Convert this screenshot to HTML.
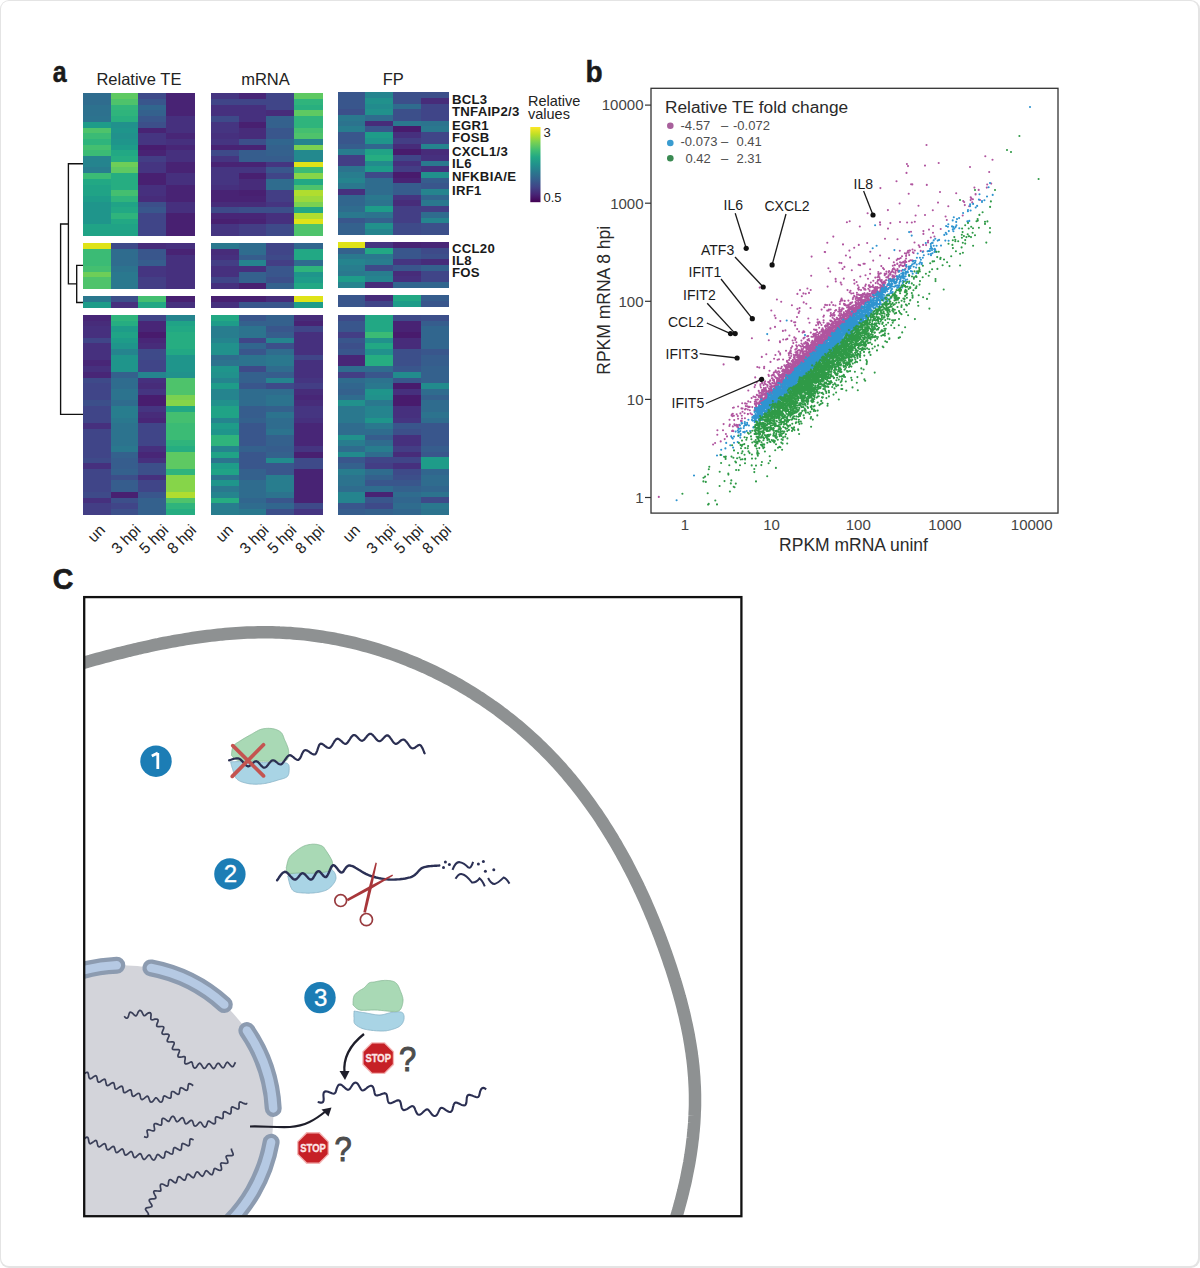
<!DOCTYPE html><html><head><meta charset="utf-8"><style>html,body{margin:0;padding:0;background:#fff;}svg{display:block;}text{font-family:"Liberation Sans",sans-serif;}</style></head><body>
<svg width="1200" height="1268" viewBox="0 0 1200 1268">
<rect x="0" y="0" width="1200" height="1268" fill="#fff"/>
<rect x="0" y="0" width="1200" height="1268" rx="9" ry="9" fill="#e4e4e4"/>
<rect x="1" y="0.9" width="1197" height="1265.1" rx="8" ry="8" fill="#fff"/>
<g shape-rendering="crispEdges"><rect x="83.20" y="93.40" width="27.70" height="6.00" fill="#2f6c8e"/><rect x="83.20" y="99.10" width="27.70" height="6.00" fill="#2f6c8e"/><rect x="83.20" y="104.79" width="27.70" height="6.00" fill="#2d718e"/><rect x="83.20" y="110.49" width="27.70" height="6.00" fill="#2d718e"/><rect x="83.20" y="116.18" width="27.70" height="6.00" fill="#2c738e"/><rect x="83.20" y="121.88" width="27.70" height="6.00" fill="#1e9c89"/><rect x="83.20" y="127.58" width="27.70" height="6.00" fill="#4ec36b"/><rect x="83.20" y="133.27" width="27.70" height="6.00" fill="#3bbb75"/><rect x="83.20" y="138.97" width="27.70" height="6.00" fill="#2fb47c"/><rect x="83.20" y="144.66" width="27.70" height="6.00" fill="#44bf70"/><rect x="83.20" y="150.36" width="27.70" height="6.00" fill="#3bbb75"/><rect x="83.20" y="156.06" width="27.70" height="6.00" fill="#25848e"/><rect x="83.20" y="161.75" width="27.70" height="6.00" fill="#25848e"/><rect x="83.20" y="167.45" width="27.70" height="6.00" fill="#287d8e"/><rect x="83.20" y="173.14" width="27.70" height="6.00" fill="#3bbb75"/><rect x="83.20" y="178.84" width="27.70" height="6.00" fill="#22a884"/><rect x="83.20" y="184.54" width="27.70" height="6.00" fill="#20a386"/><rect x="83.20" y="190.23" width="27.70" height="6.00" fill="#20a386"/><rect x="83.20" y="195.93" width="27.70" height="6.00" fill="#1e9c89"/><rect x="83.20" y="201.62" width="27.70" height="6.00" fill="#1f958b"/><rect x="83.20" y="207.32" width="27.70" height="6.00" fill="#1f958b"/><rect x="83.20" y="213.02" width="27.70" height="6.00" fill="#1f958b"/><rect x="83.20" y="218.71" width="27.70" height="6.00" fill="#1f958b"/><rect x="83.20" y="224.41" width="27.70" height="6.00" fill="#20a386"/><rect x="83.20" y="230.10" width="27.70" height="5.70" fill="#20a386"/><rect x="110.60" y="93.40" width="27.80" height="6.00" fill="#5ec962"/><rect x="110.60" y="99.10" width="27.80" height="6.00" fill="#4ec36b"/><rect x="110.60" y="104.79" width="27.80" height="6.00" fill="#32b67a"/><rect x="110.60" y="110.49" width="27.80" height="6.00" fill="#2fb47c"/><rect x="110.60" y="116.18" width="27.80" height="6.00" fill="#29af7f"/><rect x="110.60" y="121.88" width="27.80" height="6.00" fill="#21918c"/><rect x="110.60" y="127.58" width="27.80" height="6.00" fill="#1f958b"/><rect x="110.60" y="133.27" width="27.80" height="6.00" fill="#21918c"/><rect x="110.60" y="138.97" width="27.80" height="6.00" fill="#1f958b"/><rect x="110.60" y="144.66" width="27.80" height="6.00" fill="#1e9c89"/><rect x="110.60" y="150.36" width="27.80" height="6.00" fill="#22a884"/><rect x="110.60" y="156.06" width="27.80" height="6.00" fill="#26ad81"/><rect x="110.60" y="161.75" width="27.80" height="6.00" fill="#6ece58"/><rect x="110.60" y="167.45" width="27.80" height="6.00" fill="#5ec962"/><rect x="110.60" y="173.14" width="27.80" height="6.00" fill="#26ad81"/><rect x="110.60" y="178.84" width="27.80" height="6.00" fill="#26ad81"/><rect x="110.60" y="184.54" width="27.80" height="6.00" fill="#26ad81"/><rect x="110.60" y="190.23" width="27.80" height="6.00" fill="#44bf70"/><rect x="110.60" y="195.93" width="27.80" height="6.00" fill="#2fb47c"/><rect x="110.60" y="201.62" width="27.80" height="6.00" fill="#20a386"/><rect x="110.60" y="207.32" width="27.80" height="6.00" fill="#22a884"/><rect x="110.60" y="213.02" width="27.80" height="6.00" fill="#2fb47c"/><rect x="110.60" y="218.71" width="27.80" height="6.00" fill="#22a884"/><rect x="110.60" y="224.41" width="27.80" height="6.00" fill="#20a386"/><rect x="110.60" y="230.10" width="27.80" height="5.70" fill="#20a386"/><rect x="138.10" y="93.40" width="28.20" height="6.00" fill="#3e4a89"/><rect x="138.10" y="99.10" width="28.20" height="6.00" fill="#39568c"/><rect x="138.10" y="104.79" width="28.20" height="6.00" fill="#31668e"/><rect x="138.10" y="110.49" width="28.20" height="6.00" fill="#34618d"/><rect x="138.10" y="116.18" width="28.20" height="6.00" fill="#39568c"/><rect x="138.10" y="121.88" width="28.20" height="6.00" fill="#3c4f8a"/><rect x="138.10" y="127.58" width="28.20" height="6.00" fill="#482374"/><rect x="138.10" y="133.27" width="28.20" height="6.00" fill="#453581"/><rect x="138.10" y="138.97" width="28.20" height="6.00" fill="#453581"/><rect x="138.10" y="144.66" width="28.20" height="6.00" fill="#481d6f"/><rect x="138.10" y="150.36" width="28.20" height="6.00" fill="#482374"/><rect x="138.10" y="156.06" width="28.20" height="6.00" fill="#433e85"/><rect x="138.10" y="161.75" width="28.20" height="6.00" fill="#453581"/><rect x="138.10" y="167.45" width="28.20" height="6.00" fill="#453581"/><rect x="138.10" y="173.14" width="28.20" height="6.00" fill="#482071"/><rect x="138.10" y="178.84" width="28.20" height="6.00" fill="#482071"/><rect x="138.10" y="184.54" width="28.20" height="6.00" fill="#46307e"/><rect x="138.10" y="190.23" width="28.20" height="6.00" fill="#46307e"/><rect x="138.10" y="195.93" width="28.20" height="6.00" fill="#472c7a"/><rect x="138.10" y="201.62" width="28.20" height="6.00" fill="#3c4f8a"/><rect x="138.10" y="207.32" width="28.20" height="6.00" fill="#39568c"/><rect x="138.10" y="213.02" width="28.20" height="6.00" fill="#404588"/><rect x="138.10" y="218.71" width="28.20" height="6.00" fill="#404588"/><rect x="138.10" y="224.41" width="28.20" height="6.00" fill="#404588"/><rect x="138.10" y="230.10" width="28.20" height="5.70" fill="#404588"/><rect x="166.00" y="93.40" width="28.60" height="6.00" fill="#482374"/><rect x="166.00" y="99.10" width="28.60" height="6.00" fill="#482374"/><rect x="166.00" y="104.79" width="28.60" height="6.00" fill="#482374"/><rect x="166.00" y="110.49" width="28.60" height="6.00" fill="#482374"/><rect x="166.00" y="116.18" width="28.60" height="6.00" fill="#46307e"/><rect x="166.00" y="121.88" width="28.60" height="6.00" fill="#46307e"/><rect x="166.00" y="127.58" width="28.60" height="6.00" fill="#46307e"/><rect x="166.00" y="133.27" width="28.60" height="6.00" fill="#482677"/><rect x="166.00" y="138.97" width="28.60" height="6.00" fill="#46307e"/><rect x="166.00" y="144.66" width="28.60" height="6.00" fill="#482677"/><rect x="166.00" y="150.36" width="28.60" height="6.00" fill="#46307e"/><rect x="166.00" y="156.06" width="28.60" height="6.00" fill="#46307e"/><rect x="166.00" y="161.75" width="28.60" height="6.00" fill="#482374"/><rect x="166.00" y="167.45" width="28.60" height="6.00" fill="#482374"/><rect x="166.00" y="173.14" width="28.60" height="6.00" fill="#46307e"/><rect x="166.00" y="178.84" width="28.60" height="6.00" fill="#46307e"/><rect x="166.00" y="184.54" width="28.60" height="6.00" fill="#482374"/><rect x="166.00" y="190.23" width="28.60" height="6.00" fill="#482374"/><rect x="166.00" y="195.93" width="28.60" height="6.00" fill="#482374"/><rect x="166.00" y="201.62" width="28.60" height="6.00" fill="#46307e"/><rect x="166.00" y="207.32" width="28.60" height="6.00" fill="#46307e"/><rect x="166.00" y="213.02" width="28.60" height="6.00" fill="#482071"/><rect x="166.00" y="218.71" width="28.60" height="6.00" fill="#482071"/><rect x="166.00" y="224.41" width="28.60" height="6.00" fill="#482071"/><rect x="166.00" y="230.10" width="28.60" height="5.70" fill="#482071"/><rect x="83.20" y="243.20" width="27.70" height="6.00" fill="#dfe318"/><rect x="83.20" y="248.90" width="27.70" height="6.00" fill="#3bbb75"/><rect x="83.20" y="254.60" width="27.70" height="6.00" fill="#3bbb75"/><rect x="83.20" y="260.30" width="27.70" height="6.00" fill="#3bbb75"/><rect x="83.20" y="266.00" width="27.70" height="6.00" fill="#44bf70"/><rect x="83.20" y="271.70" width="27.70" height="6.00" fill="#6ece58"/><rect x="83.20" y="277.40" width="27.70" height="6.00" fill="#4ec36b"/><rect x="83.20" y="283.10" width="27.70" height="5.70" fill="#4ec36b"/><rect x="110.60" y="243.20" width="27.80" height="6.00" fill="#3e4a89"/><rect x="110.60" y="248.90" width="27.80" height="6.00" fill="#2f6c8e"/><rect x="110.60" y="254.60" width="27.80" height="6.00" fill="#2f6c8e"/><rect x="110.60" y="260.30" width="27.80" height="6.00" fill="#2f6c8e"/><rect x="110.60" y="266.00" width="27.80" height="6.00" fill="#2c738e"/><rect x="110.60" y="271.70" width="27.80" height="6.00" fill="#2a788e"/><rect x="110.60" y="277.40" width="27.80" height="6.00" fill="#2a788e"/><rect x="110.60" y="283.10" width="27.80" height="5.70" fill="#2a788e"/><rect x="138.10" y="243.20" width="28.20" height="6.00" fill="#472c7a"/><rect x="138.10" y="248.90" width="28.20" height="6.00" fill="#39568c"/><rect x="138.10" y="254.60" width="28.20" height="6.00" fill="#39568c"/><rect x="138.10" y="260.30" width="28.20" height="6.00" fill="#365d8d"/><rect x="138.10" y="266.00" width="28.20" height="6.00" fill="#453581"/><rect x="138.10" y="271.70" width="28.20" height="6.00" fill="#453581"/><rect x="138.10" y="277.40" width="28.20" height="6.00" fill="#433e85"/><rect x="138.10" y="283.10" width="28.20" height="5.70" fill="#433e85"/><rect x="166.00" y="243.20" width="28.60" height="6.00" fill="#46307e"/><rect x="166.00" y="248.90" width="28.60" height="6.00" fill="#482374"/><rect x="166.00" y="254.60" width="28.60" height="6.00" fill="#46307e"/><rect x="166.00" y="260.30" width="28.60" height="6.00" fill="#46307e"/><rect x="166.00" y="266.00" width="28.60" height="6.00" fill="#46307e"/><rect x="166.00" y="271.70" width="28.60" height="6.00" fill="#46307e"/><rect x="166.00" y="277.40" width="28.60" height="6.00" fill="#46307e"/><rect x="166.00" y="283.10" width="28.60" height="5.70" fill="#46307e"/><rect x="83.20" y="296.00" width="27.70" height="6.05" fill="#2a788e"/><rect x="83.20" y="301.75" width="27.70" height="5.75" fill="#1e9c89"/><rect x="110.60" y="296.00" width="27.80" height="6.05" fill="#3c4f8a"/><rect x="110.60" y="301.75" width="27.80" height="5.75" fill="#46307e"/><rect x="138.10" y="296.00" width="28.20" height="6.05" fill="#44bf70"/><rect x="138.10" y="301.75" width="28.20" height="5.75" fill="#22a884"/><rect x="166.00" y="296.00" width="28.60" height="6.05" fill="#482071"/><rect x="166.00" y="301.75" width="28.60" height="5.75" fill="#46307e"/><rect x="83.20" y="314.80" width="27.70" height="6.01" fill="#482677"/><rect x="83.20" y="320.51" width="27.70" height="6.01" fill="#472c7a"/><rect x="83.20" y="326.22" width="27.70" height="6.01" fill="#46307e"/><rect x="83.20" y="331.93" width="27.70" height="6.01" fill="#46307e"/><rect x="83.20" y="337.65" width="27.70" height="6.01" fill="#404588"/><rect x="83.20" y="343.36" width="27.70" height="6.01" fill="#46307e"/><rect x="83.20" y="349.07" width="27.70" height="6.01" fill="#46307e"/><rect x="83.20" y="354.78" width="27.70" height="6.01" fill="#46307e"/><rect x="83.20" y="360.49" width="27.70" height="6.01" fill="#482677"/><rect x="83.20" y="366.20" width="27.70" height="6.01" fill="#46307e"/><rect x="83.20" y="371.91" width="27.70" height="6.01" fill="#482677"/><rect x="83.20" y="377.63" width="27.70" height="6.01" fill="#3e4a89"/><rect x="83.20" y="383.34" width="27.70" height="6.01" fill="#404588"/><rect x="83.20" y="389.05" width="27.70" height="6.01" fill="#404588"/><rect x="83.20" y="394.76" width="27.70" height="6.01" fill="#404588"/><rect x="83.20" y="400.47" width="27.70" height="6.01" fill="#3c4f8a"/><rect x="83.20" y="406.18" width="27.70" height="6.01" fill="#404588"/><rect x="83.20" y="411.89" width="27.70" height="6.01" fill="#404588"/><rect x="83.20" y="417.61" width="27.70" height="6.01" fill="#404588"/><rect x="83.20" y="423.32" width="27.70" height="6.01" fill="#46307e"/><rect x="83.20" y="429.03" width="27.70" height="6.01" fill="#404588"/><rect x="83.20" y="434.74" width="27.70" height="6.01" fill="#404588"/><rect x="83.20" y="440.45" width="27.70" height="6.01" fill="#404588"/><rect x="83.20" y="446.16" width="27.70" height="6.01" fill="#404588"/><rect x="83.20" y="451.87" width="27.70" height="6.01" fill="#404588"/><rect x="83.20" y="457.59" width="27.70" height="6.01" fill="#3e4a89"/><rect x="83.20" y="463.30" width="27.70" height="6.01" fill="#46307e"/><rect x="83.20" y="469.01" width="27.70" height="6.01" fill="#404588"/><rect x="83.20" y="474.72" width="27.70" height="6.01" fill="#404588"/><rect x="83.20" y="480.43" width="27.70" height="6.01" fill="#404588"/><rect x="83.20" y="486.14" width="27.70" height="6.01" fill="#404588"/><rect x="83.20" y="491.85" width="27.70" height="6.01" fill="#3e4a89"/><rect x="83.20" y="497.57" width="27.70" height="6.01" fill="#46307e"/><rect x="83.20" y="503.28" width="27.70" height="6.01" fill="#433e85"/><rect x="83.20" y="508.99" width="27.70" height="5.71" fill="#433e85"/><rect x="110.60" y="314.80" width="27.80" height="6.01" fill="#2fb47c"/><rect x="110.60" y="320.51" width="27.80" height="6.01" fill="#26ad81"/><rect x="110.60" y="326.22" width="27.80" height="6.01" fill="#1e9c89"/><rect x="110.60" y="331.93" width="27.80" height="6.01" fill="#20a386"/><rect x="110.60" y="337.65" width="27.80" height="6.01" fill="#1e9c89"/><rect x="110.60" y="343.36" width="27.80" height="6.01" fill="#1f958b"/><rect x="110.60" y="349.07" width="27.80" height="6.01" fill="#25848e"/><rect x="110.60" y="354.78" width="27.80" height="6.01" fill="#1f958b"/><rect x="110.60" y="360.49" width="27.80" height="6.01" fill="#1f958b"/><rect x="110.60" y="366.20" width="27.80" height="6.01" fill="#1f958b"/><rect x="110.60" y="371.91" width="27.80" height="6.01" fill="#34618d"/><rect x="110.60" y="377.63" width="27.80" height="6.01" fill="#2f6c8e"/><rect x="110.60" y="383.34" width="27.80" height="6.01" fill="#2f6c8e"/><rect x="110.60" y="389.05" width="27.80" height="6.01" fill="#2c738e"/><rect x="110.60" y="394.76" width="27.80" height="6.01" fill="#2c738e"/><rect x="110.60" y="400.47" width="27.80" height="6.01" fill="#2f6c8e"/><rect x="110.60" y="406.18" width="27.80" height="6.01" fill="#287d8e"/><rect x="110.60" y="411.89" width="27.80" height="6.01" fill="#287d8e"/><rect x="110.60" y="417.61" width="27.80" height="6.01" fill="#2a788e"/><rect x="110.60" y="423.32" width="27.80" height="6.01" fill="#2c738e"/><rect x="110.60" y="429.03" width="27.80" height="6.01" fill="#2c738e"/><rect x="110.60" y="434.74" width="27.80" height="6.01" fill="#2c738e"/><rect x="110.60" y="440.45" width="27.80" height="6.01" fill="#2c738e"/><rect x="110.60" y="446.16" width="27.80" height="6.01" fill="#2a788e"/><rect x="110.60" y="451.87" width="27.80" height="6.01" fill="#34618d"/><rect x="110.60" y="457.59" width="27.80" height="6.01" fill="#365d8d"/><rect x="110.60" y="463.30" width="27.80" height="6.01" fill="#365d8d"/><rect x="110.60" y="469.01" width="27.80" height="6.01" fill="#34618d"/><rect x="110.60" y="474.72" width="27.80" height="6.01" fill="#3c4f8a"/><rect x="110.60" y="480.43" width="27.80" height="6.01" fill="#365d8d"/><rect x="110.60" y="486.14" width="27.80" height="6.01" fill="#365d8d"/><rect x="110.60" y="491.85" width="27.80" height="6.01" fill="#482071"/><rect x="110.60" y="497.57" width="27.80" height="6.01" fill="#3c4f8a"/><rect x="110.60" y="503.28" width="27.80" height="6.01" fill="#404588"/><rect x="110.60" y="508.99" width="27.80" height="5.71" fill="#3c4f8a"/><rect x="138.10" y="314.80" width="28.20" height="6.01" fill="#404588"/><rect x="138.10" y="320.51" width="28.20" height="6.01" fill="#482677"/><rect x="138.10" y="326.22" width="28.20" height="6.01" fill="#482677"/><rect x="138.10" y="331.93" width="28.20" height="6.01" fill="#481b6d"/><rect x="138.10" y="337.65" width="28.20" height="6.01" fill="#482677"/><rect x="138.10" y="343.36" width="28.20" height="6.01" fill="#472c7a"/><rect x="138.10" y="349.07" width="28.20" height="6.01" fill="#3e4a89"/><rect x="138.10" y="354.78" width="28.20" height="6.01" fill="#3e4a89"/><rect x="138.10" y="360.49" width="28.20" height="6.01" fill="#404588"/><rect x="138.10" y="366.20" width="28.20" height="6.01" fill="#404588"/><rect x="138.10" y="371.91" width="28.20" height="6.01" fill="#25848e"/><rect x="138.10" y="377.63" width="28.20" height="6.01" fill="#46307e"/><rect x="138.10" y="383.34" width="28.20" height="6.01" fill="#472c7a"/><rect x="138.10" y="389.05" width="28.20" height="6.01" fill="#453581"/><rect x="138.10" y="394.76" width="28.20" height="6.01" fill="#481d6f"/><rect x="138.10" y="400.47" width="28.20" height="6.01" fill="#481d6f"/><rect x="138.10" y="406.18" width="28.20" height="6.01" fill="#453581"/><rect x="138.10" y="411.89" width="28.20" height="6.01" fill="#472c7a"/><rect x="138.10" y="417.61" width="28.20" height="6.01" fill="#482677"/><rect x="138.10" y="423.32" width="28.20" height="6.01" fill="#404588"/><rect x="138.10" y="429.03" width="28.20" height="6.01" fill="#404588"/><rect x="138.10" y="434.74" width="28.20" height="6.01" fill="#404588"/><rect x="138.10" y="440.45" width="28.20" height="6.01" fill="#404588"/><rect x="138.10" y="446.16" width="28.20" height="6.01" fill="#46307e"/><rect x="138.10" y="451.87" width="28.20" height="6.01" fill="#482677"/><rect x="138.10" y="457.59" width="28.20" height="6.01" fill="#46307e"/><rect x="138.10" y="463.30" width="28.20" height="6.01" fill="#3c4f8a"/><rect x="138.10" y="469.01" width="28.20" height="6.01" fill="#3c4f8a"/><rect x="138.10" y="474.72" width="28.20" height="6.01" fill="#46307e"/><rect x="138.10" y="480.43" width="28.20" height="6.01" fill="#404588"/><rect x="138.10" y="486.14" width="28.20" height="6.01" fill="#404588"/><rect x="138.10" y="491.85" width="28.20" height="6.01" fill="#39568c"/><rect x="138.10" y="497.57" width="28.20" height="6.01" fill="#34618d"/><rect x="138.10" y="503.28" width="28.20" height="6.01" fill="#34618d"/><rect x="138.10" y="508.99" width="28.20" height="5.71" fill="#34618d"/><rect x="166.00" y="314.80" width="28.60" height="6.01" fill="#25848e"/><rect x="166.00" y="320.51" width="28.60" height="6.01" fill="#20a386"/><rect x="166.00" y="326.22" width="28.60" height="6.01" fill="#22a884"/><rect x="166.00" y="331.93" width="28.60" height="6.01" fill="#26ad81"/><rect x="166.00" y="337.65" width="28.60" height="6.01" fill="#26ad81"/><rect x="166.00" y="343.36" width="28.60" height="6.01" fill="#26ad81"/><rect x="166.00" y="349.07" width="28.60" height="6.01" fill="#22a884"/><rect x="166.00" y="354.78" width="28.60" height="6.01" fill="#1f958b"/><rect x="166.00" y="360.49" width="28.60" height="6.01" fill="#1f958b"/><rect x="166.00" y="366.20" width="28.60" height="6.01" fill="#1f958b"/><rect x="166.00" y="371.91" width="28.60" height="6.01" fill="#21918c"/><rect x="166.00" y="377.63" width="28.60" height="6.01" fill="#4ec36b"/><rect x="166.00" y="383.34" width="28.60" height="6.01" fill="#4ec36b"/><rect x="166.00" y="389.05" width="28.60" height="6.01" fill="#4ec36b"/><rect x="166.00" y="394.76" width="28.60" height="6.01" fill="#7ad151"/><rect x="166.00" y="400.47" width="28.60" height="6.01" fill="#86d549"/><rect x="166.00" y="406.18" width="28.60" height="6.01" fill="#22a884"/><rect x="166.00" y="411.89" width="28.60" height="6.01" fill="#44bf70"/><rect x="166.00" y="417.61" width="28.60" height="6.01" fill="#44bf70"/><rect x="166.00" y="423.32" width="28.60" height="6.01" fill="#3bbb75"/><rect x="166.00" y="429.03" width="28.60" height="6.01" fill="#3bbb75"/><rect x="166.00" y="434.74" width="28.60" height="6.01" fill="#3bbb75"/><rect x="166.00" y="440.45" width="28.60" height="6.01" fill="#2fb47c"/><rect x="166.00" y="446.16" width="28.60" height="6.01" fill="#26ad81"/><rect x="166.00" y="451.87" width="28.60" height="6.01" fill="#5ec962"/><rect x="166.00" y="457.59" width="28.60" height="6.01" fill="#5ec962"/><rect x="166.00" y="463.30" width="28.60" height="6.01" fill="#5ec962"/><rect x="166.00" y="469.01" width="28.60" height="6.01" fill="#2fb47c"/><rect x="166.00" y="474.72" width="28.60" height="6.01" fill="#86d549"/><rect x="166.00" y="480.43" width="28.60" height="6.01" fill="#86d549"/><rect x="166.00" y="486.14" width="28.60" height="6.01" fill="#86d549"/><rect x="166.00" y="491.85" width="28.60" height="6.01" fill="#b0dd2f"/><rect x="166.00" y="497.57" width="28.60" height="6.01" fill="#4ec36b"/><rect x="166.00" y="503.28" width="28.60" height="6.01" fill="#2fb47c"/><rect x="166.00" y="508.99" width="28.60" height="5.71" fill="#26ad81"/><rect x="211.30" y="93.40" width="27.80" height="6.00" fill="#453581"/><rect x="211.30" y="99.10" width="27.80" height="6.00" fill="#404588"/><rect x="211.30" y="104.79" width="27.80" height="6.00" fill="#46307e"/><rect x="211.30" y="110.49" width="27.80" height="6.00" fill="#46307e"/><rect x="211.30" y="116.18" width="27.80" height="6.00" fill="#3e4a89"/><rect x="211.30" y="121.88" width="27.80" height="6.00" fill="#453581"/><rect x="211.30" y="127.58" width="27.80" height="6.00" fill="#453581"/><rect x="211.30" y="133.27" width="27.80" height="6.00" fill="#46307e"/><rect x="211.30" y="138.97" width="27.80" height="6.00" fill="#453581"/><rect x="211.30" y="144.66" width="27.80" height="6.00" fill="#482374"/><rect x="211.30" y="150.36" width="27.80" height="6.00" fill="#3e4a89"/><rect x="211.30" y="156.06" width="27.80" height="6.00" fill="#453581"/><rect x="211.30" y="161.75" width="27.80" height="6.00" fill="#482374"/><rect x="211.30" y="167.45" width="27.80" height="6.00" fill="#453581"/><rect x="211.30" y="173.14" width="27.80" height="6.00" fill="#453581"/><rect x="211.30" y="178.84" width="27.80" height="6.00" fill="#453581"/><rect x="211.30" y="184.54" width="27.80" height="6.00" fill="#46307e"/><rect x="211.30" y="190.23" width="27.80" height="6.00" fill="#482374"/><rect x="211.30" y="195.93" width="27.80" height="6.00" fill="#482374"/><rect x="211.30" y="201.62" width="27.80" height="6.00" fill="#472c7a"/><rect x="211.30" y="207.32" width="27.80" height="6.00" fill="#3e4a89"/><rect x="211.30" y="213.02" width="27.80" height="6.00" fill="#482677"/><rect x="211.30" y="218.71" width="27.80" height="6.00" fill="#482071"/><rect x="211.30" y="224.41" width="27.80" height="6.00" fill="#453581"/><rect x="211.30" y="230.10" width="27.80" height="5.70" fill="#453581"/><rect x="238.80" y="93.40" width="27.40" height="6.00" fill="#482677"/><rect x="238.80" y="99.10" width="27.40" height="6.00" fill="#404588"/><rect x="238.80" y="104.79" width="27.40" height="6.00" fill="#46307e"/><rect x="238.80" y="110.49" width="27.40" height="6.00" fill="#46307e"/><rect x="238.80" y="116.18" width="27.40" height="6.00" fill="#46307e"/><rect x="238.80" y="121.88" width="27.40" height="6.00" fill="#482071"/><rect x="238.80" y="127.58" width="27.40" height="6.00" fill="#472c7a"/><rect x="238.80" y="133.27" width="27.40" height="6.00" fill="#472c7a"/><rect x="238.80" y="138.97" width="27.40" height="6.00" fill="#3c4f8a"/><rect x="238.80" y="144.66" width="27.40" height="6.00" fill="#482374"/><rect x="238.80" y="150.36" width="27.40" height="6.00" fill="#365d8d"/><rect x="238.80" y="156.06" width="27.40" height="6.00" fill="#365d8d"/><rect x="238.80" y="161.75" width="27.40" height="6.00" fill="#482374"/><rect x="238.80" y="167.45" width="27.40" height="6.00" fill="#453581"/><rect x="238.80" y="173.14" width="27.40" height="6.00" fill="#482071"/><rect x="238.80" y="178.84" width="27.40" height="6.00" fill="#472c7a"/><rect x="238.80" y="184.54" width="27.40" height="6.00" fill="#472c7a"/><rect x="238.80" y="190.23" width="27.40" height="6.00" fill="#482071"/><rect x="238.80" y="195.93" width="27.40" height="6.00" fill="#482374"/><rect x="238.80" y="201.62" width="27.40" height="6.00" fill="#472c7a"/><rect x="238.80" y="207.32" width="27.40" height="6.00" fill="#3c4f8a"/><rect x="238.80" y="213.02" width="27.40" height="6.00" fill="#482677"/><rect x="238.80" y="218.71" width="27.40" height="6.00" fill="#482374"/><rect x="238.80" y="224.41" width="27.40" height="6.00" fill="#433e85"/><rect x="238.80" y="230.10" width="27.40" height="5.70" fill="#433e85"/><rect x="265.90" y="93.40" width="28.40" height="6.00" fill="#404588"/><rect x="265.90" y="99.10" width="28.40" height="6.00" fill="#404588"/><rect x="265.90" y="104.79" width="28.40" height="6.00" fill="#404588"/><rect x="265.90" y="110.49" width="28.40" height="6.00" fill="#472c7a"/><rect x="265.90" y="116.18" width="28.40" height="6.00" fill="#34618d"/><rect x="265.90" y="121.88" width="28.40" height="6.00" fill="#34618d"/><rect x="265.90" y="127.58" width="28.40" height="6.00" fill="#39568c"/><rect x="265.90" y="133.27" width="28.40" height="6.00" fill="#39568c"/><rect x="265.90" y="138.97" width="28.40" height="6.00" fill="#31668e"/><rect x="265.90" y="144.66" width="28.40" height="6.00" fill="#34618d"/><rect x="265.90" y="150.36" width="28.40" height="6.00" fill="#34618d"/><rect x="265.90" y="156.06" width="28.40" height="6.00" fill="#365d8d"/><rect x="265.90" y="161.75" width="28.40" height="6.00" fill="#453581"/><rect x="265.90" y="167.45" width="28.40" height="6.00" fill="#39568c"/><rect x="265.90" y="173.14" width="28.40" height="6.00" fill="#404588"/><rect x="265.90" y="178.84" width="28.40" height="6.00" fill="#2f6c8e"/><rect x="265.90" y="184.54" width="28.40" height="6.00" fill="#2f6c8e"/><rect x="265.90" y="190.23" width="28.40" height="6.00" fill="#433e85"/><rect x="265.90" y="195.93" width="28.40" height="6.00" fill="#433e85"/><rect x="265.90" y="201.62" width="28.40" height="6.00" fill="#453581"/><rect x="265.90" y="207.32" width="28.40" height="6.00" fill="#3c4f8a"/><rect x="265.90" y="213.02" width="28.40" height="6.00" fill="#46307e"/><rect x="265.90" y="218.71" width="28.40" height="6.00" fill="#46307e"/><rect x="265.90" y="224.41" width="28.40" height="6.00" fill="#3e4a89"/><rect x="265.90" y="230.10" width="28.40" height="5.70" fill="#3e4a89"/><rect x="294.00" y="93.40" width="28.60" height="6.00" fill="#5ec962"/><rect x="294.00" y="99.10" width="28.60" height="6.00" fill="#2fb47c"/><rect x="294.00" y="104.79" width="28.60" height="6.00" fill="#29af7f"/><rect x="294.00" y="110.49" width="28.60" height="6.00" fill="#5ec962"/><rect x="294.00" y="116.18" width="28.60" height="6.00" fill="#2fb47c"/><rect x="294.00" y="121.88" width="28.60" height="6.00" fill="#2fb47c"/><rect x="294.00" y="127.58" width="28.60" height="6.00" fill="#44bf70"/><rect x="294.00" y="133.27" width="28.60" height="6.00" fill="#4ec36b"/><rect x="294.00" y="138.97" width="28.60" height="6.00" fill="#25848e"/><rect x="294.00" y="144.66" width="28.60" height="6.00" fill="#7ad151"/><rect x="294.00" y="150.36" width="28.60" height="6.00" fill="#23898e"/><rect x="294.00" y="156.06" width="28.60" height="6.00" fill="#23898e"/><rect x="294.00" y="161.75" width="28.60" height="6.00" fill="#dfe318"/><rect x="294.00" y="167.45" width="28.60" height="6.00" fill="#3bbb75"/><rect x="294.00" y="173.14" width="28.60" height="6.00" fill="#86d549"/><rect x="294.00" y="178.84" width="28.60" height="6.00" fill="#22a884"/><rect x="294.00" y="184.54" width="28.60" height="6.00" fill="#4ec36b"/><rect x="294.00" y="190.23" width="28.60" height="6.00" fill="#b0dd2f"/><rect x="294.00" y="195.93" width="28.60" height="6.00" fill="#9bd93c"/><rect x="294.00" y="201.62" width="28.60" height="6.00" fill="#7ad151"/><rect x="294.00" y="207.32" width="28.60" height="6.00" fill="#22a884"/><rect x="294.00" y="213.02" width="28.60" height="6.00" fill="#b0dd2f"/><rect x="294.00" y="218.71" width="28.60" height="6.00" fill="#dfe318"/><rect x="294.00" y="224.41" width="28.60" height="6.00" fill="#4ec36b"/><rect x="294.00" y="230.10" width="28.60" height="5.70" fill="#4ec36b"/><rect x="211.30" y="243.20" width="27.80" height="6.00" fill="#2a788e"/><rect x="211.30" y="248.90" width="27.80" height="6.00" fill="#472c7a"/><rect x="211.30" y="254.60" width="27.80" height="6.00" fill="#46307e"/><rect x="211.30" y="260.30" width="27.80" height="6.00" fill="#433e85"/><rect x="211.30" y="266.00" width="27.80" height="6.00" fill="#46307e"/><rect x="211.30" y="271.70" width="27.80" height="6.00" fill="#46307e"/><rect x="211.30" y="277.40" width="27.80" height="6.00" fill="#404588"/><rect x="211.30" y="283.10" width="27.80" height="5.70" fill="#46307e"/><rect x="238.80" y="243.20" width="27.40" height="6.00" fill="#2f6c8e"/><rect x="238.80" y="248.90" width="27.40" height="6.00" fill="#2f6c8e"/><rect x="238.80" y="254.60" width="27.40" height="6.00" fill="#365d8d"/><rect x="238.80" y="260.30" width="27.40" height="6.00" fill="#25848e"/><rect x="238.80" y="266.00" width="27.40" height="6.00" fill="#46307e"/><rect x="238.80" y="271.70" width="27.40" height="6.00" fill="#34618d"/><rect x="238.80" y="277.40" width="27.40" height="6.00" fill="#34618d"/><rect x="238.80" y="283.10" width="27.40" height="5.70" fill="#482071"/><rect x="265.90" y="243.20" width="28.40" height="6.00" fill="#404588"/><rect x="265.90" y="248.90" width="28.40" height="6.00" fill="#404588"/><rect x="265.90" y="254.60" width="28.40" height="6.00" fill="#3e4a89"/><rect x="265.90" y="260.30" width="28.40" height="6.00" fill="#433e85"/><rect x="265.90" y="266.00" width="28.40" height="6.00" fill="#39568c"/><rect x="265.90" y="271.70" width="28.40" height="6.00" fill="#39568c"/><rect x="265.90" y="277.40" width="28.40" height="6.00" fill="#3c4f8a"/><rect x="265.90" y="283.10" width="28.40" height="5.70" fill="#34618d"/><rect x="294.00" y="243.20" width="28.60" height="6.00" fill="#31668e"/><rect x="294.00" y="248.90" width="28.60" height="6.00" fill="#22a884"/><rect x="294.00" y="254.60" width="28.60" height="6.00" fill="#22a884"/><rect x="294.00" y="260.30" width="28.60" height="6.00" fill="#2f6c8e"/><rect x="294.00" y="266.00" width="28.60" height="6.00" fill="#2fb47c"/><rect x="294.00" y="271.70" width="28.60" height="6.00" fill="#1f958b"/><rect x="294.00" y="277.40" width="28.60" height="6.00" fill="#1e9c89"/><rect x="294.00" y="283.10" width="28.60" height="5.70" fill="#22a884"/><rect x="211.30" y="296.00" width="27.80" height="6.05" fill="#482071"/><rect x="211.30" y="301.75" width="27.80" height="5.75" fill="#46307e"/><rect x="238.80" y="296.00" width="27.40" height="6.05" fill="#482071"/><rect x="238.80" y="301.75" width="27.40" height="5.75" fill="#39568c"/><rect x="265.90" y="296.00" width="28.40" height="6.05" fill="#472c7a"/><rect x="265.90" y="301.75" width="28.40" height="5.75" fill="#39568c"/><rect x="294.00" y="296.00" width="28.60" height="6.05" fill="#dfe318"/><rect x="294.00" y="301.75" width="28.60" height="5.75" fill="#1e9c89"/><rect x="211.30" y="314.80" width="27.80" height="6.01" fill="#22a884"/><rect x="211.30" y="320.51" width="27.80" height="6.01" fill="#1e9c89"/><rect x="211.30" y="326.22" width="27.80" height="6.01" fill="#287d8e"/><rect x="211.30" y="331.93" width="27.80" height="6.01" fill="#287d8e"/><rect x="211.30" y="337.65" width="27.80" height="6.01" fill="#25848e"/><rect x="211.30" y="343.36" width="27.80" height="6.01" fill="#21918c"/><rect x="211.30" y="349.07" width="27.80" height="6.01" fill="#21918c"/><rect x="211.30" y="354.78" width="27.80" height="6.01" fill="#2f6c8e"/><rect x="211.30" y="360.49" width="27.80" height="6.01" fill="#2c738e"/><rect x="211.30" y="366.20" width="27.80" height="6.01" fill="#1f958b"/><rect x="211.30" y="371.91" width="27.80" height="6.01" fill="#21918c"/><rect x="211.30" y="377.63" width="27.80" height="6.01" fill="#25848e"/><rect x="211.30" y="383.34" width="27.80" height="6.01" fill="#1e9c89"/><rect x="211.30" y="389.05" width="27.80" height="6.01" fill="#25848e"/><rect x="211.30" y="394.76" width="27.80" height="6.01" fill="#25848e"/><rect x="211.30" y="400.47" width="27.80" height="6.01" fill="#21918c"/><rect x="211.30" y="406.18" width="27.80" height="6.01" fill="#20a386"/><rect x="211.30" y="411.89" width="27.80" height="6.01" fill="#20a386"/><rect x="211.30" y="417.61" width="27.80" height="6.01" fill="#25848e"/><rect x="211.30" y="423.32" width="27.80" height="6.01" fill="#1e9c89"/><rect x="211.30" y="429.03" width="27.80" height="6.01" fill="#1f958b"/><rect x="211.30" y="434.74" width="27.80" height="6.01" fill="#2fb47c"/><rect x="211.30" y="440.45" width="27.80" height="6.01" fill="#2fb47c"/><rect x="211.30" y="446.16" width="27.80" height="6.01" fill="#25848e"/><rect x="211.30" y="451.87" width="27.80" height="6.01" fill="#20a386"/><rect x="211.30" y="457.59" width="27.80" height="6.01" fill="#2c738e"/><rect x="211.30" y="463.30" width="27.80" height="6.01" fill="#1e9c89"/><rect x="211.30" y="469.01" width="27.80" height="6.01" fill="#20a386"/><rect x="211.30" y="474.72" width="27.80" height="6.01" fill="#2c738e"/><rect x="211.30" y="480.43" width="27.80" height="6.01" fill="#1f958b"/><rect x="211.30" y="486.14" width="27.80" height="6.01" fill="#2a788e"/><rect x="211.30" y="491.85" width="27.80" height="6.01" fill="#25848e"/><rect x="211.30" y="497.57" width="27.80" height="6.01" fill="#26ad81"/><rect x="211.30" y="503.28" width="27.80" height="6.01" fill="#287d8e"/><rect x="211.30" y="508.99" width="27.80" height="5.71" fill="#287d8e"/><rect x="238.80" y="314.80" width="27.40" height="6.01" fill="#39568c"/><rect x="238.80" y="320.51" width="27.40" height="6.01" fill="#34618d"/><rect x="238.80" y="326.22" width="27.40" height="6.01" fill="#2c738e"/><rect x="238.80" y="331.93" width="27.40" height="6.01" fill="#2c738e"/><rect x="238.80" y="337.65" width="27.40" height="6.01" fill="#404588"/><rect x="238.80" y="343.36" width="27.40" height="6.01" fill="#31668e"/><rect x="238.80" y="349.07" width="27.40" height="6.01" fill="#39568c"/><rect x="238.80" y="354.78" width="27.40" height="6.01" fill="#2c738e"/><rect x="238.80" y="360.49" width="27.40" height="6.01" fill="#2c738e"/><rect x="238.80" y="366.20" width="27.40" height="6.01" fill="#3e4a89"/><rect x="238.80" y="371.91" width="27.40" height="6.01" fill="#34618d"/><rect x="238.80" y="377.63" width="27.40" height="6.01" fill="#34618d"/><rect x="238.80" y="383.34" width="27.40" height="6.01" fill="#39568c"/><rect x="238.80" y="389.05" width="27.40" height="6.01" fill="#2f6c8e"/><rect x="238.80" y="394.76" width="27.40" height="6.01" fill="#2f6c8e"/><rect x="238.80" y="400.47" width="27.40" height="6.01" fill="#2f6c8e"/><rect x="238.80" y="406.18" width="27.40" height="6.01" fill="#365d8d"/><rect x="238.80" y="411.89" width="27.40" height="6.01" fill="#365d8d"/><rect x="238.80" y="417.61" width="27.40" height="6.01" fill="#34618d"/><rect x="238.80" y="423.32" width="27.40" height="6.01" fill="#39568c"/><rect x="238.80" y="429.03" width="27.40" height="6.01" fill="#39568c"/><rect x="238.80" y="434.74" width="27.40" height="6.01" fill="#39568c"/><rect x="238.80" y="440.45" width="27.40" height="6.01" fill="#39568c"/><rect x="238.80" y="446.16" width="27.40" height="6.01" fill="#34618d"/><rect x="238.80" y="451.87" width="27.40" height="6.01" fill="#39568c"/><rect x="238.80" y="457.59" width="27.40" height="6.01" fill="#39568c"/><rect x="238.80" y="463.30" width="27.40" height="6.01" fill="#39568c"/><rect x="238.80" y="469.01" width="27.40" height="6.01" fill="#34618d"/><rect x="238.80" y="474.72" width="27.40" height="6.01" fill="#34618d"/><rect x="238.80" y="480.43" width="27.40" height="6.01" fill="#2f6c8e"/><rect x="238.80" y="486.14" width="27.40" height="6.01" fill="#2f6c8e"/><rect x="238.80" y="491.85" width="27.40" height="6.01" fill="#2f6c8e"/><rect x="238.80" y="497.57" width="27.40" height="6.01" fill="#31668e"/><rect x="238.80" y="503.28" width="27.40" height="6.01" fill="#2f6c8e"/><rect x="238.80" y="508.99" width="27.40" height="5.71" fill="#2a788e"/><rect x="265.90" y="314.80" width="28.40" height="6.01" fill="#34618d"/><rect x="265.90" y="320.51" width="28.40" height="6.01" fill="#34618d"/><rect x="265.90" y="326.22" width="28.40" height="6.01" fill="#39568c"/><rect x="265.90" y="331.93" width="28.40" height="6.01" fill="#365d8d"/><rect x="265.90" y="337.65" width="28.40" height="6.01" fill="#25848e"/><rect x="265.90" y="343.36" width="28.40" height="6.01" fill="#3c4f8a"/><rect x="265.90" y="349.07" width="28.40" height="6.01" fill="#2f6c8e"/><rect x="265.90" y="354.78" width="28.40" height="6.01" fill="#2a788e"/><rect x="265.90" y="360.49" width="28.40" height="6.01" fill="#2a788e"/><rect x="265.90" y="366.20" width="28.40" height="6.01" fill="#2f6c8e"/><rect x="265.90" y="371.91" width="28.40" height="6.01" fill="#365d8d"/><rect x="265.90" y="377.63" width="28.40" height="6.01" fill="#25848e"/><rect x="265.90" y="383.34" width="28.40" height="6.01" fill="#3e4a89"/><rect x="265.90" y="389.05" width="28.40" height="6.01" fill="#2f6c8e"/><rect x="265.90" y="394.76" width="28.40" height="6.01" fill="#2c738e"/><rect x="265.90" y="400.47" width="28.40" height="6.01" fill="#2c738e"/><rect x="265.90" y="406.18" width="28.40" height="6.01" fill="#34618d"/><rect x="265.90" y="411.89" width="28.40" height="6.01" fill="#2c738e"/><rect x="265.90" y="417.61" width="28.40" height="6.01" fill="#2f6c8e"/><rect x="265.90" y="423.32" width="28.40" height="6.01" fill="#2f6c8e"/><rect x="265.90" y="429.03" width="28.40" height="6.01" fill="#2c738e"/><rect x="265.90" y="434.74" width="28.40" height="6.01" fill="#34618d"/><rect x="265.90" y="440.45" width="28.40" height="6.01" fill="#34618d"/><rect x="265.90" y="446.16" width="28.40" height="6.01" fill="#365d8d"/><rect x="265.90" y="451.87" width="28.40" height="6.01" fill="#34618d"/><rect x="265.90" y="457.59" width="28.40" height="6.01" fill="#228b8d"/><rect x="265.90" y="463.30" width="28.40" height="6.01" fill="#39568c"/><rect x="265.90" y="469.01" width="28.40" height="6.01" fill="#39568c"/><rect x="265.90" y="474.72" width="28.40" height="6.01" fill="#287d8e"/><rect x="265.90" y="480.43" width="28.40" height="6.01" fill="#287d8e"/><rect x="265.90" y="486.14" width="28.40" height="6.01" fill="#287d8e"/><rect x="265.90" y="491.85" width="28.40" height="6.01" fill="#2c738e"/><rect x="265.90" y="497.57" width="28.40" height="6.01" fill="#39568c"/><rect x="265.90" y="503.28" width="28.40" height="6.01" fill="#31668e"/><rect x="265.90" y="508.99" width="28.40" height="5.71" fill="#3c4f8a"/><rect x="294.00" y="314.80" width="28.60" height="6.01" fill="#472c7a"/><rect x="294.00" y="320.51" width="28.60" height="6.01" fill="#482374"/><rect x="294.00" y="326.22" width="28.60" height="6.01" fill="#404588"/><rect x="294.00" y="331.93" width="28.60" height="6.01" fill="#46307e"/><rect x="294.00" y="337.65" width="28.60" height="6.01" fill="#46307e"/><rect x="294.00" y="343.36" width="28.60" height="6.01" fill="#46307e"/><rect x="294.00" y="349.07" width="28.60" height="6.01" fill="#46307e"/><rect x="294.00" y="354.78" width="28.60" height="6.01" fill="#404588"/><rect x="294.00" y="360.49" width="28.60" height="6.01" fill="#46307e"/><rect x="294.00" y="366.20" width="28.60" height="6.01" fill="#46307e"/><rect x="294.00" y="371.91" width="28.60" height="6.01" fill="#46307e"/><rect x="294.00" y="377.63" width="28.60" height="6.01" fill="#453581"/><rect x="294.00" y="383.34" width="28.60" height="6.01" fill="#433e85"/><rect x="294.00" y="389.05" width="28.60" height="6.01" fill="#472c7a"/><rect x="294.00" y="394.76" width="28.60" height="6.01" fill="#482677"/><rect x="294.00" y="400.47" width="28.60" height="6.01" fill="#472c7a"/><rect x="294.00" y="406.18" width="28.60" height="6.01" fill="#453581"/><rect x="294.00" y="411.89" width="28.60" height="6.01" fill="#453581"/><rect x="294.00" y="417.61" width="28.60" height="6.01" fill="#46307e"/><rect x="294.00" y="423.32" width="28.60" height="6.01" fill="#482677"/><rect x="294.00" y="429.03" width="28.60" height="6.01" fill="#482677"/><rect x="294.00" y="434.74" width="28.60" height="6.01" fill="#482677"/><rect x="294.00" y="440.45" width="28.60" height="6.01" fill="#482677"/><rect x="294.00" y="446.16" width="28.60" height="6.01" fill="#453581"/><rect x="294.00" y="451.87" width="28.60" height="6.01" fill="#482071"/><rect x="294.00" y="457.59" width="28.60" height="6.01" fill="#3e4a89"/><rect x="294.00" y="463.30" width="28.60" height="6.01" fill="#3e4a89"/><rect x="294.00" y="469.01" width="28.60" height="6.01" fill="#482374"/><rect x="294.00" y="474.72" width="28.60" height="6.01" fill="#482374"/><rect x="294.00" y="480.43" width="28.60" height="6.01" fill="#482374"/><rect x="294.00" y="486.14" width="28.60" height="6.01" fill="#482374"/><rect x="294.00" y="491.85" width="28.60" height="6.01" fill="#482374"/><rect x="294.00" y="497.57" width="28.60" height="6.01" fill="#482374"/><rect x="294.00" y="503.28" width="28.60" height="6.01" fill="#3e4a89"/><rect x="294.00" y="508.99" width="28.60" height="5.71" fill="#453581"/><rect x="338.20" y="92.30" width="27.10" height="5.99" fill="#39568c"/><rect x="338.20" y="97.99" width="27.10" height="5.99" fill="#39568c"/><rect x="338.20" y="103.68" width="27.10" height="5.99" fill="#39568c"/><rect x="338.20" y="109.38" width="27.10" height="5.99" fill="#3c4f8a"/><rect x="338.20" y="115.07" width="27.10" height="5.99" fill="#2a788e"/><rect x="338.20" y="120.76" width="27.10" height="5.99" fill="#2c738e"/><rect x="338.20" y="126.45" width="27.10" height="5.99" fill="#287d8e"/><rect x="338.20" y="132.14" width="27.10" height="5.99" fill="#39568c"/><rect x="338.20" y="137.84" width="27.10" height="5.99" fill="#39568c"/><rect x="338.20" y="143.53" width="27.10" height="5.99" fill="#365d8d"/><rect x="338.20" y="149.22" width="27.10" height="5.99" fill="#287d8e"/><rect x="338.20" y="154.91" width="27.10" height="5.99" fill="#433e85"/><rect x="338.20" y="160.60" width="27.10" height="5.99" fill="#433e85"/><rect x="338.20" y="166.30" width="27.10" height="5.99" fill="#2c738e"/><rect x="338.20" y="171.99" width="27.10" height="5.99" fill="#287d8e"/><rect x="338.20" y="177.68" width="27.10" height="5.99" fill="#25848e"/><rect x="338.20" y="183.37" width="27.10" height="5.99" fill="#2a788e"/><rect x="338.20" y="189.06" width="27.10" height="5.99" fill="#46307e"/><rect x="338.20" y="194.76" width="27.10" height="5.99" fill="#31668e"/><rect x="338.20" y="200.45" width="27.10" height="5.99" fill="#31668e"/><rect x="338.20" y="206.14" width="27.10" height="5.99" fill="#2f6c8e"/><rect x="338.20" y="211.83" width="27.10" height="5.99" fill="#2a788e"/><rect x="338.20" y="217.52" width="27.10" height="5.99" fill="#39568c"/><rect x="338.20" y="223.22" width="27.10" height="5.99" fill="#34618d"/><rect x="338.20" y="228.91" width="27.10" height="5.69" fill="#34618d"/><rect x="365.00" y="92.30" width="28.30" height="5.99" fill="#25848e"/><rect x="365.00" y="97.99" width="28.30" height="5.99" fill="#21918c"/><rect x="365.00" y="103.68" width="28.30" height="5.99" fill="#228b8d"/><rect x="365.00" y="109.38" width="28.30" height="5.99" fill="#21918c"/><rect x="365.00" y="115.07" width="28.30" height="5.99" fill="#2f6c8e"/><rect x="365.00" y="120.76" width="28.30" height="5.99" fill="#472c7a"/><rect x="365.00" y="126.45" width="28.30" height="5.99" fill="#39568c"/><rect x="365.00" y="132.14" width="28.30" height="5.99" fill="#1e9c89"/><rect x="365.00" y="137.84" width="28.30" height="5.99" fill="#1f958b"/><rect x="365.00" y="143.53" width="28.30" height="5.99" fill="#31668e"/><rect x="365.00" y="149.22" width="28.30" height="5.99" fill="#20a386"/><rect x="365.00" y="154.91" width="28.30" height="5.99" fill="#26ad81"/><rect x="365.00" y="160.60" width="28.30" height="5.99" fill="#228b8d"/><rect x="365.00" y="166.30" width="28.30" height="5.99" fill="#1e9c89"/><rect x="365.00" y="171.99" width="28.30" height="5.99" fill="#3e4a89"/><rect x="365.00" y="177.68" width="28.30" height="5.99" fill="#2f6c8e"/><rect x="365.00" y="183.37" width="28.30" height="5.99" fill="#2f6c8e"/><rect x="365.00" y="189.06" width="28.30" height="5.99" fill="#2f6c8e"/><rect x="365.00" y="194.76" width="28.30" height="5.99" fill="#2a788e"/><rect x="365.00" y="200.45" width="28.30" height="5.99" fill="#2c738e"/><rect x="365.00" y="206.14" width="28.30" height="5.99" fill="#1e9c89"/><rect x="365.00" y="211.83" width="28.30" height="5.99" fill="#2c738e"/><rect x="365.00" y="217.52" width="28.30" height="5.99" fill="#34618d"/><rect x="365.00" y="223.22" width="28.30" height="5.99" fill="#21918c"/><rect x="365.00" y="228.91" width="28.30" height="5.69" fill="#25848e"/><rect x="393.00" y="92.30" width="28.20" height="5.99" fill="#3c4f8a"/><rect x="393.00" y="97.99" width="28.20" height="5.99" fill="#3c4f8a"/><rect x="393.00" y="103.68" width="28.20" height="5.99" fill="#2f6c8e"/><rect x="393.00" y="109.38" width="28.20" height="5.99" fill="#3c4f8a"/><rect x="393.00" y="115.07" width="28.20" height="5.99" fill="#3c4f8a"/><rect x="393.00" y="120.76" width="28.20" height="5.99" fill="#2a788e"/><rect x="393.00" y="126.45" width="28.20" height="5.99" fill="#481b6d"/><rect x="393.00" y="132.14" width="28.20" height="5.99" fill="#46307e"/><rect x="393.00" y="137.84" width="28.20" height="5.99" fill="#433e85"/><rect x="393.00" y="143.53" width="28.20" height="5.99" fill="#472c7a"/><rect x="393.00" y="149.22" width="28.20" height="5.99" fill="#481b6d"/><rect x="393.00" y="154.91" width="28.20" height="5.99" fill="#404588"/><rect x="393.00" y="160.60" width="28.20" height="5.99" fill="#46307e"/><rect x="393.00" y="166.30" width="28.20" height="5.99" fill="#433e85"/><rect x="393.00" y="171.99" width="28.20" height="5.99" fill="#481b6d"/><rect x="393.00" y="177.68" width="28.20" height="5.99" fill="#482374"/><rect x="393.00" y="183.37" width="28.20" height="5.99" fill="#365d8d"/><rect x="393.00" y="189.06" width="28.20" height="5.99" fill="#365d8d"/><rect x="393.00" y="194.76" width="28.20" height="5.99" fill="#453581"/><rect x="393.00" y="200.45" width="28.20" height="5.99" fill="#472c7a"/><rect x="393.00" y="206.14" width="28.20" height="5.99" fill="#433e85"/><rect x="393.00" y="211.83" width="28.20" height="5.99" fill="#433e85"/><rect x="393.00" y="217.52" width="28.20" height="5.99" fill="#433e85"/><rect x="393.00" y="223.22" width="28.20" height="5.99" fill="#3e4a89"/><rect x="393.00" y="228.91" width="28.20" height="5.69" fill="#3e4a89"/><rect x="420.90" y="92.30" width="28.40" height="5.99" fill="#3c4f8a"/><rect x="420.90" y="97.99" width="28.40" height="5.99" fill="#472c7a"/><rect x="420.90" y="103.68" width="28.40" height="5.99" fill="#404588"/><rect x="420.90" y="109.38" width="28.40" height="5.99" fill="#404588"/><rect x="420.90" y="115.07" width="28.40" height="5.99" fill="#404588"/><rect x="420.90" y="120.76" width="28.40" height="5.99" fill="#2c738e"/><rect x="420.90" y="126.45" width="28.40" height="5.99" fill="#2a788e"/><rect x="420.90" y="132.14" width="28.40" height="5.99" fill="#404588"/><rect x="420.90" y="137.84" width="28.40" height="5.99" fill="#404588"/><rect x="420.90" y="143.53" width="28.40" height="5.99" fill="#25848e"/><rect x="420.90" y="149.22" width="28.40" height="5.99" fill="#472c7a"/><rect x="420.90" y="154.91" width="28.40" height="5.99" fill="#46307e"/><rect x="420.90" y="160.60" width="28.40" height="5.99" fill="#2a788e"/><rect x="420.90" y="166.30" width="28.40" height="5.99" fill="#46307e"/><rect x="420.90" y="171.99" width="28.40" height="5.99" fill="#21918c"/><rect x="420.90" y="177.68" width="28.40" height="5.99" fill="#365d8d"/><rect x="420.90" y="183.37" width="28.40" height="5.99" fill="#39568c"/><rect x="420.90" y="189.06" width="28.40" height="5.99" fill="#25848e"/><rect x="420.90" y="194.76" width="28.40" height="5.99" fill="#31668e"/><rect x="420.90" y="200.45" width="28.40" height="5.99" fill="#2a788e"/><rect x="420.90" y="206.14" width="28.40" height="5.99" fill="#433e85"/><rect x="420.90" y="211.83" width="28.40" height="5.99" fill="#2f6c8e"/><rect x="420.90" y="217.52" width="28.40" height="5.99" fill="#25848e"/><rect x="420.90" y="223.22" width="28.40" height="5.99" fill="#3c4f8a"/><rect x="420.90" y="228.91" width="28.40" height="5.69" fill="#3c4f8a"/><rect x="338.20" y="242.30" width="27.10" height="5.99" fill="#dfe318"/><rect x="338.20" y="247.99" width="27.10" height="5.99" fill="#34618d"/><rect x="338.20" y="253.68" width="27.10" height="5.99" fill="#2a788e"/><rect x="338.20" y="259.36" width="27.10" height="5.99" fill="#25848e"/><rect x="338.20" y="265.05" width="27.10" height="5.99" fill="#287d8e"/><rect x="338.20" y="270.74" width="27.10" height="5.99" fill="#2a788e"/><rect x="338.20" y="276.43" width="27.10" height="5.99" fill="#1e9c89"/><rect x="338.20" y="282.11" width="27.10" height="5.69" fill="#25848e"/><rect x="365.00" y="242.30" width="28.30" height="5.99" fill="#453581"/><rect x="365.00" y="247.99" width="28.30" height="5.99" fill="#22a884"/><rect x="365.00" y="253.68" width="28.30" height="5.99" fill="#2a788e"/><rect x="365.00" y="259.36" width="28.30" height="5.99" fill="#287d8e"/><rect x="365.00" y="265.05" width="28.30" height="5.99" fill="#3e4a89"/><rect x="365.00" y="270.74" width="28.30" height="5.99" fill="#287d8e"/><rect x="365.00" y="276.43" width="28.30" height="5.99" fill="#25848e"/><rect x="365.00" y="282.11" width="28.30" height="5.69" fill="#472c7a"/><rect x="393.00" y="242.30" width="28.20" height="5.99" fill="#482374"/><rect x="393.00" y="247.99" width="28.20" height="5.99" fill="#39568c"/><rect x="393.00" y="253.68" width="28.20" height="5.99" fill="#39568c"/><rect x="393.00" y="259.36" width="28.20" height="5.99" fill="#453581"/><rect x="393.00" y="265.05" width="28.20" height="5.99" fill="#39568c"/><rect x="393.00" y="270.74" width="28.20" height="5.99" fill="#472c7a"/><rect x="393.00" y="276.43" width="28.20" height="5.99" fill="#46307e"/><rect x="393.00" y="282.11" width="28.20" height="5.69" fill="#31668e"/><rect x="420.90" y="242.30" width="28.40" height="5.99" fill="#482677"/><rect x="420.90" y="247.99" width="28.40" height="5.99" fill="#3e4a89"/><rect x="420.90" y="253.68" width="28.40" height="5.99" fill="#3c4f8a"/><rect x="420.90" y="259.36" width="28.40" height="5.99" fill="#472c7a"/><rect x="420.90" y="265.05" width="28.40" height="5.99" fill="#34618d"/><rect x="420.90" y="270.74" width="28.40" height="5.99" fill="#404588"/><rect x="420.90" y="276.43" width="28.40" height="5.99" fill="#404588"/><rect x="420.90" y="282.11" width="28.40" height="5.69" fill="#31668e"/><rect x="338.20" y="295.30" width="27.10" height="6.30" fill="#39568c"/><rect x="338.20" y="301.30" width="27.10" height="6.00" fill="#39568c"/><rect x="365.00" y="295.30" width="28.30" height="6.30" fill="#472c7a"/><rect x="365.00" y="301.30" width="28.30" height="6.00" fill="#404588"/><rect x="393.00" y="295.30" width="28.20" height="6.30" fill="#22a884"/><rect x="393.00" y="301.30" width="28.20" height="6.00" fill="#1e9c89"/><rect x="420.90" y="295.30" width="28.40" height="6.30" fill="#365d8d"/><rect x="420.90" y="301.30" width="28.40" height="6.00" fill="#39568c"/><rect x="338.20" y="314.80" width="27.10" height="6.01" fill="#3e4a89"/><rect x="338.20" y="320.51" width="27.10" height="6.01" fill="#39568c"/><rect x="338.20" y="326.21" width="27.10" height="6.01" fill="#39568c"/><rect x="338.20" y="331.92" width="27.10" height="6.01" fill="#433e85"/><rect x="338.20" y="337.62" width="27.10" height="6.01" fill="#39568c"/><rect x="338.20" y="343.33" width="27.10" height="6.01" fill="#3c4f8a"/><rect x="338.20" y="349.03" width="27.10" height="6.01" fill="#39568c"/><rect x="338.20" y="354.74" width="27.10" height="6.01" fill="#482677"/><rect x="338.20" y="360.45" width="27.10" height="6.01" fill="#482677"/><rect x="338.20" y="366.15" width="27.10" height="6.01" fill="#2f6c8e"/><rect x="338.20" y="371.86" width="27.10" height="6.01" fill="#433e85"/><rect x="338.20" y="377.56" width="27.10" height="6.01" fill="#2f6c8e"/><rect x="338.20" y="383.27" width="27.10" height="6.01" fill="#31668e"/><rect x="338.20" y="388.97" width="27.10" height="6.01" fill="#34618d"/><rect x="338.20" y="394.68" width="27.10" height="6.01" fill="#2f6c8e"/><rect x="338.20" y="400.39" width="27.10" height="6.01" fill="#21918c"/><rect x="338.20" y="406.09" width="27.10" height="6.01" fill="#2a788e"/><rect x="338.20" y="411.80" width="27.10" height="6.01" fill="#2a788e"/><rect x="338.20" y="417.50" width="27.10" height="6.01" fill="#2a788e"/><rect x="338.20" y="423.21" width="27.10" height="6.01" fill="#2f6c8e"/><rect x="338.20" y="428.91" width="27.10" height="6.01" fill="#2f6c8e"/><rect x="338.20" y="434.62" width="27.10" height="6.01" fill="#21918c"/><rect x="338.20" y="440.33" width="27.10" height="6.01" fill="#287d8e"/><rect x="338.20" y="446.03" width="27.10" height="6.01" fill="#2f6c8e"/><rect x="338.20" y="451.74" width="27.10" height="6.01" fill="#228b8d"/><rect x="338.20" y="457.44" width="27.10" height="6.01" fill="#39568c"/><rect x="338.20" y="463.15" width="27.10" height="6.01" fill="#34618d"/><rect x="338.20" y="468.85" width="27.10" height="6.01" fill="#287d8e"/><rect x="338.20" y="474.56" width="27.10" height="6.01" fill="#2c738e"/><rect x="338.20" y="480.27" width="27.10" height="6.01" fill="#2c738e"/><rect x="338.20" y="485.97" width="27.10" height="6.01" fill="#2f6c8e"/><rect x="338.20" y="491.68" width="27.10" height="6.01" fill="#25848e"/><rect x="338.20" y="497.38" width="27.10" height="6.01" fill="#25848e"/><rect x="338.20" y="503.09" width="27.10" height="6.01" fill="#39568c"/><rect x="338.20" y="508.79" width="27.10" height="5.71" fill="#365d8d"/><rect x="365.00" y="314.80" width="28.30" height="6.01" fill="#22a884"/><rect x="365.00" y="320.51" width="28.30" height="6.01" fill="#22a884"/><rect x="365.00" y="326.21" width="28.30" height="6.01" fill="#22a884"/><rect x="365.00" y="331.92" width="28.30" height="6.01" fill="#3bbb75"/><rect x="365.00" y="337.62" width="28.30" height="6.01" fill="#21918c"/><rect x="365.00" y="343.33" width="28.30" height="6.01" fill="#22a884"/><rect x="365.00" y="349.03" width="28.30" height="6.01" fill="#21918c"/><rect x="365.00" y="354.74" width="28.30" height="6.01" fill="#26ad81"/><rect x="365.00" y="360.45" width="28.30" height="6.01" fill="#26ad81"/><rect x="365.00" y="366.15" width="28.30" height="6.01" fill="#2f6c8e"/><rect x="365.00" y="371.86" width="28.30" height="6.01" fill="#39568c"/><rect x="365.00" y="377.56" width="28.30" height="6.01" fill="#2c738e"/><rect x="365.00" y="383.27" width="28.30" height="6.01" fill="#2a788e"/><rect x="365.00" y="388.97" width="28.30" height="6.01" fill="#1f958b"/><rect x="365.00" y="394.68" width="28.30" height="6.01" fill="#21918c"/><rect x="365.00" y="400.39" width="28.30" height="6.01" fill="#2a788e"/><rect x="365.00" y="406.09" width="28.30" height="6.01" fill="#25848e"/><rect x="365.00" y="411.80" width="28.30" height="6.01" fill="#25848e"/><rect x="365.00" y="417.50" width="28.30" height="6.01" fill="#1f958b"/><rect x="365.00" y="423.21" width="28.30" height="6.01" fill="#2a788e"/><rect x="365.00" y="428.91" width="28.30" height="6.01" fill="#2f6c8e"/><rect x="365.00" y="434.62" width="28.30" height="6.01" fill="#365d8d"/><rect x="365.00" y="440.33" width="28.30" height="6.01" fill="#2f6c8e"/><rect x="365.00" y="446.03" width="28.30" height="6.01" fill="#287d8e"/><rect x="365.00" y="451.74" width="28.30" height="6.01" fill="#2f6c8e"/><rect x="365.00" y="457.44" width="28.30" height="6.01" fill="#404588"/><rect x="365.00" y="463.15" width="28.30" height="6.01" fill="#433e85"/><rect x="365.00" y="468.85" width="28.30" height="6.01" fill="#2f6c8e"/><rect x="365.00" y="474.56" width="28.30" height="6.01" fill="#34618d"/><rect x="365.00" y="480.27" width="28.30" height="6.01" fill="#39568c"/><rect x="365.00" y="485.97" width="28.30" height="6.01" fill="#2f6c8e"/><rect x="365.00" y="491.68" width="28.30" height="6.01" fill="#482374"/><rect x="365.00" y="497.38" width="28.30" height="6.01" fill="#39568c"/><rect x="365.00" y="503.09" width="28.30" height="6.01" fill="#3e4a89"/><rect x="365.00" y="508.79" width="28.30" height="5.71" fill="#34618d"/><rect x="393.00" y="314.80" width="28.20" height="6.01" fill="#3e4a89"/><rect x="393.00" y="320.51" width="28.20" height="6.01" fill="#482374"/><rect x="393.00" y="326.21" width="28.20" height="6.01" fill="#482374"/><rect x="393.00" y="331.92" width="28.20" height="6.01" fill="#481b6d"/><rect x="393.00" y="337.62" width="28.20" height="6.01" fill="#472c7a"/><rect x="393.00" y="343.33" width="28.20" height="6.01" fill="#472c7a"/><rect x="393.00" y="349.03" width="28.20" height="6.01" fill="#3c4f8a"/><rect x="393.00" y="354.74" width="28.20" height="6.01" fill="#3c4f8a"/><rect x="393.00" y="360.45" width="28.20" height="6.01" fill="#3c4f8a"/><rect x="393.00" y="366.15" width="28.20" height="6.01" fill="#39568c"/><rect x="393.00" y="371.86" width="28.20" height="6.01" fill="#228b8d"/><rect x="393.00" y="377.56" width="28.20" height="6.01" fill="#39568c"/><rect x="393.00" y="383.27" width="28.20" height="6.01" fill="#481b6d"/><rect x="393.00" y="388.97" width="28.20" height="6.01" fill="#46307e"/><rect x="393.00" y="394.68" width="28.20" height="6.01" fill="#481b6d"/><rect x="393.00" y="400.39" width="28.20" height="6.01" fill="#481b6d"/><rect x="393.00" y="406.09" width="28.20" height="6.01" fill="#46307e"/><rect x="393.00" y="411.80" width="28.20" height="6.01" fill="#46307e"/><rect x="393.00" y="417.50" width="28.20" height="6.01" fill="#453581"/><rect x="393.00" y="423.21" width="28.20" height="6.01" fill="#39568c"/><rect x="393.00" y="428.91" width="28.20" height="6.01" fill="#3c4f8a"/><rect x="393.00" y="434.62" width="28.20" height="6.01" fill="#46307e"/><rect x="393.00" y="440.33" width="28.20" height="6.01" fill="#46307e"/><rect x="393.00" y="446.03" width="28.20" height="6.01" fill="#433e85"/><rect x="393.00" y="451.74" width="28.20" height="6.01" fill="#472c7a"/><rect x="393.00" y="457.44" width="28.20" height="6.01" fill="#404588"/><rect x="393.00" y="463.15" width="28.20" height="6.01" fill="#46307e"/><rect x="393.00" y="468.85" width="28.20" height="6.01" fill="#3e4a89"/><rect x="393.00" y="474.56" width="28.20" height="6.01" fill="#3c4f8a"/><rect x="393.00" y="480.27" width="28.20" height="6.01" fill="#39568c"/><rect x="393.00" y="485.97" width="28.20" height="6.01" fill="#34618d"/><rect x="393.00" y="491.68" width="28.20" height="6.01" fill="#2f6c8e"/><rect x="393.00" y="497.38" width="28.20" height="6.01" fill="#31668e"/><rect x="393.00" y="503.09" width="28.20" height="6.01" fill="#2f6c8e"/><rect x="393.00" y="508.79" width="28.20" height="5.71" fill="#31668e"/><rect x="420.90" y="314.80" width="28.40" height="6.01" fill="#3c4f8a"/><rect x="420.90" y="320.51" width="28.40" height="6.01" fill="#365d8d"/><rect x="420.90" y="326.21" width="28.40" height="6.01" fill="#31668e"/><rect x="420.90" y="331.92" width="28.40" height="6.01" fill="#31668e"/><rect x="420.90" y="337.62" width="28.40" height="6.01" fill="#31668e"/><rect x="420.90" y="343.33" width="28.40" height="6.01" fill="#31668e"/><rect x="420.90" y="349.03" width="28.40" height="6.01" fill="#39568c"/><rect x="420.90" y="354.74" width="28.40" height="6.01" fill="#365d8d"/><rect x="420.90" y="360.45" width="28.40" height="6.01" fill="#365d8d"/><rect x="420.90" y="366.15" width="28.40" height="6.01" fill="#34618d"/><rect x="420.90" y="371.86" width="28.40" height="6.01" fill="#34618d"/><rect x="420.90" y="377.56" width="28.40" height="6.01" fill="#34618d"/><rect x="420.90" y="383.27" width="28.40" height="6.01" fill="#228b8d"/><rect x="420.90" y="388.97" width="28.40" height="6.01" fill="#2f6c8e"/><rect x="420.90" y="394.68" width="28.40" height="6.01" fill="#34618d"/><rect x="420.90" y="400.39" width="28.40" height="6.01" fill="#2f6c8e"/><rect x="420.90" y="406.09" width="28.40" height="6.01" fill="#2f6c8e"/><rect x="420.90" y="411.80" width="28.40" height="6.01" fill="#2c738e"/><rect x="420.90" y="417.50" width="28.40" height="6.01" fill="#2f6c8e"/><rect x="420.90" y="423.21" width="28.40" height="6.01" fill="#39568c"/><rect x="420.90" y="428.91" width="28.40" height="6.01" fill="#39568c"/><rect x="420.90" y="434.62" width="28.40" height="6.01" fill="#39568c"/><rect x="420.90" y="440.33" width="28.40" height="6.01" fill="#39568c"/><rect x="420.90" y="446.03" width="28.40" height="6.01" fill="#365d8d"/><rect x="420.90" y="451.74" width="28.40" height="6.01" fill="#39568c"/><rect x="420.90" y="457.44" width="28.40" height="6.01" fill="#1e9c89"/><rect x="420.90" y="463.15" width="28.40" height="6.01" fill="#1e9c89"/><rect x="420.90" y="468.85" width="28.40" height="6.01" fill="#31668e"/><rect x="420.90" y="474.56" width="28.40" height="6.01" fill="#2f6c8e"/><rect x="420.90" y="480.27" width="28.40" height="6.01" fill="#2f6c8e"/><rect x="420.90" y="485.97" width="28.40" height="6.01" fill="#31668e"/><rect x="420.90" y="491.68" width="28.40" height="6.01" fill="#2c738e"/><rect x="420.90" y="497.38" width="28.40" height="6.01" fill="#3e4a89"/><rect x="420.90" y="503.09" width="28.40" height="6.01" fill="#2a788e"/><rect x="420.90" y="508.79" width="28.40" height="5.71" fill="#2c738e"/></g>
<text x="0" y="0" font-size="29" font-weight="bold" fill="#1a1a1a" stroke="#1a1a1a" stroke-width="0.5" transform="translate(52.8,81.5) scale(0.86,1)">a</text>
<text x="0" y="0" font-size="29.5" font-weight="bold" fill="#1a1a1a" stroke="#1a1a1a" stroke-width="0.5" transform="translate(585.6,81.5) scale(0.95,1)">b</text>
<text x="0" y="0" font-size="30" font-weight="bold" fill="#1a1a1a" stroke="#1a1a1a" stroke-width="0.7" transform="translate(52.8,589) scale(0.95,1)">C</text>
<text x="138.9" y="85" font-size="16.5" fill="#222" text-anchor="middle">Relative TE</text>
<text x="265.5" y="85" font-size="16.5" fill="#222" text-anchor="middle">mRNA</text>
<text x="393.3" y="84.5" font-size="16.5" fill="#222" text-anchor="middle">FP</text>
<text x="452" y="103.6" font-size="13.2" font-weight="bold" fill="#1a1a1a" letter-spacing="0.25">BCL3</text>
<text x="452" y="115.8" font-size="13.2" font-weight="bold" fill="#1a1a1a" letter-spacing="0.25">TNFAIP2/3</text>
<text x="452" y="129.6" font-size="13.2" font-weight="bold" fill="#1a1a1a" letter-spacing="0.25">EGR1</text>
<text x="452" y="142.1" font-size="13.2" font-weight="bold" fill="#1a1a1a" letter-spacing="0.25">FOSB</text>
<text x="452" y="156.3" font-size="13.2" font-weight="bold" fill="#1a1a1a" letter-spacing="0.25">CXCL1/3</text>
<text x="452" y="168.1" font-size="13.2" font-weight="bold" fill="#1a1a1a" letter-spacing="0.25">IL6</text>
<text x="452" y="181.2" font-size="13.2" font-weight="bold" fill="#1a1a1a" letter-spacing="0.25">NFKBIA/E</text>
<text x="452" y="195.4" font-size="13.2" font-weight="bold" fill="#1a1a1a" letter-spacing="0.25">IRF1</text>
<text x="452" y="253" font-size="13.2" font-weight="bold" fill="#1a1a1a" letter-spacing="0.25">CCL20</text>
<text x="452" y="264.8" font-size="13.2" font-weight="bold" fill="#1a1a1a" letter-spacing="0.25">IL8</text>
<text x="452" y="277.1" font-size="13.2" font-weight="bold" fill="#1a1a1a" letter-spacing="0.25">FOS</text>
<defs><linearGradient id="cb" x1="0" y1="1" x2="0" y2="0"><stop offset="0.0" stop-color="#440154"/><stop offset="0.1" stop-color="#482475"/><stop offset="0.2" stop-color="#414487"/><stop offset="0.3" stop-color="#355f8d"/><stop offset="0.4" stop-color="#2a788e"/><stop offset="0.5" stop-color="#21918c"/><stop offset="0.6" stop-color="#22a884"/><stop offset="0.7" stop-color="#44bf70"/><stop offset="0.8" stop-color="#7ad151"/><stop offset="0.9" stop-color="#bddf26"/><stop offset="1.0" stop-color="#fde725"/></linearGradient></defs>
<rect x="530.3" y="127" width="10.2" height="75.2" fill="url(#cb)"/>
<text x="528" y="106" font-size="14.5" fill="#222">Relative</text>
<text x="528" y="119.2" font-size="14.5" fill="#222">values</text>
<text x="543.5" y="136.8" font-size="13" fill="#222">3</text>
<text x="543.5" y="202" font-size="13" fill="#222">0.5</text>
<path d="M83,414.4 H60.6 V224 H68.4 M83,163.7 H68.4 V283.8 H76.7 M83,265.4 H76.7 V302.5 H83" fill="none" stroke="#111" stroke-width="1.35"/>
<text x="106.1" y="531.0" font-size="15.5" fill="#222" text-anchor="end" transform="rotate(-45 106.1 531.0)">un</text>
<text x="141.6" y="531.0" font-size="15.5" fill="#222" text-anchor="end" transform="rotate(-45 141.6 531.0)">3 hpi</text>
<text x="169.4" y="531.0" font-size="15.5" fill="#222" text-anchor="end" transform="rotate(-45 169.4 531.0)">5 hpi</text>
<text x="197.3" y="531.0" font-size="15.5" fill="#222" text-anchor="end" transform="rotate(-45 197.3 531.0)">8 hpi</text>
<text x="234.2" y="531.0" font-size="15.5" fill="#222" text-anchor="end" transform="rotate(-45 234.2 531.0)">un</text>
<text x="269.7" y="531.0" font-size="15.5" fill="#222" text-anchor="end" transform="rotate(-45 269.7 531.0)">3 hpi</text>
<text x="297.5" y="531.0" font-size="15.5" fill="#222" text-anchor="end" transform="rotate(-45 297.5 531.0)">5 hpi</text>
<text x="325.4" y="531.0" font-size="15.5" fill="#222" text-anchor="end" transform="rotate(-45 325.4 531.0)">8 hpi</text>
<text x="361.1" y="531.0" font-size="15.5" fill="#222" text-anchor="end" transform="rotate(-45 361.1 531.0)">un</text>
<text x="396.6" y="531.0" font-size="15.5" fill="#222" text-anchor="end" transform="rotate(-45 396.6 531.0)">3 hpi</text>
<text x="424.4" y="531.0" font-size="15.5" fill="#222" text-anchor="end" transform="rotate(-45 424.4 531.0)">5 hpi</text>
<text x="452.3" y="531.0" font-size="15.5" fill="#222" text-anchor="end" transform="rotate(-45 452.3 531.0)">8 hpi</text>
<rect x="651" y="88.3" width="407" height="424.8" fill="none" stroke="#333" stroke-width="1.3"/>
<path d="M645,497.5 H651" stroke="#333" stroke-width="1.2"/>
<text x="643.5" y="502.8" font-size="15" fill="#444" text-anchor="end">1</text>
<path d="M645,399.4 H651" stroke="#333" stroke-width="1.2"/>
<text x="643.5" y="404.7" font-size="15" fill="#444" text-anchor="end">10</text>
<path d="M645,301.3 H651" stroke="#333" stroke-width="1.2"/>
<text x="643.5" y="306.6" font-size="15" fill="#444" text-anchor="end">100</text>
<path d="M645,203.2 H651" stroke="#333" stroke-width="1.2"/>
<text x="643.5" y="208.5" font-size="15" fill="#444" text-anchor="end">1000</text>
<path d="M645,105.1 H651" stroke="#333" stroke-width="1.2"/>
<text x="643.5" y="110.4" font-size="15" fill="#444" text-anchor="end">10000</text>
<text x="684.9" y="530" font-size="15" fill="#444" text-anchor="middle">1</text>
<text x="771.6" y="530" font-size="15" fill="#444" text-anchor="middle">10</text>
<text x="858.3" y="530" font-size="15" fill="#444" text-anchor="middle">100</text>
<text x="945.0" y="530" font-size="15" fill="#444" text-anchor="middle">1000</text>
<text x="1031.7" y="530" font-size="15" fill="#444" text-anchor="middle">10000</text>
<text x="853.5" y="551" font-size="17.5" fill="#2a2a2a" text-anchor="middle">RPKM mRNA uninf</text>
<text x="0" y="0" font-size="17.5" fill="#2a2a2a" text-anchor="middle" transform="translate(609.5,300.3) rotate(-90)">RPKM mRNA 8 hpi</text>
<path d="M852.8 306.7h.01M824.8 337.2h.01M875.3 277.6h.01M859.2 298.4h.01M877.4 281.6h.01M840.5 301.5h.01M938.7 163.0h.01M838.9 319.2h.01M830.8 313.1h.01M862.8 295.8h.01M840.1 317.3h.01M790.4 363.6h.01M827.2 310.6h.01M840.4 326.4h.01M834.1 321.8h.01M790.5 350.8h.01M856.1 307.5h.01M765.7 396.4h.01M783.5 377.6h.01M889.0 258.2h.01M817.5 322.2h.01M846.9 317.0h.01M850.3 304.3h.01M809.4 347.6h.01M838.6 319.4h.01M775.6 318.1h.01M786.7 376.1h.01M810.2 345.9h.01M798.0 368.5h.01M834.8 334.6h.01M842.0 327.0h.01M838.5 321.4h.01M750.5 413.4h.01M829.4 336.6h.01M733.0 407.8h.01M877.5 296.0h.01M857.3 311.4h.01M914.8 221.8h.01M828.4 268.3h.01M824.7 252.0h.01M862.9 293.9h.01M823.8 337.9h.01M786.0 368.5h.01M858.6 294.6h.01M834.5 319.7h.01M825.9 331.2h.01M723.0 430.2h.01M829.0 331.7h.01M767.9 398.0h.01M823.4 316.7h.01M843.4 325.9h.01M731.6 415.5h.01M906.6 266.7h.01M928.1 240.7h.01M860.1 265.3h.01M839.7 313.8h.01M762.0 404.8h.01M898.2 271.8h.01M884.0 269.2h.01M894.7 264.8h.01M806.5 351.1h.01M856.2 305.8h.01M798.3 369.9h.01M785.7 377.0h.01M777.6 359.7h.01M910.0 250.6h.01M788.3 362.9h.01M777.2 384.7h.01M783.1 359.5h.01M850.7 308.9h.01M807.3 359.9h.01M814.6 349.6h.01M804.7 351.4h.01M775.7 388.6h.01M862.5 297.0h.01M844.8 321.7h.01M856.2 307.7h.01M870.1 273.7h.01M828.6 330.5h.01M819.6 344.6h.01M797.3 371.8h.01M804.6 360.4h.01M782.9 371.7h.01M769.5 393.3h.01M818.2 334.7h.01M820.1 347.9h.01M822.4 346.3h.01M808.3 357.3h.01M758.2 395.6h.01M808.9 349.6h.01M798.1 359.9h.01M757.3 367.0h.01M780.2 354.6h.01M833.2 305.0h.01M765.2 395.6h.01M812.3 353.8h.01M768.3 398.7h.01M859.2 302.8h.01M761.6 405.5h.01M878.4 292.3h.01M842.6 268.9h.01M855.8 298.1h.01M822.6 342.0h.01M821.9 329.6h.01M829.6 336.2h.01M731.8 414.6h.01M857.7 297.9h.01M767.3 395.2h.01M846.2 318.8h.01M766.4 393.5h.01M823.9 339.3h.01M857.6 298.0h.01M792.6 376.5h.01M815.3 339.6h.01M897.5 269.1h.01M847.8 310.3h.01M791.3 368.4h.01M835.7 327.6h.01M832.9 327.4h.01M806.9 342.7h.01M862.6 296.7h.01M745.8 406.0h.01M795.1 325.4h.01M813.8 344.8h.01M814.9 350.1h.01M857.6 306.8h.01M817.7 349.4h.01M809.7 348.2h.01M802.9 345.9h.01M790.5 374.9h.01M781.3 377.5h.01M791.5 374.9h.01M806.9 347.8h.01M879.4 277.3h.01M802.6 344.7h.01M858.5 309.4h.01M797.4 353.6h.01M766.4 391.5h.01M764.6 394.8h.01M815.6 346.5h.01M859.7 307.4h.01M816.5 329.9h.01M755.4 410.6h.01M822.6 330.9h.01M861.4 301.7h.01M870.4 287.3h.01M797.6 357.1h.01M819.5 344.7h.01M835.1 321.9h.01M851.9 312.6h.01M813.0 352.9h.01M786.8 382.9h.01M821.9 339.1h.01M802.5 365.2h.01M773.8 386.0h.01M853.8 312.8h.01M806.1 358.7h.01M761.7 397.0h.01M858.1 299.7h.01M840.7 282.6h.01M760.4 385.7h.01M893.7 276.1h.01M867.1 296.9h.01M717.4 430.3h.01M771.4 395.5h.01M824.0 341.9h.01M799.0 357.2h.01M821.9 339.9h.01M818.0 349.3h.01M945.6 216.5h.01M843.8 324.0h.01M821.3 338.1h.01M809.6 359.9h.01M877.2 290.4h.01M860.5 295.0h.01M869.2 286.3h.01M865.2 301.8h.01M865.7 303.0h.01M848.6 315.9h.01M785.7 376.6h.01M856.6 282.0h.01M833.5 333.1h.01M793.2 374.9h.01M781.7 380.0h.01M836.5 323.4h.01M850.1 311.8h.01M845.9 311.2h.01M791.8 371.5h.01M755.1 404.5h.01M793.0 370.8h.01M833.6 339.0h.01M787.6 370.3h.01M880.1 255.5h.01M787.6 367.5h.01M840.1 301.8h.01M754.5 410.4h.01M875.5 294.4h.01M852.8 299.1h.01M806.3 346.4h.01M821.2 338.0h.01M808.4 353.7h.01M842.5 329.5h.01M823.9 344.2h.01M793.4 368.3h.01M806.3 346.4h.01M774.8 376.4h.01M757.2 409.4h.01M807.0 344.3h.01M826.6 344.1h.01M814.0 329.5h.01M887.9 210.1h.01M845.5 315.7h.01M821.6 309.6h.01M755.2 377.4h.01M793.1 360.9h.01M822.5 332.5h.01M855.9 313.0h.01M816.1 325.2h.01M980.0 200.0h.01M880.8 290.0h.01M771.8 398.1h.01M779.4 375.1h.01M761.9 400.3h.01M877.9 280.0h.01M876.0 293.5h.01M847.5 312.9h.01M912.5 249.5h.01M832.5 326.3h.01M803.1 353.7h.01M764.2 366.9h.01M813.5 345.8h.01M788.2 379.5h.01M861.2 308.8h.01M869.6 290.3h.01M809.3 340.8h.01M756.3 406.8h.01M797.7 353.0h.01M768.8 340.2h.01M843.5 322.8h.01M815.7 333.9h.01M773.8 394.8h.01M815.9 349.9h.01M828.9 309.5h.01M781.8 376.6h.01M831.8 324.3h.01M835.4 328.6h.01M845.9 305.5h.01M778.8 371.3h.01M839.3 309.3h.01M797.1 357.3h.01M793.6 370.2h.01M863.5 307.2h.01M975.6 194.1h.01M908.0 166.1h.01M824.4 345.4h.01M796.9 354.0h.01M914.8 250.5h.01M860.0 310.7h.01M833.6 323.8h.01M803.1 351.4h.01M817.4 341.5h.01M806.5 350.5h.01M809.0 356.6h.01M796.7 348.6h.01M821.6 330.2h.01M864.5 293.2h.01M864.3 300.8h.01M845.0 321.0h.01M751.9 338.2h.01M851.9 306.3h.01M741.8 421.0h.01M789.7 375.1h.01M893.0 268.8h.01M812.7 347.8h.01M842.7 316.3h.01M799.0 368.9h.01M758.9 397.1h.01M781.5 375.0h.01M824.0 343.6h.01M796.0 368.0h.01M765.7 396.5h.01M859.5 298.0h.01M757.4 411.2h.01M796.8 368.6h.01M925.0 165.6h.01M761.4 403.4h.01M895.4 273.8h.01M849.7 315.8h.01M777.9 387.6h.01M875.9 289.4h.01M815.2 337.3h.01M809.8 358.6h.01M773.8 374.2h.01M782.5 381.2h.01M926.8 184.9h.01M824.0 347.4h.01M761.8 356.9h.01M767.6 397.6h.01M904.9 253.2h.01M842.1 322.1h.01M867.9 296.4h.01M801.8 358.7h.01M778.0 384.2h.01M829.1 337.2h.01M837.4 327.1h.01M788.6 372.0h.01M783.4 383.0h.01M794.7 364.9h.01M853.7 317.4h.01M772.1 393.4h.01M827.3 323.2h.01M781.9 385.6h.01M791.4 374.3h.01M886.2 280.2h.01M832.0 329.4h.01M812.3 341.8h.01M772.3 393.1h.01M962.7 215.5h.01M858.8 244.9h.01M804.6 337.5h.01M956.2 193.2h.01M776.9 299.5h.01M792.5 368.0h.01M797.2 357.3h.01M760.3 395.6h.01M796.4 369.3h.01M825.3 335.7h.01M817.0 347.5h.01M792.2 370.2h.01M796.0 361.6h.01M859.1 300.0h.01M854.5 314.2h.01M761.2 399.3h.01M841.5 284.5h.01M855.6 307.5h.01M830.1 328.2h.01M866.6 301.2h.01M888.9 283.9h.01M893.8 268.7h.01M801.8 296.2h.01M810.9 348.9h.01M832.7 326.2h.01M778.6 386.2h.01M816.4 347.5h.01M780.6 386.7h.01M793.7 373.8h.01M859.0 289.6h.01M877.9 291.6h.01M880.0 222.4h.01M775.2 386.9h.01M844.9 304.2h.01M839.7 309.9h.01M854.2 247.7h.01M778.9 375.2h.01M843.9 312.2h.01M834.9 333.7h.01M812.3 352.4h.01M847.6 305.2h.01M884.2 285.5h.01M806.1 361.5h.01M816.6 347.2h.01M806.1 358.0h.01M877.6 294.3h.01M830.6 309.5h.01M847.0 319.2h.01M842.1 323.2h.01M769.3 392.2h.01M795.4 370.0h.01M832.1 329.2h.01M771.6 391.3h.01M793.5 365.3h.01M816.7 347.3h.01M798.4 363.1h.01M841.4 318.2h.01M787.9 374.0h.01M795.7 372.6h.01M830.2 334.4h.01M761.5 393.0h.01M757.8 408.0h.01M890.8 280.9h.01M856.9 292.8h.01M852.5 316.1h.01M788.6 364.5h.01M815.1 348.5h.01M907.1 222.5h.01M794.8 369.9h.01M792.0 367.8h.01M829.2 330.2h.01M845.1 315.6h.01M765.9 398.5h.01M828.7 329.0h.01M770.3 380.5h.01M793.6 370.9h.01M783.5 370.2h.01M808.2 345.9h.01M815.8 339.4h.01M804.8 358.6h.01M878.2 287.7h.01M923.4 231.1h.01M799.6 355.2h.01M796.7 370.1h.01M792.9 374.5h.01M833.5 323.5h.01M813.8 333.8h.01M818.5 348.1h.01M754.6 387.1h.01M805.3 357.8h.01M821.4 346.2h.01M817.9 351.2h.01M782.5 385.5h.01M795.4 367.1h.01M818.0 323.2h.01M868.6 300.1h.01M849.6 312.7h.01M900.0 222.0h.01M853.8 305.5h.01M763.4 389.7h.01M754.5 410.4h.01M824.6 331.4h.01M843.0 323.7h.01M781.9 379.5h.01M881.7 282.6h.01M875.5 290.1h.01M825.5 330.9h.01M840.0 311.9h.01M783.4 379.5h.01M790.7 350.3h.01M886.1 280.1h.01M775.3 386.2h.01M879.8 279.0h.01M788.4 373.2h.01M791.4 366.7h.01M833.1 327.5h.01M763.8 398.3h.01M818.7 352.9h.01M870.1 269.3h.01M847.8 317.3h.01M852.6 319.4h.01M790.7 374.2h.01M866.1 297.0h.01M829.8 335.9h.01M822.8 332.1h.01M850.0 317.6h.01M852.7 313.1h.01M759.2 407.0h.01M793.3 364.3h.01M846.8 314.0h.01M800.5 346.0h.01M767.9 396.7h.01M832.3 337.6h.01M766.3 354.3h.01M801.4 340.6h.01M895.7 270.7h.01M819.1 347.2h.01M844.5 320.1h.01M887.8 277.0h.01M861.0 290.1h.01M769.7 389.6h.01M797.0 363.6h.01M807.4 288.5h.01M874.3 297.3h.01M836.7 331.7h.01M837.5 328.7h.01M863.1 287.7h.01M835.3 321.0h.01M788.2 378.2h.01M831.9 333.1h.01M801.1 366.8h.01M812.7 348.5h.01M813.1 343.4h.01M883.6 289.5h.01M801.8 357.1h.01M761.8 400.4h.01M860.2 311.3h.01M824.3 341.0h.01M817.7 337.3h.01M835.9 332.3h.01M823.1 340.5h.01M855.1 308.9h.01M861.2 302.7h.01M853.2 312.5h.01M839.3 321.8h.01M767.2 398.7h.01M836.9 330.8h.01M859.8 226.5h.01M843.3 325.0h.01M860.1 308.4h.01M787.0 367.1h.01M859.2 303.3h.01M775.0 372.0h.01M869.6 294.5h.01M773.8 391.1h.01M789.4 376.4h.01M732.8 413.7h.01M816.1 340.4h.01M771.9 390.0h.01M815.4 347.2h.01M762.8 394.9h.01M778.3 374.0h.01M734.2 420.1h.01M809.1 351.9h.01M835.9 334.3h.01M786.9 361.7h.01M761.8 391.0h.01M814.0 356.9h.01M856.7 303.1h.01M861.2 310.4h.01M833.8 326.6h.01M849.0 319.1h.01M858.8 303.5h.01M756.0 405.6h.01M874.5 288.8h.01M948.3 206.3h.01M808.6 355.4h.01M827.4 329.1h.01M780.2 375.3h.01M783.0 369.6h.01M777.5 379.4h.01M841.2 322.0h.01M785.4 330.4h.01M840.9 300.0h.01M797.2 329.1h.01M926.1 245.1h.01M838.9 325.8h.01M796.1 354.3h.01M837.7 327.2h.01M867.4 293.3h.01M818.5 348.4h.01M790.8 374.1h.01M814.0 344.2h.01M815.9 334.3h.01M835.4 329.5h.01M870.0 296.6h.01M812.1 355.5h.01M890.1 274.4h.01M782.5 379.9h.01M852.2 302.4h.01M832.0 324.9h.01M800.7 351.8h.01M755.5 409.1h.01M856.2 308.5h.01M881.3 291.7h.01M769.9 383.7h.01M835.1 310.8h.01M809.0 292.9h.01M787.3 338.9h.01M940.0 192.0h.01M789.0 371.3h.01M823.2 335.9h.01M975.6 194.5h.01M829.6 327.6h.01M794.8 357.1h.01M839.4 307.8h.01M969.2 206.3h.01M857.2 308.9h.01M750.4 402.0h.01M807.2 355.6h.01M940.7 229.0h.01M854.7 314.0h.01M780.0 383.4h.01M759.7 287.6h.01M794.9 362.0h.01M831.6 302.4h.01M987.2 184.5h.01M810.8 344.7h.01M775.2 383.2h.01M785.6 376.2h.01M839.1 323.3h.01M776.2 378.1h.01M854.6 296.3h.01M848.2 318.1h.01M813.6 350.2h.01M831.9 329.3h.01M841.7 321.8h.01M789.5 367.2h.01M838.4 327.8h.01M775.4 355.0h.01M776.0 387.7h.01M860.8 297.4h.01M822.8 336.5h.01M809.5 352.3h.01M866.5 294.2h.01M834.0 333.9h.01M812.1 351.9h.01M808.5 349.5h.01M828.2 336.6h.01M826.2 328.4h.01M856.1 310.6h.01M841.5 321.3h.01M825.2 340.2h.01M897.5 239.3h.01M815.3 337.6h.01M888.7 272.4h.01M809.3 349.7h.01M860.1 310.7h.01M796.1 369.4h.01M779.0 374.3h.01M800.7 362.4h.01M839.6 325.1h.01M824.2 342.0h.01M824.4 334.8h.01M822.9 345.8h.01M786.7 365.2h.01M845.9 319.9h.01M799.8 368.6h.01M810.8 352.2h.01M843.7 320.5h.01M842.2 314.7h.01M828.7 323.4h.01M804.8 362.0h.01M765.6 387.9h.01M879.9 291.4h.01M914.5 242.5h.01M793.9 377.8h.01M751.6 398.1h.01M824.4 335.2h.01M860.6 309.3h.01M815.7 347.4h.01M821.2 344.0h.01M843.5 308.8h.01M868.9 294.5h.01M815.4 348.0h.01M766.6 404.5h.01M826.7 334.6h.01M821.3 342.9h.01M786.8 368.2h.01M780.0 342.3h.01M880.6 280.9h.01M821.1 338.9h.01M840.8 329.1h.01M864.3 289.5h.01M760.3 400.6h.01M813.3 352.4h.01M777.1 389.8h.01M795.4 363.5h.01M900.0 262.2h.01M658.8 496.9h.01M890.6 274.4h.01M761.0 398.6h.01M792.5 372.8h.01M803.5 365.3h.01M825.2 341.6h.01M857.8 308.0h.01M780.5 380.0h.01M786.0 371.5h.01M795.8 338.6h.01M778.8 375.6h.01M864.6 297.0h.01M798.1 357.8h.01M970.0 167.0h.01M923.4 233.9h.01M899.3 266.7h.01M833.2 328.7h.01M786.5 365.0h.01M759.7 402.1h.01M844.0 319.9h.01M835.6 278.9h.01M738.2 427.2h.01M896.3 279.4h.01M756.9 399.7h.01M818.2 324.6h.01M867.8 302.7h.01M801.9 365.0h.01M843.2 320.9h.01M884.7 287.8h.01M801.0 362.4h.01M809.6 359.4h.01M861.6 298.3h.01M849.5 321.8h.01M786.6 365.3h.01M781.2 381.9h.01M820.9 340.5h.01M884.0 281.5h.01M823.2 337.7h.01M788.5 372.9h.01M808.9 339.0h.01M768.9 388.5h.01M826.8 335.9h.01M855.0 313.3h.01M805.8 342.7h.01M881.8 280.1h.01M810.6 349.7h.01M783.7 380.5h.01M970.7 197.3h.01M775.1 385.7h.01M781.0 368.4h.01M888.9 279.1h.01M809.4 353.8h.01M799.4 367.4h.01M838.3 326.1h.01M783.5 371.6h.01M852.0 321.5h.01M862.4 300.4h.01M742.6 408.5h.01M819.2 353.5h.01M815.6 337.3h.01M880.4 188.1h.01M802.8 349.5h.01M762.1 395.7h.01M847.8 320.3h.01M870.3 295.8h.01M780.3 387.3h.01M832.7 331.6h.01M817.1 348.7h.01M786.9 368.8h.01M770.7 387.7h.01M809.9 353.6h.01M853.5 314.7h.01M821.6 335.0h.01M822.6 340.5h.01M894.5 276.4h.01M889.2 284.5h.01M802.4 357.7h.01M780.3 321.1h.01M834.3 315.8h.01M826.0 343.9h.01M930.8 237.5h.01M822.1 342.8h.01M912.1 260.4h.01M813.9 347.3h.01M822.4 340.4h.01M818.3 349.7h.01M824.6 343.4h.01M858.8 311.5h.01M784.3 365.2h.01M880.8 273.2h.01M802.1 358.6h.01M820.9 342.9h.01M822.4 343.2h.01M815.6 345.8h.01M741.8 415.7h.01M817.1 349.5h.01M835.3 328.2h.01M880.0 291.1h.01M894.1 277.3h.01M807.7 361.7h.01M802.5 353.3h.01M836.1 310.1h.01M844.9 326.8h.01M807.9 347.7h.01M778.1 378.6h.01M813.1 343.8h.01M778.7 383.8h.01M865.8 297.8h.01M764.2 398.2h.01M859.1 304.8h.01M778.1 371.5h.01M884.7 275.3h.01M778.1 368.0h.01M842.3 326.1h.01M748.3 406.9h.01M857.1 310.1h.01M985.3 156.3h.01M788.7 371.9h.01M853.5 315.6h.01M833.6 335.2h.01M868.4 296.3h.01M839.4 321.4h.01M852.7 312.5h.01M773.7 393.4h.01M755.1 397.0h.01M876.4 293.9h.01M779.7 388.8h.01M807.7 346.5h.01M811.6 256.6h.01M867.9 300.3h.01M783.2 339.5h.01M817.1 348.4h.01M861.7 305.0h.01M833.3 236.6h.01M786.0 377.0h.01M783.6 376.6h.01M782.6 382.6h.01M782.8 373.8h.01M801.5 363.7h.01M792.2 346.4h.01M788.0 366.7h.01M780.4 382.9h.01M829.8 329.2h.01M854.3 308.5h.01M773.4 392.6h.01M789.4 379.7h.01M786.0 379.4h.01M764.1 368.3h.01M808.8 358.8h.01M792.7 364.0h.01M849.0 318.8h.01M789.8 366.0h.01M842.4 315.8h.01M851.7 313.8h.01M841.9 319.2h.01M801.8 364.9h.01M848.4 307.4h.01M812.5 354.2h.01M732.7 430.5h.01M812.8 341.4h.01M825.1 326.0h.01M810.9 345.0h.01M794.0 369.1h.01M810.8 332.6h.01M858.6 264.7h.01M804.3 359.5h.01M880.9 287.3h.01M795.7 370.4h.01M815.2 335.7h.01M723.6 364.4h.01M830.0 339.0h.01M828.5 335.6h.01M854.4 283.6h.01M848.5 318.8h.01M933.1 226.0h.01M848.7 318.4h.01M791.8 370.1h.01M858.1 288.8h.01M885.3 282.8h.01M778.0 386.9h.01M791.4 370.0h.01M812.7 348.6h.01M806.2 347.2h.01M827.6 286.6h.01M810.4 349.9h.01M868.3 288.7h.01M775.7 370.6h.01M819.3 340.5h.01M883.0 282.4h.01M854.2 295.7h.01M838.7 315.5h.01M881.9 288.9h.01M781.8 366.7h.01M803.6 353.4h.01M816.1 346.6h.01M838.1 324.7h.01M776.1 389.7h.01M822.3 347.9h.01M827.1 325.4h.01M885.0 238.7h.01M835.0 334.9h.01M818.1 341.9h.01M805.0 354.3h.01M867.3 308.4h.01M840.7 322.7h.01M852.7 308.4h.01M840.3 328.5h.01M769.5 389.8h.01M766.7 393.7h.01M810.3 359.6h.01M788.0 373.3h.01M845.2 313.8h.01M802.9 351.8h.01M811.3 344.3h.01M793.2 370.8h.01M986.8 187.6h.01M798.3 370.4h.01M811.7 348.9h.01M861.4 308.9h.01M835.8 324.9h.01M785.2 380.9h.01M798.4 362.9h.01M816.3 345.6h.01M816.4 344.0h.01M795.5 359.7h.01M818.9 342.2h.01M786.0 376.8h.01M782.4 381.7h.01M779.0 382.9h.01M834.0 326.6h.01M838.3 311.5h.01M801.6 362.4h.01M801.0 357.6h.01M788.8 373.1h.01M872.2 291.5h.01M798.8 358.9h.01M847.8 318.2h.01M802.1 357.2h.01M762.4 394.0h.01M946.8 220.0h.01M892.8 265.8h.01M842.3 308.3h.01M738.1 418.8h.01M760.1 392.7h.01M799.6 369.6h.01M828.3 332.0h.01M837.9 318.8h.01M812.5 343.4h.01M800.4 361.9h.01M835.2 331.6h.01M814.2 335.6h.01M899.8 250.7h.01M829.8 331.8h.01M906.5 172.9h.01M757.6 403.4h.01M850.1 314.7h.01M786.3 380.7h.01M807.5 358.0h.01M823.1 344.9h.01M828.3 340.0h.01M772.3 395.8h.01M746.7 403.7h.01M878.3 273.8h.01M830.4 332.4h.01M855.8 311.4h.01M844.1 314.7h.01M792.0 366.5h.01M852.3 308.6h.01M880.1 294.0h.01M820.7 336.7h.01M846.3 324.5h.01M793.0 374.1h.01M800.6 362.4h.01M796.3 345.4h.01M845.1 325.2h.01M801.9 362.9h.01M817.5 348.5h.01M866.2 295.9h.01M834.6 315.1h.01M837.2 327.6h.01M784.8 371.6h.01M794.5 365.9h.01M820.6 346.2h.01M831.6 323.7h.01M793.3 369.2h.01M737.6 425.3h.01M833.2 322.9h.01M836.1 330.3h.01M781.4 382.0h.01M787.0 360.9h.01M876.3 290.9h.01M805.7 347.8h.01M836.7 325.6h.01M830.3 339.5h.01M820.4 339.0h.01M808.1 356.8h.01M893.8 268.3h.01M793.3 343.1h.01M794.1 362.5h.01M784.6 374.6h.01M890.8 281.0h.01M897.3 270.1h.01M791.1 370.1h.01M856.0 303.4h.01M793.7 354.8h.01M808.6 349.7h.01M839.7 318.9h.01M804.9 360.4h.01M879.7 273.8h.01M819.8 344.5h.01M779.4 379.7h.01M842.7 316.5h.01M794.4 370.0h.01M829.9 344.5h.01M781.0 375.0h.01M821.4 347.1h.01M756.7 402.3h.01M865.8 299.9h.01M814.4 348.5h.01M756.8 394.9h.01M784.9 373.1h.01M862.1 308.5h.01M829.8 333.3h.01M858.7 287.4h.01M771.3 310.5h.01M871.8 292.9h.01M849.4 312.6h.01M860.3 300.2h.01M789.3 366.1h.01M881.0 287.4h.01M839.8 320.0h.01M883.8 283.8h.01M846.7 328.8h.01M724.7 439.1h.01M865.8 284.6h.01M849.3 304.8h.01M793.7 370.7h.01M821.9 340.1h.01M806.9 344.8h.01M867.1 295.1h.01M906.9 164.0h.01M733.9 415.8h.01M878.3 272.0h.01M799.9 362.8h.01M844.2 323.9h.01M816.8 352.0h.01M795.5 364.9h.01M888.4 276.8h.01M799.4 362.9h.01M847.9 313.1h.01M820.7 340.0h.01M787.3 379.5h.01M717.3 434.8h.01M812.7 350.9h.01M811.9 351.9h.01M787.7 371.8h.01M822.1 339.7h.01M822.4 340.2h.01M837.5 333.6h.01M813.9 349.4h.01M884.7 281.2h.01M811.3 342.6h.01M881.4 280.5h.01M869.1 303.5h.01M851.9 317.6h.01M796.6 366.6h.01M819.0 346.8h.01M807.7 357.8h.01M911.8 222.5h.01M820.0 339.6h.01M802.1 365.9h.01M783.0 380.2h.01M811.0 355.7h.01M841.2 322.7h.01M727.0 436.4h.01M821.1 334.6h.01M771.8 375.6h.01M889.7 279.3h.01M964.2 202.1h.01M785.3 371.4h.01M791.0 364.0h.01M901.3 262.7h.01M789.1 378.5h.01M837.1 331.6h.01M876.9 288.9h.01M798.3 362.9h.01M864.3 294.1h.01M804.6 358.7h.01M798.6 355.3h.01M767.3 391.5h.01M804.1 343.3h.01M780.6 375.0h.01M808.7 345.4h.01M822.4 336.1h.01M850.3 319.2h.01M823.9 340.5h.01M789.9 371.8h.01M831.4 328.0h.01M852.7 305.8h.01M762.5 400.9h.01M783.2 369.5h.01M827.7 330.4h.01M791.1 366.6h.01M759.3 367.6h.01M799.0 345.3h.01M836.8 317.7h.01M810.4 353.2h.01M875.4 289.1h.01M849.4 250.6h.01M793.1 372.1h.01M846.4 313.3h.01M807.5 365.6h.01M789.9 358.3h.01M809.6 347.4h.01M920.7 250.9h.01M755.6 409.4h.01M836.8 330.4h.01M823.3 346.3h.01M815.0 349.1h.01M910.4 260.2h.01M799.6 359.5h.01M858.3 301.4h.01M774.5 386.1h.01M877.4 292.8h.01M873.3 280.8h.01M784.0 373.9h.01M776.6 388.2h.01M850.4 316.7h.01M891.3 280.0h.01M857.4 313.6h.01M788.4 375.0h.01M813.7 344.5h.01M796.6 366.7h.01M814.0 348.8h.01M844.5 305.0h.01M888.5 276.6h.01M837.2 333.1h.01M770.2 380.2h.01M811.8 345.4h.01M891.0 272.2h.01M842.4 300.4h.01M852.8 306.8h.01M834.9 329.7h.01M794.2 364.9h.01M869.7 291.1h.01M838.1 324.9h.01M785.4 376.5h.01M890.4 279.8h.01M854.2 280.1h.01M822.0 343.6h.01M782.3 382.1h.01M760.4 395.4h.01M870.8 282.5h.01M793.8 367.0h.01M803.3 365.6h.01M846.9 322.0h.01M797.1 346.6h.01M761.7 398.1h.01M763.6 385.1h.01M808.4 354.9h.01M869.5 294.0h.01M796.7 355.1h.01M811.3 356.8h.01M733.8 407.5h.01M830.9 325.2h.01M801.9 366.8h.01M808.7 350.5h.01M795.5 367.8h.01M772.5 386.6h.01M791.2 369.5h.01M772.8 395.7h.01M775.8 371.4h.01M824.3 340.3h.01M794.4 364.0h.01M791.2 356.0h.01M839.4 262.7h.01M841.4 263.1h.01M804.9 357.6h.01M840.1 328.4h.01M862.0 301.9h.01M800.2 356.5h.01M843.1 323.3h.01M814.2 344.0h.01M777.0 379.1h.01M857.8 303.3h.01M790.6 372.9h.01M825.9 341.8h.01M814.1 345.2h.01M789.7 373.2h.01M812.0 348.5h.01M775.3 388.9h.01M824.6 336.8h.01M824.5 333.0h.01M896.5 181.2h.01M899.2 265.6h.01M795.3 322.3h.01M807.2 336.2h.01M864.0 304.3h.01M805.5 353.7h.01M855.9 303.9h.01M824.6 341.6h.01M823.0 335.5h.01M838.9 327.3h.01M865.2 286.0h.01M819.5 332.9h.01M815.8 345.1h.01M842.1 325.6h.01M844.5 324.5h.01M806.8 363.7h.01M831.6 336.6h.01M817.6 342.7h.01M854.4 310.9h.01M857.7 285.3h.01M808.1 361.5h.01M795.5 352.2h.01M755.0 407.9h.01M938.0 202.6h.01M797.4 308.9h.01M796.9 368.1h.01M813.2 334.4h.01M918.7 245.2h.01M771.1 392.0h.01M791.9 368.6h.01M853.3 293.3h.01M779.8 379.6h.01M869.5 300.4h.01M821.6 338.8h.01M827.9 335.4h.01M841.9 326.9h.01M794.2 356.2h.01M801.8 366.0h.01M811.8 358.7h.01M857.7 313.0h.01M791.8 375.9h.01M771.1 388.5h.01M825.3 339.8h.01M819.2 348.2h.01M794.5 366.5h.01M863.9 302.7h.01M840.0 329.2h.01M816.8 336.6h.01M929.0 229.6h.01M734.4 424.2h.01M803.1 364.1h.01M803.1 363.3h.01M832.2 322.1h.01M793.0 364.3h.01M815.4 335.1h.01M791.4 320.9h.01M742.5 411.7h.01M796.4 368.4h.01M786.0 382.3h.01M860.4 310.6h.01M729.8 424.6h.01M849.8 316.8h.01M796.2 355.0h.01M842.9 324.9h.01M844.4 319.9h.01M749.8 410.3h.01M745.0 409.4h.01M865.5 275.2h.01M810.2 358.3h.01M821.0 336.4h.01M831.4 324.3h.01M795.3 366.5h.01M884.6 284.0h.01M923.1 244.9h.01M808.5 345.1h.01M760.6 398.4h.01M850.9 303.5h.01M790.8 368.2h.01M855.8 304.8h.01M850.5 316.2h.01M795.4 370.6h.01M793.0 363.4h.01M822.8 340.0h.01M806.3 303.8h.01M877.3 288.2h.01M825.1 252.1h.01M772.6 374.9h.01M863.9 302.3h.01M747.3 406.2h.01M788.1 371.7h.01M825.2 342.1h.01M813.6 354.3h.01M812.6 359.2h.01M857.9 308.7h.01M777.8 392.3h.01M789.3 374.0h.01M768.9 398.2h.01M904.6 262.5h.01M892.4 276.6h.01M810.7 290.0h.01M809.2 354.4h.01M822.6 334.3h.01M829.3 337.1h.01M834.0 333.4h.01M809.5 322.8h.01M871.4 293.6h.01M815.5 348.6h.01M786.0 339.5h.01M798.4 365.7h.01M795.3 349.6h.01M795.4 362.6h.01M799.6 308.1h.01M772.5 378.4h.01M840.0 316.0h.01M783.1 377.4h.01M902.5 265.9h.01M813.3 348.3h.01M824.8 340.6h.01M797.2 365.5h.01M787.0 380.7h.01M827.8 325.4h.01M788.8 363.6h.01M847.0 318.5h.01M873.4 299.0h.01M796.3 352.0h.01M798.7 368.4h.01M774.9 388.9h.01M860.3 276.5h.01M848.7 318.5h.01M840.8 324.4h.01M812.2 346.8h.01M812.3 340.9h.01M815.2 351.7h.01M802.0 351.5h.01M801.7 350.0h.01M735.0 425.5h.01M729.4 426.0h.01M781.3 384.0h.01M800.7 368.4h.01M821.5 344.3h.01M858.0 309.2h.01M822.6 342.8h.01M767.6 385.3h.01M742.2 403.2h.01M762.0 382.6h.01M786.6 381.2h.01M819.9 332.1h.01M764.4 406.5h.01M791.7 361.1h.01M776.8 382.1h.01M818.2 336.8h.01M789.5 357.6h.01M822.4 336.7h.01M925.0 215.0h.01M789.9 370.2h.01M763.7 402.1h.01M803.3 356.4h.01M863.1 300.4h.01M814.1 353.5h.01M846.1 311.5h.01M884.7 273.9h.01M900.7 258.0h.01M819.6 341.1h.01M820.7 341.3h.01M779.9 378.0h.01M765.6 388.4h.01M835.6 325.9h.01M773.1 389.9h.01M841.3 311.6h.01M851.5 317.7h.01M848.2 310.4h.01M811.9 348.4h.01M891.7 281.3h.01M767.2 393.5h.01M779.9 341.2h.01M792.7 362.4h.01M859.8 306.1h.01M793.3 362.4h.01M856.9 313.2h.01M819.3 336.2h.01M820.5 344.0h.01M861.3 304.3h.01M844.4 326.4h.01M841.6 317.8h.01M755.2 385.0h.01M787.0 376.9h.01M909.2 255.1h.01M783.1 374.4h.01M789.9 352.1h.01M836.6 322.1h.01M820.3 348.2h.01M992.5 159.7h.01M796.5 348.5h.01M769.5 370.8h.01M777.6 382.0h.01M853.8 318.3h.01M851.8 270.3h.01M864.3 299.7h.01M790.4 358.0h.01M786.5 376.2h.01M799.0 350.1h.01M777.0 390.6h.01M880.2 224.7h.01M798.9 358.0h.01M793.2 361.0h.01M847.9 317.6h.01M825.7 330.5h.01M813.7 357.3h.01M857.8 308.7h.01M895.5 272.3h.01M805.7 357.5h.01M856.2 314.5h.01M821.5 337.8h.01M840.6 327.4h.01M853.1 308.8h.01M880.1 287.2h.01M851.6 307.6h.01M844.0 321.4h.01M872.0 293.7h.01M805.6 342.0h.01M770.3 383.9h.01M877.4 291.4h.01M789.2 379.0h.01M795.3 363.5h.01M806.1 359.2h.01M810.5 308.0h.01M857.5 311.7h.01M849.3 322.0h.01M840.9 323.3h.01M805.6 346.8h.01M804.8 361.3h.01M837.7 330.5h.01M816.9 340.4h.01M765.2 394.7h.01M797.0 367.8h.01M877.5 277.3h.01M784.8 366.0h.01M808.9 359.8h.01M820.9 345.0h.01M801.4 359.6h.01M826.1 333.4h.01M843.7 314.2h.01M872.4 290.8h.01M830.5 315.9h.01M886.3 277.3h.01M832.8 330.7h.01M856.7 296.8h.01M792.2 376.6h.01M834.7 325.9h.01M820.9 342.4h.01M828.2 335.4h.01M844.3 323.4h.01M761.0 401.8h.01M841.6 328.5h.01M798.2 356.9h.01M815.5 333.8h.01M848.4 309.7h.01M839.9 331.2h.01M759.3 404.2h.01M881.9 285.9h.01M807.2 355.1h.01M809.7 355.8h.01M869.0 299.5h.01M779.3 387.3h.01M785.1 372.6h.01M748.0 414.1h.01M773.0 380.2h.01M797.5 361.1h.01M822.5 335.0h.01M801.2 346.8h.01M826.1 335.2h.01M809.0 350.1h.01M793.7 372.5h.01M806.6 359.7h.01M797.0 317.0h.01M923.3 251.2h.01M771.3 390.0h.01M818.7 333.4h.01M833.5 327.8h.01M757.8 409.4h.01M801.5 362.8h.01M847.6 312.1h.01M809.4 350.3h.01M824.5 333.2h.01M818.2 342.2h.01M781.2 301.8h.01M804.0 353.9h.01M827.1 337.1h.01M862.7 307.4h.01M845.8 318.9h.01M861.7 308.2h.01M806.3 357.9h.01M804.8 356.3h.01M843.9 303.9h.01M843.0 244.4h.01M765.1 381.4h.01M813.8 353.2h.01M766.0 393.0h.01M828.1 327.2h.01M760.4 384.3h.01M798.3 355.3h.01M763.3 391.9h.01M779.4 376.6h.01M847.8 315.0h.01M793.9 357.7h.01M889.1 271.1h.01M790.6 373.8h.01M803.5 348.0h.01M856.0 305.0h.01M761.5 400.6h.01M775.6 377.2h.01M780.5 376.6h.01M788.2 373.6h.01M810.2 354.0h.01M855.7 298.9h.01M806.8 362.2h.01M749.7 406.9h.01M841.6 298.5h.01M796.4 342.2h.01M835.5 323.3h.01M843.2 323.0h.01M803.8 360.2h.01M789.9 372.1h.01M785.7 367.2h.01M806.9 362.8h.01M845.0 321.5h.01M837.0 323.7h.01M866.1 301.0h.01M807.7 352.4h.01M792.5 368.9h.01M769.9 397.9h.01M875.5 291.4h.01M789.7 352.9h.01M800.1 353.1h.01M818.0 344.1h.01M825.5 326.6h.01M848.4 300.6h.01M800.0 290.1h.01M971.3 198.4h.01M879.6 293.1h.01M836.8 325.4h.01M824.2 339.1h.01M808.1 343.6h.01M825.3 342.3h.01M832.7 336.1h.01M795.3 371.9h.01M834.2 319.0h.01M773.5 375.2h.01M872.9 294.3h.01M890.4 223.1h.01M836.0 329.9h.01M830.2 271.6h.01M759.3 405.8h.01M881.6 280.4h.01M861.9 303.0h.01M854.2 311.3h.01M892.2 271.1h.01M816.6 353.7h.01M841.4 314.1h.01M801.4 343.5h.01M819.3 321.9h.01M772.3 382.9h.01M835.4 305.5h.01M906.3 262.0h.01M897.3 263.6h.01M810.7 353.7h.01M771.0 389.6h.01M807.5 339.9h.01M800.4 367.4h.01M771.7 387.2h.01M829.0 335.3h.01M844.0 322.7h.01M830.3 332.8h.01M844.8 325.7h.01M823.1 346.0h.01M770.4 328.4h.01M827.8 331.8h.01M804.7 355.4h.01M765.3 395.7h.01M850.1 257.4h.01M909.0 261.3h.01M881.6 290.7h.01M800.5 355.5h.01M725.9 434.0h.01M816.7 348.5h.01M771.5 390.7h.01M804.7 363.7h.01M851.7 324.3h.01M823.4 343.9h.01M806.4 352.6h.01M812.2 349.3h.01M829.9 327.1h.01M814.6 348.1h.01M806.5 350.0h.01M847.4 321.5h.01M906.1 258.5h.01M801.0 362.0h.01M761.1 395.1h.01M786.3 370.7h.01M762.2 383.3h.01M835.7 324.1h.01M832.8 334.7h.01M835.8 281.4h.01M803.0 352.5h.01M849.3 311.7h.01M857.6 308.9h.01M825.2 304.9h.01M867.0 298.5h.01M823.6 322.5h.01M824.3 307.3h.01M754.8 403.7h.01M804.9 362.2h.01M763.8 400.6h.01M797.8 356.1h.01M861.1 306.7h.01M764.9 400.1h.01M853.6 309.1h.01M890.2 273.9h.01M774.5 392.7h.01M892.7 278.8h.01M786.1 377.8h.01M860.4 311.1h.01M811.2 275.8h.01M822.2 341.6h.01M792.9 359.8h.01M850.9 319.2h.01M991.2 183.6h.01M783.2 382.7h.01M816.5 334.6h.01M835.1 337.7h.01M815.4 348.7h.01M787.1 372.9h.01M840.7 315.5h.01M785.0 375.0h.01M787.9 367.2h.01M883.0 282.8h.01M802.3 349.5h.01M828.7 335.2h.01M794.5 365.1h.01M822.1 344.7h.01M849.7 292.3h.01M892.8 275.4h.01M824.0 333.4h.01M802.6 332.6h.01M840.4 321.4h.01M764.0 399.3h.01M857.7 303.8h.01M846.3 311.8h.01M807.0 359.1h.01M793.1 375.2h.01M818.5 347.7h.01M830.7 331.2h.01M883.3 286.9h.01M795.9 373.9h.01M795.2 361.4h.01M788.3 377.2h.01M831.5 320.8h.01M887.9 277.5h.01M826.6 338.2h.01M737.8 416.1h.01M767.1 385.0h.01M738.1 406.5h.01M887.4 285.4h.01M856.2 308.0h.01M884.9 273.8h.01M741.0 420.9h.01M729.5 419.7h.01M789.8 377.2h.01M806.7 362.1h.01M806.8 353.1h.01M872.1 296.2h.01M793.4 370.0h.01M853.3 313.2h.01M795.9 370.8h.01M807.2 342.5h.01M759.6 379.2h.01M768.6 390.9h.01M799.8 356.9h.01M934.4 236.5h.01M813.6 349.1h.01M825.9 325.3h.01M792.7 373.5h.01M754.8 401.7h.01M818.3 346.1h.01M762.2 389.7h.01M814.8 339.1h.01M767.1 396.5h.01M903.5 261.7h.01M837.8 325.8h.01M840.6 326.1h.01M881.4 292.3h.01M827.9 338.4h.01M859.6 307.2h.01M830.8 336.1h.01M855.4 310.6h.01M764.6 397.7h.01M758.7 404.2h.01M819.3 338.1h.01M818.1 349.1h.01M794.5 372.5h.01M838.5 330.3h.01M835.6 319.9h.01M780.1 353.2h.01M897.7 258.9h.01M778.6 382.7h.01M814.2 349.3h.01M851.1 307.2h.01M787.9 374.5h.01M839.5 322.9h.01M859.2 295.0h.01M867.6 213.2h.01M904.4 262.2h.01M818.1 348.6h.01M871.9 293.2h.01M811.6 355.6h.01M893.4 272.3h.01M831.6 335.2h.01M816.0 346.2h.01M818.4 345.1h.01M775.0 326.9h.01M830.2 320.5h.01M853.1 311.7h.01M795.2 340.0h.01M856.3 303.9h.01M759.5 392.6h.01M777.0 380.9h.01M770.6 397.7h.01M800.8 361.1h.01M779.8 382.4h.01M801.6 349.0h.01M764.4 398.4h.01M792.7 364.6h.01M794.8 358.9h.01M801.2 361.4h.01M849.7 320.0h.01M812.0 351.3h.01M857.8 304.5h.01M827.8 332.9h.01M822.0 344.3h.01M852.3 310.5h.01M819.3 345.2h.01M845.2 319.9h.01M775.5 389.8h.01M805.7 293.7h.01M822.6 340.8h.01M765.5 384.1h.01M778.2 384.8h.01M815.7 333.5h.01M868.4 293.8h.01M824.7 332.6h.01M833.0 334.9h.01M780.3 377.2h.01M798.7 312.9h.01M902.9 262.4h.01M797.9 371.4h.01M823.9 315.5h.01M826.4 326.0h.01M867.3 301.3h.01M830.6 321.1h.01M776.8 372.6h.01M838.1 324.9h.01M872.1 292.2h.01M840.3 327.6h.01M789.4 335.5h.01M862.2 296.7h.01M849.9 309.6h.01M820.8 348.9h.01M799.7 358.5h.01M713.1 444.5h.01M764.1 389.6h.01M826.3 337.9h.01M964.8 205.1h.01M845.7 323.5h.01M799.4 311.3h.01M813.5 352.3h.01M819.3 341.3h.01M837.2 321.8h.01M747.8 409.5h.01M803.3 351.7h.01M859.8 306.6h.01M804.9 343.8h.01M769.5 383.1h.01M791.4 372.2h.01M766.2 391.6h.01M787.0 368.9h.01M839.7 327.4h.01M797.0 362.0h.01M828.7 310.4h.01M833.7 334.9h.01M848.6 321.5h.01M842.8 326.1h.01M845.9 311.0h.01M830.3 331.4h.01M885.1 274.5h.01M844.1 319.1h.01M744.6 413.3h.01M796.9 346.3h.01M806.3 350.8h.01M830.5 328.0h.01M868.7 299.9h.01M792.1 373.5h.01M824.4 339.2h.01M857.7 308.7h.01M828.1 338.8h.01M804.7 357.0h.01M834.0 335.3h.01M753.5 396.6h.01M853.2 311.0h.01M821.5 339.1h.01M855.9 305.9h.01M840.8 329.0h.01M818.4 337.1h.01M798.6 368.4h.01M906.1 255.9h.01M869.8 299.9h.01M890.6 274.6h.01M834.5 332.0h.01M769.2 392.8h.01M788.7 353.3h.01M859.3 299.7h.01M898.3 270.7h.01M829.6 334.8h.01M846.2 322.8h.01M807.2 359.5h.01M847.1 307.4h.01M827.0 305.1h.01M745.1 403.4h.01M843.1 323.4h.01M905.4 268.9h.01M833.0 328.7h.01M775.1 388.4h.01M825.5 344.1h.01M786.5 372.2h.01M911.0 231.7h.01M784.5 372.3h.01M851.3 293.5h.01M827.3 242.7h.01M774.8 388.5h.01M784.7 369.9h.01M810.0 350.2h.01M829.4 337.5h.01M763.6 394.0h.01M926.5 145.0h.01M830.1 339.9h.01M878.6 275.5h.01M880.9 285.6h.01M775.8 384.6h.01M827.1 337.6h.01M856.5 307.8h.01M870.1 295.2h.01M880.2 288.7h.01M822.8 341.3h.01M789.0 360.1h.01M832.9 335.0h.01M816.8 354.1h.01M853.4 316.1h.01M732.9 426.4h.01M963.2 201.1h.01M918.5 205.7h.01M770.1 386.4h.01M796.7 367.2h.01M878.8 292.6h.01M825.2 335.5h.01M774.2 381.5h.01M815.7 349.9h.01M841.7 309.6h.01M774.1 394.0h.01M813.1 353.4h.01M808.3 318.5h.01M793.3 370.1h.01M873.4 297.0h.01M836.0 323.4h.01M888.8 271.8h.01M815.9 341.6h.01M778.7 351.6h.01M833.2 334.1h.01M829.6 304.9h.01M810.9 352.6h.01M777.3 379.2h.01M811.7 351.3h.01M873.2 260.6h.01M761.0 396.9h.01M774.1 358.7h.01M771.6 375.7h.01M822.4 343.2h.01M824.2 337.9h.01M792.1 375.2h.01M848.9 306.9h.01M791.8 373.1h.01M788.1 378.9h.01M845.3 321.5h.01M839.7 318.9h.01M861.0 297.0h.01M809.4 353.6h.01M793.4 364.6h.01M800.6 358.1h.01M853.9 309.5h.01M792.7 361.8h.01M858.2 303.8h.01M779.9 382.6h.01M742.0 418.5h.01M819.8 337.9h.01M840.5 324.1h.01M850.7 313.2h.01M824.8 343.5h.01M763.2 391.0h.01M857.2 311.4h.01M878.1 283.6h.01M764.9 390.1h.01M806.0 359.4h.01M908.7 193.8h.01M823.6 320.2h.01M858.1 309.3h.01M810.0 360.3h.01M846.5 312.0h.01M773.2 391.9h.01M841.0 322.9h.01M807.2 355.0h.01M813.4 351.8h.01M798.4 367.9h.01M866.7 302.2h.01M755.7 404.8h.01M801.8 366.3h.01M807.7 354.7h.01M787.8 368.9h.01M851.4 307.1h.01M821.5 325.0h.01M845.3 321.3h.01M806.5 349.2h.01M817.3 339.8h.01M765.3 396.4h.01M748.3 390.5h.01M798.5 360.1h.01M766.0 398.6h.01M832.5 330.7h.01M790.4 369.4h.01M840.0 329.1h.01M883.0 268.1h.01M858.3 307.7h.01M902.0 256.3h.01M803.5 338.4h.01M873.1 287.0h.01M844.7 316.0h.01M837.5 324.7h.01M809.2 349.1h.01M806.0 354.6h.01M809.5 349.2h.01M862.1 294.6h.01M809.8 351.0h.01M803.6 355.3h.01M829.3 327.8h.01M831.7 337.9h.01M843.8 278.6h.01M816.5 349.0h.01M821.5 344.1h.01M862.8 303.3h.01M831.7 332.2h.01M770.5 361.9h.01M779.1 378.1h.01M886.3 273.8h.01M788.0 363.0h.01M791.8 373.7h.01M795.2 365.4h.01M848.0 324.4h.01M850.4 302.9h.01M762.3 401.7h.01M810.5 347.5h.01M756.6 403.7h.01M822.0 342.7h.01M830.0 341.9h.01M779.0 382.0h.01M805.0 357.5h.01M872.9 285.3h.01M777.0 388.5h.01M829.2 324.3h.01M899.3 258.7h.01M777.9 384.0h.01M764.9 394.9h.01M800.6 358.0h.01M850.5 290.8h.01M839.7 327.9h.01M912.9 252.2h.01M819.0 338.1h.01M787.4 368.6h.01M825.4 337.0h.01M802.2 355.6h.01M863.5 263.8h.01M908.7 252.7h.01M808.1 353.0h.01M823.1 341.4h.01M803.2 357.6h.01M836.1 331.8h.01M817.1 332.0h.01M785.3 374.3h.01M798.9 367.3h.01M779.7 380.6h.01M873.1 292.2h.01M748.2 401.4h.01M818.6 349.2h.01M888.0 228.6h.01M818.4 338.4h.01M844.0 317.5h.01M777.9 391.9h.01M828.9 327.4h.01M766.8 396.1h.01M797.6 369.5h.01M974.4 187.6h.01M851.5 312.9h.01M840.1 326.0h.01M745.8 408.8h.01M798.7 360.6h.01M868.8 285.2h.01M818.7 340.2h.01M894.8 265.2h.01M768.2 382.0h.01M768.5 374.7h.01M849.8 314.6h.01M822.1 340.3h.01M851.7 309.1h.01M834.5 330.3h.01M820.8 343.7h.01M733.3 431.1h.01M846.5 312.7h.01M798.4 362.5h.01M817.4 350.7h.01M816.0 339.8h.01M845.3 324.2h.01M787.9 371.5h.01M860.8 298.6h.01M857.5 308.1h.01M841.6 321.1h.01M771.1 395.2h.01M788.6 366.9h.01M832.6 317.8h.01M823.5 341.2h.01M783.8 379.5h.01M789.4 373.6h.01M845.5 313.7h.01M791.1 348.0h.01M862.8 300.7h.01M878.3 276.5h.01M788.0 373.7h.01M811.2 358.0h.01M810.3 358.2h.01M814.0 341.2h.01M765.0 388.1h.01M794.2 373.8h.01M792.6 340.5h.01M818.5 350.0h.01M816.7 352.2h.01M819.9 342.8h.01M774.8 388.6h.01M849.7 309.5h.01M830.4 329.7h.01M790.1 371.3h.01M792.0 369.8h.01M820.8 340.9h.01M824.7 337.1h.01M773.8 389.0h.01M874.5 287.6h.01M761.7 400.0h.01M779.0 359.3h.01M755.6 397.3h.01M847.2 314.0h.01M777.2 378.0h.01M827.2 331.9h.01M863.9 301.0h.01M797.4 293.9h.01M835.4 323.1h.01M868.0 278.7h.01M797.5 350.9h.01M769.8 395.1h.01M792.8 367.1h.01M793.3 363.2h.01M860.9 304.3h.01M874.6 293.0h.01M849.6 312.5h.01M852.2 319.5h.01M833.1 336.9h.01M755.4 399.9h.01M876.2 290.3h.01M849.6 317.3h.01M824.6 341.3h.01M978.7 189.9h.01M805.5 357.0h.01M877.4 287.0h.01M791.1 372.7h.01M813.0 336.8h.01M888.6 275.2h.01M770.4 391.3h.01M778.6 378.4h.01M789.4 371.1h.01M845.8 315.9h.01M812.1 353.9h.01M801.9 360.1h.01M758.7 390.9h.01M857.0 294.7h.01M799.0 331.5h.01M847.6 317.7h.01M845.9 255.5h.01M825.0 336.7h.01M827.0 339.2h.01M913.6 253.0h.01M736.7 414.3h.01M803.9 361.8h.01M803.1 362.4h.01M756.5 409.7h.01M845.9 320.7h.01M832.1 321.9h.01M783.4 375.5h.01M860.2 306.6h.01M845.4 319.8h.01M844.7 300.9h.01M862.3 307.7h.01M852.4 314.4h.01M789.5 377.5h.01M827.7 339.2h.01M903.5 266.0h.01M791.9 365.1h.01M798.2 355.8h.01M813.4 356.2h.01M822.4 336.4h.01M782.9 375.1h.01M874.0 293.1h.01M875.8 291.7h.01M867.7 301.7h.01M808.8 347.8h.01M808.5 352.5h.01M821.7 341.4h.01M799.2 362.3h.01M782.1 371.1h.01M803.1 363.3h.01M863.4 303.5h.01M825.5 338.7h.01M877.3 287.3h.01M846.3 327.7h.01M741.5 408.4h.01M848.6 310.7h.01M835.7 328.6h.01M876.2 290.6h.01M867.8 301.9h.01M797.8 363.0h.01M789.7 378.9h.01M786.0 376.5h.01M759.4 402.0h.01M886.4 287.1h.01M817.1 337.6h.01M800.4 358.6h.01M842.9 325.3h.01M823.0 329.6h.01M732.0 431.0h.01M831.6 321.6h.01M825.4 329.7h.01M836.9 321.8h.01M786.0 350.8h.01M795.4 359.9h.01M862.3 300.3h.01M852.0 316.5h.01M805.7 362.3h.01M787.7 362.2h.01M798.3 364.7h.01M860.5 300.5h.01M846.9 325.5h.01M794.1 322.2h.01M844.6 315.9h.01M797.1 355.6h.01M816.6 345.2h.01M826.0 341.0h.01M764.6 383.2h.01M829.8 339.9h.01M825.1 326.5h.01M799.7 365.0h.01M815.0 343.8h.01M757.8 408.6h.01M919.6 246.9h.01M824.2 343.1h.01M803.4 293.4h.01M799.8 366.9h.01M819.2 343.8h.01M852.0 310.2h.01M770.9 393.7h.01M806.7 356.6h.01M845.9 314.5h.01M928.0 242.4h.01M779.5 383.6h.01M820.3 323.1h.01M873.9 290.2h.01M851.9 315.5h.01M824.2 333.0h.01M787.2 376.9h.01M912.3 184.4h.01M736.9 426.0h.01M865.7 295.7h.01M879.8 284.8h.01M849.3 313.8h.01M868.6 301.8h.01M842.4 321.5h.01M762.7 398.6h.01M821.6 331.2h.01M819.2 327.7h.01M778.1 384.2h.01M831.5 327.3h.01M851.2 306.8h.01M868.6 298.9h.01M893.8 262.2h.01M778.4 379.5h.01M786.3 369.2h.01M810.3 347.9h.01M785.6 375.3h.01M794.3 337.4h.01M775.1 390.0h.01M859.7 306.5h.01M801.9 351.6h.01M779.6 372.3h.01M827.8 333.2h.01M842.7 317.8h.01M875.8 287.0h.01M778.7 368.2h.01M824.7 339.3h.01M732.4 416.1h.01M782.9 330.9h.01M752.3 407.1h.01M865.1 297.8h.01M909.5 250.6h.01M763.8 388.1h.01M797.7 368.4h.01M789.8 365.4h.01M875.7 283.1h.01M756.8 407.1h.01M801.4 363.0h.01M864.8 294.8h.01M752.1 414.5h.01M803.9 356.6h.01M846.4 315.6h.01M836.9 331.9h.01M798.4 365.2h.01M791.6 371.2h.01M878.6 280.0h.01M806.4 360.8h.01M792.6 370.0h.01M747.8 414.1h.01M803.1 362.7h.01M812.2 353.2h.01M846.9 222.3h.01M897.2 264.0h.01M814.8 340.6h.01M789.4 377.9h.01M791.9 305.3h.01M739.2 424.8h.01M769.1 393.0h.01M842.5 316.9h.01M758.8 403.0h.01M791.3 368.9h.01M799.5 365.9h.01M788.0 382.1h.01M807.7 356.2h.01M864.7 263.7h.01M857.0 308.7h.01M826.1 330.8h.01M821.5 348.9h.01M798.6 361.5h.01M836.3 333.8h.01M785.5 374.4h.01M886.4 271.6h.01M853.1 319.2h.01M866.8 296.1h.01M793.8 369.8h.01M831.1 333.7h.01M849.1 308.7h.01M800.2 355.9h.01M857.6 307.7h.01M844.1 324.8h.01M796.4 361.9h.01M803.4 331.3h.01M814.2 342.7h.01M829.3 330.3h.01M757.0 399.6h.01M828.4 327.9h.01M799.4 359.9h.01M806.1 346.0h.01M882.3 283.1h.01M854.4 315.9h.01M856.6 312.4h.01M860.7 307.8h.01M787.7 375.1h.01M789.4 374.1h.01M842.1 316.0h.01M808.2 336.1h.01M825.6 331.4h.01M831.9 329.7h.01M802.9 362.0h.01M788.3 366.7h.01M838.0 331.9h.01M815.2 342.4h.01M790.7 351.3h.01M845.1 318.3h.01M870.3 251.7h.01M831.3 331.6h.01M778.2 374.2h.01M869.4 285.2h.01M790.4 371.7h.01M783.7 381.6h.01M760.2 403.1h.01M787.5 378.4h.01M905.1 265.2h.01M757.9 399.5h.01M867.2 297.7h.01M805.2 359.7h.01M783.7 378.4h.01M873.4 299.3h.01M773.8 372.5h.01M828.0 332.8h.01M815.3 329.9h.01M798.3 359.6h.01M782.1 378.1h.01M854.0 305.4h.01M789.4 374.5h.01M842.8 321.4h.01M851.1 316.3h.01M839.3 325.7h.01M835.2 332.1h.01M795.6 355.1h.01M890.2 278.9h.01M770.6 392.9h.01M847.5 290.1h.01M810.3 347.5h.01M800.9 363.0h.01M723.6 424.1h.01M869.1 295.5h.01M810.5 351.9h.01M843.6 314.4h.01M811.6 359.5h.01M829.7 336.6h.01M855.5 315.0h.01M876.6 289.2h.01M767.2 394.7h.01M826.6 340.3h.01M774.0 379.9h.01M875.6 294.6h.01M861.9 296.1h.01M779.5 378.3h.01M824.2 338.6h.01M972.2 202.4h.01M800.3 350.9h.01M807.7 360.3h.01M862.9 295.8h.01M832.4 333.4h.01M827.1 332.3h.01M875.5 289.0h.01M840.0 321.1h.01M760.5 379.9h.01M795.7 362.0h.01M769.9 394.7h.01M816.5 338.1h.01M801.1 362.3h.01M811.5 336.7h.01M740.4 413.4h.01M823.4 340.5h.01M882.2 282.8h.01M911.1 184.2h.01M770.3 394.8h.01M770.0 392.8h.01M806.9 361.0h.01M792.0 368.5h.01M827.8 340.3h.01M774.7 315.6h.01M794.9 368.9h.01M867.2 243.0h.01M882.7 284.4h.01M932.8 210.3h.01M788.0 369.6h.01M810.5 353.7h.01M896.7 260.1h.01M774.0 388.2h.01M845.6 305.1h.01M793.5 371.7h.01M812.6 350.2h.01M804.3 331.9h.01M842.0 325.4h.01M794.8 363.8h.01M787.8 378.6h.01M737.2 426.8h.01M800.3 367.6h.01M892.6 269.8h.01M799.1 360.0h.01M815.5 337.6h.01M785.2 366.1h.01M755.3 410.4h.01M822.6 328.3h.01M820.2 336.9h.01M824.3 332.9h.01M812.1 344.5h.01M864.5 304.0h.01M837.6 322.5h.01M868.0 297.3h.01M764.9 393.7h.01M764.2 391.6h.01M821.1 335.2h.01M858.2 316.6h.01M861.3 295.5h.01M851.7 319.4h.01M851.2 309.5h.01M894.7 269.2h.01M890.6 279.2h.01M774.3 385.8h.01M815.3 345.8h.01M816.3 349.2h.01M827.2 341.0h.01M769.8 381.3h.01M834.1 312.8h.01M768.8 382.2h.01M822.1 346.7h.01M809.2 356.5h.01M854.3 317.7h.01M864.4 293.3h.01M806.4 348.4h.01M826.1 346.4h.01M858.7 289.7h.01M849.7 221.2h.01M788.9 355.1h.01M759.3 393.0h.01M788.8 370.2h.01M774.0 383.6h.01M798.2 363.5h.01M822.2 336.3h.01M896.4 276.1h.01M841.9 325.2h.01M845.0 315.6h.01M808.9 355.6h.01M853.2 297.5h.01M803.1 359.6h.01M861.3 309.3h.01M841.7 310.3h.01M828.1 333.7h.01M773.7 388.9h.01M814.0 351.3h.01M908.1 250.9h.01M854.4 308.0h.01M849.5 307.4h.01M970.6 200.1h.01M756.2 406.2h.01M900.7 264.9h.01M818.2 343.1h.01M899.6 203.5h.01M861.4 304.7h.01M856.5 312.4h.01M901.3 270.8h.01M823.5 330.8h.01M819.7 336.5h.01M767.5 386.7h.01M756.7 382.4h.01M820.9 344.3h.01M761.8 393.6h.01M759.7 395.4h.01M767.3 397.3h.01M823.5 343.7h.01M798.0 359.7h.01M858.9 306.3h.01M828.7 336.1h.01M834.6 330.6h.01M853.3 309.6h.01M844.4 266.9h.01M906.3 253.7h.01M755.6 401.7h.01M859.6 298.1h.01M865.5 289.7h.01M860.0 304.3h.01M807.2 348.9h.01M861.9 300.9h.01M904.8 264.1h.01M831.1 314.7h.01M850.8 312.7h.01M801.8 357.3h.01M792.7 361.0h.01M768.9 376.0h.01M761.7 393.3h.01M798.9 358.3h.01M776.1 383.5h.01M889.0 271.4h.01M807.8 353.1h.01M782.1 387.8h.01M838.8 328.7h.01M838.7 319.3h.01M855.4 302.0h.01M832.5 315.4h.01M842.8 324.0h.01M759.3 404.5h.01M844.1 319.8h.01M794.7 367.4h.01M844.7 319.5h.01M843.9 326.8h.01M778.2 386.1h.01M793.2 376.4h.01M836.6 325.6h.01M874.1 292.0h.01M933.0 232.7h.01M715.1 443.0h.01M770.8 393.0h.01M777.0 385.9h.01M839.4 324.1h.01M788.9 365.5h.01M766.1 390.0h.01M856.4 300.5h.01M760.9 387.5h.01M736.6 424.8h.01M778.3 380.4h.01M816.0 351.2h.01M802.8 355.6h.01M825.1 332.1h.01M884.5 283.1h.01M833.0 325.6h.01M803.7 302.4h.01M827.5 338.6h.01M872.3 286.8h.01M765.1 394.3h.01M837.2 319.3h.01M989.2 172.0h.01M808.2 339.5h.01M833.2 313.7h.01M814.6 349.3h.01M881.3 266.1h.01M774.6 388.2h.01M797.0 359.8h.01M823.0 337.1h.01M811.4 344.5h.01M787.9 364.7h.01M856.7 308.3h.01M898.9 276.8h.01M836.1 327.3h.01M907.4 252.3h.01M803.7 361.6h.01M972.9 199.2h.01M795.1 370.0h.01M870.2 295.3h.01M862.6 303.2h.01M831.7 325.4h.01M831.4 335.7h.01M847.1 324.8h.01M844.4 323.1h.01M861.1 300.0h.01M817.6 319.5h.01M769.0 392.8h.01M869.9 287.3h.01M801.9 360.8h.01M807.2 354.9h.01M771.8 378.3h.01M849.2 304.6h.01M855.6 311.6h.01M816.3 349.5h.01M804.6 347.0h.01M720.7 441.4h.01M804.2 357.7h.01M831.1 334.3h.01M771.7 385.4h.01M744.9 418.2h.01M791.2 353.6h.01M839.9 304.0h.01M764.4 382.9h.01M799.8 367.5h.01M915.6 215.5h.01M766.3 397.0h.01M831.0 325.0h.01M780.3 380.9h.01M828.8 329.3h.01M825.1 325.8h.01M905.2 260.5h.01M810.3 354.0h.01M864.8 288.6h.01M825.4 326.7h.01M854.5 308.6h.01M799.3 355.0h.01M870.6 286.9h.01M794.0 368.0h.01M860.7 302.0h.01M781.9 374.4h.01M787.9 379.9h.01M805.9 351.4h.01M826.2 339.8h.01" stroke="#b0559f" stroke-width="2.1" stroke-linecap="round" fill="none"/>
<path d="M839.7 333.3h.01M844.2 342.9h.01M780.3 397.5h.01M815.0 364.3h.01M777.0 400.9h.01M843.8 335.8h.01M820.2 357.0h.01M847.8 332.0h.01M850.7 319.0h.01M791.3 382.3h.01M805.9 374.9h.01M806.3 371.6h.01M876.8 300.6h.01M835.5 340.3h.01M776.2 401.5h.01M832.4 333.3h.01M805.4 367.1h.01M849.8 318.5h.01M970.6 210.5h.01M804.7 360.0h.01M835.6 341.4h.01M757.7 407.9h.01M737.7 442.1h.01M838.3 340.9h.01M818.8 359.3h.01M781.7 390.8h.01M877.9 298.8h.01M754.3 426.7h.01M842.6 335.6h.01M930.9 246.0h.01M801.4 368.5h.01M819.9 349.7h.01M834.0 347.9h.01M802.8 369.5h.01M822.5 348.8h.01M814.2 365.3h.01M789.5 384.8h.01M763.5 406.8h.01M844.4 328.7h.01M796.7 380.5h.01M856.1 320.8h.01M853.2 322.8h.01M781.9 396.4h.01M838.5 342.5h.01M851.1 325.0h.01M767.3 411.3h.01M782.8 390.1h.01M793.1 377.7h.01M875.5 303.3h.01M830.8 351.5h.01M864.9 311.9h.01M764.3 407.0h.01M838.1 346.3h.01M829.1 340.1h.01M832.6 334.2h.01M814.9 363.2h.01M783.7 388.1h.01M806.8 374.1h.01M804.5 368.2h.01M753.3 427.4h.01M778.2 399.6h.01M811.6 359.1h.01M866.1 318.7h.01M902.2 275.9h.01M827.5 346.5h.01M731.2 436.4h.01M822.2 354.5h.01M849.2 319.4h.01M795.3 384.5h.01M863.0 311.8h.01M880.7 292.7h.01M821.9 351.8h.01M894.5 279.4h.01M882.1 296.9h.01M858.1 315.9h.01M776.2 387.1h.01M802.9 370.7h.01M770.4 409.7h.01M889.5 284.2h.01M978.9 199.6h.01M810.2 365.4h.01M888.6 288.0h.01M786.9 391.6h.01M798.3 370.6h.01M765.2 404.1h.01M786.0 387.2h.01M781.2 393.2h.01M826.8 342.8h.01M850.8 323.8h.01M836.4 339.7h.01M742.3 423.2h.01M812.1 357.8h.01M807.5 368.1h.01M841.0 326.5h.01M811.2 360.7h.01M806.5 377.3h.01M798.4 373.5h.01M984.4 200.3h.01M821.7 354.4h.01M862.4 317.7h.01M853.9 328.7h.01M811.0 358.8h.01M798.5 384.8h.01M807.3 365.0h.01M846.1 324.8h.01M798.6 378.5h.01M770.4 397.4h.01M866.7 309.9h.01M755.4 418.4h.01M758.9 420.8h.01M807.0 370.2h.01M819.3 359.0h.01M812.0 353.5h.01M853.3 323.7h.01M798.8 374.7h.01M816.2 357.3h.01M816.6 357.0h.01M829.5 358.8h.01M853.5 317.6h.01M793.3 387.0h.01M934.2 249.3h.01M819.6 356.4h.01M826.5 351.6h.01M801.1 374.2h.01M797.9 377.0h.01M822.8 345.1h.01M884.0 295.0h.01M862.1 315.5h.01M808.7 357.8h.01M930.2 248.8h.01M779.2 386.5h.01M820.7 364.6h.01M809.3 361.7h.01M806.8 363.8h.01M799.6 365.5h.01M785.4 398.3h.01M772.4 395.8h.01M905.6 271.8h.01M835.0 343.9h.01M772.9 391.9h.01M803.3 367.6h.01M803.9 375.4h.01M804.1 372.7h.01M779.9 401.5h.01M785.1 389.1h.01M780.1 396.5h.01M790.1 386.1h.01M828.3 347.1h.01M920.3 262.3h.01M809.7 366.4h.01M812.2 358.8h.01M778.6 392.3h.01M861.5 312.7h.01M764.3 407.3h.01M888.5 288.9h.01M853.0 330.0h.01M814.7 370.0h.01M738.2 435.9h.01M822.3 345.4h.01M778.7 387.9h.01M953.8 217.3h.01M914.1 263.5h.01M836.7 337.0h.01M826.0 344.6h.01M809.5 359.5h.01M814.7 361.0h.01M803.9 377.8h.01M833.3 341.1h.01M826.0 348.5h.01M865.2 310.2h.01M839.7 339.7h.01M801.5 362.5h.01M819.0 349.8h.01M852.7 324.5h.01M844.9 326.6h.01M839.1 340.1h.01M832.2 337.4h.01M816.8 352.7h.01M768.0 400.9h.01M845.4 331.9h.01M888.2 284.9h.01M826.8 347.4h.01M769.7 395.0h.01M837.7 333.0h.01M804.2 373.6h.01M799.2 379.2h.01M817.1 356.8h.01M815.9 357.3h.01M879.9 304.6h.01M802.9 370.2h.01M968.0 210.0h.01M843.1 335.2h.01M788.8 376.8h.01M808.9 366.5h.01M818.1 350.3h.01M791.6 379.0h.01M839.5 335.0h.01M905.6 276.2h.01M852.0 311.6h.01M800.3 381.9h.01M787.9 386.2h.01M772.6 398.3h.01M830.6 352.0h.01M786.1 394.5h.01M858.1 323.7h.01M846.2 327.5h.01M795.2 374.3h.01M802.6 374.0h.01M797.5 385.8h.01M833.3 337.0h.01M780.5 385.1h.01M785.9 382.7h.01M824.4 342.3h.01M834.4 340.7h.01M784.6 397.0h.01M805.3 367.5h.01M793.6 380.5h.01M842.0 333.9h.01M873.4 299.0h.01M809.4 369.5h.01M844.8 323.6h.01M806.6 368.7h.01M759.9 408.9h.01M906.3 266.6h.01M820.9 359.3h.01M847.5 326.7h.01M866.7 304.9h.01M890.5 287.8h.01M793.0 376.1h.01M791.4 380.8h.01M858.5 315.6h.01M769.2 403.4h.01M843.5 327.7h.01M828.9 337.3h.01M797.6 375.7h.01M878.4 304.1h.01M740.3 437.6h.01M944.3 234.9h.01M814.6 357.2h.01M786.6 387.1h.01M839.5 331.9h.01M837.3 340.5h.01M827.0 351.0h.01M816.0 358.3h.01M827.3 347.7h.01M797.9 385.7h.01M748.4 419.8h.01M831.6 339.5h.01M770.6 401.1h.01M807.8 372.2h.01M814.0 359.4h.01M822.9 361.1h.01M757.2 415.3h.01M827.0 344.0h.01M811.0 358.4h.01M823.0 355.3h.01M776.9 396.2h.01M812.1 358.1h.01M894.2 281.1h.01M777.6 394.8h.01M802.5 371.5h.01M935.3 238.8h.01M816.6 361.0h.01M829.9 342.4h.01M830.3 344.3h.01M807.4 365.3h.01M846.0 327.7h.01M792.9 380.9h.01M778.3 402.2h.01M853.8 321.1h.01M913.7 260.8h.01M776.4 400.9h.01M838.4 338.2h.01M818.4 354.2h.01M808.7 364.9h.01M883.1 291.2h.01M835.2 349.5h.01M816.2 361.3h.01M855.7 321.9h.01M767.2 404.3h.01M828.0 351.8h.01M831.1 350.4h.01M889.9 287.3h.01M882.9 297.1h.01M849.5 327.4h.01M763.4 408.6h.01M843.2 332.3h.01M863.0 310.4h.01M775.7 396.0h.01M814.6 365.6h.01M764.9 400.9h.01M793.6 377.9h.01M773.9 399.5h.01M842.6 329.8h.01M857.6 316.1h.01M855.6 313.7h.01M788.7 382.4h.01M796.7 372.5h.01M854.8 321.1h.01M846.3 329.7h.01M758.0 415.2h.01M846.2 334.1h.01M779.6 397.2h.01M785.2 390.3h.01M858.5 319.4h.01M845.6 329.1h.01M838.2 342.7h.01M826.1 353.3h.01M794.9 387.5h.01M805.0 365.3h.01M776.5 390.3h.01M864.4 308.4h.01M875.6 304.7h.01M853.9 323.4h.01M853.5 320.2h.01M772.2 400.2h.01M832.6 336.3h.01M786.1 394.0h.01M790.2 375.8h.01M806.0 360.5h.01M815.0 356.3h.01M803.5 369.8h.01M760.3 409.3h.01M794.0 386.4h.01M836.8 347.9h.01M766.9 408.5h.01M873.2 302.8h.01M851.7 321.9h.01M831.7 346.5h.01M790.0 384.1h.01M791.4 386.9h.01M814.0 369.1h.01M788.4 389.0h.01M847.7 328.1h.01M851.7 333.5h.01M848.8 322.2h.01M809.1 371.2h.01M812.6 356.1h.01M771.5 404.7h.01M841.1 341.8h.01M818.3 361.7h.01M866.1 319.9h.01M793.6 388.1h.01M820.1 356.1h.01M797.3 374.2h.01M791.0 381.0h.01M786.1 382.2h.01M817.2 354.1h.01M764.5 410.1h.01M803.8 364.8h.01M871.5 301.2h.01M836.9 339.5h.01M789.1 386.0h.01M797.3 373.9h.01M869.6 309.4h.01M883.9 285.0h.01M819.5 353.6h.01M873.2 313.0h.01M815.3 364.0h.01M897.4 278.2h.01M872.2 310.5h.01M798.7 378.2h.01M747.1 422.9h.01M815.6 354.1h.01M843.4 332.5h.01M865.4 321.6h.01M867.7 310.6h.01M789.2 385.1h.01M830.8 345.8h.01M832.8 342.7h.01M815.5 353.8h.01M827.5 345.7h.01M817.2 360.2h.01M765.4 404.4h.01M880.5 293.8h.01M820.6 351.3h.01M888.1 284.0h.01M847.6 327.4h.01M907.2 279.5h.01M843.6 326.4h.01M838.2 335.8h.01M783.2 399.7h.01M795.6 370.1h.01M910.3 266.3h.01M798.5 377.5h.01M894.9 283.5h.01M806.6 370.6h.01M790.2 391.3h.01M772.6 396.7h.01M779.6 394.3h.01M842.4 328.8h.01M780.3 389.9h.01M772.9 399.1h.01M829.6 345.9h.01M866.2 311.6h.01M794.7 373.4h.01M919.3 263.7h.01M771.3 394.4h.01M809.5 360.8h.01M725.4 448.4h.01M795.5 377.8h.01M788.8 382.0h.01M807.4 359.3h.01M857.4 323.3h.01M852.5 323.7h.01M799.5 367.6h.01M800.0 373.7h.01M812.1 356.6h.01M744.8 422.0h.01M828.1 345.7h.01M804.2 376.7h.01M815.4 369.4h.01M763.4 403.2h.01M839.0 341.9h.01M809.4 373.8h.01M835.4 344.0h.01M780.9 389.2h.01M785.9 381.2h.01M819.0 352.0h.01M770.0 400.2h.01M792.7 386.9h.01M871.0 314.0h.01M905.8 273.3h.01M820.7 354.3h.01M791.2 386.2h.01M721.3 455.0h.01M755.3 421.3h.01M856.4 327.2h.01M818.2 349.9h.01M833.2 339.8h.01M743.2 432.0h.01M868.1 304.4h.01M786.1 380.9h.01M847.6 321.6h.01M770.0 402.1h.01M846.7 331.0h.01M770.4 402.3h.01M796.2 377.4h.01M813.0 356.8h.01M822.1 350.9h.01M860.2 313.4h.01M861.1 320.9h.01M876.8 301.0h.01M823.7 349.0h.01M775.8 394.1h.01M798.7 369.8h.01M799.3 375.4h.01M823.8 357.8h.01M781.1 390.8h.01M781.4 398.0h.01M824.1 351.0h.01M880.6 300.4h.01M820.9 348.6h.01M816.0 357.0h.01M762.1 409.1h.01M850.0 329.3h.01M809.6 367.9h.01M832.4 350.3h.01M886.0 301.6h.01M854.8 321.5h.01M803.5 377.1h.01M814.7 360.4h.01M803.7 370.8h.01M810.9 358.7h.01M795.8 377.7h.01M798.8 382.7h.01M830.6 342.8h.01M852.4 325.6h.01M820.4 354.0h.01M778.9 395.6h.01M788.9 385.2h.01M796.4 373.9h.01M777.6 397.2h.01M797.3 377.4h.01M835.1 344.1h.01M862.5 321.5h.01M799.6 369.2h.01M876.6 295.3h.01M839.7 341.7h.01M811.3 362.9h.01M859.1 312.8h.01M881.3 295.9h.01M754.6 417.4h.01M817.1 360.8h.01M783.1 392.3h.01M833.6 335.5h.01M850.7 331.3h.01M818.2 360.1h.01M803.4 371.4h.01M769.4 403.2h.01M761.1 411.3h.01M843.8 330.0h.01M791.5 384.3h.01M837.1 338.2h.01M790.8 379.9h.01M827.3 347.9h.01M764.5 408.6h.01M773.8 395.1h.01M790.4 386.2h.01M828.0 349.7h.01M843.7 330.1h.01M826.5 347.3h.01M845.9 338.0h.01M805.8 371.9h.01M737.8 430.5h.01M769.1 403.2h.01M843.8 332.8h.01M812.1 359.4h.01M850.7 334.5h.01M834.0 336.0h.01M796.4 370.5h.01M880.9 296.0h.01M828.0 348.9h.01M879.1 296.6h.01M726.2 442.9h.01M852.1 324.3h.01M784.6 396.4h.01M854.8 317.3h.01M837.9 341.7h.01M861.0 322.8h.01M821.2 345.8h.01M814.9 363.2h.01M908.9 275.1h.01M829.5 345.5h.01M842.0 327.3h.01M830.0 346.5h.01M779.9 391.1h.01M808.2 366.9h.01M825.3 355.9h.01M806.5 364.5h.01M816.6 356.1h.01M826.9 345.4h.01M850.8 327.7h.01M805.4 365.9h.01M820.3 357.7h.01M903.6 274.8h.01M868.2 315.6h.01M860.6 314.3h.01M830.1 351.4h.01M801.5 368.7h.01M768.4 404.4h.01M909.1 232.1h.01M837.3 345.4h.01M878.8 299.9h.01M831.7 345.6h.01M822.4 351.3h.01M764.0 409.4h.01M767.6 402.3h.01M824.7 349.9h.01M770.2 401.9h.01M853.9 317.8h.01M874.2 303.5h.01M807.9 358.5h.01M781.7 390.8h.01M870.4 305.2h.01M825.2 350.1h.01M793.3 387.3h.01M767.8 413.1h.01M768.2 400.6h.01M842.9 338.5h.01M780.5 384.9h.01M815.1 359.8h.01M821.0 354.6h.01M819.1 356.2h.01M901.3 273.5h.01M764.8 403.9h.01M900.7 281.2h.01M794.1 375.3h.01M833.2 337.0h.01M796.1 384.6h.01M873.0 294.8h.01M772.3 408.0h.01M852.1 328.8h.01M756.8 415.4h.01M845.2 327.4h.01M865.1 310.9h.01M879.8 293.5h.01M803.5 371.9h.01M898.6 276.3h.01M798.3 371.8h.01M867.8 302.0h.01M829.7 345.6h.01M773.8 398.0h.01M923.8 255.3h.01M788.8 380.7h.01M822.2 356.6h.01M813.8 359.5h.01M800.4 376.4h.01M792.1 378.6h.01M791.1 383.6h.01M768.6 394.6h.01M768.3 402.7h.01M805.3 362.5h.01M817.1 364.1h.01M794.5 376.2h.01M846.1 326.3h.01M776.8 406.3h.01M778.9 402.9h.01M930.8 243.9h.01M810.9 366.6h.01M755.1 416.2h.01M814.0 366.5h.01M786.4 388.2h.01M817.7 352.2h.01M789.7 393.5h.01M783.4 394.8h.01M776.1 401.9h.01M822.2 345.1h.01M820.8 349.8h.01M873.6 305.1h.01M814.6 363.8h.01M774.1 390.2h.01M840.2 335.6h.01M869.2 304.1h.01M787.3 381.2h.01M829.7 342.2h.01M813.8 365.7h.01M756.4 410.9h.01M790.4 391.1h.01M767.3 401.4h.01M758.4 407.3h.01M903.8 278.3h.01M767.9 412.9h.01M842.4 334.0h.01M800.3 380.4h.01M806.0 370.4h.01M779.7 390.3h.01M846.1 329.9h.01M851.7 319.8h.01M869.7 304.5h.01M790.4 384.2h.01M790.4 383.5h.01M786.2 382.3h.01M833.3 339.3h.01M747.1 424.5h.01M849.4 323.7h.01M988.6 187.2h.01M801.1 373.3h.01M781.9 400.3h.01M903.0 273.6h.01M855.9 321.4h.01M807.7 366.0h.01M789.0 393.4h.01M834.2 339.5h.01M842.2 325.2h.01M849.8 325.9h.01M811.6 358.2h.01M850.3 319.6h.01M754.7 422.1h.01M772.9 398.9h.01M783.7 392.4h.01M850.6 320.3h.01M755.0 419.3h.01M870.9 298.1h.01M858.6 326.9h.01M753.9 415.7h.01M831.1 338.9h.01M788.8 387.2h.01M755.9 411.6h.01M833.6 344.3h.01M842.9 331.1h.01M859.2 315.0h.01M819.7 352.4h.01M725.4 448.3h.01M829.9 341.4h.01M810.4 360.2h.01M844.0 329.0h.01M852.1 325.5h.01M818.4 356.8h.01M838.5 336.0h.01M797.3 373.5h.01M812.3 366.5h.01M873.8 301.5h.01M819.4 347.6h.01M762.3 407.8h.01M790.8 377.6h.01M873.8 295.6h.01M808.3 369.7h.01M793.3 374.0h.01M807.1 366.6h.01M809.6 370.9h.01M860.8 319.3h.01M808.3 365.9h.01M823.7 354.6h.01M851.0 320.8h.01M796.2 375.8h.01M829.7 345.0h.01M783.7 389.5h.01M872.4 303.1h.01M896.2 285.6h.01M912.7 273.8h.01M888.7 284.3h.01M845.1 327.9h.01M840.8 326.8h.01M846.0 330.8h.01M824.3 345.5h.01M846.3 334.1h.01M882.0 304.4h.01M866.9 315.2h.01M866.0 315.4h.01M768.7 397.9h.01M830.1 346.6h.01M883.5 292.1h.01M935.2 249.6h.01M771.6 404.4h.01M858.3 319.0h.01M878.3 307.2h.01M765.9 414.2h.01M812.5 360.5h.01M838.7 334.2h.01M838.3 340.5h.01M870.7 297.7h.01M803.9 371.3h.01M790.7 378.2h.01M819.6 354.2h.01M855.5 314.2h.01M819.3 350.3h.01M868.2 309.7h.01M798.8 374.6h.01M794.7 375.6h.01M830.8 348.3h.01M815.0 364.7h.01M797.0 384.4h.01M840.5 336.5h.01M838.8 329.1h.01M868.4 313.6h.01M841.7 330.0h.01M798.5 378.7h.01M844.9 338.7h.01M819.2 355.3h.01M812.2 359.4h.01M789.3 385.2h.01M830.2 344.4h.01M771.0 406.0h.01M836.4 342.0h.01M833.6 345.1h.01M857.0 326.6h.01M813.0 362.6h.01M910.9 271.1h.01M782.8 384.8h.01M820.9 364.9h.01M779.1 393.5h.01M774.2 391.3h.01M791.0 383.0h.01M823.3 358.0h.01M871.6 300.5h.01M886.2 288.5h.01M759.6 417.3h.01M859.7 318.0h.01M758.3 408.6h.01M817.4 361.8h.01M876.9 301.5h.01M792.2 376.6h.01M919.9 257.7h.01M859.9 315.1h.01M822.4 352.3h.01M790.2 388.8h.01M767.2 406.3h.01M774.1 402.4h.01M821.8 359.2h.01M813.2 352.3h.01M812.6 368.4h.01M841.5 330.0h.01M844.8 326.6h.01M826.6 352.8h.01M819.8 356.1h.01M849.8 333.2h.01M835.8 337.3h.01M804.1 371.3h.01M758.3 412.3h.01M800.9 373.9h.01M916.7 264.6h.01M849.4 324.3h.01M903.1 273.3h.01M832.6 340.3h.01M830.7 345.5h.01M851.5 326.1h.01M932.1 242.8h.01M899.0 271.8h.01M759.1 417.3h.01M857.5 321.8h.01M753.9 418.1h.01M823.6 351.5h.01M767.3 400.1h.01M861.6 310.1h.01M778.4 393.8h.01M855.7 323.1h.01M823.8 348.3h.01M822.0 348.3h.01M806.1 364.5h.01M823.2 350.9h.01M799.3 378.3h.01M779.4 395.1h.01M786.0 382.5h.01M801.4 376.3h.01M797.3 375.4h.01M854.6 319.2h.01M862.5 319.1h.01M847.0 327.0h.01M931.0 255.3h.01M932.6 242.9h.01M828.7 347.1h.01M853.4 320.8h.01M799.7 372.6h.01M850.5 323.4h.01M777.1 396.5h.01M875.9 300.2h.01M861.1 318.5h.01M843.5 328.8h.01M921.7 264.2h.01M853.9 330.0h.01M876.4 297.3h.01M816.4 361.8h.01M791.1 377.6h.01M761.9 412.6h.01M842.8 335.6h.01M857.4 315.7h.01M809.1 366.3h.01M862.1 314.0h.01M839.2 340.6h.01M829.3 345.3h.01M833.5 335.8h.01M804.0 373.7h.01M876.1 303.5h.01M832.9 343.8h.01M782.2 384.2h.01M861.6 317.6h.01M775.0 395.8h.01M840.4 332.0h.01M851.9 322.8h.01M791.9 388.6h.01M796.9 381.8h.01M861.9 306.2h.01M815.9 361.4h.01M773.8 391.0h.01M870.0 307.3h.01M839.6 334.2h.01M763.6 404.5h.01M806.5 360.7h.01M788.4 387.6h.01M864.0 314.8h.01M839.3 330.7h.01M846.6 324.6h.01M840.8 333.6h.01M836.5 346.0h.01M760.6 415.5h.01M812.6 360.4h.01M795.9 383.3h.01M959.3 228.2h.01M784.7 381.6h.01M721.2 449.8h.01M936.6 245.7h.01M843.6 330.6h.01M867.6 308.6h.01M858.3 323.4h.01M766.7 412.1h.01M889.9 287.5h.01M785.9 381.8h.01M818.3 364.4h.01M790.3 384.2h.01M801.7 376.2h.01M769.7 401.0h.01M796.0 375.8h.01M854.1 325.8h.01M841.0 340.0h.01M825.1 347.3h.01M860.9 314.2h.01M834.0 342.3h.01M903.6 278.5h.01M769.5 399.3h.01M855.5 317.4h.01M840.3 332.8h.01M771.0 398.0h.01M864.6 308.2h.01M805.6 367.8h.01M765.4 405.4h.01M818.7 358.3h.01M809.5 363.1h.01M840.0 347.8h.01M907.9 272.4h.01M770.6 407.4h.01M876.6 302.0h.01M803.3 364.9h.01M809.3 371.8h.01M812.6 362.0h.01M842.3 327.4h.01M785.5 388.0h.01M803.3 368.0h.01M768.1 403.9h.01M861.4 317.5h.01M770.8 399.5h.01M905.2 281.1h.01M811.2 370.2h.01M764.0 403.1h.01M822.3 351.9h.01M756.3 409.4h.01M825.4 348.5h.01M861.4 307.2h.01M809.1 358.0h.01M829.6 352.3h.01M791.9 381.6h.01M831.4 338.5h.01M775.3 402.1h.01M760.8 406.6h.01M773.0 405.1h.01M802.1 377.0h.01M769.8 401.9h.01M902.8 269.9h.01M776.2 387.4h.01M952.7 220.4h.01M795.3 368.4h.01M832.8 341.4h.01M817.1 357.1h.01M806.7 367.4h.01M887.2 301.3h.01M805.7 366.5h.01M826.8 346.5h.01M740.6 433.8h.01M818.2 362.2h.01M831.3 352.0h.01M867.6 305.0h.01M831.7 351.9h.01M796.3 387.3h.01M827.2 348.1h.01M840.7 339.1h.01M828.1 353.2h.01M800.7 379.2h.01M798.8 374.2h.01M764.5 414.3h.01M822.5 346.7h.01M845.3 338.5h.01M818.2 353.3h.01M798.6 382.4h.01M801.9 377.1h.01M835.1 342.7h.01M982.0 201.9h.01M797.2 377.1h.01M832.1 343.2h.01M779.3 398.6h.01M761.0 408.7h.01M828.3 343.2h.01M842.6 330.9h.01M788.7 383.0h.01M766.9 405.8h.01M864.6 311.2h.01M847.4 334.8h.01M778.6 393.7h.01M779.8 394.1h.01M850.4 324.8h.01M773.0 391.9h.01M785.3 387.2h.01M763.1 411.1h.01M803.0 369.7h.01M823.8 358.3h.01M888.4 280.3h.01M836.7 334.3h.01M781.9 394.1h.01M915.1 262.7h.01M847.2 331.7h.01M866.7 306.6h.01M786.9 382.2h.01M782.6 390.0h.01M911.4 265.8h.01M826.8 344.1h.01M781.5 396.1h.01M834.4 339.5h.01M840.0 336.3h.01M780.0 404.3h.01M808.0 360.1h.01M878.9 296.9h.01M818.1 364.3h.01M816.3 355.8h.01M863.3 318.7h.01M851.1 321.7h.01M836.4 336.9h.01M848.8 328.3h.01M779.0 387.9h.01M826.3 351.4h.01M837.4 335.2h.01M779.0 387.6h.01M878.1 298.0h.01M825.0 345.7h.01M830.2 349.4h.01M789.9 382.8h.01M778.6 393.1h.01M844.3 330.3h.01M785.4 386.9h.01M823.6 344.3h.01M864.7 307.2h.01M797.8 380.6h.01M778.3 391.1h.01M857.2 316.0h.01M772.1 397.4h.01M760.0 405.9h.01M794.0 376.8h.01M799.9 368.9h.01M819.8 349.0h.01M899.3 283.1h.01M809.2 374.3h.01M810.6 370.7h.01M784.7 384.4h.01M844.9 332.7h.01M830.8 344.2h.01M870.8 309.3h.01M814.8 360.0h.01M838.7 338.3h.01M844.1 326.4h.01M832.0 340.4h.01M861.2 320.3h.01M830.2 344.0h.01M789.6 380.1h.01M789.1 375.4h.01M832.6 339.9h.01M816.3 364.9h.01M791.7 386.6h.01M937.7 240.6h.01M798.9 375.6h.01M824.5 355.8h.01M845.3 337.1h.01M801.8 367.0h.01M823.1 350.0h.01M844.9 331.3h.01M823.6 345.7h.01M837.4 340.1h.01M805.6 362.5h.01M785.6 381.6h.01M820.1 359.6h.01M858.2 322.1h.01M825.9 351.6h.01M755.3 408.8h.01M854.1 322.1h.01M810.7 368.3h.01M873.4 300.3h.01M826.6 350.8h.01M825.9 356.8h.01M784.3 392.0h.01M837.8 346.5h.01M779.0 399.0h.01M900.1 279.8h.01M826.1 350.7h.01M887.5 294.7h.01M827.8 346.7h.01M803.5 373.8h.01M761.6 407.4h.01M828.2 343.9h.01M779.6 392.1h.01M811.0 358.0h.01M856.2 322.6h.01M766.2 408.0h.01M810.4 365.7h.01M814.9 360.9h.01M767.4 405.6h.01M851.1 324.4h.01M828.7 342.8h.01M777.0 394.3h.01M818.8 351.7h.01M826.3 350.2h.01M869.7 305.6h.01M812.0 360.7h.01M865.6 312.0h.01M852.7 324.8h.01M810.3 353.7h.01M793.7 381.8h.01M890.1 285.2h.01M811.6 358.3h.01M847.6 320.2h.01M840.2 332.7h.01M819.9 353.5h.01M848.7 323.1h.01M865.8 314.5h.01M871.1 312.1h.01M873.8 308.5h.01M778.2 386.4h.01M796.5 374.8h.01M740.8 428.4h.01M797.1 378.8h.01M802.0 375.2h.01M784.4 388.4h.01M825.2 345.6h.01M774.4 398.3h.01M855.5 321.0h.01M770.5 408.5h.01M780.1 398.5h.01M762.2 416.4h.01M827.3 350.7h.01M754.4 420.6h.01M873.4 300.0h.01M801.0 381.5h.01M814.2 363.5h.01M769.4 399.9h.01M868.0 317.1h.01M778.3 393.2h.01M852.7 328.6h.01M798.3 372.1h.01M814.8 363.4h.01M825.6 346.9h.01M788.0 392.2h.01M902.4 277.8h.01M835.3 336.1h.01M879.9 303.2h.01M831.5 338.1h.01M810.2 360.3h.01M877.0 302.9h.01M890.8 291.2h.01M799.8 376.9h.01M816.0 356.0h.01M796.7 376.4h.01M837.8 330.0h.01M849.9 321.7h.01M881.4 290.4h.01M818.0 358.8h.01M775.5 390.1h.01M813.8 357.8h.01M767.7 403.6h.01M821.7 356.4h.01M851.9 326.6h.01M783.4 387.9h.01M885.3 289.5h.01M794.3 376.9h.01M819.1 358.5h.01M862.3 317.2h.01M875.6 307.3h.01M797.1 370.1h.01M819.2 352.3h.01M834.1 342.4h.01M769.5 400.1h.01M795.9 376.7h.01M776.8 393.1h.01M857.0 319.4h.01M795.5 379.4h.01M839.8 340.2h.01M813.0 360.9h.01M732.0 437.8h.01M824.9 350.9h.01M881.6 293.8h.01M824.4 357.2h.01M867.5 317.0h.01M760.8 407.9h.01M932.4 253.3h.01M850.3 316.6h.01M767.2 334.1h.01M778.2 383.0h.01M792.0 378.5h.01M844.1 338.9h.01M789.7 380.0h.01M768.0 405.2h.01M810.8 371.2h.01M973.1 203.9h.01M841.0 337.9h.01M835.3 339.5h.01M786.4 389.9h.01M830.2 345.8h.01M786.5 381.7h.01M822.0 353.1h.01M794.8 386.7h.01M862.5 315.0h.01M777.8 393.2h.01M802.1 369.9h.01M762.0 411.2h.01M826.9 347.2h.01M805.4 374.0h.01M785.4 387.1h.01M847.4 325.3h.01M799.4 373.7h.01M813.8 370.9h.01M861.9 312.8h.01M804.1 369.1h.01M800.5 368.0h.01M819.6 354.6h.01M898.0 278.7h.01M862.2 311.5h.01M816.2 356.1h.01M783.9 388.1h.01M762.3 413.4h.01M813.4 361.8h.01M850.5 317.7h.01M837.4 338.9h.01M815.4 355.3h.01M796.6 373.5h.01M823.4 356.0h.01M829.0 349.4h.01M831.6 342.6h.01M933.7 240.4h.01M948.3 224.3h.01M829.7 349.0h.01M838.0 337.3h.01M903.8 276.6h.01M694.0 475.5h.01M873.2 307.6h.01M776.1 396.4h.01M828.9 344.7h.01M756.0 415.3h.01M846.5 322.8h.01M746.7 431.0h.01M847.3 325.7h.01M855.9 325.8h.01M899.4 285.4h.01M846.9 324.5h.01M794.8 381.2h.01M842.9 335.9h.01M763.9 409.2h.01M823.4 349.5h.01M847.3 321.4h.01M795.2 380.8h.01M842.6 328.0h.01M917.7 253.5h.01M808.5 361.9h.01M785.8 378.5h.01M774.6 397.5h.01M902.3 287.5h.01M865.8 311.2h.01M837.9 335.7h.01M835.4 335.7h.01M808.1 369.4h.01M913.7 266.7h.01M852.3 332.2h.01M897.4 276.4h.01M757.7 412.8h.01M909.2 276.0h.01M844.6 328.5h.01M794.5 377.2h.01M762.0 402.5h.01M776.8 388.8h.01M794.7 373.2h.01M858.1 326.1h.01M783.9 387.9h.01M789.6 383.8h.01M762.1 415.6h.01M792.0 379.7h.01M982.0 201.1h.01M824.5 346.6h.01M791.2 389.7h.01M762.9 419.4h.01M757.0 408.1h.01M890.9 291.0h.01M794.8 371.1h.01M850.1 334.1h.01M808.0 369.0h.01M810.8 363.6h.01M818.7 359.0h.01M766.8 401.8h.01M845.7 321.1h.01M791.6 393.0h.01M823.5 351.5h.01M806.8 372.4h.01M904.7 269.9h.01M794.3 374.3h.01M879.8 304.6h.01M833.2 340.5h.01M833.0 336.2h.01M843.1 330.3h.01M789.9 386.2h.01M756.6 418.3h.01M783.4 387.0h.01M773.6 398.8h.01M758.8 419.4h.01M766.5 410.0h.01M884.1 290.5h.01M807.5 360.2h.01M777.1 399.1h.01M820.2 355.1h.01M833.8 340.0h.01M791.0 381.5h.01M790.4 385.0h.01M838.6 346.2h.01M969.3 220.9h.01M880.5 298.1h.01M766.0 405.8h.01M882.0 291.7h.01M804.0 372.2h.01M775.2 396.0h.01M755.1 408.1h.01M862.6 311.0h.01M817.5 358.5h.01M840.5 341.0h.01M785.2 390.9h.01M806.0 372.2h.01M845.8 329.4h.01M824.8 359.3h.01M805.7 367.4h.01M773.8 396.1h.01M808.2 371.4h.01M795.0 378.0h.01M833.7 339.0h.01M761.6 420.0h.01M899.8 281.7h.01M899.8 277.0h.01M836.3 330.4h.01M849.4 325.7h.01M781.4 391.0h.01M792.0 375.5h.01M845.5 333.2h.01M831.4 344.8h.01M860.0 319.8h.01M840.7 331.0h.01M807.9 363.2h.01M770.9 412.5h.01M916.9 257.7h.01M793.4 372.5h.01M843.0 333.2h.01M829.8 340.8h.01M859.3 323.0h.01M802.3 375.5h.01M863.9 310.8h.01M752.0 419.9h.01M792.4 381.3h.01M809.1 360.3h.01M855.3 326.3h.01M803.1 372.2h.01M801.4 367.0h.01M932.1 248.5h.01M826.9 353.7h.01M801.7 370.5h.01M807.1 369.3h.01M811.6 360.5h.01M806.9 366.9h.01M852.1 319.6h.01M781.9 392.7h.01M849.8 326.2h.01M815.8 361.9h.01M835.7 337.1h.01M866.6 310.8h.01M838.1 334.9h.01M797.8 379.9h.01M822.2 351.6h.01M780.1 397.3h.01M787.5 387.0h.01M799.5 373.3h.01M789.0 377.5h.01M794.7 380.0h.01M796.7 371.3h.01M862.8 321.8h.01M897.4 287.4h.01M775.3 396.5h.01M811.1 358.8h.01M837.1 339.4h.01M825.7 352.7h.01M791.9 387.0h.01M818.3 355.5h.01M793.2 379.1h.01M818.2 355.2h.01M802.2 381.2h.01M845.0 329.8h.01M831.4 334.4h.01M853.6 318.3h.01M855.6 317.4h.01M788.3 383.4h.01M800.6 372.8h.01M839.8 336.4h.01M863.6 307.8h.01M799.3 375.3h.01M777.3 395.7h.01M818.9 350.7h.01M904.5 278.2h.01M876.1 305.0h.01M864.7 305.3h.01M769.3 400.4h.01M823.8 352.1h.01M806.8 365.0h.01M783.2 392.2h.01M767.9 401.1h.01M836.1 342.1h.01M817.5 357.7h.01M794.6 376.7h.01M800.4 375.9h.01M818.1 365.3h.01M820.3 356.9h.01M898.2 278.7h.01M850.1 323.6h.01M833.3 345.4h.01M875.8 303.0h.01M791.0 384.1h.01M865.5 318.1h.01M874.0 300.2h.01M853.4 321.1h.01M882.6 298.8h.01M842.3 335.4h.01M857.7 310.8h.01M884.2 291.4h.01M832.6 343.0h.01M867.5 308.8h.01M810.2 361.4h.01M795.7 377.1h.01M833.3 347.9h.01M837.5 336.2h.01M807.4 372.3h.01M828.9 346.5h.01M805.9 364.7h.01M841.4 339.4h.01M794.4 385.0h.01M840.4 325.8h.01M779.9 389.6h.01M773.3 393.2h.01M835.9 343.3h.01M885.0 287.1h.01M881.1 296.4h.01M780.1 393.8h.01M808.9 368.0h.01M791.0 382.0h.01M814.5 363.5h.01M768.9 402.8h.01M887.2 298.3h.01M739.3 428.8h.01M820.5 348.1h.01M852.3 325.2h.01M941.0 245.6h.01M867.3 308.3h.01M863.4 312.1h.01M811.2 364.7h.01M833.7 337.1h.01M746.4 425.3h.01M854.9 324.8h.01M827.0 348.9h.01M767.3 400.5h.01M836.3 338.7h.01M834.0 337.5h.01M812.7 359.8h.01M783.0 389.2h.01M779.3 389.2h.01M762.6 408.7h.01M858.6 312.2h.01M848.1 337.4h.01M787.9 391.4h.01M809.7 360.0h.01M801.8 370.0h.01M784.7 385.1h.01M892.4 283.6h.01M879.5 306.4h.01M782.3 386.5h.01M770.5 392.5h.01M832.9 337.7h.01M876.0 302.7h.01M798.4 367.4h.01M812.0 361.2h.01M843.6 326.1h.01M764.1 405.2h.01M819.4 353.8h.01M879.1 296.2h.01M838.3 340.0h.01M817.5 364.5h.01M847.2 333.9h.01M830.6 341.6h.01M859.6 323.8h.01M767.8 398.6h.01M815.9 366.9h.01M799.3 379.8h.01M843.2 338.0h.01M844.8 333.5h.01M848.9 330.1h.01M769.6 401.5h.01M850.6 320.9h.01M850.4 331.3h.01M838.1 342.0h.01M846.1 328.6h.01M822.5 357.6h.01M850.6 321.2h.01M755.5 418.0h.01M785.4 382.7h.01M813.4 353.1h.01M817.8 355.6h.01M812.7 356.0h.01M817.6 348.9h.01M774.0 393.3h.01M798.5 371.9h.01M760.7 410.4h.01M805.3 369.5h.01M899.2 290.1h.01M871.0 299.9h.01M783.8 397.9h.01M804.0 371.8h.01M850.9 324.8h.01M821.8 349.1h.01M953.1 226.9h.01M789.9 382.2h.01M833.2 342.2h.01M867.4 313.0h.01M789.0 384.6h.01M844.1 327.4h.01M779.1 392.4h.01M836.9 340.1h.01M794.7 368.8h.01M833.6 340.9h.01M845.5 338.0h.01M868.0 308.7h.01M758.7 415.3h.01M755.9 420.4h.01M867.2 314.6h.01M762.9 417.4h.01M764.7 413.0h.01M797.8 367.0h.01M861.0 311.4h.01M761.7 414.8h.01M824.3 356.1h.01M872.0 304.8h.01M826.2 344.7h.01M869.3 305.5h.01M846.9 326.3h.01M808.7 368.8h.01M846.6 326.5h.01M784.8 394.9h.01M854.2 317.1h.01M809.3 367.1h.01M759.1 406.8h.01M862.6 319.7h.01M912.1 271.5h.01M819.5 353.2h.01M792.5 380.4h.01M880.4 302.6h.01M821.3 351.5h.01M828.5 339.9h.01M872.8 306.3h.01M814.7 360.9h.01M815.3 357.7h.01M815.6 356.0h.01M836.0 339.8h.01M853.9 316.8h.01M796.7 375.8h.01M743.7 428.0h.01M797.1 384.2h.01M864.5 310.3h.01M866.8 306.9h.01M810.6 362.1h.01M870.9 305.0h.01M860.8 316.1h.01M805.2 373.3h.01M812.9 357.5h.01M834.2 340.4h.01M834.3 346.5h.01M744.7 431.9h.01M764.5 413.1h.01M792.1 377.1h.01M816.2 368.8h.01M814.6 358.0h.01M866.8 308.8h.01M791.4 375.8h.01M773.9 399.6h.01M759.8 410.5h.01M843.5 325.9h.01M811.5 363.9h.01M856.9 322.0h.01M806.0 365.2h.01M784.1 395.3h.01M871.2 300.7h.01M821.1 354.7h.01M813.6 355.7h.01M956.2 221.9h.01M761.5 411.1h.01M784.9 385.7h.01M868.2 311.3h.01M786.5 382.8h.01M819.9 348.5h.01M834.7 343.7h.01M847.1 325.7h.01M796.3 376.4h.01M835.4 342.8h.01M833.6 341.0h.01M827.2 346.8h.01M805.9 372.7h.01M838.7 342.6h.01M878.1 299.2h.01M864.2 307.2h.01M827.6 355.4h.01M861.3 321.5h.01M806.2 369.4h.01M836.1 335.3h.01M990.0 183.0h.01M812.4 364.0h.01M784.8 380.0h.01M821.8 352.4h.01M774.4 404.1h.01M879.7 300.4h.01M827.8 340.3h.01M818.9 355.3h.01M827.0 350.0h.01M825.8 347.5h.01M828.7 352.0h.01M835.5 333.2h.01M790.5 388.0h.01M873.7 304.0h.01M865.8 316.9h.01M783.7 381.5h.01M769.9 405.2h.01M804.2 367.6h.01M807.9 365.1h.01M847.5 325.5h.01M790.1 382.5h.01M776.7 398.1h.01M892.1 289.0h.01M834.8 347.3h.01M849.4 336.9h.01M852.6 328.0h.01M858.1 310.3h.01M774.6 394.7h.01M879.8 304.7h.01M869.2 302.5h.01M864.2 316.2h.01M761.3 399.3h.01M773.4 394.6h.01M789.0 382.9h.01M812.5 363.2h.01M894.2 286.7h.01M783.6 388.3h.01M803.6 371.7h.01M830.5 344.7h.01M783.8 393.4h.01M892.0 286.5h.01M803.9 373.9h.01M806.7 374.7h.01M778.9 402.2h.01M841.5 336.2h.01M819.9 355.6h.01M795.1 376.7h.01M769.9 400.7h.01M847.0 332.4h.01M814.8 359.5h.01M761.6 410.9h.01M786.5 395.9h.01M795.1 378.2h.01M812.0 357.4h.01M823.6 348.9h.01M810.1 372.2h.01M762.9 409.9h.01M809.0 361.6h.01M808.3 363.8h.01M799.2 375.0h.01M793.0 380.5h.01M857.9 324.4h.01M824.7 346.2h.01M877.9 293.4h.01M760.6 416.1h.01M884.0 298.9h.01M811.3 362.5h.01M792.9 385.0h.01M818.1 350.4h.01M819.3 358.7h.01M776.0 393.8h.01M912.8 261.5h.01M795.6 379.0h.01M800.7 372.3h.01M758.6 410.0h.01M765.1 405.0h.01M800.5 374.4h.01M819.7 364.5h.01M825.3 344.7h.01M800.8 374.9h.01M925.8 243.0h.01M856.3 324.8h.01M779.5 391.0h.01M810.1 370.8h.01M804.1 377.8h.01M806.1 368.9h.01M930.8 254.0h.01M766.3 411.6h.01M768.2 407.9h.01M764.9 401.7h.01M780.9 389.6h.01M826.7 344.5h.01M817.4 356.6h.01M793.9 383.5h.01M805.5 376.4h.01M915.5 260.9h.01M895.2 286.3h.01M752.3 417.8h.01M853.7 321.7h.01M892.7 292.0h.01M821.1 360.4h.01M785.3 381.2h.01M797.8 374.4h.01M868.1 314.4h.01M861.7 320.8h.01M815.5 367.1h.01M844.2 340.5h.01M844.7 331.1h.01M842.3 326.9h.01M827.2 351.3h.01M935.0 251.0h.01M748.9 425.5h.01M815.7 362.1h.01M890.2 287.1h.01M830.1 345.4h.01M811.4 368.5h.01M840.8 335.7h.01M847.9 324.7h.01M796.5 375.5h.01M867.6 317.8h.01M826.4 357.0h.01M806.3 366.1h.01M799.3 367.9h.01M834.5 338.3h.01M819.2 358.3h.01M870.2 314.2h.01M824.1 352.3h.01M837.6 333.3h.01M875.1 304.5h.01M864.7 305.6h.01M848.8 327.0h.01M894.4 294.4h.01M784.5 391.8h.01M857.3 312.6h.01M793.0 373.7h.01M818.7 362.7h.01M786.0 377.6h.01M831.1 341.7h.01M854.1 326.7h.01M838.8 337.6h.01M867.7 311.7h.01M820.1 345.1h.01M798.5 376.1h.01M786.9 392.8h.01M812.0 357.7h.01M824.9 344.6h.01M787.3 382.0h.01M773.5 389.0h.01M787.4 383.9h.01M792.3 379.5h.01M794.5 375.4h.01M835.5 340.8h.01M778.9 392.7h.01M824.8 347.4h.01M770.1 409.6h.01M825.4 348.6h.01M830.6 340.0h.01M841.8 329.3h.01M791.5 376.4h.01M840.1 334.1h.01M852.5 320.8h.01M856.5 321.1h.01M801.8 374.8h.01M856.0 318.8h.01M838.4 345.7h.01M922.7 251.9h.01M813.2 367.0h.01M774.8 403.1h.01M790.6 391.5h.01M869.8 308.5h.01M871.3 305.5h.01M880.2 297.0h.01M744.0 426.1h.01M803.9 371.8h.01M780.2 392.0h.01M798.5 373.0h.01M771.0 406.6h.01M802.5 379.5h.01M823.2 353.8h.01M785.7 380.1h.01M852.5 320.4h.01M847.9 329.2h.01M817.1 362.7h.01M800.6 372.9h.01M827.2 343.0h.01M796.8 372.4h.01M823.2 354.9h.01M809.4 368.4h.01M840.9 334.4h.01M953.4 231.3h.01M762.7 411.1h.01M849.5 333.1h.01M804.8 374.2h.01M795.0 382.4h.01M850.1 333.9h.01M828.4 344.4h.01M840.0 342.3h.01M846.1 336.7h.01M800.8 371.8h.01M875.6 302.4h.01M763.8 407.6h.01M826.5 357.1h.01M809.9 365.5h.01M763.4 410.0h.01M767.5 401.9h.01M788.5 386.1h.01M820.3 357.9h.01M764.0 408.7h.01M912.9 261.4h.01M849.2 331.2h.01M804.2 368.1h.01M785.2 388.1h.01M890.4 281.0h.01M775.9 395.7h.01M799.9 386.1h.01M760.2 415.1h.01M884.3 288.4h.01M845.6 329.1h.01M928.5 254.3h.01M789.2 389.7h.01M817.0 360.4h.01M802.9 363.7h.01M805.0 335.1h.01M939.1 239.9h.01M809.2 363.2h.01M818.0 347.4h.01M798.0 374.2h.01M864.4 315.1h.01M903.0 272.2h.01M799.7 371.5h.01M901.8 285.4h.01M820.2 349.6h.01M810.1 369.2h.01M869.1 306.2h.01M781.5 396.8h.01M835.5 339.9h.01M769.0 406.8h.01M744.6 432.4h.01M777.7 395.6h.01M955.8 226.8h.01M813.7 356.2h.01M815.8 363.2h.01M779.5 402.1h.01M856.4 323.1h.01M871.0 306.5h.01M814.4 353.3h.01M871.0 305.6h.01M857.7 328.5h.01M815.8 357.3h.01M862.2 315.8h.01M848.8 330.3h.01M762.7 402.6h.01M806.4 365.2h.01M850.2 324.2h.01M802.0 371.0h.01M858.5 313.3h.01M820.4 348.6h.01M780.0 394.2h.01M819.4 361.9h.01M848.4 327.7h.01M808.5 366.9h.01M931.0 246.9h.01M800.6 378.6h.01M787.9 382.1h.01M784.8 388.1h.01M775.0 395.7h.01M779.7 392.6h.01M791.5 380.5h.01M778.8 401.4h.01M860.8 314.1h.01M830.8 351.5h.01M809.2 367.0h.01M849.1 321.7h.01M873.3 314.2h.01M842.8 330.2h.01M803.4 363.8h.01M676.6 500.3h.01M822.0 349.5h.01M854.9 330.1h.01M804.1 365.7h.01M883.0 289.9h.01M852.1 318.6h.01M806.9 367.7h.01M855.9 323.0h.01M786.4 375.0h.01M762.0 416.3h.01M839.5 336.7h.01M757.4 413.2h.01M755.8 417.5h.01M846.7 326.9h.01M847.1 321.3h.01M840.8 335.4h.01M841.0 338.7h.01M843.0 340.1h.01M827.2 348.6h.01M802.4 375.6h.01M805.0 367.4h.01M841.7 338.5h.01M812.8 358.0h.01M801.8 377.7h.01M824.0 354.5h.01M818.1 354.5h.01M876.3 293.9h.01M901.8 285.6h.01M882.3 287.9h.01M781.7 391.5h.01M785.6 394.7h.01M865.4 320.9h.01M775.0 401.1h.01M807.7 360.0h.01M814.0 367.3h.01M796.9 373.5h.01M770.8 397.5h.01M759.9 420.1h.01M891.2 284.6h.01M928.1 251.0h.01M838.6 334.5h.01M826.3 346.6h.01M780.9 391.8h.01M824.1 352.1h.01M745.7 424.8h.01M843.9 324.2h.01M839.1 335.2h.01M776.7 396.3h.01M809.2 358.3h.01M793.8 378.3h.01M806.6 373.5h.01M839.7 333.6h.01M817.3 357.5h.01M858.5 319.4h.01M789.4 380.0h.01M826.8 341.1h.01M796.0 378.1h.01M803.8 366.9h.01M814.7 360.9h.01M772.1 402.6h.01M734.0 442.7h.01M843.2 319.6h.01M819.8 361.5h.01M842.1 328.1h.01M856.6 314.9h.01M866.5 317.3h.01M766.7 399.9h.01M825.1 348.0h.01M878.0 299.4h.01M792.7 383.7h.01M740.0 425.5h.01M832.5 338.7h.01M858.4 316.0h.01M782.9 398.6h.01M835.4 336.8h.01M839.2 336.2h.01M799.7 379.9h.01M884.8 291.4h.01M802.5 380.0h.01M767.8 409.1h.01M818.5 356.3h.01M821.0 352.9h.01M764.3 409.4h.01M803.7 376.7h.01M779.7 383.0h.01M764.0 408.8h.01M823.0 345.0h.01M867.8 314.6h.01M806.3 362.6h.01M770.8 398.0h.01M794.6 383.4h.01M810.8 364.6h.01M823.0 359.9h.01M823.4 356.5h.01M855.6 327.4h.01M851.6 323.1h.01M795.1 377.8h.01M811.5 369.4h.01M767.2 403.8h.01M867.8 301.8h.01M838.6 335.5h.01M835.5 343.0h.01M807.8 366.9h.01M763.8 407.6h.01M848.7 334.3h.01M759.3 415.9h.01M818.9 345.2h.01M808.9 364.8h.01M771.1 396.1h.01M813.2 365.7h.01M864.2 315.6h.01M773.8 399.7h.01M823.5 348.1h.01M874.1 305.4h.01M823.1 353.8h.01M834.9 332.8h.01M853.7 313.9h.01M799.0 378.6h.01M810.6 362.9h.01M804.5 373.3h.01M835.7 343.4h.01M768.0 406.6h.01M866.2 307.0h.01M829.1 347.0h.01M947.9 226.8h.01M848.9 328.4h.01M809.6 362.8h.01M868.0 307.9h.01M864.5 312.3h.01M791.5 380.1h.01M805.9 373.1h.01M863.0 307.6h.01M797.6 369.2h.01M832.5 341.7h.01M812.1 356.3h.01M835.6 335.1h.01M891.9 292.9h.01M785.4 391.7h.01M793.8 375.1h.01M879.1 295.1h.01M801.6 366.9h.01M735.6 431.6h.01M797.0 387.2h.01M806.9 366.5h.01M854.0 324.9h.01M848.8 323.1h.01M948.6 240.8h.01M907.6 271.4h.01M824.7 357.5h.01M795.8 374.2h.01M832.9 343.2h.01M948.8 231.1h.01M801.8 373.5h.01M769.1 403.6h.01M764.1 404.0h.01M823.6 350.3h.01M800.9 376.0h.01M825.6 346.3h.01M830.9 343.6h.01M766.1 403.4h.01M799.5 368.2h.01M836.9 348.2h.01M840.8 332.9h.01M812.7 358.4h.01M876.6 245.7h.01M797.4 381.5h.01M785.3 387.6h.01M768.4 403.0h.01M814.4 356.6h.01M892.2 280.3h.01M804.5 374.5h.01M778.4 401.0h.01M835.4 340.3h.01M890.1 287.6h.01M852.4 320.7h.01M799.8 368.0h.01M765.4 406.0h.01M823.6 362.0h.01M866.0 309.2h.01M839.6 346.3h.01M842.5 323.7h.01M782.9 389.0h.01M786.9 383.6h.01M817.3 356.2h.01M796.8 372.5h.01M807.4 367.0h.01M818.6 361.3h.01M797.6 379.8h.01M869.7 308.1h.01M843.5 327.2h.01M837.1 340.4h.01M840.1 339.5h.01M840.9 341.5h.01M845.7 324.0h.01M815.8 357.8h.01M853.4 318.1h.01M830.9 340.3h.01M885.2 292.4h.01M823.6 352.6h.01M851.7 333.4h.01M831.9 342.7h.01M893.5 281.3h.01M835.0 335.4h.01M780.7 387.3h.01M814.8 361.1h.01M845.6 331.6h.01M819.9 349.3h.01M784.8 385.4h.01M894.4 250.1h.01M839.6 346.6h.01M794.3 374.8h.01M828.4 346.5h.01M787.2 389.3h.01M774.7 404.5h.01M773.5 402.0h.01M829.6 357.7h.01M877.7 298.6h.01M832.4 347.1h.01M864.6 312.4h.01M788.1 381.3h.01M842.3 331.5h.01M815.1 365.8h.01M815.7 365.9h.01M933.7 245.8h.01M756.9 412.1h.01M864.8 310.8h.01M844.1 334.6h.01M779.3 392.1h.01M766.2 407.2h.01M821.2 354.6h.01M802.0 367.1h.01M819.4 362.7h.01M838.1 334.6h.01M796.5 375.7h.01M811.4 365.0h.01M762.0 411.1h.01M803.0 370.8h.01M894.2 282.2h.01M987.0 196.5h.01M822.6 361.2h.01M835.0 345.4h.01M835.5 336.7h.01M842.8 335.1h.01M806.7 365.8h.01M796.1 369.2h.01M822.1 355.1h.01M785.5 390.3h.01M873.1 299.0h.01M862.3 317.1h.01M837.0 337.4h.01M910.4 268.1h.01M756.6 420.7h.01M827.6 348.5h.01M763.7 408.2h.01M791.2 374.7h.01M843.7 325.6h.01M844.0 324.5h.01M809.2 363.4h.01M770.0 397.9h.01M791.1 374.7h.01M806.7 364.1h.01M890.6 279.0h.01M851.6 319.7h.01M774.9 406.2h.01M838.7 335.4h.01M801.6 372.7h.01M818.6 356.4h.01M813.9 355.0h.01M842.7 333.6h.01M817.9 348.7h.01M732.8 438.6h.01M803.2 370.2h.01M842.7 324.7h.01M852.5 319.6h.01M809.1 366.0h.01M795.1 390.2h.01M834.7 335.6h.01M777.0 396.9h.01M802.8 365.5h.01M861.8 312.2h.01M788.8 383.7h.01M777.1 402.9h.01M782.1 389.8h.01M759.9 406.5h.01M801.7 375.7h.01M837.6 333.0h.01M935.1 249.6h.01M834.3 342.2h.01M787.4 391.0h.01M851.0 330.7h.01M776.0 399.3h.01M785.5 387.9h.01M768.0 406.5h.01M849.1 324.0h.01M776.6 397.1h.01M826.0 349.8h.01M787.5 381.9h.01M865.8 302.8h.01M762.7 414.0h.01M779.7 390.7h.01M825.5 354.8h.01M822.9 357.9h.01M855.9 315.6h.01M763.8 402.6h.01M788.1 383.5h.01M783.7 386.9h.01M769.9 403.2h.01M807.9 377.2h.01M848.4 327.0h.01M852.2 325.5h.01M762.7 404.5h.01M830.5 338.8h.01M837.3 338.5h.01M848.6 334.7h.01M868.7 302.8h.01M822.6 353.0h.01M844.4 331.2h.01M854.6 318.3h.01M872.3 304.7h.01M786.6 382.3h.01M863.6 318.4h.01M877.0 299.3h.01M810.9 354.4h.01M808.5 361.4h.01M896.6 282.2h.01M891.4 281.2h.01M963.1 213.0h.01M806.2 374.4h.01M835.6 340.2h.01M835.2 344.0h.01M825.5 361.0h.01M979.5 194.2h.01M801.5 375.5h.01M808.6 361.9h.01M819.0 351.4h.01M833.2 349.1h.01M741.5 423.6h.01M788.4 381.8h.01M882.3 294.0h.01M812.5 363.4h.01M839.0 329.3h.01M833.5 343.2h.01M876.7 305.5h.01M782.7 392.9h.01M841.2 334.3h.01M813.8 354.9h.01M835.6 332.3h.01M816.7 359.2h.01M824.4 346.7h.01M835.5 342.5h.01M811.9 363.2h.01M866.9 307.1h.01M840.9 334.3h.01M760.5 411.5h.01M829.8 342.2h.01M861.0 309.2h.01M784.5 382.9h.01M868.3 305.7h.01M855.9 320.9h.01M871.0 302.0h.01M816.8 356.4h.01M781.6 391.1h.01M828.8 345.7h.01M954.4 228.6h.01M851.3 318.9h.01M922.8 257.7h.01M863.2 319.1h.01M856.0 322.6h.01M790.8 382.0h.01M805.5 365.3h.01M845.3 337.3h.01M805.7 361.5h.01M845.7 326.0h.01M850.1 332.8h.01M843.1 333.6h.01M807.2 363.5h.01M836.2 344.1h.01M810.0 368.6h.01M874.5 295.2h.01M856.7 317.6h.01M827.4 344.5h.01M802.8 373.7h.01M855.1 319.8h.01M820.4 358.9h.01M834.2 339.2h.01M877.5 294.5h.01M820.1 362.9h.01M802.7 365.0h.01M763.4 409.2h.01M819.1 362.4h.01M856.9 315.9h.01M804.4 366.6h.01M806.4 362.1h.01M884.7 297.2h.01M859.0 317.6h.01M956.4 225.2h.01M760.8 410.2h.01M873.1 302.2h.01M798.6 381.8h.01M813.4 352.7h.01M878.7 296.9h.01M826.6 346.3h.01M835.8 339.3h.01M839.7 332.1h.01M829.9 352.0h.01M789.6 382.4h.01M859.8 317.4h.01M825.5 344.6h.01M781.2 389.0h.01M878.8 295.9h.01M752.5 417.0h.01M786.7 379.9h.01M823.6 355.1h.01M782.6 393.7h.01M847.7 329.5h.01M830.5 352.9h.01M789.3 380.9h.01M829.4 345.6h.01M783.3 381.8h.01M832.9 336.9h.01M844.4 330.5h.01M795.8 378.7h.01M848.6 327.6h.01M818.5 365.8h.01M868.0 315.4h.01M823.3 348.1h.01M804.1 371.6h.01M812.6 356.6h.01M781.4 392.2h.01M797.6 374.9h.01M779.4 398.6h.01M809.8 364.3h.01M821.1 357.3h.01M758.4 411.7h.01M761.0 416.9h.01M808.3 360.4h.01M899.0 276.7h.01M801.1 374.8h.01M784.0 387.9h.01M790.7 381.7h.01M871.0 310.5h.01M818.8 355.8h.01M800.2 371.8h.01M794.2 373.7h.01M789.6 383.4h.01M790.0 380.3h.01M897.2 288.0h.01M868.1 307.0h.01M888.8 294.4h.01M828.9 352.3h.01M818.1 362.4h.01M847.0 326.2h.01M809.0 367.7h.01M861.1 316.0h.01M832.7 344.0h.01M803.3 368.8h.01M772.8 397.7h.01M804.7 367.4h.01M838.8 345.4h.01M879.3 295.2h.01M828.8 352.7h.01M758.3 413.5h.01M792.9 388.6h.01M807.5 362.5h.01M877.6 291.8h.01M853.2 315.6h.01M830.0 353.0h.01M908.6 269.1h.01M782.5 388.9h.01M788.6 387.9h.01M772.4 398.3h.01M772.2 397.3h.01M734.0 436.6h.01M814.0 358.0h.01M886.0 287.3h.01M816.2 353.2h.01M796.1 387.5h.01M801.2 369.7h.01M797.1 377.1h.01M843.1 332.0h.01M830.4 350.4h.01M820.7 360.3h.01M776.1 402.7h.01M819.3 364.3h.01M839.3 334.9h.01M959.1 218.1h.01M869.6 308.4h.01M881.6 289.0h.01M849.1 330.0h.01M780.6 391.4h.01M895.6 282.8h.01M869.9 308.3h.01M912.3 264.3h.01M896.2 281.7h.01M818.5 347.5h.01M794.3 375.6h.01M781.3 392.5h.01M805.3 362.3h.01M785.5 387.9h.01M839.3 334.4h.01M824.3 349.3h.01M761.4 402.9h.01M866.3 315.7h.01M787.0 389.5h.01M800.1 380.8h.01M791.2 383.4h.01M898.3 286.4h.01M815.0 359.1h.01M882.9 288.8h.01M853.7 321.8h.01M797.4 378.9h.01M872.7 248.3h.01M862.2 313.5h.01M779.8 399.8h.01M952.8 229.4h.01M789.3 383.5h.01M805.9 364.7h.01M819.9 360.2h.01M821.0 358.6h.01M796.7 372.9h.01M786.7 320.5h.01M863.6 307.9h.01M776.3 398.1h.01M784.5 388.8h.01M843.1 326.6h.01M780.8 399.4h.01M823.2 348.8h.01M873.3 304.4h.01M730.3 445.3h.01M801.5 362.8h.01M777.2 395.0h.01M806.0 374.6h.01M823.8 349.8h.01M780.0 390.8h.01M838.2 345.5h.01M821.9 348.6h.01M829.7 342.0h.01M777.0 394.9h.01M767.4 405.1h.01M769.5 404.0h.01M779.0 390.9h.01M810.2 372.7h.01M852.7 320.5h.01M818.2 355.9h.01M844.0 328.9h.01M853.3 322.1h.01M783.3 387.6h.01M793.5 372.5h.01M799.5 372.0h.01M777.5 400.0h.01M784.2 390.5h.01M831.4 346.8h.01M791.0 383.1h.01M825.3 349.8h.01M828.9 337.4h.01M848.0 322.5h.01M876.5 304.5h.01M887.5 285.0h.01M834.7 346.1h.01M818.3 364.6h.01M804.2 363.6h.01M893.6 279.6h.01M902.9 274.4h.01M795.7 381.6h.01M804.8 365.4h.01M817.6 360.4h.01M792.1 378.8h.01M945.3 240.6h.01M773.4 403.3h.01M788.2 376.1h.01M794.1 375.7h.01M784.8 392.4h.01M770.0 400.0h.01M821.3 358.6h.01M848.0 322.2h.01M784.1 392.5h.01M750.1 431.1h.01M809.5 363.0h.01M779.1 391.7h.01M807.5 360.9h.01M786.8 387.3h.01M858.9 313.2h.01M903.0 282.7h.01M785.4 385.6h.01M825.0 345.4h.01M789.1 386.4h.01M815.5 355.5h.01M867.8 317.6h.01M764.9 414.9h.01M820.3 360.0h.01M828.0 347.9h.01M778.1 395.1h.01M783.4 398.6h.01M797.1 367.6h.01M766.0 412.9h.01M808.6 361.2h.01M836.4 335.9h.01M791.1 380.1h.01M835.0 334.9h.01M811.2 367.6h.01M835.7 334.8h.01M771.7 399.2h.01M769.1 395.8h.01M835.8 336.5h.01M818.9 349.1h.01M847.4 326.4h.01M828.4 344.1h.01M806.0 357.3h.01M757.4 417.5h.01M795.3 370.5h.01M766.1 407.5h.01M828.2 355.0h.01M839.7 338.0h.01M852.4 318.9h.01M830.6 338.0h.01M771.5 397.7h.01M819.2 352.6h.01M839.4 334.3h.01M837.1 331.3h.01M887.2 289.3h.01M967.9 211.3h.01M827.4 352.4h.01M827.6 355.7h.01M828.2 352.7h.01M836.4 337.4h.01M792.3 379.8h.01M855.4 322.8h.01M790.9 386.3h.01M793.8 380.5h.01M815.8 361.5h.01M786.2 388.4h.01M804.1 368.7h.01M789.1 379.9h.01M760.6 413.3h.01M848.4 330.6h.01M786.1 395.8h.01M871.4 305.2h.01M830.5 350.5h.01M824.1 359.4h.01M802.2 372.0h.01M867.5 317.7h.01M808.5 362.3h.01M812.5 365.2h.01M798.6 380.4h.01M830.4 341.4h.01M816.5 347.0h.01M853.3 317.0h.01M800.8 369.8h.01M853.4 321.3h.01M755.8 417.1h.01M788.6 385.7h.01M807.3 373.7h.01M875.5 304.4h.01M830.3 346.3h.01M824.6 351.8h.01M859.5 319.3h.01M852.7 326.0h.01M845.5 336.9h.01M849.1 318.8h.01M763.4 401.7h.01M764.6 402.6h.01M804.9 370.7h.01M768.2 397.5h.01M783.3 387.0h.01M856.3 313.6h.01M844.8 331.6h.01M777.7 391.7h.01M849.8 329.8h.01M845.4 333.2h.01M787.0 387.4h.01M835.5 334.6h.01M797.3 380.2h.01M868.2 314.4h.01M881.8 299.3h.01M852.0 320.4h.01M869.6 315.9h.01M792.5 380.2h.01M786.0 378.4h.01M822.1 354.1h.01M812.2 365.0h.01M757.5 417.6h.01M890.4 298.4h.01M773.4 396.3h.01M738.9 432.1h.01M806.2 365.3h.01M777.0 404.3h.01M906.6 272.0h.01M847.9 330.0h.01M768.3 410.0h.01M805.9 367.1h.01M820.8 351.4h.01M793.1 381.4h.01M828.9 352.6h.01M778.0 397.0h.01M738.3 432.5h.01M776.9 394.4h.01M764.6 411.5h.01M800.6 373.3h.01M807.5 365.4h.01M854.8 325.2h.01M837.7 328.0h.01M816.1 360.2h.01M891.1 290.2h.01M826.4 355.7h.01M797.4 371.7h.01M836.8 342.2h.01M851.9 324.7h.01M765.6 411.0h.01M789.0 384.3h.01M841.7 328.1h.01M882.9 290.9h.01M831.1 349.9h.01M837.1 338.5h.01M793.1 379.5h.01M775.6 400.1h.01M776.9 392.3h.01M798.1 376.9h.01M934.7 248.9h.01M845.2 328.6h.01M884.5 288.4h.01M833.2 341.6h.01M863.7 312.6h.01M822.4 356.1h.01M799.3 376.7h.01M798.1 381.3h.01M829.5 346.6h.01M829.4 345.9h.01M785.7 391.7h.01M798.8 374.1h.01M770.2 404.1h.01M851.9 327.7h.01M798.9 370.7h.01M881.8 295.4h.01M857.2 316.3h.01M815.4 354.0h.01M807.0 363.2h.01M780.2 391.1h.01M834.0 342.4h.01M800.7 364.3h.01M798.8 377.6h.01M813.5 361.4h.01M809.6 359.1h.01M818.3 356.2h.01M759.9 418.8h.01M814.0 365.1h.01M841.5 336.0h.01M768.8 404.5h.01M857.6 313.5h.01M832.5 341.7h.01M870.2 313.6h.01M850.7 324.4h.01M859.9 323.8h.01M783.8 380.5h.01M853.5 321.1h.01M861.0 313.6h.01M856.6 315.1h.01M858.0 318.9h.01M967.4 221.4h.01M784.2 384.2h.01M811.8 361.8h.01M895.7 283.3h.01M869.2 310.3h.01M803.5 378.6h.01M848.0 326.0h.01M818.0 354.2h.01M802.7 375.0h.01M827.5 347.8h.01M977.1 205.7h.01M809.4 365.7h.01M813.5 363.7h.01M801.9 378.4h.01M801.8 373.4h.01M769.9 404.2h.01M799.1 365.7h.01M821.4 346.8h.01M852.3 317.8h.01M824.9 349.8h.01M883.5 300.7h.01M776.4 403.7h.01M791.4 384.5h.01M812.5 360.4h.01M857.3 315.9h.01M803.1 369.3h.01M851.6 321.2h.01M875.1 225.3h.01M779.2 394.7h.01M889.0 282.1h.01M799.8 373.2h.01M787.5 387.4h.01M809.0 364.2h.01M795.2 386.2h.01M929.3 250.9h.01M806.6 365.8h.01M829.5 350.0h.01M835.1 341.4h.01M782.7 390.4h.01M776.5 402.4h.01M761.5 406.3h.01M824.0 354.6h.01M817.7 355.1h.01M806.2 377.8h.01M809.0 371.5h.01M843.4 328.2h.01M816.2 365.8h.01M836.3 348.0h.01M799.9 368.3h.01M864.1 310.0h.01M815.7 357.8h.01M850.4 326.3h.01M843.0 331.1h.01M798.7 375.1h.01M790.4 383.5h.01M869.7 316.3h.01M842.1 343.0h.01M868.1 305.8h.01M902.9 280.8h.01M829.4 348.2h.01M946.1 226.0h.01M858.9 316.4h.01M794.5 377.6h.01M793.9 372.3h.01M791.3 382.4h.01M793.6 388.8h.01M804.0 364.1h.01M811.9 357.5h.01M871.1 302.8h.01M769.3 409.4h.01M796.9 379.5h.01M855.1 321.5h.01M870.5 307.9h.01M845.5 328.9h.01M837.1 331.1h.01M810.4 357.7h.01M808.7 364.0h.01M779.7 396.3h.01M846.6 330.9h.01M804.9 367.1h.01M768.8 394.9h.01M843.4 333.4h.01M849.0 324.9h.01M808.2 364.8h.01M862.7 311.6h.01M797.4 376.9h.01M832.9 347.1h.01M803.3 374.6h.01M831.3 338.2h.01M788.5 379.4h.01M775.8 397.9h.01M757.6 416.2h.01M909.0 283.0h.01M812.5 373.1h.01M916.1 267.6h.01M763.9 408.7h.01M784.2 383.0h.01M822.4 354.3h.01M836.3 344.9h.01M860.4 316.7h.01M756.7 410.6h.01M778.7 390.8h.01M813.0 359.8h.01M780.4 394.9h.01M825.4 353.5h.01M946.6 234.1h.01M809.5 363.8h.01M816.1 363.5h.01M851.4 321.5h.01M874.7 298.0h.01M911.7 235.6h.01M887.1 289.2h.01M832.6 341.3h.01M813.0 362.3h.01M803.5 376.5h.01M831.9 346.5h.01M810.5 362.6h.01M908.9 266.6h.01M909.1 269.0h.01M853.4 321.3h.01M833.2 347.0h.01M765.2 405.3h.01M779.4 388.1h.01M848.6 332.6h.01M880.1 295.7h.01M783.6 389.3h.01M788.9 393.1h.01M790.7 387.2h.01M802.2 371.2h.01M847.0 327.4h.01M899.0 287.6h.01M833.1 354.4h.01M853.8 320.1h.01M872.1 306.4h.01M832.6 344.2h.01M857.5 329.6h.01M813.9 361.8h.01M847.5 321.1h.01M808.6 372.7h.01M824.8 352.8h.01M840.2 336.3h.01M761.9 407.9h.01M792.0 382.7h.01M787.9 382.1h.01M830.3 346.4h.01M774.5 392.1h.01M899.5 275.1h.01M752.7 420.6h.01M803.2 369.1h.01M879.8 301.7h.01M808.9 363.2h.01M841.8 324.9h.01M827.7 357.5h.01M874.0 308.1h.01M857.7 322.5h.01M801.9 376.3h.01M957.0 219.1h.01M831.9 344.8h.01M790.3 386.3h.01M870.6 301.1h.01M796.2 382.3h.01M777.6 396.9h.01M897.3 278.3h.01M770.1 406.0h.01M836.6 338.7h.01M867.2 317.8h.01M834.8 334.0h.01M769.9 406.2h.01M844.1 326.8h.01M816.1 353.5h.01M755.3 411.4h.01M845.6 340.7h.01M849.1 327.0h.01M832.4 352.1h.01M757.6 411.8h.01M787.4 391.7h.01M888.0 288.5h.01M744.9 423.2h.01M788.1 379.9h.01M820.4 357.8h.01M790.4 387.4h.01M763.3 407.4h.01M879.4 295.6h.01M832.0 341.5h.01M810.3 357.4h.01M783.6 387.8h.01M843.7 339.0h.01M769.3 399.8h.01M854.8 317.8h.01M833.6 333.5h.01M811.2 355.9h.01M772.0 404.5h.01M809.2 358.6h.01M782.8 385.8h.01M778.6 401.2h.01M810.8 367.9h.01M858.1 317.9h.01M847.4 328.5h.01M770.5 397.9h.01M932.0 250.1h.01M767.7 393.5h.01M870.1 312.4h.01M774.5 407.4h.01M793.0 387.2h.01M853.3 316.3h.01M821.9 355.6h.01M801.8 367.2h.01M801.2 383.2h.01M879.1 297.6h.01M842.7 333.5h.01M846.4 321.1h.01M848.4 328.8h.01M882.3 292.9h.01M819.2 359.9h.01M799.2 372.3h.01M775.3 397.0h.01M841.8 330.7h.01M897.8 279.3h.01M801.1 368.4h.01M779.8 392.9h.01M878.6 292.9h.01M828.2 339.5h.01M877.0 306.0h.01M785.1 392.2h.01M778.7 398.6h.01M778.8 398.0h.01M800.9 376.3h.01M816.6 353.6h.01M789.7 388.3h.01M787.5 386.1h.01M784.5 389.7h.01M756.1 417.3h.01M866.1 311.9h.01M838.8 342.0h.01M795.6 381.6h.01M881.5 299.2h.01M782.3 383.8h.01M929.9 250.9h.01M906.3 265.1h.01M832.8 339.1h.01M813.2 360.2h.01M830.8 339.7h.01M850.2 322.1h.01M789.4 382.6h.01M881.9 290.5h.01M796.2 374.7h.01M784.7 394.3h.01M776.3 400.9h.01M802.0 372.0h.01M899.3 270.8h.01M866.5 314.3h.01M870.9 302.2h.01M854.9 321.0h.01M770.6 395.2h.01M814.3 358.9h.01M802.7 368.7h.01M797.2 373.6h.01M809.7 365.2h.01M783.6 396.9h.01M867.5 307.0h.01M887.3 291.2h.01M790.8 375.8h.01M805.2 369.6h.01M793.4 380.6h.01M771.1 398.6h.01M792.7 383.9h.01M741.6 422.8h.01M824.9 347.4h.01M763.5 403.8h.01M804.4 371.7h.01M799.4 372.6h.01M905.0 273.0h.01M815.7 349.6h.01M807.5 365.9h.01M772.4 401.0h.01M738.4 428.8h.01M788.5 377.1h.01M808.0 368.2h.01M834.0 340.7h.01M837.2 335.3h.01M901.4 276.4h.01M792.7 376.5h.01M778.0 399.0h.01M886.4 295.5h.01M795.2 383.5h.01M805.1 370.3h.01M788.9 381.9h.01M848.6 324.8h.01M814.9 357.1h.01M865.1 313.0h.01M836.5 343.9h.01M800.4 372.6h.01M775.5 394.9h.01M717.0 455.5h.01M825.2 353.7h.01M814.7 352.3h.01M761.6 408.9h.01M766.2 403.1h.01M840.5 333.4h.01M775.9 390.7h.01M785.7 382.4h.01M786.1 388.2h.01M775.5 392.5h.01M821.8 348.7h.01M849.2 321.3h.01M814.1 364.6h.01M791.6 376.3h.01M771.9 397.5h.01M795.9 382.9h.01M819.8 356.5h.01M823.7 352.2h.01M793.4 383.2h.01M889.7 285.3h.01M826.2 344.2h.01M767.9 400.6h.01M794.9 385.1h.01M852.6 333.3h.01M826.6 346.1h.01M835.9 346.3h.01M795.1 375.7h.01M765.3 411.1h.01M908.8 268.1h.01M816.1 349.8h.01M759.8 416.9h.01M793.8 382.8h.01M788.1 385.3h.01M782.3 384.2h.01M803.2 379.1h.01M771.6 403.6h.01M770.4 410.2h.01M862.8 319.5h.01M828.4 353.1h.01M831.7 340.6h.01M890.4 293.1h.01M811.7 363.4h.01M805.3 368.6h.01M818.2 361.9h.01M872.3 305.2h.01M838.2 340.9h.01M792.1 373.7h.01M798.3 384.8h.01M834.2 341.0h.01M812.3 353.1h.01M796.9 387.4h.01M796.0 372.7h.01M864.3 316.3h.01M760.4 411.0h.01M885.1 297.5h.01M859.5 321.7h.01M799.5 374.9h.01M834.4 336.4h.01M835.6 337.2h.01M780.8 392.7h.01M855.3 325.6h.01M905.9 273.9h.01M765.5 404.4h.01M797.7 374.0h.01M869.9 302.1h.01M842.6 336.5h.01M883.3 294.8h.01M869.9 313.3h.01M795.2 375.3h.01M794.2 383.4h.01M830.4 345.2h.01M789.0 383.7h.01M757.3 415.5h.01M793.6 384.8h.01M799.4 373.0h.01M767.6 411.3h.01M838.6 341.9h.01M875.5 304.0h.01M934.5 251.9h.01M818.9 350.3h.01M808.0 363.8h.01M842.1 331.1h.01M834.2 338.6h.01M815.2 360.1h.01M818.1 360.9h.01M813.0 353.6h.01M823.7 356.0h.01M852.7 326.9h.01M780.1 391.4h.01M859.7 326.5h.01M813.8 372.1h.01M786.7 388.8h.01M793.2 372.0h.01M771.6 395.8h.01M819.8 353.6h.01M857.6 324.3h.01M788.1 396.9h.01M762.8 404.3h.01M875.4 302.9h.01M799.9 373.7h.01M825.5 344.5h.01M804.7 367.8h.01M774.9 402.9h.01M811.5 362.6h.01M791.7 384.6h.01M835.5 346.9h.01M813.6 366.0h.01M777.2 397.5h.01M853.4 320.1h.01M853.7 320.5h.01M892.2 280.3h.01M770.0 415.5h.01M818.8 356.6h.01M887.7 284.6h.01M745.0 425.1h.01M920.9 259.8h.01M822.6 350.2h.01M847.9 331.9h.01M760.4 417.5h.01M892.4 284.0h.01M831.4 348.1h.01M814.7 356.3h.01M806.9 369.3h.01M865.5 303.5h.01M830.7 351.4h.01M795.8 383.2h.01M764.7 402.3h.01M838.2 341.1h.01M811.3 362.9h.01M815.5 353.1h.01M793.8 383.1h.01M860.0 320.9h.01M836.9 339.9h.01M812.8 356.0h.01M858.8 311.1h.01M864.4 310.7h.01M825.1 356.3h.01M869.3 303.8h.01M810.6 362.0h.01M859.0 318.3h.01M992.7 194.9h.01M815.2 363.0h.01M921.9 263.1h.01M776.5 390.4h.01M793.9 376.0h.01M778.2 389.3h.01M782.3 392.3h.01M817.9 361.5h.01M817.0 351.8h.01M783.1 387.9h.01M847.1 328.9h.01M815.0 365.0h.01M811.0 368.1h.01M812.7 364.2h.01M807.0 363.6h.01M902.7 283.1h.01M778.3 395.5h.01M896.8 276.6h.01M838.3 336.0h.01M783.6 388.7h.01M977.2 206.0h.01M851.9 325.6h.01M830.7 350.2h.01M819.9 354.3h.01M836.7 336.9h.01M808.8 372.7h.01M763.9 409.3h.01M791.6 379.2h.01M799.2 373.0h.01M825.2 344.4h.01M833.1 338.1h.01M816.4 366.4h.01M891.2 290.2h.01M806.6 364.4h.01M843.0 335.1h.01M840.5 333.7h.01M775.1 402.6h.01M832.1 332.7h.01M970.1 204.3h.01M807.9 362.2h.01M835.5 333.5h.01M952.0 226.4h.01M828.7 349.8h.01M839.4 336.9h.01M856.2 315.6h.01M780.0 387.0h.01M876.4 295.8h.01M854.2 322.1h.01M840.5 338.5h.01M837.6 338.6h.01M763.5 409.0h.01M873.1 305.1h.01M817.8 360.3h.01M775.2 407.7h.01M838.8 336.3h.01M755.4 414.1h.01M787.4 393.5h.01M775.3 393.3h.01M817.0 355.9h.01M760.2 411.4h.01M769.8 399.8h.01M891.3 283.2h.01M877.7 300.5h.01M769.3 405.9h.01M821.4 346.9h.01M850.1 321.8h.01M740.3 431.0h.01M807.9 366.3h.01M791.5 382.0h.01M856.1 313.3h.01M867.4 304.7h.01M852.2 319.3h.01M840.4 342.4h.01M759.6 408.8h.01M792.1 386.1h.01M787.8 386.8h.01M793.8 377.5h.01M890.2 286.9h.01M775.9 391.9h.01M874.5 311.2h.01M798.6 373.3h.01M805.7 375.6h.01M778.5 388.0h.01M823.2 352.3h.01M759.3 414.9h.01M863.9 321.4h.01M790.6 383.4h.01M864.0 311.7h.01M788.2 376.6h.01M826.0 340.7h.01M768.2 402.3h.01M795.0 378.3h.01M833.9 337.0h.01M803.8 367.9h.01M888.2 284.7h.01M830.9 346.5h.01M846.7 322.1h.01M803.6 367.0h.01M816.9 353.4h.01M818.9 357.9h.01M811.7 359.0h.01M762.3 413.9h.01M822.4 350.8h.01M817.7 355.9h.01M880.2 303.1h.01M833.5 344.4h.01M768.5 403.9h.01M852.3 331.4h.01M867.8 309.0h.01M789.6 378.1h.01M884.7 289.4h.01M819.6 360.1h.01M861.0 322.0h.01M846.7 329.4h.01M894.6 281.5h.01M786.1 383.9h.01M870.5 302.3h.01M824.0 347.6h.01M861.5 321.0h.01M870.8 302.1h.01M864.7 315.2h.01M864.4 308.8h.01M847.3 325.2h.01M846.3 328.1h.01M789.1 386.7h.01M1030.0 107.0h.01M774.3 402.1h.01M808.6 368.5h.01M759.1 413.0h.01M821.4 358.0h.01M792.4 380.5h.01M775.9 396.6h.01M794.8 378.8h.01M811.6 358.4h.01M787.0 382.3h.01M808.4 370.2h.01M835.3 342.4h.01M768.3 396.3h.01M809.4 367.5h.01M817.3 355.6h.01M874.7 308.0h.01M805.2 364.7h.01M786.2 386.9h.01M792.2 376.9h.01M828.7 342.5h.01M776.1 395.2h.01M768.0 411.8h.01M802.5 371.1h.01M893.6 279.2h.01M885.8 287.5h.01M861.3 317.8h.01M829.0 347.0h.01M852.9 323.3h.01M771.9 402.1h.01M828.5 344.0h.01M832.2 337.0h.01M818.4 355.1h.01M780.9 392.9h.01M800.5 378.4h.01M876.7 298.9h.01M831.9 342.3h.01M823.2 354.9h.01M771.1 401.7h.01M833.5 334.5h.01M798.2 378.3h.01M851.6 320.8h.01M793.4 379.9h.01M772.0 395.6h.01M844.4 327.2h.01M733.1 447.6h.01M900.6 278.9h.01M785.6 381.5h.01M775.5 400.0h.01M887.6 300.9h.01M791.8 378.6h.01M797.8 369.7h.01M860.5 323.6h.01M762.6 409.5h.01M768.3 400.1h.01M837.9 338.7h.01M778.8 392.1h.01M823.0 352.8h.01M754.6 411.9h.01M840.0 343.7h.01M794.6 381.8h.01M812.2 358.6h.01M795.4 375.2h.01M905.6 280.0h.01M807.2 376.7h.01M829.6 343.2h.01M786.8 384.7h.01M866.6 316.1h.01M795.2 378.3h.01M848.3 328.5h.01M808.3 364.0h.01M806.9 366.2h.01M846.4 331.2h.01M812.2 361.4h.01M759.1 405.5h.01M800.9 372.2h.01M853.9 326.0h.01M844.7 339.9h.01M791.7 385.1h.01M778.7 391.4h.01M766.0 400.1h.01M796.5 379.8h.01M755.6 419.6h.01M814.2 359.1h.01M763.1 406.0h.01M761.0 406.6h.01M780.7 399.4h.01M843.3 328.0h.01M856.8 320.3h.01M770.1 402.0h.01M793.6 385.8h.01M887.8 294.8h.01M780.0 387.6h.01M828.9 349.6h.01M801.2 365.9h.01M808.2 360.0h.01M848.7 330.4h.01M757.4 410.0h.01M881.0 294.3h.01M780.6 391.1h.01M764.3 407.1h.01M762.2 410.7h.01M859.9 309.7h.01M817.9 358.8h.01M881.2 290.1h.01M814.8 363.8h.01M834.7 344.5h.01M805.9 364.4h.01M863.4 319.9h.01M854.5 321.2h.01M809.3 368.2h.01M811.1 367.8h.01M817.8 351.6h.01M883.1 291.0h.01M801.8 371.5h.01M936.5 251.9h.01M807.8 369.3h.01M812.5 359.3h.01M789.0 382.6h.01M859.9 323.6h.01M816.7 366.7h.01M827.1 344.2h.01M756.3 411.1h.01M839.0 331.4h.01M791.9 379.2h.01M799.7 370.3h.01M773.7 393.4h.01M794.5 372.4h.01M883.0 300.1h.01M975.7 207.5h.01M871.7 300.7h.01M818.4 355.7h.01M825.9 345.6h.01M834.9 340.6h.01M823.1 355.6h.01M760.8 407.2h.01M813.8 362.0h.01M831.4 339.3h.01M873.3 300.0h.01M849.6 329.1h.01M880.3 296.9h.01M822.4 349.7h.01M755.2 415.7h.01M818.9 353.4h.01M847.9 323.7h.01M945.8 232.7h.01M812.4 357.4h.01M970.1 206.1h.01M891.2 286.3h.01M874.6 303.0h.01M799.7 373.8h.01M795.5 380.4h.01M871.9 304.6h.01M809.4 357.2h.01M841.2 328.5h.01M901.0 276.7h.01M810.7 359.0h.01M868.1 307.9h.01M807.8 370.0h.01M761.3 406.0h.01M892.3 286.4h.01M780.4 390.5h.01M806.7 369.6h.01M802.7 379.5h.01M779.9 388.1h.01M805.8 373.2h.01M916.4 273.1h.01M788.8 389.3h.01M825.3 344.8h.01M823.5 346.4h.01M810.4 369.8h.01M770.8 401.5h.01M785.5 385.0h.01M818.8 356.2h.01M868.8 306.9h.01M896.9 280.4h.01M811.7 360.9h.01M779.5 396.4h.01M817.6 357.0h.01M839.1 336.4h.01M864.3 310.0h.01M854.1 323.2h.01M780.9 394.3h.01M784.4 390.0h.01M794.4 380.2h.01M862.6 316.1h.01M740.6 435.1h.01M766.1 404.5h.01M826.4 356.0h.01M819.2 361.3h.01M811.8 360.0h.01M817.0 353.7h.01M813.1 357.4h.01M869.4 312.5h.01M789.3 382.4h.01M822.7 353.1h.01M822.7 352.3h.01M771.1 400.5h.01M767.4 414.7h.01M810.8 364.4h.01M927.6 251.2h.01M766.1 413.1h.01M848.1 324.4h.01M848.0 335.1h.01M834.3 340.5h.01M761.1 414.1h.01M802.3 371.7h.01M827.5 350.7h.01M809.8 359.7h.01M848.2 327.1h.01M824.2 346.6h.01M842.7 330.4h.01M799.0 384.6h.01M772.3 406.0h.01M841.6 342.7h.01M801.4 380.2h.01M863.4 306.9h.01M881.3 291.4h.01M865.3 314.5h.01M816.5 367.0h.01M843.9 327.7h.01M820.9 354.0h.01M788.2 388.9h.01M898.0 285.4h.01M792.2 379.6h.01M955.6 226.9h.01M768.6 406.1h.01M838.6 332.2h.01M886.5 290.2h.01M851.2 328.7h.01M827.4 351.5h.01" stroke="#2f94d0" stroke-width="2.1" stroke-linecap="round" fill="none"/>
<path d="M817.0 376.0h.01M818.0 373.9h.01M832.1 368.7h.01M856.7 341.9h.01M801.0 390.2h.01M826.8 361.6h.01M819.9 371.5h.01M767.4 429.2h.01M801.7 396.9h.01M949.5 266.1h.01M793.9 389.9h.01M842.2 343.0h.01M851.7 360.4h.01M864.9 336.9h.01M855.9 349.4h.01M795.8 403.2h.01M787.7 419.9h.01M838.7 346.8h.01M844.1 358.1h.01M817.0 381.0h.01M814.0 368.5h.01M896.6 296.1h.01M768.7 418.4h.01M827.0 358.7h.01M831.5 355.7h.01M877.9 337.0h.01M796.9 409.3h.01M955.9 251.3h.01M787.1 396.2h.01M775.1 404.6h.01M775.5 424.5h.01M805.6 386.9h.01M756.0 481.4h.01M831.2 352.6h.01M807.5 402.8h.01M863.0 349.6h.01M734.5 487.2h.01M782.0 400.4h.01M839.1 353.7h.01M859.7 343.5h.01M818.8 378.5h.01M848.6 338.5h.01M767.9 417.2h.01M785.9 434.3h.01M729.3 465.2h.01M837.5 357.2h.01M918.8 271.1h.01M826.9 356.0h.01M782.9 404.1h.01M805.1 410.8h.01M782.4 413.6h.01M867.2 340.4h.01M798.6 386.5h.01M803.5 377.6h.01M856.6 333.3h.01M812.8 389.0h.01M911.8 293.1h.01M775.2 450.3h.01M785.7 405.5h.01M877.1 326.2h.01M875.3 336.1h.01M843.4 342.4h.01M813.4 374.7h.01M852.7 336.5h.01M819.5 381.3h.01M791.7 410.2h.01M804.3 381.4h.01M844.6 369.7h.01M771.7 412.3h.01M889.1 295.5h.01M807.7 386.8h.01M846.6 351.8h.01M809.2 375.6h.01M812.9 391.2h.01M987.4 221.4h.01M817.7 373.4h.01M935.5 279.0h.01M826.7 374.3h.01M799.8 379.3h.01M851.7 333.3h.01M886.2 299.5h.01M796.3 394.7h.01M821.6 393.0h.01M830.1 358.5h.01M826.4 398.1h.01M793.9 400.9h.01M821.8 377.7h.01M805.6 386.5h.01M798.4 392.5h.01M929.4 308.6h.01M758.7 423.7h.01M798.2 386.4h.01M837.3 373.8h.01M990.9 201.4h.01M845.9 364.2h.01M792.6 402.2h.01M787.0 406.1h.01M826.5 358.6h.01M787.5 421.0h.01M844.1 344.0h.01M961.9 237.7h.01M846.9 353.5h.01M887.0 342.1h.01M883.4 312.9h.01M833.1 359.1h.01M782.5 404.5h.01M805.5 400.6h.01M760.4 418.7h.01M836.4 348.7h.01M812.4 380.2h.01M724.1 456.7h.01M758.0 428.4h.01M868.1 319.4h.01M834.0 361.7h.01M810.4 379.7h.01M844.7 347.3h.01M816.4 381.9h.01M796.6 390.1h.01M788.1 414.2h.01M862.7 327.2h.01M828.5 376.3h.01M894.7 304.3h.01M856.5 342.9h.01M816.1 369.4h.01M824.5 375.7h.01M774.9 441.0h.01M769.9 414.3h.01M798.5 405.3h.01M836.8 347.2h.01M819.4 405.1h.01M813.1 400.1h.01M782.1 449.8h.01M826.8 379.8h.01M867.7 336.4h.01M878.7 317.2h.01M814.2 388.4h.01M792.3 404.3h.01M798.9 419.8h.01M811.5 371.0h.01M806.5 375.0h.01M783.0 410.0h.01M806.5 386.7h.01M787.4 438.4h.01M800.5 393.3h.01M764.2 444.7h.01M759.3 448.1h.01M799.4 424.0h.01M888.1 304.2h.01M796.1 401.7h.01M869.5 351.9h.01M886.5 302.2h.01M845.0 377.0h.01M769.4 421.0h.01M825.3 369.6h.01M837.5 355.8h.01M799.3 380.2h.01M888.1 322.8h.01M799.5 394.2h.01M818.4 381.9h.01M742.5 459.3h.01M878.1 329.5h.01M793.6 409.5h.01M845.1 350.1h.01M893.4 311.8h.01M825.4 366.9h.01M814.1 371.4h.01M739.5 457.5h.01M830.5 355.8h.01M774.1 432.8h.01M794.6 401.2h.01M811.5 383.6h.01M840.4 362.2h.01M867.5 340.4h.01M775.5 416.3h.01M809.4 374.7h.01M859.0 345.4h.01M791.0 400.8h.01M786.7 394.4h.01M915.5 288.2h.01M827.3 379.0h.01M824.1 371.7h.01M842.6 345.5h.01M977.8 220.6h.01M872.6 329.2h.01M797.9 385.0h.01M802.4 386.5h.01M773.6 404.1h.01M781.3 442.6h.01M791.9 398.0h.01M867.3 341.0h.01M803.1 383.4h.01M805.0 391.0h.01M801.8 382.9h.01M867.1 326.5h.01M813.9 380.9h.01M832.5 357.9h.01M816.0 383.1h.01M863.0 348.5h.01M757.5 454.3h.01M842.1 376.1h.01M798.3 410.0h.01M755.9 421.6h.01M818.2 367.6h.01M841.8 351.4h.01M768.7 412.3h.01M804.6 388.2h.01M824.7 364.6h.01M824.5 365.7h.01M805.7 400.6h.01M805.5 380.9h.01M811.5 397.7h.01M815.6 370.8h.01M952.8 240.2h.01M782.8 406.7h.01M852.0 346.5h.01M869.6 335.4h.01M823.2 363.1h.01M782.9 408.0h.01M769.9 419.7h.01M893.5 320.8h.01M800.7 383.9h.01M855.7 330.0h.01M852.7 349.4h.01M868.0 336.6h.01M816.3 379.6h.01M810.2 378.7h.01M781.8 411.5h.01M870.0 337.4h.01M963.9 236.1h.01M837.7 373.4h.01M882.2 315.6h.01M816.0 391.8h.01M803.5 399.2h.01M725.8 456.5h.01M856.6 330.5h.01M784.0 424.6h.01M789.0 392.4h.01M884.4 316.2h.01M817.8 377.9h.01M796.6 385.7h.01M913.9 278.8h.01M785.3 401.0h.01M825.0 386.9h.01M873.4 312.0h.01M798.7 391.9h.01M782.3 421.9h.01M777.7 403.1h.01M837.3 365.1h.01M826.1 373.4h.01M827.2 384.0h.01M861.8 350.2h.01M975.0 190.0h.01M772.1 416.8h.01M804.9 382.6h.01M775.5 431.0h.01M847.1 345.8h.01M861.7 345.1h.01M889.1 299.6h.01M798.5 392.9h.01M894.6 293.4h.01M768.7 411.1h.01M785.0 415.7h.01M849.6 359.5h.01M857.8 350.8h.01M803.2 380.0h.01M865.4 343.5h.01M774.1 424.5h.01M797.7 387.4h.01M881.9 317.2h.01M877.9 318.3h.01M875.5 313.2h.01M851.9 331.3h.01M755.9 425.1h.01M802.1 387.9h.01M879.5 306.9h.01M827.3 360.8h.01M790.3 409.5h.01M789.3 420.0h.01M880.1 310.3h.01M822.3 369.9h.01M846.4 342.0h.01M905.1 327.2h.01M860.2 355.2h.01M762.9 422.7h.01M822.6 379.2h.01M798.3 416.7h.01M823.5 366.1h.01M831.1 381.4h.01M977.6 219.0h.01M825.2 362.9h.01M798.5 381.6h.01M775.5 413.1h.01M842.8 343.5h.01M856.5 334.9h.01M801.9 380.3h.01M898.2 297.9h.01M775.7 424.5h.01M813.6 389.7h.01M846.1 335.0h.01M829.5 374.6h.01M887.6 312.4h.01M788.1 421.6h.01M793.0 395.2h.01M773.1 411.7h.01M798.0 383.6h.01M846.5 357.6h.01M821.6 369.1h.01M807.7 391.4h.01M754.6 433.9h.01M777.4 426.0h.01M779.3 414.0h.01M832.6 361.9h.01M766.4 435.8h.01M883.1 331.0h.01M845.8 358.1h.01M888.4 333.8h.01M819.4 371.5h.01M829.7 366.2h.01M823.5 377.7h.01M806.5 398.1h.01M971.2 226.7h.01M745.1 458.7h.01M815.1 367.5h.01M879.1 318.8h.01M821.5 368.5h.01M856.8 344.2h.01M771.6 416.7h.01M814.4 366.2h.01M986.3 242.6h.01M892.7 303.1h.01M805.0 390.3h.01M845.8 343.0h.01M856.8 340.9h.01M787.2 431.1h.01M829.4 370.8h.01M785.8 409.7h.01M754.6 430.8h.01M768.7 421.6h.01M884.0 317.4h.01M803.9 389.4h.01M803.6 380.1h.01M830.5 367.2h.01M850.2 352.5h.01M848.4 351.9h.01M805.5 383.2h.01M812.6 380.3h.01M829.3 356.4h.01M803.5 397.2h.01M841.5 360.6h.01M766.7 431.0h.01M807.9 396.7h.01M872.8 316.5h.01M806.8 399.4h.01M767.0 438.3h.01M794.8 403.2h.01M832.7 363.5h.01M768.0 423.7h.01M819.9 374.4h.01M866.6 331.7h.01M778.0 408.0h.01M804.5 392.2h.01M887.6 318.7h.01M825.0 360.1h.01M841.5 352.3h.01M811.8 408.4h.01M853.2 336.5h.01M797.5 394.0h.01M845.7 357.1h.01M777.7 407.5h.01M761.6 431.6h.01M790.6 408.9h.01M842.3 360.1h.01M861.7 373.3h.01M822.0 360.4h.01M849.7 339.4h.01M800.3 405.4h.01M831.2 350.3h.01M779.6 436.1h.01M804.5 396.2h.01M771.8 409.9h.01M843.7 374.7h.01M769.0 436.1h.01M898.8 325.2h.01M824.5 374.8h.01M778.9 402.9h.01M809.5 390.5h.01M807.1 400.4h.01M805.7 393.1h.01M829.7 359.0h.01M799.6 394.5h.01M779.7 417.4h.01M836.8 359.1h.01M823.5 371.8h.01M804.5 378.4h.01M805.5 384.3h.01M850.7 360.3h.01M769.1 414.2h.01M779.4 446.9h.01M826.5 367.6h.01M824.8 370.5h.01M769.6 441.5h.01M829.0 392.4h.01M778.6 406.1h.01M785.9 428.8h.01M813.3 379.3h.01M802.7 388.7h.01M784.8 419.6h.01M755.0 445.7h.01M820.0 380.2h.01M799.3 383.6h.01M830.9 357.2h.01M789.5 397.7h.01M880.7 319.1h.01M790.9 392.9h.01M866.0 321.4h.01M819.1 363.8h.01M804.6 392.7h.01M823.4 372.0h.01M774.8 413.3h.01M799.2 389.4h.01M823.2 362.1h.01M771.1 418.1h.01M903.6 284.9h.01M882.7 330.9h.01M832.8 376.4h.01M834.5 388.4h.01M783.4 418.1h.01M786.8 400.0h.01M901.5 314.2h.01M777.1 416.9h.01M812.4 400.0h.01M919.8 271.4h.01M808.3 381.2h.01M786.8 408.0h.01M765.3 416.2h.01M742.5 451.4h.01M899.2 289.1h.01M754.3 472.1h.01M849.2 344.0h.01M860.8 339.5h.01M799.6 384.1h.01M762.5 427.1h.01M820.7 366.1h.01M790.9 387.7h.01M843.9 354.8h.01M906.6 294.7h.01M781.3 411.5h.01M853.7 336.4h.01M909.9 287.3h.01M867.9 324.1h.01M800.3 384.6h.01M890.3 301.6h.01M838.1 366.4h.01M763.6 430.7h.01M773.7 419.5h.01M814.7 410.3h.01M795.1 404.9h.01M826.3 364.5h.01M790.5 403.1h.01M760.3 423.9h.01M810.3 390.9h.01M847.9 341.5h.01M841.8 356.8h.01M866.2 320.8h.01M841.5 349.7h.01M815.4 386.0h.01M891.4 297.5h.01M814.9 374.6h.01M848.9 330.0h.01M827.6 365.1h.01M835.3 352.1h.01M896.0 300.1h.01M801.1 381.7h.01M794.0 406.2h.01M908.6 289.0h.01M856.8 382.7h.01M837.0 352.9h.01M810.7 418.4h.01M773.3 435.7h.01M904.7 286.3h.01M845.1 363.2h.01M787.2 395.9h.01M847.4 348.5h.01M896.3 299.1h.01M896.1 312.9h.01M856.6 333.1h.01M862.9 337.7h.01M917.9 302.1h.01M884.6 335.5h.01M792.4 406.8h.01M833.7 352.9h.01M755.1 426.4h.01M735.3 461.6h.01M808.0 377.9h.01M844.9 345.0h.01M771.6 428.9h.01M944.0 259.5h.01M835.1 357.7h.01M801.5 394.7h.01M827.3 363.5h.01M874.8 346.6h.01M927.0 298.9h.01M760.1 434.1h.01M915.8 276.4h.01M794.8 394.9h.01M780.3 411.1h.01M884.5 302.8h.01M765.9 429.4h.01M901.1 289.9h.01M764.2 416.4h.01M814.0 409.6h.01M838.1 371.3h.01M885.2 309.6h.01M813.6 401.6h.01M769.4 416.2h.01M813.6 374.4h.01M772.0 404.7h.01M844.6 349.1h.01M792.3 423.8h.01M831.0 372.1h.01M839.5 353.0h.01M860.8 323.6h.01M904.5 298.6h.01M818.6 364.5h.01M789.3 400.7h.01M790.9 404.4h.01M792.9 397.4h.01M785.3 397.6h.01M823.1 356.5h.01M874.7 372.6h.01M764.0 438.4h.01M858.3 335.8h.01M817.8 382.2h.01M731.5 456.6h.01M782.0 405.6h.01M828.3 361.1h.01M844.7 354.1h.01M817.1 368.3h.01M870.4 337.8h.01M832.5 354.1h.01M791.6 414.6h.01M851.0 343.1h.01M773.7 405.3h.01M786.1 402.5h.01M759.0 434.1h.01M819.1 362.2h.01M781.0 407.9h.01M866.9 362.7h.01M758.1 424.0h.01M817.8 367.1h.01M844.8 340.6h.01M778.8 431.9h.01M829.4 361.5h.01M708.7 503.9h.01M852.3 338.2h.01M805.1 375.8h.01M796.0 409.0h.01M861.7 332.3h.01M818.8 396.2h.01M755.3 442.2h.01M882.9 309.7h.01M846.2 353.0h.01M817.3 415.4h.01M849.7 335.3h.01M874.3 314.0h.01M843.3 365.8h.01M864.9 321.7h.01M855.5 350.3h.01M855.7 336.4h.01M794.1 416.3h.01M837.1 363.7h.01M852.1 336.6h.01M840.9 351.7h.01M764.3 414.2h.01M967.7 234.2h.01M810.9 373.5h.01M806.0 390.6h.01M823.3 389.0h.01M813.7 396.2h.01M848.6 348.6h.01M763.7 419.7h.01M775.4 437.0h.01M814.3 371.7h.01M822.0 397.2h.01M759.9 424.9h.01M838.9 367.9h.01M849.9 338.3h.01M781.6 406.7h.01M762.4 419.4h.01M870.5 354.9h.01M854.1 346.7h.01M785.3 396.5h.01M832.0 362.9h.01M832.7 356.8h.01M827.9 356.6h.01M819.6 380.1h.01M804.8 408.6h.01M782.0 416.1h.01M819.5 392.5h.01M796.3 412.5h.01M838.4 364.0h.01M814.5 380.7h.01M955.3 241.3h.01M871.8 331.0h.01M772.7 425.3h.01M838.0 363.3h.01M806.1 384.9h.01M773.8 428.7h.01M857.9 326.3h.01M826.1 382.6h.01M845.7 351.3h.01M758.7 453.5h.01M872.7 334.9h.01M824.6 369.0h.01M802.8 388.8h.01M822.3 378.0h.01M871.2 314.1h.01M851.5 345.6h.01M773.9 411.0h.01M822.3 384.5h.01M900.8 290.8h.01M819.5 369.3h.01M824.7 360.5h.01M770.1 413.3h.01M834.1 350.9h.01M795.7 386.5h.01M833.8 363.1h.01M773.9 421.7h.01M864.8 323.8h.01M795.9 396.3h.01M817.2 373.0h.01M874.5 320.0h.01M788.0 398.0h.01M815.4 377.4h.01M763.3 448.2h.01M856.7 337.3h.01M829.8 360.4h.01M773.9 411.2h.01M790.3 402.0h.01M854.8 343.5h.01M788.9 429.9h.01M790.9 399.4h.01M889.8 301.6h.01M831.1 353.5h.01M820.8 404.0h.01M846.4 338.4h.01M744.5 454.8h.01M804.7 391.0h.01M774.8 422.6h.01M771.1 420.3h.01M821.9 384.8h.01M807.7 403.9h.01M754.8 426.8h.01M776.4 431.7h.01M848.7 358.1h.01M958.2 241.3h.01M865.0 327.0h.01M840.9 353.7h.01M772.1 413.2h.01M840.1 372.0h.01M835.0 350.7h.01M841.8 354.4h.01M872.3 329.9h.01M755.9 429.9h.01M871.6 314.7h.01M839.3 351.7h.01M807.1 387.2h.01M774.9 436.0h.01M818.8 362.5h.01M850.1 364.3h.01M774.0 412.9h.01M869.8 324.5h.01M872.0 332.4h.01M860.2 339.0h.01M805.7 385.6h.01M853.4 342.5h.01M842.8 344.0h.01M821.9 357.5h.01M835.7 368.2h.01M804.6 395.8h.01M813.4 389.8h.01M871.9 336.5h.01M823.2 386.1h.01M869.3 328.0h.01M839.2 347.8h.01M780.6 432.6h.01M773.4 421.4h.01M833.8 349.3h.01M836.2 374.9h.01M808.9 371.7h.01M806.3 373.3h.01M789.1 405.8h.01M830.4 366.9h.01M833.1 358.0h.01M822.5 380.9h.01M882.5 304.5h.01M790.1 394.2h.01M853.2 333.9h.01M769.7 456.3h.01M824.3 365.7h.01M774.8 426.2h.01M838.8 365.4h.01M809.3 377.4h.01M885.3 304.9h.01M811.9 374.3h.01M778.3 405.6h.01M836.1 357.4h.01M778.0 447.8h.01M861.3 368.4h.01M777.0 411.9h.01M824.7 365.8h.01M851.8 380.1h.01M790.1 403.9h.01M825.3 367.0h.01M889.9 307.0h.01M790.0 403.1h.01M837.4 360.7h.01M765.7 429.8h.01M895.4 294.6h.01M922.7 277.2h.01M800.9 383.1h.01M837.1 350.5h.01M815.5 392.0h.01M841.6 342.9h.01M849.7 340.6h.01M788.5 396.9h.01M773.1 441.3h.01M835.0 354.5h.01M815.9 381.2h.01M780.5 434.5h.01M798.0 391.8h.01M863.6 369.5h.01M783.9 407.1h.01M764.2 432.8h.01M798.8 421.9h.01M769.4 412.3h.01M770.5 415.4h.01M767.1 424.9h.01M787.3 425.6h.01M855.4 345.3h.01M863.1 325.7h.01M834.0 357.7h.01M728.3 473.6h.01M812.4 377.7h.01M831.6 362.7h.01M828.9 396.4h.01M900.9 287.4h.01M805.5 394.1h.01M827.5 405.7h.01M804.7 390.6h.01M833.7 351.0h.01M764.4 415.8h.01M863.4 342.5h.01M784.3 417.1h.01M773.8 423.6h.01M823.0 367.9h.01M837.7 352.7h.01M831.0 375.1h.01M825.2 368.6h.01M790.2 399.6h.01M894.3 328.0h.01M877.8 320.1h.01M821.1 372.1h.01M750.6 432.6h.01M804.5 390.5h.01M873.4 317.8h.01M764.3 423.7h.01M848.4 354.7h.01M822.2 358.3h.01M881.1 331.4h.01M789.0 400.2h.01M861.3 324.3h.01M811.7 387.8h.01M816.6 370.0h.01M787.7 400.8h.01M761.1 437.1h.01M772.1 412.3h.01M839.7 346.0h.01M827.1 359.1h.01M805.3 405.0h.01M836.2 359.8h.01M778.9 409.8h.01M779.9 427.1h.01M813.8 411.0h.01M847.6 342.1h.01M799.1 407.8h.01M770.0 429.9h.01M868.1 319.1h.01M766.7 427.8h.01M877.5 317.3h.01M858.6 347.0h.01M758.6 425.4h.01M965.2 225.3h.01M793.6 428.5h.01M932.6 261.4h.01M822.4 397.7h.01M755.4 431.2h.01M778.6 409.9h.01M760.5 437.6h.01M862.8 331.8h.01M816.0 389.7h.01M883.6 311.9h.01M800.3 397.8h.01M813.2 370.4h.01M822.3 361.7h.01M791.1 397.0h.01M809.5 387.4h.01M1019.4 136.0h.01M788.5 395.6h.01M822.4 371.9h.01M814.7 377.0h.01M833.5 394.6h.01M872.9 315.2h.01M790.3 391.4h.01M788.4 392.0h.01M755.6 444.8h.01M870.6 339.4h.01M783.1 402.3h.01M771.2 427.5h.01M783.8 409.6h.01M818.5 388.7h.01M1038.6 179.0h.01M902.1 285.5h.01M854.5 333.1h.01M798.2 429.9h.01M845.1 347.4h.01M800.3 380.5h.01M796.6 401.4h.01M811.2 385.5h.01M918.1 273.1h.01M773.8 412.7h.01M748.5 451.4h.01M798.9 386.9h.01M887.3 295.4h.01M960.0 200.0h.01M815.6 373.7h.01M847.3 339.6h.01M889.4 338.2h.01M792.3 410.6h.01M782.0 415.5h.01M872.0 314.5h.01M824.8 367.8h.01M874.3 326.7h.01M760.9 428.8h.01M891.3 296.5h.01M782.2 414.8h.01M844.5 360.4h.01M877.7 329.1h.01M819.5 363.6h.01M825.4 373.1h.01M855.5 338.4h.01M903.8 281.8h.01M861.5 332.8h.01M870.7 329.4h.01M768.4 427.7h.01M820.4 370.8h.01M747.7 448.2h.01M775.4 416.4h.01M864.6 348.5h.01M829.2 364.1h.01M826.1 376.6h.01M857.4 351.6h.01M867.1 331.8h.01M765.9 421.0h.01M784.6 420.8h.01M857.3 350.8h.01M859.3 354.8h.01M831.7 362.9h.01M863.8 342.6h.01M848.1 340.0h.01M797.2 410.8h.01M837.8 350.4h.01M803.8 388.7h.01M799.4 386.1h.01M955.3 239.8h.01M990.1 206.9h.01M822.1 368.5h.01M843.0 358.5h.01M811.1 426.7h.01M856.8 345.0h.01M834.0 350.2h.01M855.0 328.3h.01M818.2 378.9h.01M767.4 421.8h.01M867.1 320.8h.01M795.1 387.9h.01M845.9 344.9h.01M791.8 427.7h.01M803.6 380.6h.01M769.8 415.7h.01M775.0 409.8h.01M861.0 325.3h.01M795.2 396.7h.01M838.1 348.3h.01M790.2 415.8h.01M808.6 393.6h.01M883.9 326.0h.01M811.8 386.5h.01M843.2 361.7h.01M883.1 334.9h.01M832.7 352.2h.01M821.0 365.0h.01M827.4 378.3h.01M910.1 300.5h.01M819.6 377.3h.01M857.2 356.5h.01M836.2 354.0h.01M835.2 346.9h.01M780.3 396.9h.01M790.0 396.9h.01M886.9 304.9h.01M885.2 298.3h.01M815.5 367.1h.01M780.5 411.0h.01M825.4 358.9h.01M857.5 358.1h.01M809.5 379.9h.01M829.0 381.5h.01M822.2 367.9h.01M777.3 413.7h.01M719.6 486.0h.01M860.3 337.0h.01M840.7 382.1h.01M854.4 329.1h.01M813.0 379.8h.01M754.3 469.0h.01M755.1 426.8h.01M868.8 326.7h.01M735.8 483.6h.01M766.7 416.7h.01M810.7 385.8h.01M858.7 330.1h.01M773.7 440.2h.01M785.7 397.7h.01M871.2 317.3h.01M849.5 362.7h.01M769.6 422.2h.01M867.6 333.6h.01M758.3 427.7h.01M823.1 380.2h.01M901.6 300.7h.01M819.5 375.7h.01M758.3 426.4h.01M744.3 444.1h.01M821.9 371.9h.01M843.5 345.3h.01M811.3 386.8h.01M899.1 298.0h.01M855.3 346.2h.01M846.2 345.3h.01M818.0 368.0h.01M800.9 383.9h.01M881.8 330.2h.01M847.4 371.8h.01M792.0 430.9h.01M823.8 370.4h.01M779.3 420.1h.01M822.5 381.4h.01M897.9 299.8h.01M842.1 343.2h.01M860.4 338.4h.01M918.7 295.3h.01M778.1 411.1h.01M823.5 366.7h.01M755.2 445.9h.01M857.0 333.5h.01M904.5 299.2h.01M822.8 363.5h.01M751.4 439.3h.01M800.3 393.6h.01M858.3 329.4h.01M850.3 357.2h.01M833.9 351.2h.01M881.4 335.7h.01M851.2 342.4h.01M784.0 408.7h.01M815.2 376.0h.01M843.7 340.6h.01M792.1 403.6h.01M823.1 367.3h.01M837.2 351.5h.01M906.7 291.1h.01M901.6 305.2h.01M837.4 363.3h.01M754.2 441.5h.01M796.9 401.8h.01M770.8 425.7h.01M835.3 360.9h.01M822.4 367.8h.01M764.2 447.3h.01M864.8 333.3h.01M771.2 412.0h.01M852.8 350.3h.01M755.8 432.9h.01M782.7 408.9h.01M766.3 424.9h.01M821.3 377.3h.01M799.6 385.9h.01M816.8 397.6h.01M901.4 306.9h.01M903.4 298.6h.01M825.4 364.3h.01M818.8 381.2h.01M821.5 371.0h.01M729.9 491.5h.01M818.2 373.8h.01M810.2 391.1h.01M783.1 399.9h.01M842.3 340.5h.01M839.5 364.8h.01M824.1 377.4h.01M825.2 358.1h.01M767.3 442.7h.01M817.3 391.9h.01M831.2 355.8h.01M785.7 400.7h.01M822.2 380.9h.01M804.3 400.5h.01M817.5 391.5h.01M764.0 429.7h.01M725.6 458.9h.01M863.5 338.6h.01M884.4 328.8h.01M857.4 338.6h.01M866.3 360.1h.01M808.3 373.8h.01M809.7 389.6h.01M840.0 358.7h.01M793.7 388.9h.01M838.2 385.2h.01M811.0 382.6h.01M774.4 418.9h.01M792.0 399.7h.01M845.9 355.3h.01M794.7 413.1h.01M787.1 428.5h.01M845.8 347.6h.01M793.9 405.2h.01M809.2 386.2h.01M857.7 354.8h.01M781.3 402.9h.01M855.4 337.1h.01M812.1 384.0h.01M863.0 322.3h.01M801.5 406.9h.01M808.0 382.0h.01M822.8 360.7h.01M823.9 361.6h.01M794.0 392.8h.01M785.8 396.4h.01M842.9 355.1h.01M786.1 401.0h.01M794.4 418.7h.01M867.1 330.2h.01M775.6 411.4h.01M761.0 417.8h.01M764.8 428.5h.01M823.0 372.6h.01M777.2 405.6h.01M851.5 357.4h.01M849.2 340.2h.01M839.9 355.9h.01M847.4 343.9h.01M816.3 378.6h.01M808.1 381.6h.01M866.2 323.1h.01M762.5 444.4h.01M971.0 237.1h.01M752.3 442.5h.01M794.1 427.3h.01M838.8 347.7h.01M879.0 310.1h.01M846.9 346.3h.01M919.5 284.6h.01M771.7 407.6h.01M859.6 334.5h.01M866.4 315.6h.01M821.6 374.1h.01M824.2 386.7h.01M763.7 425.7h.01M815.4 385.6h.01M776.7 414.7h.01M828.3 376.1h.01M805.2 376.1h.01M796.3 392.5h.01M784.6 400.1h.01M775.8 404.9h.01M866.6 337.6h.01M835.5 349.5h.01M788.2 415.5h.01M823.4 368.7h.01M765.0 423.3h.01M858.0 329.1h.01M788.5 395.4h.01M905.9 304.6h.01M905.1 285.9h.01M854.6 339.5h.01M839.6 362.4h.01M835.6 360.3h.01M794.9 395.1h.01M773.6 430.7h.01M796.0 408.1h.01M821.3 401.2h.01M829.3 362.9h.01M833.7 362.1h.01M882.5 323.4h.01M797.8 390.7h.01M811.7 400.0h.01M871.7 326.8h.01M842.5 346.1h.01M818.0 388.7h.01M853.5 336.6h.01M834.6 370.3h.01M809.0 385.4h.01M849.0 359.2h.01M792.3 396.2h.01M848.3 357.0h.01M820.1 367.8h.01M823.0 366.0h.01M808.0 407.9h.01M803.6 415.4h.01M836.8 364.5h.01M865.4 346.4h.01M797.9 398.9h.01M838.3 356.0h.01M808.0 412.5h.01M856.6 339.6h.01M763.4 440.3h.01M754.5 427.4h.01M768.8 409.8h.01M824.0 366.1h.01M905.2 290.8h.01M807.2 382.2h.01M811.8 389.7h.01M764.9 413.6h.01M804.3 392.7h.01M885.0 330.8h.01M802.3 381.6h.01M877.8 311.9h.01M850.1 350.4h.01M838.8 363.7h.01M825.3 364.2h.01M773.2 420.8h.01M882.7 346.5h.01M788.4 401.1h.01M790.8 406.1h.01M894.2 295.7h.01M769.1 439.5h.01M835.7 384.5h.01M868.5 328.5h.01M845.8 335.3h.01M829.1 368.0h.01M849.7 350.8h.01M809.5 372.1h.01M826.7 359.5h.01M962.8 242.8h.01M862.1 333.5h.01M856.3 331.0h.01M772.4 420.6h.01M803.0 380.6h.01M820.8 364.4h.01M825.7 367.2h.01M749.6 453.1h.01M841.1 342.2h.01M751.9 454.5h.01M799.7 387.3h.01M801.7 393.0h.01M796.1 388.2h.01M812.2 379.4h.01M799.5 385.2h.01M782.3 398.9h.01M763.3 427.8h.01M844.1 341.1h.01M854.6 357.4h.01M862.6 344.8h.01M780.9 405.4h.01M798.9 382.9h.01M793.6 403.5h.01M857.9 341.2h.01M835.1 349.7h.01M781.8 412.2h.01M828.4 376.7h.01M820.4 366.5h.01M788.9 412.2h.01M841.5 376.6h.01M738.9 442.9h.01M829.0 352.3h.01M803.2 379.1h.01M763.7 428.3h.01M845.3 365.7h.01M759.1 425.0h.01M853.6 336.3h.01M767.0 414.7h.01M787.0 408.1h.01M857.2 336.6h.01M829.5 369.4h.01M808.8 377.3h.01M781.6 439.3h.01M895.7 291.9h.01M862.5 340.5h.01M810.7 386.6h.01M779.5 412.3h.01M801.6 380.7h.01M865.2 380.8h.01M812.6 379.4h.01M796.3 395.9h.01M817.8 370.4h.01M775.9 413.6h.01M778.3 406.4h.01M808.4 382.6h.01M872.4 321.1h.01M913.7 285.0h.01M821.7 365.6h.01M979.4 214.9h.01M777.9 406.3h.01M798.9 414.8h.01M985.0 221.8h.01M878.9 323.2h.01M805.1 382.4h.01M806.0 393.1h.01M982.6 212.2h.01M798.4 391.4h.01M877.2 338.7h.01M838.9 354.1h.01M826.4 363.0h.01M767.9 412.6h.01M769.7 430.7h.01M802.5 389.3h.01M859.4 327.4h.01M835.2 349.5h.01M822.4 392.8h.01M799.0 415.0h.01M783.7 406.0h.01M775.9 425.4h.01M802.8 400.2h.01M842.4 357.9h.01M864.4 335.5h.01M810.7 394.0h.01M836.2 355.2h.01M842.7 355.3h.01M795.8 401.8h.01M799.0 382.0h.01M807.3 382.2h.01M833.1 348.1h.01M918.3 305.8h.01M792.4 410.4h.01M796.9 407.6h.01M824.5 362.4h.01M888.9 307.4h.01M805.1 377.5h.01M833.6 360.3h.01M850.5 338.8h.01M886.0 297.6h.01M782.8 416.9h.01M812.1 382.9h.01M817.8 376.7h.01M803.6 384.2h.01M830.8 357.7h.01M817.8 388.1h.01M869.4 335.1h.01M851.3 334.5h.01M793.3 395.4h.01M848.2 345.6h.01M838.8 371.0h.01M775.9 467.9h.01M757.8 437.1h.01M795.5 406.6h.01M819.4 361.5h.01M851.6 356.4h.01M877.8 313.7h.01M746.9 437.7h.01M838.8 358.4h.01M814.2 390.5h.01M799.6 403.2h.01M841.0 371.6h.01M840.4 345.2h.01M871.0 329.4h.01M801.1 395.8h.01M759.4 441.1h.01M778.7 418.5h.01M819.7 364.6h.01M826.5 376.2h.01M818.7 371.1h.01M830.3 362.6h.01M819.3 387.9h.01M826.6 361.3h.01M779.4 408.3h.01M788.6 404.0h.01M860.2 342.7h.01M972.6 232.8h.01M780.4 401.5h.01M776.5 407.8h.01M914.0 277.2h.01M909.2 281.6h.01M765.9 413.5h.01M832.6 366.9h.01M771.8 407.0h.01M803.2 390.1h.01M795.3 398.5h.01M752.2 430.8h.01M849.7 350.0h.01M855.7 339.1h.01M811.4 375.2h.01M766.1 429.7h.01M773.5 423.6h.01M907.1 293.5h.01M847.8 363.4h.01M792.4 394.9h.01M856.6 355.1h.01M832.2 353.2h.01M870.7 317.2h.01M854.1 336.8h.01M813.8 388.3h.01M812.2 391.5h.01M760.8 422.7h.01M762.4 431.6h.01M800.1 393.1h.01M828.3 367.2h.01M779.3 434.2h.01M833.1 384.7h.01M801.5 391.7h.01M875.0 323.3h.01M780.6 397.2h.01M866.4 334.8h.01M816.6 366.6h.01M838.9 358.4h.01M755.8 440.0h.01M790.9 403.0h.01M834.8 383.4h.01M843.6 348.6h.01M899.0 311.1h.01M841.5 357.2h.01M855.3 359.4h.01M876.5 323.6h.01M759.7 422.8h.01M938.7 251.7h.01M845.2 350.5h.01M845.8 337.7h.01M811.9 409.3h.01M841.1 364.2h.01M829.2 361.5h.01M778.6 425.4h.01M847.2 334.9h.01M808.6 380.9h.01M867.1 329.7h.01M835.6 356.9h.01M783.1 409.4h.01M962.6 232.1h.01M875.1 328.6h.01M815.2 366.8h.01M800.8 421.5h.01M814.3 375.8h.01M863.3 331.4h.01M773.7 412.4h.01M801.7 389.2h.01M781.6 406.4h.01M773.0 412.3h.01M790.3 399.1h.01M817.7 388.0h.01M843.6 342.9h.01M797.4 411.6h.01M812.2 400.9h.01M756.0 465.6h.01M835.2 351.2h.01M761.4 423.3h.01M810.7 374.7h.01M889.3 303.3h.01M815.3 372.0h.01M826.4 375.5h.01M761.5 445.1h.01M817.2 367.1h.01M884.9 335.6h.01M825.5 372.3h.01M920.0 281.1h.01M805.0 381.5h.01M821.4 379.4h.01M865.7 341.4h.01M852.1 340.9h.01M830.1 383.7h.01M853.0 354.0h.01M818.9 376.6h.01M966.4 237.1h.01M805.7 397.5h.01M942.6 265.2h.01M869.0 349.3h.01M892.3 310.4h.01M937.4 268.9h.01M911.8 283.4h.01M805.9 387.4h.01M836.7 362.5h.01M745.1 459.5h.01M842.0 344.7h.01M787.0 395.7h.01M789.1 412.8h.01M784.6 410.7h.01M825.1 379.0h.01M900.6 288.0h.01M846.9 348.3h.01M960.1 253.7h.01M814.4 379.2h.01M682.4 493.7h.01M844.9 337.5h.01M778.6 429.4h.01M849.8 349.2h.01M896.0 299.8h.01M794.7 392.7h.01M816.1 380.0h.01M765.4 420.4h.01M838.5 362.8h.01M843.3 362.5h.01M894.7 294.7h.01M826.2 355.4h.01M844.2 361.5h.01M811.1 417.0h.01M895.2 298.4h.01M876.3 325.8h.01M805.4 389.1h.01M784.6 407.1h.01M773.8 428.7h.01M922.9 265.8h.01M851.4 366.6h.01M860.5 326.0h.01M806.3 377.4h.01M760.9 444.8h.01M794.6 398.3h.01M862.2 328.8h.01M859.1 337.3h.01M877.8 311.9h.01M826.8 366.6h.01M807.4 375.6h.01M829.5 369.4h.01M773.6 414.0h.01M898.9 302.5h.01M791.5 391.9h.01M845.7 347.6h.01M873.0 324.3h.01M856.2 342.1h.01M851.2 346.1h.01M813.9 369.5h.01M747.8 432.8h.01M764.2 429.0h.01M792.6 391.2h.01M870.9 337.8h.01M850.4 345.6h.01M800.3 390.9h.01M792.4 401.3h.01M846.5 362.3h.01M812.0 381.0h.01M887.8 312.4h.01M763.7 426.7h.01M801.3 389.5h.01M932.1 269.3h.01M907.1 281.9h.01M777.8 439.8h.01M870.2 342.5h.01M757.4 451.0h.01M818.4 387.8h.01M872.1 326.2h.01M900.0 337.3h.01M825.2 383.1h.01M786.9 403.3h.01M785.9 420.8h.01M824.4 357.8h.01M812.7 378.1h.01M840.9 365.5h.01M809.9 393.8h.01M854.8 329.1h.01M830.4 356.6h.01M874.0 316.4h.01M797.5 387.2h.01M783.2 413.9h.01M846.7 333.6h.01M847.3 344.0h.01M823.1 378.1h.01M805.8 379.5h.01M795.6 393.8h.01M801.0 380.7h.01M836.8 350.5h.01M803.0 381.4h.01M825.2 365.2h.01M813.6 378.9h.01M825.9 386.6h.01M859.2 333.4h.01M893.3 320.3h.01M821.8 368.1h.01M847.1 348.5h.01M770.0 427.0h.01M872.7 336.3h.01M844.7 344.8h.01M780.6 430.3h.01M769.6 420.5h.01M788.6 404.3h.01M856.5 352.4h.01M846.3 362.9h.01M822.6 376.4h.01M810.8 384.5h.01M815.1 380.5h.01M851.9 350.5h.01M874.4 320.0h.01M793.0 409.7h.01M804.8 410.8h.01M764.6 426.8h.01M758.3 423.6h.01M859.2 336.8h.01M815.2 393.3h.01M846.5 356.2h.01M877.0 350.4h.01M896.0 296.2h.01M767.4 417.0h.01M803.7 401.8h.01M834.8 366.6h.01M848.8 347.8h.01M811.6 391.9h.01M835.8 367.4h.01M784.4 431.6h.01M803.5 380.8h.01M837.2 351.0h.01M769.1 411.2h.01M985.0 223.9h.01M819.7 363.2h.01M873.7 319.3h.01M880.8 312.1h.01M837.4 344.6h.01M906.9 297.7h.01M905.6 289.9h.01M814.6 390.0h.01M811.4 383.3h.01M839.8 347.5h.01M781.5 406.6h.01M779.2 418.1h.01M758.3 431.1h.01M783.1 409.6h.01M802.8 402.0h.01M845.5 353.5h.01M848.7 347.3h.01M814.4 388.9h.01M810.4 397.1h.01M765.9 437.0h.01M810.1 377.1h.01M857.5 336.3h.01M818.5 366.7h.01M866.1 344.9h.01M757.8 455.8h.01M973.1 245.7h.01M837.1 362.8h.01M792.9 397.1h.01M806.4 393.8h.01M820.4 365.6h.01M806.0 379.7h.01M766.9 418.9h.01M859.5 323.3h.01M794.5 391.6h.01M807.4 375.4h.01M833.3 364.9h.01M789.9 402.2h.01M790.1 398.3h.01M717.0 504.4h.01M824.0 374.2h.01M818.2 369.8h.01M835.3 368.9h.01M776.5 418.2h.01M811.1 370.8h.01M824.9 389.1h.01M810.9 381.6h.01M870.1 337.1h.01M900.1 293.2h.01M768.6 463.2h.01M850.7 352.0h.01M846.3 390.5h.01M811.4 376.2h.01M879.9 308.8h.01M809.3 388.4h.01M774.1 410.5h.01M786.1 417.6h.01M873.0 314.7h.01M841.5 353.5h.01M789.5 402.5h.01M834.0 355.7h.01M797.3 387.3h.01M799.6 389.0h.01M817.2 370.0h.01M759.1 424.4h.01M843.8 347.7h.01M906.1 283.3h.01M778.1 407.4h.01M865.6 322.6h.01M801.0 413.8h.01M769.9 416.5h.01M831.1 363.5h.01M829.7 352.1h.01M843.2 349.9h.01M786.6 424.6h.01M761.6 436.4h.01M839.3 347.8h.01M866.4 316.5h.01M839.1 357.9h.01M841.1 358.4h.01M805.3 389.7h.01M787.1 419.1h.01M808.7 392.1h.01M809.6 388.0h.01M855.0 355.0h.01M867.5 329.2h.01M769.7 420.0h.01M755.4 424.9h.01M820.4 374.6h.01M829.8 360.8h.01M825.1 359.0h.01M858.8 337.0h.01M762.5 432.0h.01M835.1 356.8h.01M965.2 240.1h.01M830.5 361.5h.01M873.2 312.0h.01M837.4 346.1h.01M837.4 358.6h.01M864.6 330.9h.01M895.6 297.3h.01M875.8 320.6h.01M978.9 227.8h.01M803.3 407.1h.01M829.4 349.7h.01M814.3 399.0h.01M889.8 311.7h.01M843.9 376.5h.01M826.6 369.7h.01M815.9 379.2h.01M803.2 386.9h.01M867.5 321.0h.01M824.8 365.8h.01M705.1 476.6h.01M810.4 377.6h.01M855.9 331.8h.01M823.4 375.0h.01M869.7 320.8h.01M802.2 397.8h.01M835.1 373.6h.01M952.9 248.1h.01M812.4 373.9h.01M782.6 409.0h.01M768.3 427.2h.01M857.7 334.5h.01M870.6 315.8h.01M815.1 382.5h.01M853.4 347.4h.01M795.8 423.1h.01M797.3 392.0h.01M763.4 437.2h.01M790.0 401.9h.01M870.6 337.5h.01M876.6 329.8h.01M838.3 362.1h.01M786.2 401.4h.01M962.9 252.8h.01M857.0 337.2h.01M873.7 317.8h.01M828.1 369.6h.01M873.0 320.0h.01M794.9 393.2h.01M790.3 413.7h.01M864.5 321.9h.01M876.9 314.4h.01M763.6 426.0h.01M801.7 381.9h.01M773.4 428.0h.01M806.9 389.5h.01M845.4 341.5h.01M925.9 273.7h.01M882.2 306.4h.01M782.4 407.9h.01M807.4 406.8h.01M757.8 441.8h.01M740.0 465.3h.01M817.9 370.7h.01M849.2 336.3h.01M905.8 292.1h.01M746.3 439.8h.01M827.1 356.9h.01M724.5 481.1h.01M791.0 400.8h.01M809.9 382.3h.01M767.2 476.3h.01M802.3 410.9h.01M806.0 382.2h.01M858.8 343.5h.01M798.1 385.5h.01M854.9 332.2h.01M773.0 416.9h.01M823.4 378.6h.01M801.0 395.0h.01M853.1 356.2h.01M783.1 405.7h.01M818.0 393.6h.01M841.3 357.5h.01M872.3 337.5h.01M759.6 434.7h.01M798.1 429.3h.01M731.3 480.4h.01M919.5 269.5h.01M799.1 389.7h.01M777.9 431.6h.01M799.0 398.0h.01M822.8 397.3h.01M783.2 402.5h.01M733.7 486.7h.01M838.9 367.6h.01M886.8 303.6h.01M940.3 258.9h.01M847.4 343.4h.01M796.9 398.3h.01M807.0 376.8h.01M810.8 406.9h.01M765.1 417.7h.01M796.0 386.4h.01M795.1 389.9h.01M762.0 432.1h.01M806.5 386.2h.01M829.8 356.5h.01M839.0 355.2h.01M884.9 333.4h.01M887.7 311.3h.01M815.6 367.9h.01M758.8 437.8h.01M783.8 410.1h.01M861.0 319.6h.01M860.4 338.7h.01M805.5 405.4h.01M973.0 228.3h.01M762.8 416.7h.01M811.3 376.6h.01M847.7 349.6h.01M762.5 446.5h.01M824.6 382.9h.01M896.3 302.7h.01M826.6 360.0h.01M763.0 426.8h.01M790.8 392.6h.01M821.7 365.7h.01M792.0 396.9h.01M813.9 378.4h.01M795.9 400.4h.01M858.7 348.5h.01M887.1 309.0h.01M793.3 416.7h.01M861.3 342.7h.01M780.5 412.8h.01M837.4 375.0h.01M818.6 385.1h.01M865.6 334.0h.01M781.3 424.3h.01M812.3 391.3h.01M780.9 402.8h.01M855.0 348.2h.01M824.9 358.1h.01M721.1 463.0h.01M857.4 377.1h.01M826.1 369.2h.01M819.7 373.7h.01M867.1 327.7h.01M789.3 392.8h.01M859.6 356.0h.01M822.2 375.5h.01M849.4 364.7h.01M793.1 408.5h.01M803.4 384.0h.01M828.5 368.5h.01M811.9 373.4h.01M770.1 460.7h.01M736.1 470.0h.01M815.7 376.1h.01M894.6 296.2h.01M764.3 425.1h.01M889.3 338.9h.01M817.3 380.3h.01M855.1 337.4h.01M849.2 357.0h.01M798.0 389.2h.01M762.4 435.1h.01M787.6 401.8h.01M852.7 338.7h.01M766.5 416.3h.01M850.1 341.7h.01M912.6 297.1h.01M803.4 395.3h.01M772.4 416.9h.01M787.0 407.1h.01M876.8 323.3h.01M836.5 369.7h.01M817.9 370.8h.01M802.1 404.0h.01M867.2 339.1h.01M832.4 353.1h.01M807.3 380.3h.01M757.5 443.5h.01M858.6 331.8h.01M814.9 369.9h.01M813.7 406.5h.01M790.3 392.6h.01M815.7 380.6h.01M824.9 385.9h.01M791.3 419.5h.01M864.8 338.9h.01M870.1 342.8h.01M818.1 368.0h.01M831.5 362.1h.01M812.6 377.2h.01M785.4 404.9h.01M814.1 392.2h.01M803.2 390.7h.01M870.8 334.5h.01M756.9 428.2h.01M894.3 297.0h.01M802.4 396.5h.01M806.5 386.5h.01M853.3 337.0h.01M814.6 377.3h.01M807.3 385.6h.01M881.2 320.1h.01M858.4 331.3h.01M857.6 338.1h.01M843.4 340.6h.01M741.7 453.2h.01M792.4 401.7h.01M832.3 356.5h.01M875.2 340.4h.01M881.4 315.5h.01M843.1 359.3h.01M765.9 415.6h.01M831.5 371.8h.01M788.7 404.3h.01M858.2 340.6h.01M770.8 422.2h.01M827.3 386.4h.01M852.8 363.6h.01M833.5 356.4h.01M832.6 359.4h.01M784.0 403.9h.01M774.6 420.7h.01M837.5 352.1h.01M821.9 376.3h.01M857.8 390.3h.01M768.7 410.4h.01M852.5 344.7h.01M769.6 413.5h.01M784.0 400.3h.01M909.2 275.4h.01M788.7 398.3h.01M791.0 405.6h.01M789.6 412.1h.01M782.0 399.6h.01M792.1 394.2h.01M825.9 376.8h.01M800.1 388.3h.01M770.8 423.6h.01M850.5 335.9h.01M797.5 393.9h.01M854.9 340.1h.01M757.1 453.1h.01M885.3 320.1h.01M771.1 418.4h.01M829.9 378.2h.01M855.3 352.6h.01M844.8 338.4h.01M755.7 427.5h.01M813.7 377.3h.01M802.8 398.4h.01M802.7 391.4h.01M876.7 312.1h.01M790.3 396.0h.01M831.6 358.2h.01M796.3 419.2h.01M862.5 341.5h.01M889.6 303.5h.01M815.4 382.8h.01M836.1 366.7h.01M835.5 354.8h.01M821.7 370.8h.01M786.6 403.5h.01M886.2 324.7h.01M816.0 367.3h.01M828.3 355.9h.01M785.5 423.7h.01M780.6 412.5h.01M803.5 383.7h.01M854.9 357.2h.01M888.4 313.8h.01M780.9 428.6h.01M841.4 347.6h.01M782.0 408.1h.01M878.9 309.2h.01M797.6 386.7h.01M845.0 351.2h.01M892.8 308.7h.01M836.3 386.3h.01M813.3 379.2h.01M843.6 350.9h.01M783.1 406.6h.01M844.0 375.6h.01M786.1 399.2h.01M781.6 421.5h.01M810.4 381.0h.01M796.2 422.3h.01M844.2 344.3h.01M805.3 383.1h.01M797.2 395.2h.01M841.5 345.7h.01M821.5 367.2h.01M767.0 425.2h.01M840.0 364.2h.01M767.4 439.9h.01M878.9 327.8h.01M758.1 430.4h.01M807.3 394.2h.01M862.0 326.1h.01M788.2 410.9h.01M827.7 403.7h.01M796.2 391.0h.01M822.3 368.0h.01M771.9 413.8h.01M841.6 347.7h.01M811.2 400.9h.01M855.0 352.8h.01M799.2 388.4h.01M822.1 377.5h.01M790.8 395.6h.01M808.6 395.8h.01M930.2 263.3h.01M809.3 380.2h.01M785.8 404.8h.01M829.8 366.9h.01M799.0 387.2h.01M811.1 377.1h.01M810.3 382.0h.01M703.4 481.4h.01M857.9 336.0h.01M822.1 362.0h.01M862.5 347.6h.01M835.8 364.6h.01M857.7 343.8h.01M830.2 356.5h.01M846.1 367.1h.01M798.9 387.0h.01M715.3 500.5h.01M937.2 257.1h.01M775.4 403.5h.01M841.7 354.2h.01M780.5 413.8h.01M757.6 433.8h.01M876.2 310.4h.01M748.8 433.7h.01M801.3 387.8h.01M804.1 384.9h.01M810.7 384.0h.01M766.2 415.0h.01M820.7 381.4h.01M768.4 434.8h.01M813.4 379.3h.01M813.9 379.8h.01M853.4 347.7h.01M826.4 366.7h.01M799.3 408.8h.01M785.2 436.6h.01M840.8 342.5h.01M851.7 347.7h.01M821.0 364.9h.01M814.7 375.8h.01M793.8 406.4h.01M855.3 353.3h.01M828.3 377.6h.01M836.5 345.3h.01M989.9 232.4h.01M804.9 387.4h.01M789.8 402.6h.01M786.6 395.4h.01M865.8 342.0h.01M831.6 369.7h.01M837.9 351.2h.01M806.8 380.4h.01M864.6 329.6h.01M841.0 354.9h.01M797.1 391.8h.01M802.3 377.8h.01M768.4 410.0h.01M885.7 308.2h.01M816.4 372.1h.01M810.1 376.4h.01M796.2 399.3h.01M840.4 368.3h.01M815.0 379.9h.01M794.4 430.1h.01M861.3 341.8h.01M886.2 301.9h.01M804.2 418.1h.01M895.1 320.0h.01M815.9 364.5h.01M876.0 325.3h.01M842.9 358.0h.01M849.9 366.1h.01M856.1 329.2h.01M990.0 228.0h.01M758.9 429.4h.01M763.3 430.3h.01M810.4 375.4h.01M879.9 307.8h.01M824.8 377.3h.01M847.0 371.0h.01M823.3 394.3h.01M810.0 371.6h.01M824.5 374.0h.01M802.3 379.1h.01M805.7 380.5h.01M909.0 303.7h.01M891.1 304.2h.01M791.8 398.7h.01M785.2 427.8h.01M826.4 355.9h.01M818.2 365.9h.01M771.4 414.1h.01M756.6 442.3h.01M853.7 339.2h.01M816.8 376.9h.01M856.5 325.9h.01M834.2 357.1h.01M835.3 354.4h.01M847.4 357.2h.01M793.5 389.2h.01M810.9 389.9h.01M760.9 423.7h.01M755.0 427.4h.01M814.5 405.9h.01M815.9 382.7h.01M853.6 337.5h.01M783.8 406.6h.01M778.4 403.1h.01M884.4 317.4h.01M782.3 408.5h.01M860.9 348.7h.01M800.1 415.9h.01M785.6 408.7h.01M825.1 354.0h.01M836.4 358.4h.01M804.3 396.2h.01M860.7 327.3h.01M804.4 410.3h.01M825.0 372.9h.01M872.2 323.2h.01M816.5 362.5h.01M837.8 385.3h.01M789.7 403.4h.01M830.8 362.8h.01M788.2 409.5h.01M806.3 401.4h.01M952.4 244.9h.01M825.7 366.1h.01M832.8 354.1h.01M825.1 372.5h.01M797.9 390.9h.01M889.6 319.3h.01M848.0 350.1h.01M825.8 367.6h.01M815.3 393.6h.01M849.9 347.1h.01M845.2 346.6h.01M890.7 305.8h.01M809.0 383.8h.01M884.5 313.8h.01M894.7 313.6h.01M802.8 397.5h.01M809.1 376.6h.01M847.3 365.1h.01M818.5 366.4h.01M759.7 440.8h.01M794.5 388.8h.01M857.4 333.9h.01M835.2 349.1h.01M800.7 383.9h.01M856.0 352.0h.01M848.1 363.8h.01M798.9 392.0h.01M876.0 336.9h.01M800.9 403.1h.01M801.6 423.5h.01M887.3 307.6h.01M792.8 417.7h.01M886.4 302.6h.01M830.5 350.6h.01M889.0 299.5h.01M759.2 441.5h.01M782.6 403.3h.01M832.6 365.5h.01M841.4 352.1h.01M769.4 421.3h.01M819.0 388.5h.01M776.9 421.5h.01M804.6 392.1h.01M797.8 390.9h.01M848.8 340.0h.01M809.1 381.9h.01M752.0 458.6h.01M803.4 404.6h.01M745.2 448.0h.01M801.9 398.4h.01M758.9 432.8h.01M829.1 360.4h.01M789.7 414.1h.01M807.2 388.1h.01M806.4 399.7h.01M899.8 291.2h.01M839.4 346.9h.01M781.4 405.0h.01M808.4 394.2h.01M846.0 352.8h.01M801.5 394.5h.01M810.2 395.6h.01M801.3 377.7h.01M799.9 386.6h.01M805.8 412.7h.01M720.5 454.9h.01M784.8 409.5h.01M798.3 400.2h.01M795.2 407.4h.01M816.6 363.9h.01M780.0 428.3h.01M820.3 372.0h.01M790.4 416.7h.01M818.1 375.6h.01M763.1 432.9h.01M784.4 405.1h.01M770.3 428.7h.01M818.5 388.6h.01M737.1 458.2h.01M871.8 327.1h.01M910.3 287.4h.01M879.9 314.0h.01M812.1 383.5h.01M778.6 415.6h.01M789.2 397.9h.01M785.2 396.4h.01M831.1 367.4h.01M948.5 243.8h.01M864.5 325.0h.01M916.5 286.3h.01M895.1 298.3h.01M855.5 340.6h.01M844.4 352.7h.01M859.7 326.4h.01M880.6 321.5h.01M831.0 381.1h.01M796.1 395.1h.01M776.7 430.8h.01M703.5 477.7h.01M778.7 426.7h.01M827.5 380.7h.01M781.5 399.6h.01M806.7 375.7h.01M808.9 392.3h.01M725.5 457.5h.01M792.6 401.9h.01M793.3 388.8h.01M810.1 393.1h.01M859.1 334.9h.01M799.3 385.4h.01M817.7 385.6h.01M830.0 371.4h.01M848.3 371.5h.01M827.8 367.7h.01M838.1 355.6h.01M965.2 243.6h.01M823.8 377.1h.01M823.0 379.7h.01M803.6 404.2h.01M814.1 375.9h.01M782.0 404.6h.01M777.9 406.7h.01M791.3 402.6h.01M824.0 376.0h.01M819.2 371.2h.01M863.8 339.4h.01M777.3 409.6h.01M801.2 393.2h.01M766.6 437.6h.01M798.7 385.9h.01M788.0 405.1h.01M823.4 378.2h.01M786.0 398.2h.01M803.6 376.4h.01M839.0 349.2h.01M817.7 410.6h.01M816.8 368.3h.01M886.3 306.5h.01M791.4 414.9h.01M754.6 430.2h.01M837.1 353.4h.01M820.4 369.4h.01M858.9 330.1h.01M890.9 297.4h.01M796.3 416.4h.01M898.7 337.9h.01M883.4 304.3h.01M770.2 419.4h.01M794.8 395.4h.01M769.9 405.1h.01M817.9 368.6h.01M798.5 422.1h.01M849.6 337.1h.01M849.5 346.2h.01M823.9 384.2h.01M855.0 335.3h.01M799.3 386.2h.01M802.2 392.0h.01M887.8 309.0h.01M756.9 422.6h.01M802.2 396.2h.01M767.0 416.1h.01M841.5 345.6h.01M832.1 360.5h.01M819.3 372.5h.01M893.3 304.9h.01M801.6 383.3h.01M763.6 430.9h.01M755.9 428.0h.01M793.5 411.2h.01M882.6 319.0h.01M708.1 504.6h.01M774.0 416.6h.01M801.6 391.8h.01M759.5 426.8h.01M821.2 376.2h.01M828.1 376.4h.01M811.6 395.0h.01M805.5 397.0h.01M859.1 334.1h.01M764.9 435.1h.01M842.5 343.5h.01M916.5 276.9h.01M863.8 324.9h.01M899.9 312.7h.01M858.8 345.5h.01M819.6 384.1h.01M776.7 421.1h.01M827.6 363.3h.01M828.3 386.9h.01M805.4 409.8h.01M791.7 393.6h.01M785.5 409.2h.01M895.3 313.3h.01M815.0 378.9h.01M793.9 406.3h.01M862.1 340.2h.01M785.5 410.2h.01M803.3 381.6h.01M857.2 336.5h.01M808.3 398.9h.01M757.9 433.3h.01M881.1 307.2h.01M846.6 339.1h.01M905.1 296.0h.01M803.2 380.6h.01M801.1 397.7h.01M876.6 320.2h.01M801.1 398.4h.01M768.2 431.0h.01M775.6 407.1h.01M767.2 428.1h.01M874.8 324.5h.01M835.1 353.0h.01M835.0 357.7h.01M797.3 398.6h.01M783.3 426.9h.01M865.1 349.3h.01M791.8 419.8h.01M759.3 419.3h.01M794.8 404.4h.01M765.0 420.4h.01M795.0 405.9h.01M785.1 394.5h.01M975.0 235.2h.01M870.7 331.0h.01M785.5 399.5h.01M874.7 327.5h.01M813.4 381.0h.01M786.6 399.3h.01M792.0 413.6h.01M787.3 401.0h.01M838.4 367.3h.01M854.9 344.7h.01M760.0 431.6h.01M799.0 384.4h.01M829.0 378.0h.01M839.8 362.6h.01M815.7 367.5h.01M805.6 375.5h.01M798.6 410.6h.01M762.6 432.4h.01M781.9 406.8h.01M914.9 319.1h.01M774.6 413.1h.01M850.0 342.0h.01M801.6 399.1h.01M843.1 344.8h.01M808.4 392.5h.01M810.2 378.8h.01M962.1 228.5h.01M874.3 332.6h.01M850.8 354.3h.01M817.6 365.5h.01M803.7 381.7h.01M824.1 385.3h.01M855.8 341.6h.01M790.5 390.6h.01M827.8 362.6h.01M818.1 385.9h.01M824.2 365.9h.01M874.3 311.0h.01M767.5 436.8h.01M797.5 385.6h.01M807.5 392.9h.01M790.9 412.8h.01M843.6 348.1h.01M829.2 377.5h.01M817.4 372.7h.01M829.2 363.7h.01M814.5 370.5h.01M775.0 407.5h.01M778.4 411.4h.01M864.1 345.8h.01M842.5 346.7h.01M891.2 325.2h.01M863.7 338.1h.01M768.8 411.7h.01M807.4 383.4h.01M839.8 359.2h.01M802.0 392.8h.01M806.0 393.1h.01M886.7 310.4h.01M847.8 362.4h.01M842.4 341.6h.01M862.5 328.2h.01M856.0 334.7h.01M837.2 346.5h.01M869.1 352.6h.01M757.8 436.7h.01M783.3 407.8h.01M834.8 353.3h.01M820.4 388.1h.01M822.9 370.3h.01M802.3 382.1h.01M844.1 366.3h.01M850.4 336.7h.01M825.7 355.6h.01M821.6 368.5h.01M756.5 442.0h.01M771.7 415.7h.01M860.4 333.7h.01M794.7 397.6h.01M801.9 384.9h.01M850.8 338.6h.01M786.5 413.7h.01M794.2 401.4h.01M764.9 428.2h.01M810.0 395.8h.01M866.3 329.6h.01M770.5 412.3h.01M829.5 369.4h.01M769.1 423.9h.01M795.9 389.1h.01M837.0 359.8h.01M794.1 386.2h.01M831.1 354.6h.01M809.8 390.4h.01M840.4 370.0h.01M780.1 407.7h.01M768.7 419.7h.01M796.3 386.6h.01M812.7 398.9h.01M913.4 290.3h.01M836.1 392.5h.01M738.0 453.1h.01M827.2 364.4h.01M774.8 417.1h.01M848.2 349.4h.01M832.5 355.8h.01M783.6 433.0h.01M826.4 359.0h.01M789.0 399.3h.01M785.4 395.0h.01M864.0 351.9h.01M784.0 401.5h.01M781.1 414.6h.01M809.0 377.0h.01M766.1 425.3h.01M895.7 296.5h.01M856.7 341.2h.01M802.9 400.8h.01M842.1 347.3h.01M838.0 354.0h.01M768.3 420.6h.01M835.4 351.1h.01M741.8 445.9h.01M868.4 342.9h.01M916.2 287.9h.01M775.8 413.6h.01M812.5 380.3h.01M770.7 419.1h.01M742.5 444.7h.01M809.9 388.7h.01M862.6 330.0h.01M822.4 379.8h.01M824.2 359.9h.01M867.1 328.9h.01M879.6 307.0h.01M774.4 418.3h.01M891.3 296.6h.01M778.5 401.8h.01M822.1 361.6h.01M873.5 314.4h.01M760.1 416.1h.01M845.4 368.7h.01M807.6 388.3h.01M834.5 350.5h.01M787.2 417.5h.01M798.7 385.8h.01M825.4 390.6h.01M928.7 275.7h.01M848.3 338.6h.01M782.4 415.5h.01M789.3 388.3h.01M809.6 389.8h.01M816.4 382.6h.01M815.4 410.9h.01M855.4 336.4h.01M954.3 237.1h.01M821.8 384.7h.01M912.5 297.7h.01M823.9 361.7h.01M806.9 375.4h.01M794.1 412.9h.01M794.0 411.0h.01M772.1 423.2h.01M786.9 399.6h.01M875.3 324.3h.01M805.8 411.0h.01M759.5 432.4h.01M943.7 289.5h.01M849.9 359.9h.01M842.6 345.6h.01M841.2 345.1h.01M779.0 408.3h.01M772.2 414.0h.01M904.2 309.5h.01M849.2 341.1h.01M757.5 438.3h.01M870.1 320.2h.01M801.4 380.4h.01M789.9 400.5h.01M842.9 343.3h.01M812.7 386.8h.01M828.6 374.5h.01M862.2 328.4h.01M823.2 358.1h.01M811.9 383.1h.01M793.4 397.9h.01M833.9 362.9h.01M827.6 362.4h.01M803.6 377.6h.01M833.0 367.0h.01M844.9 344.0h.01M868.1 317.8h.01M883.9 307.5h.01M798.1 392.6h.01M813.1 370.7h.01M794.3 408.2h.01M787.1 403.2h.01M719.7 471.8h.01M839.8 349.9h.01M840.6 345.4h.01M830.9 365.7h.01M868.5 323.4h.01M773.5 428.0h.01M859.4 322.8h.01M863.5 330.0h.01M808.7 379.0h.01M792.0 388.8h.01M859.4 349.0h.01M876.3 316.6h.01M886.7 314.9h.01M782.3 418.0h.01M781.8 405.2h.01M809.3 389.2h.01M771.1 417.2h.01M797.4 390.4h.01M767.4 423.2h.01M785.8 403.5h.01M812.3 393.6h.01M773.7 412.8h.01M875.8 309.0h.01M842.4 356.6h.01M852.5 387.4h.01M803.5 390.4h.01M826.7 360.9h.01M770.3 434.6h.01M787.4 409.7h.01M757.4 424.9h.01M834.1 377.8h.01M784.2 403.8h.01M843.5 376.6h.01M846.8 355.6h.01M828.3 368.1h.01M770.7 419.5h.01M783.7 407.5h.01M831.1 357.6h.01M780.5 414.2h.01M794.6 387.0h.01M831.5 355.3h.01M763.2 432.5h.01M744.6 437.3h.01M857.1 362.1h.01M772.7 406.4h.01M767.6 416.2h.01M784.0 423.0h.01M789.0 389.2h.01M830.7 381.9h.01M809.0 376.3h.01M806.6 382.9h.01M851.4 339.8h.01M862.5 328.3h.01M799.9 413.6h.01M892.7 322.7h.01M846.2 351.1h.01M842.3 360.0h.01M843.2 339.7h.01M784.9 409.8h.01M792.5 410.5h.01M826.3 393.0h.01M786.9 407.7h.01M798.0 396.4h.01M843.9 347.5h.01M842.9 351.1h.01M860.4 345.6h.01M824.1 373.8h.01M832.3 361.4h.01M784.0 401.7h.01M738.7 470.1h.01M822.5 403.1h.01M835.5 348.0h.01M796.3 385.6h.01M770.4 416.2h.01M811.7 379.6h.01M885.0 303.6h.01M864.2 322.4h.01M839.6 348.4h.01M823.7 380.7h.01M808.2 375.4h.01M782.6 408.0h.01M776.2 413.6h.01M807.5 388.7h.01M829.3 364.1h.01M798.1 387.8h.01M796.8 393.1h.01M828.9 384.2h.01M855.8 326.9h.01M853.9 356.3h.01M812.1 375.8h.01M858.0 353.8h.01M827.9 364.2h.01M748.1 446.1h.01M851.4 361.4h.01M793.5 392.9h.01M848.6 362.2h.01M961.8 234.8h.01M821.2 384.0h.01M864.2 335.6h.01M867.6 322.4h.01M794.1 390.2h.01M791.2 407.9h.01M876.7 319.7h.01M774.5 415.8h.01M860.8 335.2h.01M882.2 309.5h.01M773.0 416.0h.01M782.9 404.0h.01M789.1 399.8h.01M866.9 361.2h.01M841.4 371.9h.01M786.4 417.7h.01M820.6 366.1h.01M879.6 332.7h.01M791.4 391.9h.01M851.5 332.2h.01M832.2 387.0h.01M732.1 445.2h.01M812.1 365.4h.01M779.2 404.1h.01M851.8 352.2h.01M773.7 434.6h.01M791.3 398.4h.01M812.7 384.8h.01M786.2 406.6h.01M835.9 354.5h.01M852.0 338.0h.01M791.8 410.7h.01M854.9 362.6h.01M871.6 326.3h.01M782.2 433.7h.01M776.9 437.1h.01M821.7 367.7h.01M809.1 379.6h.01M819.0 377.9h.01M763.7 428.3h.01M790.8 410.7h.01M817.0 381.9h.01M823.3 362.3h.01M902.6 286.2h.01M863.3 333.3h.01M861.7 333.3h.01M823.9 376.6h.01M809.4 396.7h.01M808.4 380.9h.01M847.7 354.9h.01M783.8 416.4h.01M811.9 381.2h.01M916.2 276.4h.01M797.0 394.1h.01M851.5 355.1h.01M773.6 434.0h.01M790.8 399.4h.01M796.4 385.0h.01M894.5 300.4h.01M845.2 347.4h.01M774.7 413.0h.01M889.5 310.0h.01M852.8 336.1h.01M820.2 375.5h.01M812.7 395.0h.01M792.2 403.5h.01M859.6 330.7h.01M803.9 384.3h.01M821.7 368.6h.01M811.1 392.4h.01M845.3 348.6h.01M782.4 407.4h.01M740.8 459.5h.01M846.9 342.6h.01M843.2 353.2h.01M866.0 324.7h.01M905.8 286.9h.01M780.8 431.8h.01M867.0 321.1h.01M775.3 414.4h.01M870.0 322.2h.01M960.1 265.5h.01M764.9 451.5h.01M770.4 416.1h.01M765.7 420.2h.01M917.1 271.2h.01M772.3 415.7h.01M792.6 414.4h.01M828.8 390.8h.01M766.8 417.4h.01M848.5 335.2h.01M805.8 383.4h.01M908.1 315.2h.01M849.0 367.1h.01M799.4 391.1h.01M868.8 338.3h.01M768.0 435.0h.01M829.5 365.3h.01M850.4 342.1h.01M835.1 346.6h.01M778.3 401.3h.01M812.2 374.6h.01M772.9 403.6h.01M862.9 324.5h.01M823.7 363.9h.01M839.3 346.4h.01M826.0 373.1h.01M805.7 389.9h.01M808.0 383.6h.01M796.0 385.8h.01M857.0 331.8h.01M786.2 400.2h.01M783.2 437.4h.01M787.2 402.9h.01M853.4 330.6h.01M763.9 423.2h.01M810.4 376.9h.01M860.2 332.8h.01M910.2 287.9h.01M838.5 350.2h.01M819.0 380.8h.01M828.8 373.8h.01M817.7 396.6h.01M841.1 353.8h.01M818.2 374.7h.01M878.1 320.7h.01M825.2 367.2h.01M842.8 344.6h.01M854.8 340.7h.01M872.8 328.1h.01M874.2 326.4h.01M865.0 332.0h.01M783.1 397.7h.01M761.3 465.1h.01M834.1 372.3h.01M786.3 423.4h.01M802.6 389.8h.01M832.1 364.1h.01M851.5 345.6h.01M865.2 327.8h.01M780.9 420.9h.01M899.0 319.0h.01M781.7 397.3h.01M772.3 410.7h.01M786.6 411.2h.01M870.4 319.9h.01M772.7 411.5h.01M784.3 397.0h.01M871.1 324.5h.01M843.6 345.9h.01M799.8 382.0h.01M817.0 378.2h.01M767.7 438.6h.01M810.0 395.8h.01M858.8 335.4h.01M851.7 357.0h.01M864.3 355.6h.01M777.6 403.9h.01M848.8 358.5h.01M779.6 428.7h.01M780.8 399.1h.01M819.0 383.6h.01M866.6 327.7h.01M834.8 357.1h.01M902.2 332.4h.01M874.2 337.3h.01M904.8 292.0h.01M844.2 351.9h.01M852.3 331.1h.01M891.7 306.7h.01M860.9 332.9h.01M827.5 354.9h.01M841.1 348.7h.01M846.3 337.6h.01M834.6 355.5h.01M807.6 384.8h.01M824.4 365.6h.01M770.0 421.0h.01M894.1 294.4h.01M794.7 389.5h.01M830.4 354.6h.01M797.7 410.3h.01M836.4 350.7h.01M788.1 399.7h.01M851.5 342.6h.01M758.0 430.0h.01M848.7 360.1h.01M793.3 413.4h.01M782.8 408.9h.01M786.6 401.1h.01M805.1 385.5h.01M809.2 389.2h.01M936.2 251.7h.01M801.7 396.3h.01M767.2 422.2h.01M810.4 411.9h.01M807.8 386.4h.01M888.8 314.6h.01M841.0 369.6h.01M968.7 228.5h.01M787.2 443.5h.01M806.3 375.4h.01M812.6 386.7h.01M829.4 355.4h.01M881.8 313.3h.01M780.2 424.6h.01M799.8 380.2h.01M770.5 442.0h.01M860.1 357.1h.01M765.1 417.3h.01M828.1 360.0h.01M828.0 353.8h.01M761.9 462.0h.01M893.4 309.4h.01M765.3 426.6h.01M904.3 301.6h.01M835.4 372.9h.01M740.5 444.9h.01M792.1 406.9h.01M870.5 329.3h.01M882.9 306.5h.01M817.4 380.8h.01M765.0 421.0h.01M828.1 371.7h.01M781.3 406.4h.01M860.7 343.8h.01M854.1 335.4h.01M809.2 379.7h.01M758.4 439.9h.01M820.0 362.9h.01M793.2 393.7h.01M835.0 372.6h.01M779.1 409.9h.01M781.8 414.1h.01M792.9 429.0h.01M808.2 401.6h.01M844.1 354.4h.01M848.8 348.9h.01M872.5 330.6h.01M785.7 407.4h.01M789.9 402.3h.01M763.5 424.6h.01M816.8 387.6h.01M860.2 360.2h.01M801.8 383.0h.01M891.8 296.3h.01M849.7 356.3h.01M863.5 343.9h.01M855.8 344.4h.01M840.3 346.6h.01M766.9 435.3h.01M761.5 428.2h.01M765.1 425.7h.01M777.1 411.2h.01M816.5 365.7h.01M840.2 347.2h.01M951.2 256.2h.01M778.6 410.5h.01M854.9 336.3h.01M796.9 396.7h.01M791.0 401.8h.01M798.3 391.4h.01M742.0 440.6h.01M846.3 336.4h.01M801.5 384.1h.01M854.1 327.8h.01M813.0 372.3h.01M885.3 341.2h.01M789.8 401.0h.01M769.6 410.6h.01M858.0 347.8h.01M816.5 375.6h.01M837.1 377.7h.01M848.6 363.9h.01M868.6 334.8h.01M811.0 389.5h.01M847.8 352.6h.01M871.0 317.0h.01M834.3 357.6h.01M745.0 463.3h.01M780.0 406.2h.01M768.9 415.0h.01M828.9 372.3h.01M840.1 352.5h.01M841.0 348.5h.01M881.5 310.8h.01M827.8 366.1h.01M799.4 390.1h.01M821.5 376.3h.01M779.6 402.6h.01M888.2 316.3h.01M841.6 380.9h.01M807.2 402.4h.01M870.7 319.4h.01M799.2 379.2h.01M758.5 438.6h.01M934.1 261.2h.01M1011.0 152.0h.01M894.8 309.8h.01M783.7 403.8h.01M824.3 371.5h.01M817.2 389.7h.01M792.8 387.9h.01M812.9 372.5h.01M798.9 382.2h.01M788.0 400.5h.01M828.4 355.7h.01M864.9 331.2h.01M841.0 346.5h.01M898.1 290.2h.01M758.8 436.4h.01M792.1 412.8h.01M838.2 362.8h.01M871.1 315.0h.01M860.9 326.4h.01M760.1 433.4h.01M858.6 327.6h.01M901.2 314.0h.01M777.4 407.0h.01M796.3 399.0h.01M852.5 336.1h.01M841.3 389.0h.01M787.4 416.2h.01M770.3 422.7h.01M840.6 360.1h.01M811.8 391.4h.01M806.8 388.0h.01M865.3 330.1h.01M796.8 388.3h.01M882.7 305.3h.01M826.3 357.8h.01M813.4 385.1h.01M784.6 409.6h.01M923.1 297.3h.01M783.8 398.3h.01M820.6 371.5h.01M833.4 349.5h.01M768.6 415.0h.01M871.5 313.9h.01M851.1 332.1h.01M829.6 381.7h.01M784.7 395.3h.01M843.5 349.8h.01M801.9 407.1h.01M839.6 353.9h.01M802.5 387.0h.01M813.6 378.1h.01M776.0 444.3h.01M840.6 348.2h.01M867.6 331.5h.01M759.7 422.5h.01M812.9 391.3h.01M757.3 430.5h.01M812.2 402.2h.01M778.9 409.2h.01M819.5 404.9h.01M885.7 328.7h.01M834.8 369.0h.01M787.3 406.0h.01M836.2 357.9h.01M817.6 368.2h.01M788.3 426.7h.01M817.8 402.5h.01M834.7 383.6h.01M779.6 409.0h.01M854.9 371.8h.01M756.6 436.8h.01M838.6 355.7h.01M774.0 411.8h.01M805.3 394.9h.01M781.2 406.0h.01M801.2 412.7h.01M762.9 432.7h.01M779.9 415.5h.01M872.2 332.0h.01M771.4 414.3h.01M816.6 372.6h.01M861.6 323.8h.01M807.6 379.1h.01M813.5 381.8h.01M837.0 348.5h.01M839.6 376.6h.01M773.0 428.3h.01M856.9 335.6h.01M865.2 328.4h.01M789.6 395.5h.01M810.9 369.5h.01M823.2 361.0h.01M870.5 315.8h.01M787.6 405.7h.01M802.2 389.7h.01M825.9 363.5h.01M810.8 392.8h.01M968.8 236.3h.01M785.5 397.8h.01M848.7 346.3h.01M897.0 298.4h.01M823.3 371.4h.01M854.6 343.8h.01M734.0 450.4h.01M843.8 356.4h.01M814.6 397.1h.01M813.0 373.5h.01M826.4 362.2h.01M811.6 377.6h.01M888.0 310.3h.01M893.0 295.3h.01M819.0 372.7h.01M847.8 335.0h.01M823.6 364.0h.01M800.4 392.2h.01M828.3 367.3h.01M772.3 418.3h.01M801.4 392.3h.01M772.5 429.4h.01M829.4 365.0h.01M865.6 342.4h.01M868.0 330.2h.01M827.1 377.0h.01M839.0 360.3h.01M827.2 377.9h.01M799.8 388.1h.01M851.5 334.6h.01M820.3 359.9h.01M907.6 286.8h.01M817.7 374.9h.01M848.8 351.4h.01M812.8 419.6h.01M830.8 376.6h.01M775.6 426.3h.01M797.0 387.7h.01M755.6 458.6h.01M865.4 321.0h.01M823.9 369.7h.01M781.2 419.4h.01M852.9 355.3h.01M850.4 342.9h.01M813.9 382.6h.01M780.6 421.9h.01M802.8 400.7h.01M843.5 363.4h.01M816.8 387.7h.01M784.7 415.2h.01M812.3 371.3h.01M780.5 404.7h.01M799.7 377.2h.01M823.3 367.2h.01M786.3 394.7h.01M789.5 397.0h.01M828.4 360.4h.01M848.4 349.4h.01M816.6 381.5h.01M757.4 433.6h.01M882.8 322.6h.01M851.3 349.9h.01M806.4 379.3h.01M852.5 331.0h.01M961.6 247.4h.01M824.0 359.7h.01M730.8 483.4h.01M824.0 357.1h.01M784.0 399.7h.01M823.5 374.4h.01M976.5 221.3h.01M813.0 377.3h.01M830.3 361.8h.01M751.7 465.4h.01M854.6 339.3h.01M852.7 348.6h.01M822.0 363.7h.01M830.5 356.5h.01M863.4 341.5h.01M774.6 424.5h.01M864.9 332.5h.01M804.2 398.5h.01M887.6 316.5h.01M778.8 398.2h.01M892.8 294.4h.01M846.7 353.3h.01M765.8 414.8h.01M845.9 349.6h.01M815.4 377.1h.01M778.4 413.2h.01M857.1 339.1h.01M852.2 342.5h.01M905.0 292.3h.01M834.2 351.9h.01M822.6 380.4h.01M888.5 299.5h.01M800.2 396.2h.01M782.7 431.2h.01M839.8 360.0h.01M935.5 281.1h.01M779.1 422.6h.01M856.2 342.3h.01M781.6 422.7h.01M827.8 360.6h.01M929.6 271.9h.01M807.3 389.9h.01M861.0 336.6h.01M756.4 424.5h.01M868.9 333.3h.01M838.8 379.6h.01M856.7 331.1h.01M822.0 375.4h.01M815.7 381.8h.01M850.2 349.4h.01M786.1 400.2h.01M856.3 336.0h.01M805.5 390.3h.01M820.8 381.4h.01M809.5 414.0h.01M822.4 367.9h.01M827.7 353.6h.01M803.7 390.4h.01M763.0 422.9h.01M860.6 329.8h.01M799.3 404.0h.01M852.3 359.9h.01M821.3 384.5h.01M810.2 397.5h.01M830.7 354.4h.01M811.6 371.5h.01M772.9 401.0h.01M881.7 307.0h.01M808.7 384.2h.01M797.3 397.4h.01M853.0 354.6h.01M845.8 381.5h.01M799.4 385.9h.01M947.1 262.3h.01M817.6 402.8h.01M761.8 436.7h.01M818.3 364.5h.01M848.3 338.7h.01M787.2 418.6h.01M795.0 387.3h.01M783.1 401.9h.01M849.7 365.5h.01M708.8 469.3h.01M771.1 415.8h.01M776.2 434.9h.01M862.6 335.5h.01M784.1 401.8h.01M792.0 413.0h.01M819.9 375.2h.01M782.3 411.6h.01M843.9 367.0h.01M776.3 411.0h.01M776.2 433.9h.01M817.5 374.3h.01M819.6 387.1h.01M801.7 400.9h.01M868.9 323.8h.01M822.8 373.6h.01M808.4 372.0h.01M796.3 405.0h.01M837.9 348.6h.01M777.0 413.9h.01M774.6 417.6h.01M798.2 392.2h.01M875.5 313.5h.01M878.3 321.6h.01M850.1 371.1h.01M807.6 377.9h.01M759.4 429.4h.01M846.4 340.7h.01M854.1 344.7h.01M814.9 366.7h.01M772.2 429.3h.01M791.0 406.7h.01M801.3 387.5h.01M825.4 369.5h.01M811.8 375.3h.01M830.5 354.7h.01M802.3 404.6h.01M708.0 474.5h.01M781.7 405.7h.01M837.0 360.3h.01M805.1 389.9h.01M782.7 439.9h.01M805.0 403.7h.01M819.8 376.1h.01M820.6 367.3h.01M818.6 388.3h.01M757.9 427.7h.01M805.2 383.2h.01M756.0 434.3h.01M838.1 343.8h.01M878.3 309.0h.01M866.6 364.1h.01M851.1 343.5h.01M906.9 305.4h.01M862.8 324.9h.01M814.7 374.0h.01M831.1 354.1h.01M793.1 401.6h.01M794.5 397.5h.01M815.4 393.3h.01M831.2 374.0h.01M884.0 307.9h.01M820.8 386.8h.01M738.6 435.5h.01M851.0 356.3h.01M810.9 370.9h.01M969.1 236.2h.01M912.0 276.5h.01M836.6 356.1h.01M778.3 415.3h.01M787.5 402.2h.01M771.4 429.2h.01M871.3 317.2h.01M777.5 411.8h.01M815.5 369.9h.01M809.7 397.8h.01M817.9 367.2h.01M779.4 406.6h.01M801.2 388.4h.01M709.3 466.7h.01M804.5 403.2h.01M871.0 334.2h.01M847.9 353.2h.01M847.4 352.2h.01M822.6 369.3h.01M855.9 361.5h.01M859.0 340.0h.01M1007.0 150.0h.01M919.2 267.9h.01M774.3 408.4h.01M866.9 321.3h.01M705.8 481.9h.01M800.6 403.2h.01M883.4 347.3h.01M802.6 382.7h.01M825.3 364.5h.01M878.1 345.4h.01M871.9 344.2h.01M792.7 401.0h.01M757.7 452.5h.01M831.9 366.2h.01M819.6 364.8h.01M797.7 411.1h.01M914.5 271.4h.01M887.9 308.8h.01M819.9 370.3h.01M811.5 371.8h.01M830.1 383.2h.01M789.6 403.7h.01M798.6 389.5h.01M826.2 391.7h.01M761.8 426.2h.01M812.6 378.7h.01M811.5 384.8h.01M882.2 300.3h.01M755.8 446.3h.01M808.7 379.3h.01M814.5 382.6h.01M821.8 379.0h.01M786.9 421.9h.01M795.7 398.5h.01M774.6 424.3h.01M860.2 351.7h.01M858.4 331.4h.01M813.2 375.2h.01M800.8 385.3h.01M877.3 309.9h.01M857.5 333.0h.01M877.9 311.6h.01M804.7 392.6h.01M820.5 382.9h.01M759.2 428.1h.01M842.3 340.3h.01M848.5 349.4h.01M856.1 342.8h.01M828.2 377.6h.01M867.6 325.5h.01M872.8 330.7h.01M833.9 378.2h.01M778.9 401.3h.01M887.2 307.7h.01M817.5 364.0h.01M864.3 344.7h.01M819.0 376.1h.01M834.1 353.6h.01M851.7 349.7h.01M808.3 400.9h.01M787.9 390.2h.01M906.4 312.0h.01M797.8 405.5h.01M803.6 380.2h.01M798.0 398.5h.01M851.9 334.2h.01M792.9 387.3h.01M842.3 389.0h.01M823.0 369.4h.01M814.6 395.2h.01M892.1 320.2h.01M865.6 343.8h.01M848.4 335.9h.01M802.3 386.0h.01M899.5 289.6h.01M834.8 367.3h.01M774.5 417.9h.01M826.6 366.5h.01M741.0 448.3h.01M995.0 190.0h.01M825.4 383.4h.01M799.3 390.2h.01M829.1 359.5h.01M857.6 338.3h.01M823.6 359.2h.01M912.5 295.4h.01M846.9 346.2h.01M774.1 406.4h.01M733.4 457.8h.01M838.8 350.9h.01M780.5 405.5h.01M760.1 420.3h.01M761.4 418.1h.01M819.9 366.6h.01M782.2 404.6h.01M799.4 413.6h.01M813.3 393.7h.01M844.1 358.5h.01M845.2 351.3h.01M820.0 375.2h.01M757.4 437.4h.01M816.6 390.1h.01M827.3 378.1h.01M811.5 374.9h.01M728.4 474.6h.01M795.7 398.8h.01M794.6 398.4h.01M815.2 388.2h.01M774.2 442.4h.01M858.4 345.5h.01M849.8 361.8h.01M816.8 363.7h.01M764.0 444.4h.01M846.5 357.8h.01M859.1 337.6h.01M785.9 412.0h.01M816.6 371.5h.01M821.3 400.8h.01M825.3 382.8h.01M756.3 443.0h.01M756.8 448.6h.01M736.0 462.4h.01M866.8 333.2h.01M850.2 347.7h.01M838.7 369.6h.01M850.0 349.1h.01M849.0 355.0h.01M777.9 406.0h.01M867.1 348.4h.01M834.8 364.4h.01M826.2 377.4h.01M940.6 257.8h.01M847.9 339.7h.01M782.4 411.9h.01M821.0 371.3h.01M789.3 392.9h.01M762.1 426.4h.01M793.7 388.3h.01M834.9 348.8h.01M826.4 359.5h.01M872.3 324.1h.01M868.0 343.1h.01M792.7 389.6h.01M824.3 364.4h.01M751.0 436.4h.01M808.5 394.5h.01M853.3 340.3h.01M827.0 369.9h.01M929.3 293.8h.01M834.0 370.3h.01M765.3 419.7h.01M795.1 406.2h.01M825.7 374.4h.01M778.2 417.4h.01M806.0 379.9h.01M844.3 350.7h.01M849.0 362.5h.01M836.4 380.3h.01M823.0 373.2h.01M844.1 341.5h.01M834.5 351.9h.01M815.1 386.8h.01M835.4 351.4h.01M773.6 414.0h.01M789.6 398.0h.01M797.2 403.1h.01M795.2 404.2h.01M759.9 422.0h.01M827.5 372.7h.01M851.5 348.3h.01M842.0 379.0h.01M767.4 419.9h.01M811.6 405.9h.01M910.3 300.0h.01M838.8 399.5h.01M852.4 336.3h.01M789.0 425.8h.01M763.9 417.2h.01M757.3 422.0h.01M801.7 391.3h.01M845.6 360.2h.01M881.8 331.5h.01M849.2 354.0h.01M794.1 399.3h.01M813.8 369.4h.01M860.5 337.7h.01M781.9 422.8h.01M854.9 338.7h.01M780.6 402.9h.01M773.9 419.7h.01M830.3 355.1h.01M781.4 436.0h.01M824.1 368.6h.01M790.3 400.6h.01M872.6 316.9h.01M796.7 393.3h.01M827.0 356.9h.01M790.0 398.5h.01M806.0 388.9h.01M896.6 290.0h.01M838.8 348.9h.01M810.5 380.3h.01M856.0 331.0h.01M780.4 447.3h.01M840.1 359.4h.01M811.4 395.8h.01M896.0 298.6h.01M779.8 409.8h.01M781.1 422.5h.01M766.9 416.2h.01M882.3 323.9h.01M847.1 357.1h.01M808.0 376.3h.01M800.6 405.8h.01M820.8 369.3h.01M827.1 367.2h.01M831.7 376.3h.01M874.9 332.6h.01M850.4 339.6h.01M786.0 398.1h.01M866.1 341.2h.01M803.8 383.1h.01M860.4 327.6h.01M842.6 340.5h.01M810.6 387.4h.01M867.4 333.6h.01M707.7 493.3h.01M831.8 382.5h.01M761.5 442.2h.01M797.0 385.7h.01M783.9 421.7h.01M840.5 355.1h.01M832.1 354.3h.01M839.6 348.1h.01M797.4 402.8h.01M831.7 353.1h.01M968.0 222.9h.01M858.8 338.3h.01M843.7 353.7h.01M808.4 393.6h.01M831.9 362.8h.01M829.0 383.6h.01M825.2 366.7h.01M853.8 337.1h.01M838.0 356.3h.01M812.8 395.4h.01M792.2 419.3h.01M856.8 328.7h.01M894.7 298.3h.01M860.4 353.3h.01M800.6 386.4h.01M761.7 424.9h.01M804.7 388.8h.01M845.0 352.7h.01M814.6 380.0h.01M762.0 437.5h.01M767.4 435.0h.01M843.4 345.0h.01M810.0 377.0h.01M875.2 318.2h.01M879.4 323.7h.01M782.6 443.6h.01M834.6 371.5h.01M789.4 407.4h.01M779.9 414.8h.01M897.5 307.0h.01M775.5 407.5h.01M872.5 348.5h.01M799.1 434.0h.01M771.8 440.1h.01M873.9 329.4h.01M805.0 397.3h.01M775.6 423.8h.01M829.9 368.5h.01M818.0 364.5h.01M838.4 348.6h.01M856.9 339.4h.01M804.1 387.0h.01M841.4 360.3h.01M852.0 342.3h.01M780.7 421.8h.01M864.4 379.4h.01M841.7 385.2h.01M857.0 335.7h.01M771.2 408.1h.01M856.0 338.7h.01M834.5 352.8h.01M790.1 425.4h.01M776.3 438.3h.01M795.3 411.1h.01M807.8 390.7h.01M808.8 372.8h.01M828.2 354.6h.01M763.1 433.5h.01M851.2 377.7h.01" stroke="#2f9a47" stroke-width="2.1" stroke-linecap="round" fill="none"/>
<text x="665" y="112.5" font-size="17.3" fill="#2a2a2a">Relative TE fold change</text>
<circle cx="670.3" cy="125.8" r="3.3" fill="#a8609c"/>
<circle cx="670.3" cy="143" r="3.3" fill="#3a9cd0"/>
<circle cx="670.3" cy="158.3" r="3.3" fill="#3a8a52"/>
<text x="680.5" y="130" font-size="13" fill="#4d4d4d">-4.57</text>
<text x="721" y="130" font-size="13" fill="#4d4d4d">–</text>
<text x="733" y="130" font-size="13" fill="#4d4d4d">-0.072</text>
<text x="680.5" y="145.8" font-size="13" fill="#4d4d4d">-0.073</text>
<text x="721" y="145.8" font-size="13" fill="#4d4d4d">–</text>
<text x="736.5" y="145.8" font-size="13" fill="#4d4d4d">0.41</text>
<text x="685.5" y="162.5" font-size="13" fill="#4d4d4d">0.42</text>
<text x="721" y="162.5" font-size="13" fill="#4d4d4d">–</text>
<text x="736.5" y="162.5" font-size="13" fill="#4d4d4d">2.31</text>
<text x="853.5" y="188.8" font-size="14" fill="#1a1a1a">IL8</text>
<path d="M863.6,191 L873,215" stroke="#1a1a1a" stroke-width="1.3"/>
<circle cx="873" cy="215" r="2.6" fill="#111"/>
<text x="723.5" y="210" font-size="14" fill="#1a1a1a">IL6</text>
<path d="M735.2,213.2 L746.2,248.3" stroke="#1a1a1a" stroke-width="1.3"/>
<circle cx="746.2" cy="248.3" r="2.6" fill="#111"/>
<text x="764.5" y="210.5" font-size="14" fill="#1a1a1a">CXCL2</text>
<path d="M786,214 L772.1,264.9" stroke="#1a1a1a" stroke-width="1.3"/>
<circle cx="772.1" cy="264.9" r="2.6" fill="#111"/>
<text x="701" y="255" font-size="14" fill="#1a1a1a">ATF3</text>
<path d="M735,257 L763.2,287" stroke="#1a1a1a" stroke-width="1.3"/>
<circle cx="763.2" cy="287" r="2.6" fill="#111"/>
<text x="688.5" y="276.7" font-size="14" fill="#1a1a1a">IFIT1</text>
<path d="M721,279 L752.3,318.7" stroke="#1a1a1a" stroke-width="1.3"/>
<circle cx="752.3" cy="318.7" r="2.6" fill="#111"/>
<text x="683" y="300.3" font-size="14" fill="#1a1a1a">IFIT2</text>
<path d="M707.2,303.2 L735.2,333.6" stroke="#1a1a1a" stroke-width="1.3"/>
<circle cx="735.2" cy="333.6" r="2.6" fill="#111"/>
<text x="668" y="326.8" font-size="14" fill="#1a1a1a">CCL2</text>
<path d="M706.8,323 L730.5,333.6" stroke="#1a1a1a" stroke-width="1.3"/>
<circle cx="730.5" cy="333.6" r="2.6" fill="#111"/>
<text x="665.5" y="359" font-size="14" fill="#1a1a1a">IFIT3</text>
<path d="M699.6,353.7 L737.1,358" stroke="#1a1a1a" stroke-width="1.3"/>
<circle cx="737.1" cy="358" r="2.6" fill="#111"/>
<text x="671.5" y="408.2" font-size="14" fill="#1a1a1a">IFIT5</text>
<path d="M705.9,403.5 L761.7,379.4" stroke="#1a1a1a" stroke-width="1.3"/>
<circle cx="761.7" cy="379.4" r="2.6" fill="#111"/>
<defs><clipPath id="boxclip"><rect x="85" y="598" width="655.5" height="617"/></clipPath></defs>
<g clip-path="url(#boxclip)">
<path d="M50.6,672.3 L53.9,671.4 L57.2,670.4 L60.5,669.4 L63.8,668.4 L67.1,667.5 L70.4,666.5 L73.8,665.5 L77.1,664.6 L80.5,663.6 L83.9,662.7 L87.3,661.7 L90.7,660.8 L94.1,659.8 L97.5,658.9 L101.0,657.9 L104.4,657.0 L107.9,656.1 L111.3,655.2 L114.8,654.3 L118.3,653.4 L121.8,652.6 L125.3,651.7 L128.8,650.8 L132.3,650.0 L135.8,649.2 L139.3,648.3 L142.9,647.5 L146.4,646.8 L150.0,646.0 L153.5,645.2 L157.1,644.5 L160.7,643.7 L164.2,643.0 L167.8,642.3 L171.4,641.7 L175.0,641.0 L178.5,640.4 L182.1,639.8 L185.7,639.2 L189.3,638.6 L192.9,638.0 L196.5,637.5 L200.1,637.0 L203.8,636.5 L207.4,636.0 L211.0,635.6 L214.6,635.2 L218.2,634.8 L221.8,634.4 L225.4,634.1 L229.1,633.8 L232.7,633.5 L236.3,633.2 L239.9,633.0 L243.5,632.8 L247.1,632.6 L250.8,632.5 L254.4,632.4 L258.0,632.3 L261.6,632.3 L265.2,632.3 L268.8,632.3 L272.4,632.3 L276.0,632.4 L279.6,632.6 L283.2,632.7 L286.8,632.9 L290.3,633.1 L293.9,633.4 L297.5,633.7 L301.1,634.0 L304.6,634.4 L308.2,634.8 L311.7,635.2 L315.3,635.7 L318.8,636.2 L322.3,636.7 L325.9,637.3 L329.4,637.9 L332.9,638.5 L336.4,639.2 L339.9,639.8 L343.4,640.6 L346.9,641.3 L350.4,642.1 L353.9,642.9 L357.3,643.8 L360.8,644.7 L364.2,645.6 L367.6,646.5 L371.1,647.5 L374.5,648.5 L377.9,649.5 L381.3,650.6 L384.7,651.7 L388.1,652.8 L391.4,654.0 L394.8,655.2 L398.1,656.4 L401.5,657.6 L404.8,658.9 L408.1,660.2 L411.4,661.6 L414.7,662.9 L418.0,664.3 L421.2,665.8 L424.5,667.2 L427.7,668.7 L431.0,670.2 L434.2,671.7 L437.4,673.3 L440.6,674.9 L443.7,676.5 L446.9,678.2 L450.0,679.8 L453.2,681.5 L456.3,683.3 L459.4,685.0 L462.4,686.8 L465.5,688.6 L468.6,690.5 L471.6,692.3 L474.6,694.2 L477.6,696.2 L480.6,698.1 L483.6,700.1 L486.5,702.1 L489.5,704.1 L492.4,706.2 L495.3,708.2 L498.2,710.3 L501.0,712.5 L503.9,714.6 L506.7,716.8 L509.5,719.0 L512.3,721.2 L515.1,723.5 L517.8,725.7 L520.6,728.0 L523.3,730.4 L526.0,732.7 L528.7,735.1 L531.3,737.5 L533.9,739.9 L536.6,742.3 L539.1,744.8 L541.7,747.3 L544.3,749.8 L546.8,752.4 L549.3,754.9 L551.8,757.5 L554.2,760.1 L556.7,762.7 L559.1,765.4 L561.5,768.0 L563.8,770.7 L566.2,773.4 L568.5,776.2 L570.8,778.9 L573.1,781.7 L575.4,784.5 L577.6,787.3 L579.8,790.1 L582.0,793.0 L584.2,795.9 L586.3,798.7 L588.5,801.7 L590.6,804.6 L592.6,807.5 L594.7,810.5 L596.8,813.4 L598.8,816.4 L600.8,819.4 L602.8,822.5 L604.7,825.5 L606.7,828.6 L608.6,831.6 L610.5,834.7 L612.4,837.8 L614.2,840.9 L616.1,844.0 L617.9,847.2 L619.7,850.3 L621.5,853.5 L623.2,856.7 L625.0,859.8 L626.7,863.0 L628.4,866.3 L630.1,869.5 L631.7,872.7 L633.4,876.0 L635.0,879.2 L636.6,882.5 L638.2,885.7 L639.7,889.0 L641.3,892.3 L642.8,895.6 L644.3,898.9 L645.8,902.2 L647.2,905.6 L648.7,908.9 L650.1,912.2 L651.5,915.6 L652.9,918.9 L654.3,922.3 L655.6,925.6 L657.0,929.0 L658.3,932.4 L659.6,935.8 L660.9,939.1 L662.1,942.5 L663.4,945.9 L664.6,949.3 L665.8,952.7 L667.0,956.1 L668.2,959.5 L669.3,962.9 L670.5,966.3 L671.6,969.7 L672.7,973.2 L673.8,976.6 L674.8,980.0 L675.9,983.4 L676.9,986.8 L677.9,990.3 L678.9,993.7 L679.8,997.1 L680.8,1000.5 L681.7,1004.0 L682.6,1007.4 L683.4,1010.9 L684.3,1014.3 L685.1,1017.8 L685.8,1021.2 L686.6,1024.7 L687.3,1028.1 L688.0,1031.6 L688.7,1035.0 L689.3,1038.5 L689.9,1042.0 L690.5,1045.5 L691.0,1048.9 L691.6,1052.4 L692.0,1055.9 L692.5,1059.4 L692.9,1062.9 L693.3,1066.4 L693.6,1069.9 L693.9,1073.5 L694.2,1077.0 L694.4,1080.5 L694.6,1084.0 L694.8,1087.6 L694.9,1091.1 L695.0,1094.6 L695.0,1098.2 L695.0,1101.8 L695.0,1105.3 L694.9,1108.9 L694.7,1112.5 L694.6,1116.0 L694.4,1119.6 L694.2,1123.2 L693.9,1126.8 L693.6,1130.3 L693.2,1133.9 L692.9,1137.5 L692.4,1141.1 L692.0,1144.7 L691.5,1148.3 L691.0,1151.9 L690.5,1155.4 L689.9,1159.0 L689.3,1162.6 L688.6,1166.2 L687.9,1169.8 L687.2,1173.3 L686.5,1176.9 L685.8,1180.5 L685.0,1184.0 L684.1,1187.6 L683.3,1191.1 L682.4,1194.6 L681.5,1198.2 L680.6,1201.7 L679.6,1205.2 L678.7,1208.7 L677.7,1212.2 L676.6,1215.7 L675.6,1219.2 L674.5,1222.7 L673.4,1226.1 L672.3,1229.6 L671.1,1233.0 L670.0,1236.5 L668.8,1239.9 L667.6,1243.3 L666.4,1246.7 L665.1,1250.0" fill="none" stroke="#8e9192" stroke-width="12.5"/>
<circle cx="122.6" cy="1116" r="150.8" fill="#d3d4da"/>
<path d="M36.1,992.5 A150.8,150.8 0 0 1 116.8,965.3" fill="none" stroke="#8c9bb0" stroke-width="17" stroke-linecap="round"/>
<path d="M36.1,992.5 A150.8,150.8 0 0 1 116.8,965.3" fill="none" stroke="#b5c9e3" stroke-width="8.5" stroke-linecap="round"/>
<path d="M150.9,967.9 A150.8,150.8 0 0 1 224.3,1004.6" fill="none" stroke="#8c9bb0" stroke-width="17" stroke-linecap="round"/>
<path d="M150.9,967.9 A150.8,150.8 0 0 1 224.3,1004.6" fill="none" stroke="#b5c9e3" stroke-width="8.5" stroke-linecap="round"/>
<path d="M246.9,1030.6 A150.8,150.8 0 0 1 273.2,1108.4" fill="none" stroke="#8c9bb0" stroke-width="17" stroke-linecap="round"/>
<path d="M246.9,1030.6 A150.8,150.8 0 0 1 273.2,1108.4" fill="none" stroke="#b5c9e3" stroke-width="8.5" stroke-linecap="round"/>
<path d="M271.1,1142.2 A150.8,150.8 0 0 1 219.5,1231.5" fill="none" stroke="#8c9bb0" stroke-width="17" stroke-linecap="round"/>
<path d="M271.1,1142.2 A150.8,150.8 0 0 1 219.5,1231.5" fill="none" stroke="#b5c9e3" stroke-width="8.5" stroke-linecap="round"/>
<path d="M124.2,1016.2 L125.2,1017.4 L126.2,1018.1 L127.2,1018.2 L127.9,1017.6 L128.4,1016.4 L128.8,1014.9 L129.2,1013.5 L129.7,1012.4 L130.5,1012.1 L131.4,1012.4 L132.5,1013.2 L133.6,1014.3 L134.6,1015.3 L135.5,1015.8 L136.3,1015.7 L136.9,1014.9 L137.5,1013.6 L138.1,1012.2 L138.9,1011.0 L139.7,1010.4 L140.6,1010.5 L141.5,1011.3 L142.2,1012.6 L142.9,1014.0 L143.4,1015.1 L144.0,1015.7 L144.8,1015.6 L145.7,1015.0 L146.8,1014.0 L148.1,1013.1 L149.3,1012.6 L150.3,1012.8 L150.9,1013.6 L151.1,1014.9 L150.9,1016.4 L150.8,1017.9 L150.8,1019.0 L151.2,1019.6 L152.1,1019.8 L153.4,1019.6 L154.9,1019.2 L156.3,1019.0 L157.4,1019.2 L158.0,1019.8 L158.1,1020.8 L157.7,1022.1 L157.1,1023.6 L156.7,1024.9 L156.7,1025.9 L157.2,1026.5 L158.3,1026.7 L159.8,1026.6 L161.3,1026.5 L162.6,1026.5 L163.5,1026.9 L163.8,1027.6 L163.6,1028.8 L163.0,1030.2 L162.4,1031.6 L162.0,1032.8 L162.2,1033.7 L162.9,1034.1 L164.1,1034.3 L165.7,1034.2 L167.2,1034.1 L168.3,1034.3 L169.0,1034.9 L169.1,1035.8 L168.6,1037.0 L168.0,1038.4 L167.4,1039.8 L167.2,1040.9 L167.5,1041.6 L168.5,1041.9 L169.8,1042.0 L171.4,1041.9 L172.8,1041.9 L173.8,1042.2 L174.2,1042.9 L174.1,1044.0 L173.5,1045.3 L172.9,1046.7 L172.4,1048.0 L172.4,1048.9 L173.0,1049.5 L174.2,1049.7 L175.6,1049.7 L177.2,1049.6 L178.5,1049.6 L179.3,1050.0 L179.5,1050.8 L179.2,1052.0 L178.7,1053.4 L178.1,1054.8 L177.9,1056.0 L178.2,1056.9 L179.1,1057.2 L180.4,1057.2 L181.9,1057.0 L183.3,1056.7 L184.4,1056.7 L185.1,1057.1 L185.2,1058.0 L185.1,1059.3 L184.8,1060.9 L184.7,1062.3 L184.9,1063.4 L185.5,1063.9 L186.6,1063.9 L188.0,1063.4 L189.4,1062.7 L190.6,1062.1 L191.5,1061.9 L192.0,1062.3 L192.4,1063.3 L192.7,1064.7 L193.1,1066.2 L193.7,1067.4 L194.6,1068.0 L195.5,1067.9 L196.4,1067.1 L197.3,1065.8 L198.1,1064.6 L198.9,1063.6 L199.7,1063.3 L200.5,1063.7 L201.3,1064.7 L202.1,1066.0 L202.9,1067.3 L203.6,1068.2 L204.3,1068.4 L205.2,1068.0 L206.1,1067.0 L206.9,1065.7 L207.7,1064.5 L208.5,1063.8 L209.3,1063.7 L210.1,1064.3 L210.9,1065.5 L211.7,1066.8 L212.6,1067.9 L213.4,1068.5 L214.2,1068.4 L215.0,1067.6 L215.7,1066.3 L216.4,1064.9 L217.2,1063.8 L217.9,1063.3 L218.7,1063.4 L219.6,1064.2 L220.5,1065.4 L221.4,1066.6 L222.3,1067.5 L223.1,1067.8 L223.9,1067.4 L224.6,1066.4 L225.3,1065.0 L225.9,1063.6 L226.6,1062.7 L227.4,1062.3 L228.2,1062.7 L229.1,1063.7 L230.1,1064.9 L231.0,1066.0 L231.9,1066.7 L232.7,1066.7 L233.4,1066.1 L234.1,1064.9 L234.8,1063.5 L235.5,1062.3" fill="none" stroke="#3a3f58" stroke-width="1.7"/>
<path d="M80.0,1072.0 L80.3,1073.5 L80.7,1074.6 L81.3,1075.2 L82.2,1075.1 L83.3,1074.5 L84.5,1073.6 L85.8,1072.7 L86.8,1072.3 L87.6,1072.4 L88.1,1073.2 L88.5,1074.5 L88.7,1076.1 L89.0,1077.5 L89.5,1078.4 L90.2,1078.8 L91.2,1078.4 L92.4,1077.7 L93.6,1076.7 L94.8,1076.0 L95.7,1075.7 L96.4,1076.1 L96.9,1077.2 L97.2,1078.6 L97.4,1080.1 L97.8,1081.4 L98.4,1082.1 L99.2,1082.2 L100.3,1081.7 L101.5,1080.8 L102.7,1079.9 L103.8,1079.3 L104.7,1079.2 L105.3,1079.9 L105.6,1081.1 L105.9,1082.6 L106.2,1084.1 L106.6,1085.1 L107.3,1085.6 L108.3,1085.4 L109.4,1084.7 L110.6,1083.8 L111.8,1083.0 L112.8,1082.6 L113.6,1082.8 L114.1,1083.7 L114.4,1085.1 L114.7,1086.6 L114.9,1088.0 L115.4,1088.8 L116.2,1089.1 L117.2,1088.7 L118.4,1087.9 L119.7,1087.0 L120.8,1086.3 L121.8,1086.2 L122.4,1086.7 L122.8,1087.8 L123.1,1089.3 L123.3,1090.8 L123.6,1092.0 L124.2,1092.7 L125.1,1092.7 L126.2,1092.1 L127.5,1091.2 L128.7,1090.4 L129.8,1089.8 L130.6,1089.9 L131.2,1090.7 L131.5,1091.9 L131.7,1093.5 L132.0,1094.9 L132.4,1095.9 L133.2,1096.3 L134.1,1096.1 L135.3,1095.3 L136.5,1094.4 L137.7,1093.6 L138.7,1093.3 L139.4,1093.6 L139.9,1094.5 L140.2,1095.9 L140.5,1097.4 L140.9,1098.7 L141.5,1099.5 L142.3,1099.6 L143.3,1099.1 L144.5,1098.2 L145.7,1097.2 L146.7,1096.4 L147.6,1096.2 L148.2,1096.7 L148.7,1097.8 L149.2,1099.3 L149.7,1100.7 L150.3,1101.8 L151.1,1102.2 L152.0,1102.0 L153.0,1101.1 L153.9,1099.9 L154.8,1098.7 L155.6,1097.9 L156.3,1097.8 L157.0,1098.3 L157.8,1099.3 L158.8,1100.6 L159.8,1101.7 L160.8,1102.2 L161.6,1102.0 L162.3,1101.1 L162.8,1099.8 L163.1,1098.3 L163.4,1096.9 L163.8,1096.1 L164.5,1095.9 L165.5,1096.3 L166.8,1097.0 L168.2,1097.7 L169.4,1098.2 L170.3,1098.2 L170.9,1097.6 L171.1,1096.5 L171.2,1095.0 L171.3,1093.4 L171.5,1092.2 L172.2,1091.5 L173.1,1091.5 L174.3,1092.1 L175.5,1093.0 L176.7,1093.8 L177.8,1094.3 L178.7,1094.2 L179.2,1093.4 L179.5,1092.1 L179.7,1090.6 L179.9,1089.1 L180.3,1088.1 L181.0,1087.7 L182.0,1088.0 L183.2,1088.6 L184.5,1089.5 L185.7,1090.2 L186.7,1090.4 L187.4,1090.0 L187.8,1088.9 L188.0,1087.5 L188.1,1086.0 L188.4,1084.6 L188.8,1083.8 L189.7,1083.7 L190.8,1084.1 L192.0,1084.8 L193.2,1085.7" fill="none" stroke="#3a3f58" stroke-width="1.7"/>
<path d="M144.0,1136.6 L145.4,1137.1 L146.7,1137.3 L147.5,1136.9 L147.8,1136.0 L147.7,1134.7 L147.4,1133.2 L147.1,1131.8 L147.1,1130.6 L147.6,1130.0 L148.6,1129.8 L149.9,1130.0 L151.4,1130.5 L152.8,1130.8 L153.9,1130.8 L154.4,1130.3 L154.6,1129.3 L154.4,1127.9 L154.1,1126.3 L154.0,1124.9 L154.3,1124.0 L155.0,1123.5 L156.2,1123.6 L157.6,1124.1 L159.0,1124.7 L160.2,1125.1 L161.1,1125.1 L161.6,1124.4 L161.8,1123.3 L161.8,1121.8 L161.8,1120.3 L162.1,1119.0 L162.8,1118.3 L163.7,1118.3 L164.9,1118.9 L166.1,1119.8 L167.2,1120.8 L168.2,1121.4 L168.9,1121.4 L169.4,1120.8 L170.0,1119.7 L170.7,1118.3 L171.5,1117.1 L172.4,1116.3 L173.3,1116.3 L174.1,1117.0 L174.8,1118.2 L175.4,1119.6 L176.1,1120.9 L176.7,1121.6 L177.5,1121.7 L178.4,1121.1 L179.4,1120.1 L180.5,1118.9 L181.5,1118.1 L182.4,1117.8 L183.1,1118.2 L183.7,1119.2 L184.2,1120.6 L184.6,1122.1 L185.1,1123.3 L185.8,1123.8 L186.7,1123.7 L187.7,1123.0 L188.8,1122.0 L189.9,1121.0 L190.9,1120.3 L191.7,1120.3 L192.4,1120.9 L192.9,1122.1 L193.3,1123.6 L193.8,1125.0 L194.4,1125.9 L195.2,1126.2 L196.2,1125.8 L197.2,1124.9 L198.2,1123.7 L199.1,1122.7 L200.0,1122.1 L200.7,1122.2 L201.4,1122.9 L202.1,1124.2 L202.9,1125.5 L203.8,1126.5 L204.8,1127.0 L205.6,1126.7 L206.3,1125.7 L206.9,1124.4 L207.3,1122.9 L207.8,1121.7 L208.3,1121.1 L209.1,1121.1 L210.1,1121.7 L211.4,1122.6 L212.7,1123.4 L213.8,1123.8 L214.7,1123.7 L215.3,1122.9 L215.5,1121.6 L215.4,1120.0 L215.4,1118.6 L215.6,1117.4 L216.2,1116.9 L217.1,1116.9 L218.4,1117.3 L219.8,1117.9 L221.2,1118.5 L222.2,1118.6 L222.9,1118.2 L223.1,1117.2 L223.2,1115.8 L223.1,1114.2 L223.3,1112.8 L223.7,1111.9 L224.4,1111.6 L225.5,1111.9 L226.8,1112.6 L228.2,1113.3 L229.4,1113.8 L230.3,1113.8 L230.9,1113.2 L231.1,1112.0 L231.2,1110.5 L231.2,1109.0 L231.4,1107.7 L231.9,1107.0 L232.7,1106.9 L233.9,1107.4 L235.3,1108.1 L236.6,1108.7 L237.8,1109.0 L238.6,1108.7 L239.0,1107.9 L239.1,1106.6 L239.0,1105.0 L239.1,1103.6 L239.4,1102.5 L240.0,1102.0 L241.0,1102.1 L242.3,1102.7 L243.7,1103.4 L245.0,1103.9 L246.0,1104.0 L246.6,1103.5 L246.6,1102.7" fill="none" stroke="#3a3f58" stroke-width="1.7"/>
<path d="M80.0,1137.0 L80.3,1138.5 L80.7,1139.6 L81.3,1140.2 L82.2,1140.1 L83.3,1139.4 L84.6,1138.5 L85.8,1137.6 L86.8,1137.2 L87.6,1137.3 L88.2,1138.1 L88.5,1139.5 L88.7,1141.0 L89.1,1142.4 L89.5,1143.3 L90.3,1143.7 L91.3,1143.3 L92.4,1142.5 L93.7,1141.6 L94.8,1140.8 L95.8,1140.5 L96.5,1140.9 L96.9,1141.9 L97.3,1143.4 L97.6,1144.9 L98.0,1146.1 L98.6,1146.8 L99.4,1146.9 L100.5,1146.3 L101.6,1145.4 L102.8,1144.4 L103.9,1143.8 L104.7,1143.7 L105.4,1144.3 L105.8,1145.5 L106.2,1147.0 L106.5,1148.4 L107.1,1149.5 L107.8,1149.9 L108.7,1149.7 L109.8,1148.9 L110.9,1147.8 L112.0,1146.9 L113.0,1146.4 L113.8,1146.6 L114.4,1147.4 L114.8,1148.7 L115.2,1150.2 L115.7,1151.6 L116.2,1152.4 L117.0,1152.6 L118.0,1152.1 L119.1,1151.1 L120.3,1150.1 L121.3,1149.3 L122.2,1149.0 L122.9,1149.4 L123.5,1150.5 L123.9,1151.9 L124.3,1153.4 L124.8,1154.6 L125.5,1155.1 L126.4,1155.0 L127.4,1154.3 L128.5,1153.3 L129.6,1152.3 L130.6,1151.6 L131.4,1151.6 L132.1,1152.2 L132.6,1153.4 L133.0,1154.9 L133.5,1156.3 L134.1,1157.2 L134.9,1157.5 L135.8,1157.2 L136.8,1156.2 L137.9,1155.1 L138.9,1154.1 L139.8,1153.7 L140.6,1153.8 L141.2,1154.7 L141.8,1156.0 L142.3,1157.5 L143.0,1158.7 L143.7,1159.3 L144.5,1159.3 L145.4,1158.6 L146.4,1157.5 L147.4,1156.3 L148.2,1155.4 L149.0,1155.0 L149.8,1155.3 L150.5,1156.3 L151.2,1157.6 L152.0,1158.9 L152.9,1159.8 L153.8,1160.1 L154.6,1159.6 L155.3,1158.5 L156.0,1157.1 L156.6,1155.7 L157.1,1154.8 L157.8,1154.5 L158.7,1154.8 L159.7,1155.7 L160.8,1156.8 L162.0,1157.7 L163.0,1158.1 L163.8,1157.8 L164.4,1156.9 L164.7,1155.5 L164.9,1153.9 L165.2,1152.6 L165.6,1151.7 L166.4,1151.5 L167.4,1151.9 L168.7,1152.6 L170.0,1153.4 L171.1,1154.0 L172.1,1154.1 L172.7,1153.5 L173.0,1152.4 L173.2,1150.9 L173.4,1149.4 L173.7,1148.2 L174.4,1147.6 L175.2,1147.6 L176.3,1148.2 L177.6,1149.0 L178.9,1149.8 L180.0,1150.3 L180.8,1150.1 L181.3,1149.3 L181.5,1147.9 L181.6,1146.4 L181.8,1145.0 L182.1,1143.9 L182.8,1143.5 L183.8,1143.7 L185.0,1144.3 L186.4,1145.0 L187.6,1145.6 L188.6,1145.8 L189.3,1145.3 L189.6,1144.3 L189.7,1142.8 L189.7,1141.3 L189.9,1139.9 L190.3,1139.1 L191.1,1138.9 L192.3,1139.2 L193.6,1139.9" fill="none" stroke="#3a3f58" stroke-width="1.7"/>
<path d="M145.2,1216.0 L146.7,1215.8 L147.9,1215.4 L148.5,1214.8 L148.4,1213.9 L147.8,1212.7 L146.9,1211.5 L146.0,1210.3 L145.5,1209.3 L145.7,1208.5 L146.5,1207.9 L147.8,1207.6 L149.3,1207.3 L150.7,1207.0 L151.7,1206.6 L152.0,1205.9 L151.7,1204.9 L151.0,1203.7 L150.1,1202.4 L149.4,1201.2 L149.2,1200.2 L149.6,1199.5 L150.7,1199.1 L152.1,1198.9 L153.7,1198.8 L154.9,1198.6 L155.7,1198.1 L155.9,1197.3 L155.5,1196.2 L154.8,1194.9 L154.1,1193.5 L153.7,1192.3 L153.9,1191.4 L154.7,1190.9 L156.0,1190.8 L157.5,1191.0 L159.0,1191.2 L160.1,1191.1 L160.7,1190.8 L160.9,1189.9 L160.7,1188.6 L160.4,1187.1 L160.3,1185.6 L160.6,1184.5 L161.2,1184.0 L162.3,1184.0 L163.6,1184.6 L165.0,1185.3 L166.2,1185.9 L167.2,1186.1 L167.8,1185.7 L168.2,1184.7 L168.4,1183.3 L168.6,1181.8 L168.9,1180.5 L169.5,1179.7 L170.4,1179.6 L171.4,1180.1 L172.6,1181.0 L173.8,1182.0 L174.9,1182.7 L175.7,1182.8 L176.4,1182.2 L176.8,1181.1 L177.2,1179.6 L177.6,1178.1 L178.1,1177.1 L178.9,1176.6 L179.8,1176.8 L180.8,1177.6 L181.9,1178.7 L183.0,1179.6 L184.0,1180.2 L184.8,1180.1 L185.4,1179.3 L185.9,1178.0 L186.3,1176.5 L186.8,1175.1 L187.3,1174.3 L188.1,1174.1 L189.1,1174.5 L190.2,1175.4 L191.3,1176.5 L192.3,1177.3 L193.2,1177.7 L193.9,1177.4 L194.5,1176.4 L195.0,1175.0 L195.6,1173.6 L196.2,1172.5 L197.0,1171.9 L197.8,1172.1 L198.8,1172.9 L199.7,1174.1 L200.7,1175.2 L201.6,1176.1 L202.4,1176.3 L203.1,1175.7 L203.8,1174.6 L204.5,1173.2 L205.1,1171.9 L205.7,1171.0 L206.5,1170.7 L207.3,1171.1 L208.3,1172.1 L209.3,1173.2 L210.4,1174.2 L211.4,1174.7 L212.2,1174.6 L212.8,1173.7 L213.3,1172.3 L213.6,1170.8 L213.9,1169.5 L214.3,1168.7 L215.0,1168.4 L216.0,1168.8 L217.3,1169.4 L218.7,1170.1 L220.0,1170.4 L221.0,1170.2 L221.5,1169.4 L221.5,1168.2 L221.2,1166.7 L220.8,1165.3 L220.6,1164.1 L220.9,1163.3 L221.7,1162.9 L222.9,1163.0 L224.4,1163.2 L225.9,1163.3 L227.1,1163.2 L227.8,1162.7 L227.8,1161.7 L227.5,1160.4 L226.8,1159.0 L226.3,1157.7 L226.1,1156.6 L226.5,1155.9 L227.5,1155.6 L228.9,1155.6 L230.4,1155.6 L231.8,1155.6 L232.8,1155.2 L233.2,1154.5 L233.0,1153.5 L232.4,1152.1 L231.8,1150.7 L231.4,1149.4 L231.5,1148.5" fill="none" stroke="#3a3f58" stroke-width="1.7"/>
</g>
<rect x="84.2" y="597.1" width="657.2" height="619.1" fill="none" stroke="#111" stroke-width="2.3"/>
<circle cx="156" cy="761.2" r="15.7" fill="#1c7db5"/>
<path d="M157.8,752.9000000000001 V769.0 M157.8,752.9000000000001 L151.8,756.0" stroke="#fff" stroke-width="2.8" fill="none" stroke-linejoin="round"/>
<circle cx="229.9" cy="874" r="15.7" fill="#1c7db5"/>
<text x="230.5" y="882.2" font-size="24" fill="#fff" stroke="#fff" stroke-width="0.35" text-anchor="middle">2</text>
<circle cx="320" cy="997.6" r="15.7" fill="#1c7db5"/>
<text x="320.6" y="1005.8000000000001" font-size="24" fill="#fff" stroke="#fff" stroke-width="0.35" text-anchor="middle">3</text>
<path d="M230.5,761.7 L230.6,762.0 L230.7,762.3 L230.8,762.7 L230.9,763.2 L231.0,763.7 L231.1,764.2 L231.3,764.8 L231.4,765.4 L231.6,766.0 L231.8,766.7 L232.0,767.4 L232.3,768.1 L232.6,768.9 L232.8,769.7 L233.1,770.7 L233.4,771.7 L233.6,772.7 L234.0,773.7 L234.3,774.7 L234.7,775.7 L235.2,776.7 L235.7,777.6 L236.2,778.4 L236.9,779.1 L237.6,779.7 L238.4,780.3 L239.3,780.8 L240.3,781.3 L241.2,781.7 L242.3,782.1 L243.3,782.4 L244.4,782.7 L245.5,783.0 L246.7,783.3 L247.8,783.5 L248.9,783.7 L250.0,783.9 L251.2,784.0 L252.4,784.1 L253.6,784.2 L254.8,784.2 L256.0,784.2 L257.3,784.2 L258.5,784.1 L259.8,784.1 L261.0,784.0 L262.3,783.8 L263.5,783.7 L264.7,783.5 L266.0,783.3 L267.3,783.0 L268.6,782.7 L269.9,782.4 L271.2,782.1 L272.5,781.7 L273.7,781.4 L274.9,781.0 L276.1,780.7 L277.2,780.3 L278.2,780.0 L279.2,779.7 L280.1,779.4 L281.1,779.2 L281.9,779.0 L282.8,778.7 L283.6,778.5 L284.4,778.2 L285.1,777.9 L285.7,777.6 L286.4,777.3 L286.9,776.9 L287.4,776.4 L287.8,775.9 L288.2,775.2 L288.5,774.6 L288.7,773.8 L288.9,773.1 L289.0,772.3 L289.1,771.5 L289.1,770.8 L289.2,770.0 L289.2,769.3 L289.2,768.7 L289.2,768.1 L289.2,767.6 L289.2,767.1 L289.1,766.6 L289.1,766.2 L289.0,765.7 L288.9,765.3 L288.7,765.0 L288.5,764.6 L288.3,764.3 L288.1,764.0 L287.8,763.7 L287.4,763.5 L287.0,763.3 L286.6,763.1 L286.2,763.0 L285.8,762.9 L285.3,762.8 L284.7,762.8 L284.1,762.7 L283.5,762.7 L282.7,762.7 L281.9,762.7 L281.0,762.6 L280.0,762.6 L278.9,762.6 L277.6,762.6 L276.2,762.6 L274.7,762.6 L273.2,762.6 L271.5,762.6 L269.9,762.6 L268.2,762.6 L266.5,762.6 L264.9,762.6 L263.3,762.6 L261.7,762.6 L260.2,762.6 L258.6,762.5 L257.0,762.4 L255.4,762.3 L253.8,762.2 L252.2,762.1 L250.6,762.1 L249.0,762.0 L247.5,761.9 L246.0,761.8 L244.6,761.7 L243.3,761.7 L242.0,761.7 L240.7,761.6 L239.4,761.6 L238.1,761.6 L236.9,761.6 L235.8,761.6 L234.6,761.7 L233.6,761.7 L232.7,761.7 L231.8,761.7 L231.1,761.7 L230.5,761.7Z" fill="#a9d4e5" stroke="#88b3c6" stroke-width="0.8"/>
<path d="M231.4,755.3 L231.5,754.8 L231.5,754.3 L231.6,753.6 L231.7,752.8 L231.8,751.9 L231.9,751.0 L232.0,750.1 L232.2,749.2 L232.4,748.4 L232.6,747.5 L232.9,746.8 L233.3,746.1 L233.7,745.5 L234.2,745.0 L234.7,744.5 L235.2,744.0 L235.8,743.6 L236.4,743.2 L237.0,742.8 L237.7,742.4 L238.4,742.0 L239.1,741.5 L239.8,741.1 L240.6,740.6 L241.4,740.1 L242.2,739.6 L243.1,739.0 L244.0,738.5 L245.0,737.9 L245.9,737.4 L246.9,736.8 L247.9,736.3 L248.8,735.7 L249.8,735.2 L250.7,734.7 L251.6,734.2 L252.5,733.7 L253.3,733.2 L254.2,732.7 L255.0,732.2 L255.8,731.7 L256.7,731.3 L257.5,730.8 L258.3,730.4 L259.1,730.0 L260.0,729.7 L260.8,729.4 L261.7,729.1 L262.6,728.9 L263.5,728.7 L264.4,728.6 L265.4,728.5 L266.4,728.4 L267.3,728.4 L268.3,728.3 L269.2,728.4 L270.1,728.4 L271.0,728.5 L271.9,728.6 L272.7,728.7 L273.5,728.8 L274.3,729.0 L275.1,729.2 L275.8,729.5 L276.6,729.7 L277.3,730.0 L278.0,730.3 L278.7,730.7 L279.3,731.0 L279.9,731.4 L280.5,731.9 L281.0,732.3 L281.5,732.8 L281.9,733.3 L282.2,733.8 L282.5,734.4 L282.8,735.0 L283.1,735.6 L283.3,736.3 L283.6,737.0 L283.8,737.6 L284.0,738.3 L284.3,739.0 L284.6,739.7 L284.9,740.4 L285.3,741.2 L285.6,741.9 L286.0,742.7 L286.3,743.5 L286.7,744.4 L287.0,745.2 L287.3,746.0 L287.6,746.8 L287.9,747.5 L288.1,748.2 L288.3,748.9 L288.4,749.5 L288.6,750.1 L288.6,750.7 L288.7,751.3 L288.7,751.8 L288.8,752.3 L288.7,752.8 L288.7,753.3 L288.6,753.8 L288.6,754.3 L288.4,754.8 L288.3,755.3 L288.2,755.8 L288.1,756.3 L288.1,756.9 L288.1,757.4 L288.0,757.9 L287.9,758.4 L287.7,758.9 L287.4,759.4 L287.0,759.8 L286.4,760.2 L285.6,760.5 L284.6,760.8 L283.4,761.0 L281.9,761.2 L280.2,761.3 L278.4,761.4 L276.4,761.4 L274.4,761.4 L272.2,761.4 L270.0,761.3 L267.9,761.3 L265.7,761.3 L263.7,761.2 L261.7,761.2 L259.7,761.2 L257.7,761.2 L255.6,761.2 L253.5,761.2 L251.4,761.2 L249.3,761.2 L247.2,761.2 L245.3,761.1 L243.4,761.0 L241.7,760.9 L240.2,760.7 L238.8,760.5 L237.6,760.2 L236.6,759.8 L235.7,759.4 L234.9,758.9 L234.2,758.4 L233.7,757.9 L233.2,757.3 L232.7,756.8 L232.4,756.3 L232.0,755.9 L231.7,755.6 L231.4,755.3Z" fill="#a9d9b5" stroke="#86b894" stroke-width="0.8"/>
<path d="M229.1,760.3 L229.6,760.2 L230.2,760.0 L230.9,759.8 L231.6,759.5 L232.5,759.2 L233.4,758.9 L234.3,758.7 L235.3,758.5 L236.2,758.3 L237.1,758.3 L238.0,758.3 L238.8,758.5 L239.6,758.9 L240.4,759.4 L241.1,760.1 L241.9,760.9 L242.7,761.7 L243.4,762.6 L244.2,763.5 L244.9,764.3 L245.7,765.0 L246.4,765.6 L247.2,766.1 L247.9,766.3 L248.6,766.3 L249.3,766.1 L250.0,765.7 L250.7,765.1 L251.4,764.5 L252.1,763.8 L252.8,763.2 L253.5,762.5 L254.2,762.0 L254.8,761.5 L255.5,761.3 L256.2,761.2 L256.9,761.4 L257.6,761.8 L258.3,762.3 L258.9,763.0 L259.6,763.8 L260.3,764.6 L261.0,765.4 L261.7,766.1 L262.3,766.8 L263.0,767.3 L263.7,767.6 L264.4,767.7 L265.1,767.5 L265.8,767.1 L266.5,766.6 L267.2,765.8 L267.9,765.0 L268.5,764.2 L269.2,763.3 L269.9,762.4 L270.6,761.7 L271.3,761.0 L272.0,760.6 L272.7,760.3 L273.4,760.3 L274.1,760.5 L274.8,760.8 L275.5,761.3 L276.2,761.9 L276.9,762.5 L277.5,763.0 L278.2,763.6 L278.9,764.0 L279.6,764.3 L280.3,764.5 L281.0,764.4 L281.7,764.1 L282.4,763.5 L283.0,762.7 L283.7,761.8 L284.4,760.9 L285.0,759.8 L285.7,758.8 L286.4,757.8 L287.1,756.9 L287.8,756.2 L288.5,755.6 L289.2,755.3 L289.9,755.2 L290.7,755.4 L291.5,755.8 L292.3,756.3 L293.1,757.0 L293.9,757.6 L294.7,758.3 L295.5,758.9 L296.3,759.4 L297.0,759.8 L297.7,760.0 L298.4,759.9 L299.0,759.5 L299.6,758.9 L300.1,758.2 L300.6,757.2 L301.1,756.2 L301.5,755.1 L302.0,754.0 L302.5,752.9 L303.0,752.0 L303.6,751.2 L304.1,750.6 L304.8,750.2 L305.5,750.1 L306.3,750.3 L307.2,750.6 L308.1,751.1 L309.0,751.7 L309.9,752.4 L310.8,753.0 L311.7,753.6 L312.6,754.1 L313.4,754.4 L314.2,754.5 L314.9,754.4 L315.5,754.0 L316.0,753.3 L316.5,752.4 L316.9,751.4 L317.3,750.3 L317.7,749.1 L318.1,747.9 L318.5,746.8 L318.9,745.8 L319.3,744.9 L319.8,744.2 L320.4,743.8 L321.0,743.7 L321.7,743.8 L322.5,744.1 L323.2,744.6 L324.0,745.1 L324.8,745.8 L325.6,746.4 L326.4,747.0 L327.2,747.5 L328.0,747.8 L328.8,748.0 L329.5,747.9 L330.2,747.6 L330.8,747.0 L331.5,746.2 L332.1,745.3 L332.7,744.3 L333.3,743.3 L333.9,742.2 L334.5,741.2 L335.2,740.4 L335.8,739.6 L336.4,739.1 L337.1,738.8 L337.8,738.7 L338.5,738.9 L339.2,739.3 L339.9,739.9 L340.7,740.5 L341.4,741.2 L342.2,741.9 L342.9,742.6 L343.7,743.1 L344.4,743.5 L345.1,743.8 L345.8,743.8 L346.5,743.5 L347.2,742.9 L347.8,742.2 L348.5,741.3 L349.1,740.3 L349.8,739.3 L350.4,738.3 L351.1,737.3 L351.8,736.5 L352.4,735.8 L353.1,735.3 L353.8,735.0 L354.4,735.0 L355.1,735.3 L355.8,735.7 L356.5,736.3 L357.2,737.0 L357.9,737.8 L358.6,738.6 L359.3,739.3 L360.0,739.9 L360.7,740.4 L361.4,740.7 L362.1,740.8 L362.8,740.6 L363.5,740.2 L364.2,739.6 L364.9,738.9 L365.5,738.0 L366.2,737.2 L366.9,736.3 L367.6,735.5 L368.3,734.8 L369.0,734.2 L369.7,733.9 L370.4,733.8 L371.1,733.9 L371.8,734.3 L372.6,734.9 L373.3,735.7 L374.1,736.5 L374.8,737.4 L375.5,738.3 L376.3,739.2 L377.0,740.0 L377.8,740.6 L378.5,741.0 L379.2,741.2 L379.9,741.2 L380.6,740.9 L381.3,740.4 L382.0,739.8 L382.7,739.0 L383.4,738.3 L384.1,737.5 L384.8,736.8 L385.5,736.2 L386.1,735.7 L386.8,735.4 L387.5,735.4 L388.2,735.6 L388.8,736.1 L389.5,736.8 L390.1,737.6 L390.8,738.5 L391.4,739.5 L392.1,740.4 L392.7,741.4 L393.4,742.2 L394.1,742.9 L394.7,743.4 L395.4,743.8 L396.1,743.8 L396.8,743.6 L397.5,743.3 L398.1,742.8 L398.8,742.3 L399.5,741.7 L400.2,741.1 L400.9,740.5 L401.7,740.0 L402.4,739.7 L403.1,739.5 L403.8,739.6 L404.4,739.9 L405.1,740.4 L405.8,741.2 L406.6,742.0 L407.3,742.9 L408.0,743.9 L408.7,744.9 L409.4,745.8 L410.0,746.7 L410.7,747.4 L411.4,748.0 L412.1,748.3 L412.8,748.4 L413.5,748.3 L414.2,748.0 L414.9,747.7 L415.6,747.2 L416.3,746.7 L417.0,746.2 L417.6,745.7 L418.3,745.3 L418.9,745.0 L419.5,744.9 L420.0,745.0 L420.5,745.3 L421.0,745.8 L421.5,746.5 L421.9,747.2 L422.4,748.1 L422.8,748.9 L423.2,749.8 L423.5,750.7 L423.9,751.5 L424.1,752.3 L424.4,752.9 L424.6,753.3" fill="none" stroke="#2b2f52" stroke-width="2.2" stroke-linecap="round"/>
<path d="M232.8,745.6 L263.5,775.9 M263.5,744.7 L232.3,776.4" stroke="#c45450" stroke-width="3.7" stroke-linecap="round"/>
<path d="M287.7,876.0 L287.9,876.7 L288.2,877.7 L288.4,878.8 L288.7,880.1 L289.0,881.5 L289.4,882.9 L289.8,884.4 L290.3,885.8 L290.8,887.1 L291.4,888.3 L292.0,889.4 L292.7,890.2 L293.5,890.9 L294.3,891.4 L295.3,891.8 L296.3,892.2 L297.3,892.4 L298.4,892.6 L299.6,892.7 L300.7,892.8 L301.9,892.9 L303.1,893.0 L304.3,893.0 L305.4,893.1 L306.6,893.2 L307.8,893.2 L309.0,893.2 L310.3,893.1 L311.6,893.1 L312.9,893.0 L314.2,892.9 L315.4,892.7 L316.7,892.6 L317.8,892.4 L319.0,892.2 L320.0,892.0 L321.0,891.8 L321.9,891.6 L322.8,891.3 L323.7,891.1 L324.5,890.8 L325.3,890.6 L326.0,890.2 L326.8,889.9 L327.5,889.5 L328.2,889.1 L328.8,888.6 L329.5,888.1 L330.2,887.5 L330.9,886.9 L331.6,886.2 L332.2,885.4 L332.9,884.6 L333.5,883.8 L334.1,883.0 L334.6,882.1 L335.1,881.3 L335.4,880.5 L335.7,879.7 L335.9,878.9 L336.0,878.1 L336.0,877.3 L335.9,876.5 L335.8,875.7 L335.5,874.8 L335.3,874.0 L334.9,873.2 L334.5,872.4 L334.0,871.7 L333.5,871.1 L332.9,870.5 L332.3,870.0 L331.6,869.6 L330.8,869.2 L330.0,869.0 L329.1,868.7 L328.2,868.6 L327.2,868.4 L326.1,868.3 L325.0,868.3 L323.8,868.2 L322.6,868.1 L321.3,868.1 L320.0,868.0 L318.6,867.9 L317.0,867.8 L315.4,867.7 L313.6,867.6 L311.8,867.5 L310.0,867.4 L308.2,867.3 L306.4,867.3 L304.6,867.4 L303.0,867.5 L301.4,867.7 L300.0,868.0 L298.7,868.4 L297.4,869.0 L296.1,869.6 L294.9,870.4 L293.7,871.2 L292.6,872.0 L291.6,872.8 L290.6,873.6 L289.7,874.4 L288.9,875.0 L288.3,875.6 L287.7,876.0Z" fill="#a9d4e5" stroke="#88b3c6" stroke-width="0.8"/>
<path d="M286.3,867.6 L286.4,867.1 L286.6,866.5 L286.7,865.8 L286.9,865.0 L287.1,864.1 L287.3,863.2 L287.5,862.2 L287.8,861.3 L288.0,860.4 L288.3,859.5 L288.7,858.7 L289.0,858.0 L289.4,857.4 L289.7,856.8 L290.2,856.2 L290.6,855.7 L291.0,855.2 L291.5,854.8 L292.0,854.3 L292.5,853.9 L293.0,853.4 L293.6,853.0 L294.2,852.5 L294.8,852.0 L295.4,851.5 L296.1,851.0 L296.8,850.4 L297.6,849.8 L298.4,849.3 L299.1,848.7 L299.9,848.2 L300.8,847.7 L301.6,847.2 L302.4,846.8 L303.2,846.4 L304.0,846.0 L304.8,845.7 L305.6,845.4 L306.5,845.2 L307.3,845.0 L308.2,844.8 L309.0,844.6 L309.9,844.5 L310.7,844.4 L311.5,844.3 L312.3,844.2 L313.1,844.2 L313.9,844.2 L314.7,844.2 L315.4,844.3 L316.1,844.3 L316.9,844.4 L317.6,844.6 L318.3,844.7 L319.0,844.9 L319.7,845.1 L320.3,845.3 L320.9,845.5 L321.5,845.7 L322.0,846.0 L322.5,846.3 L322.9,846.5 L323.2,846.8 L323.6,847.1 L323.8,847.4 L324.1,847.7 L324.4,848.1 L324.6,848.5 L324.9,848.9 L325.2,849.4 L325.6,850.0 L326.0,850.6 L326.5,851.3 L327.0,852.1 L327.6,853.0 L328.2,854.0 L328.9,855.0 L329.5,856.0 L330.1,857.1 L330.7,858.1 L331.2,859.1 L331.7,860.1 L332.1,861.0 L332.3,861.9 L332.5,862.7 L332.6,863.5 L332.7,864.3 L332.7,865.0 L332.7,865.8 L332.6,866.5 L332.4,867.1 L332.2,867.8 L331.9,868.4 L331.5,869.0 L331.1,869.5 L330.5,870.0 L329.9,870.4 L329.1,870.8 L328.3,871.2 L327.3,871.5 L326.3,871.8 L325.3,872.0 L324.1,872.2 L323.0,872.4 L321.8,872.6 L320.5,872.7 L319.3,872.9 L318.0,873.0 L316.7,873.1 L315.2,873.2 L313.7,873.2 L312.2,873.2 L310.6,873.2 L309.0,873.2 L307.4,873.2 L305.8,873.1 L304.2,873.1 L302.7,873.0 L301.3,873.0 L300.0,873.0 L298.8,873.0 L297.5,873.1 L296.3,873.1 L295.2,873.2 L294.1,873.3 L293.0,873.3 L292.0,873.4 L291.0,873.4 L290.1,873.4 L289.3,873.3 L288.6,873.2 L288.0,873.0 L287.5,872.7 L287.1,872.3 L286.8,871.9 L286.6,871.4 L286.5,870.9 L286.4,870.3 L286.4,869.7 L286.4,869.2 L286.4,868.7 L286.4,868.2 L286.3,867.9 L286.3,867.6Z" fill="#a9d9b5" stroke="#86b894" stroke-width="0.8"/>
<path d="M277.1,880.3 L277.5,879.8 L277.9,879.2 L278.5,878.4 L279.0,877.5 L279.7,876.5 L280.4,875.6 L281.1,874.6 L281.9,873.7 L282.6,873.0 L283.4,872.4 L284.2,872.0 L284.9,871.8 L285.7,871.9 L286.5,872.3 L287.3,872.9 L288.1,873.7 L289.0,874.6 L289.9,875.6 L290.7,876.5 L291.6,877.4 L292.4,878.3 L293.2,878.9 L294.0,879.4 L294.8,879.6 L295.5,879.5 L296.2,879.2 L296.9,878.7 L297.5,878.0 L298.2,877.3 L298.8,876.5 L299.4,875.7 L300.0,874.9 L300.6,874.2 L301.3,873.7 L301.9,873.3 L302.6,873.2 L303.3,873.3 L304.0,873.7 L304.7,874.2 L305.4,874.9 L306.2,875.7 L306.9,876.5 L307.6,877.3 L308.3,878.1 L309.1,878.7 L309.8,879.2 L310.4,879.5 L311.1,879.6 L311.7,879.4 L312.4,878.9 L313.0,878.2 L313.5,877.3 L314.1,876.4 L314.7,875.4 L315.3,874.4 L315.8,873.4 L316.4,872.6 L317.0,871.9 L317.6,871.4 L318.2,871.1 L318.8,871.1 L319.5,871.5 L320.1,872.0 L320.8,872.7 L321.4,873.4 L322.1,874.3 L322.8,875.1 L323.4,875.8 L324.1,876.4 L324.7,876.9 L325.4,877.1 L326.0,877.0 L326.6,876.6 L327.2,875.8 L327.8,874.8 L328.3,873.7 L328.9,872.4 L329.5,871.0 L330.0,869.7 L330.6,868.4 L331.2,867.2 L331.8,866.3 L332.4,865.6 L333.0,865.2 L333.7,865.2 L334.3,865.5 L335.0,866.0 L335.7,866.7 L336.4,867.6 L337.2,868.6 L337.9,869.5 L338.6,870.4 L339.3,871.2 L340.1,871.9 L340.8,872.3 L341.5,872.5 L342.2,872.4 L342.8,872.0 L343.4,871.4 L343.9,870.6 L344.5,869.7 L345.1,868.8 L345.7,867.9 L346.4,867.1 L347.1,866.4 L348.0,865.9 L348.9,865.5 L350.0,865.5 L351.2,865.8 L352.6,866.2 L354.0,866.9 L355.5,867.8 L357.1,868.7 L358.8,869.8 L360.5,870.8 L362.3,871.9 L364.0,872.9 L365.8,873.9 L367.5,874.7 L369.2,875.4 L370.9,876.0 L372.6,876.5 L374.4,877.0 L376.1,877.5 L377.9,877.9 L379.7,878.3 L381.5,878.6 L383.3,878.9 L385.1,879.2 L386.8,879.4 L388.6,879.5 L390.4,879.6 L392.2,879.6 L394.0,879.6 L395.9,879.5 L397.8,879.4 L399.7,879.3 L401.6,879.0 L403.5,878.8 L405.3,878.5 L407.0,878.1 L408.6,877.7 L410.2,877.3 L411.6,876.8 L412.9,876.2 L414.0,875.6 L415.0,874.8 L415.9,873.9 L416.8,873.1 L417.6,872.2 L418.4,871.3 L419.2,870.4 L420.0,869.6 L420.9,868.8 L421.9,868.1 L423.0,867.6 L424.2,867.2 L425.6,866.8 L427.1,866.5 L428.7,866.3 L430.3,866.1 L431.9,866.0 L433.4,865.9 L434.9,865.8 L436.3,865.7 L437.5,865.6 L438.5,865.6 L439.3,865.5" fill="none" stroke="#2b3055" stroke-width="2.4" stroke-linecap="round"/>
<path d="M452.5,869.8 Q456,861 460,862.3 Q464,863 468.3,867.5 Q471,869 473.1,861.9" fill="none" stroke="#2b3055" stroke-width="2"/>
<path d="M455.5,878.8 Q459,873 462.3,874.3 Q466,875 472,882.5 Q476,883 479.5,878.4 Q482,880 484.8,886.3" fill="none" stroke="#2b3055" stroke-width="2"/>
<path d="M488.1,878 Q491,884 494.5,884 Q498,883 503.5,877.6 Q506,878 509.5,883.6" fill="none" stroke="#2b3055" stroke-width="2"/>
<circle cx="443.5" cy="867.5" r="1.5" fill="#2b3055"/>
<circle cx="445.4" cy="861.9" r="1.5" fill="#2b3055"/>
<circle cx="449.4" cy="864.4" r="1.5" fill="#2b3055"/>
<circle cx="478.4" cy="864.1" r="1.5" fill="#2b3055"/>
<circle cx="483.4" cy="861.5" r="1.5" fill="#2b3055"/>
<circle cx="485.4" cy="871.3" r="1.5" fill="#2b3055"/>
<circle cx="493.8" cy="869.8" r="1.5" fill="#2b3055"/>
<path d="M376.9,862.9 L371.7,888.4 L365.9,912.8 L363.3,912.2 L368.7,887.8 L375.5,862.5Z" fill="#a8363a"/>
<path d="M393.0,875.7 L370.9,888.9 L347.9,901.3 L346.7,899.1 L369.5,886.3 L392.4,874.5Z" fill="#a8363a"/>
<circle cx="366.4" cy="919.6" r="6.1" fill="none" stroke="#983a3e" stroke-width="1.7"/>
<circle cx="340.7" cy="900.6" r="5.9" fill="none" stroke="#983a3e" stroke-width="1.7"/>
<path d="M354.0,1011.0 L354.6,1011.1 L355.3,1011.2 L356.1,1011.4 L357.0,1011.5 L358.0,1011.7 L359.1,1011.9 L360.3,1012.1 L361.4,1012.3 L362.6,1012.5 L363.7,1012.6 L364.9,1012.8 L366.0,1013.0 L367.1,1013.2 L368.2,1013.4 L369.4,1013.6 L370.6,1013.8 L371.8,1014.1 L373.0,1014.3 L374.2,1014.5 L375.4,1014.7 L376.6,1014.8 L377.8,1014.9 L378.9,1015.0 L380.0,1015.0 L381.1,1014.9 L382.1,1014.8 L383.2,1014.6 L384.2,1014.4 L385.2,1014.1 L386.2,1013.8 L387.2,1013.5 L388.2,1013.2 L389.2,1013.0 L390.1,1012.7 L391.1,1012.5 L392.0,1012.4 L392.9,1012.3 L393.9,1012.2 L394.8,1012.1 L395.8,1012.0 L396.7,1011.9 L397.6,1011.8 L398.5,1011.8 L399.3,1011.8 L400.1,1011.9 L400.8,1012.0 L401.5,1012.2 L402.0,1012.4 L402.5,1012.7 L402.9,1013.1 L403.2,1013.6 L403.5,1014.1 L403.7,1014.7 L403.9,1015.3 L404.0,1015.9 L404.1,1016.5 L404.1,1017.2 L404.1,1017.8 L404.1,1018.4 L404.0,1019.0 L403.9,1019.6 L403.8,1020.2 L403.6,1020.8 L403.3,1021.4 L403.1,1022.0 L402.8,1022.7 L402.4,1023.3 L402.0,1023.9 L401.6,1024.5 L401.1,1025.0 L400.6,1025.5 L400.0,1026.0 L399.4,1026.4 L398.7,1026.9 L397.9,1027.3 L397.1,1027.7 L396.3,1028.0 L395.4,1028.4 L394.5,1028.7 L393.6,1029.0 L392.6,1029.3 L391.7,1029.5 L390.9,1029.8 L390.0,1030.0 L389.2,1030.2 L388.4,1030.4 L387.6,1030.5 L386.9,1030.7 L386.1,1030.8 L385.4,1030.9 L384.6,1030.9 L383.8,1031.0 L382.9,1031.0 L382.0,1031.0 L381.0,1031.0 L380.0,1031.0 L378.9,1030.9 L377.6,1030.9 L376.3,1030.8 L374.9,1030.7 L373.4,1030.5 L371.9,1030.4 L370.5,1030.2 L369.0,1030.0 L367.6,1029.8 L366.3,1029.5 L365.1,1029.3 L364.0,1029.0 L363.0,1028.7 L362.0,1028.4 L361.1,1028.0 L360.2,1027.6 L359.3,1027.2 L358.6,1026.8 L357.8,1026.3 L357.1,1025.9 L356.5,1025.4 L356.0,1024.9 L355.4,1024.5 L355.0,1024.0 L354.6,1023.5 L354.4,1023.1 L354.2,1022.6 L354.0,1022.1 L354.0,1021.6 L353.9,1021.1 L353.9,1020.6 L354.0,1020.1 L354.0,1019.6 L354.0,1019.1 L354.0,1018.5 L354.0,1018.0 L354.0,1017.4 L353.9,1016.8 L353.9,1016.2 L353.9,1015.5 L353.9,1014.8 L353.9,1014.1 L353.9,1013.5 L354.0,1012.9 L354.0,1012.3 L354.0,1011.8 L354.0,1011.3 L354.0,1011.0Z" fill="#a9d4e5" stroke="#88b3c6" stroke-width="0.8"/>
<path d="M353.0,1005.0 L353.0,1004.6 L353.1,1004.0 L353.1,1003.3 L353.1,1002.5 L353.1,1001.7 L353.2,1000.8 L353.2,999.9 L353.3,999.0 L353.4,998.2 L353.6,997.4 L353.8,996.6 L354.0,996.0 L354.3,995.4 L354.6,994.9 L355.0,994.4 L355.4,994.0 L355.8,993.5 L356.2,993.1 L356.7,992.7 L357.2,992.4 L357.7,992.0 L358.1,991.7 L358.6,991.3 L359.0,991.0 L359.4,990.7 L359.8,990.4 L360.2,990.2 L360.7,989.9 L361.1,989.7 L361.5,989.5 L361.9,989.3 L362.3,989.1 L362.8,988.8 L363.2,988.6 L363.6,988.3 L364.0,988.0 L364.4,987.6 L364.8,987.2 L365.2,986.8 L365.7,986.3 L366.1,985.9 L366.5,985.4 L366.9,984.9 L367.3,984.4 L367.8,984.0 L368.2,983.6 L368.6,983.3 L369.0,983.0 L369.4,982.8 L369.8,982.6 L370.2,982.5 L370.5,982.4 L370.9,982.3 L371.2,982.3 L371.6,982.2 L372.0,982.2 L372.5,982.2 L372.9,982.1 L373.4,982.1 L374.0,982.0 L374.6,981.9 L375.3,981.8 L376.0,981.6 L376.7,981.5 L377.5,981.3 L378.2,981.2 L379.0,981.0 L379.9,980.9 L380.7,980.7 L381.5,980.6 L382.2,980.6 L383.0,980.5 L383.8,980.5 L384.5,980.4 L385.3,980.4 L386.1,980.4 L387.0,980.4 L387.8,980.5 L388.5,980.5 L389.3,980.6 L390.0,980.7 L390.7,980.7 L391.4,980.9 L392.0,981.0 L392.6,981.2 L393.1,981.3 L393.6,981.5 L394.0,981.7 L394.5,981.9 L394.9,982.2 L395.3,982.4 L395.6,982.7 L396.0,983.0 L396.3,983.3 L396.7,983.6 L397.0,984.0 L397.3,984.4 L397.6,984.8 L397.9,985.2 L398.1,985.6 L398.4,986.1 L398.6,986.6 L398.9,987.1 L399.1,987.6 L399.3,988.1 L399.5,988.7 L399.8,989.4 L400.0,990.0 L400.3,990.7 L400.6,991.4 L400.9,992.2 L401.2,993.0 L401.6,993.9 L401.9,994.8 L402.2,995.6 L402.4,996.5 L402.7,997.4 L402.8,998.3 L403.0,999.2 L403.0,1000.0 L403.0,1000.9 L402.9,1001.8 L402.8,1002.7 L402.6,1003.7 L402.4,1004.6 L402.2,1005.5 L401.9,1006.4 L401.6,1007.3 L401.2,1008.1 L400.9,1008.8 L400.4,1009.5 L400.0,1010.0 L399.5,1010.4 L399.0,1010.8 L398.5,1011.0 L398.0,1011.2 L397.4,1011.3 L396.8,1011.4 L396.2,1011.5 L395.4,1011.5 L394.7,1011.4 L393.9,1011.4 L393.0,1011.4 L392.0,1011.4 L390.9,1011.4 L389.8,1011.3 L388.6,1011.2 L387.3,1011.1 L385.9,1010.9 L384.5,1010.8 L383.1,1010.6 L381.6,1010.5 L380.2,1010.3 L378.8,1010.2 L377.4,1010.1 L376.0,1010.0 L374.6,1010.0 L373.2,1010.0 L371.8,1010.0 L370.3,1010.1 L368.9,1010.2 L367.4,1010.2 L366.0,1010.3 L364.7,1010.3 L363.4,1010.3 L362.1,1010.3 L361.0,1010.2 L360.0,1010.0 L359.1,1009.7 L358.2,1009.4 L357.5,1009.0 L356.7,1008.5 L356.1,1008.0 L355.5,1007.5 L355.0,1007.0 L354.5,1006.5 L354.0,1006.0 L353.7,1005.6 L353.3,1005.3 L353.0,1005.0Z" fill="#a9d9b5" stroke="#86b894" stroke-width="0.8"/>
<path d="M364,1034 C350,1045 343,1058 344.5,1073" fill="none" stroke="#1e1e2a" stroke-width="2.3"/>
<path d="M339.5,1071 L349.5,1071 L345,1080 Z" fill="#1e1e2a"/>
<path d="M250,1126.5 C262,1126 275,1127.5 290,1127 C305,1126 315,1120 326,1111" fill="none" stroke="#1e1e2a" stroke-width="2.2"/>
<path d="M321.5,1109.5 L331.5,1107.5 L328.5,1116.5 Z" fill="#1e1e2a"/>
<path d="M317.7,1102.0 L319.0,1102.3 L320.3,1102.6 L321.4,1102.6 L322.3,1102.4 L323.0,1102.0 L323.4,1101.2 L323.6,1100.3 L323.7,1099.1 L323.6,1097.8 L323.5,1096.5 L323.4,1095.1 L323.5,1093.9 L323.7,1092.9 L324.2,1092.1 L324.9,1091.6 L325.8,1091.4 L326.9,1091.5 L328.1,1091.8 L329.3,1092.2 L330.6,1092.7 L331.8,1093.2 L332.8,1093.5 L333.7,1093.7 L334.4,1093.5 L335.0,1093.1 L335.5,1092.4 L335.9,1091.4 L336.3,1090.2 L336.6,1088.9 L337.1,1087.6 L337.6,1086.4 L338.2,1085.5 L338.9,1084.8 L339.7,1084.6 L340.6,1084.6 L341.5,1085.0 L342.5,1085.7 L343.5,1086.6 L344.5,1087.5 L345.5,1088.4 L346.4,1089.1 L347.2,1089.6 L348.0,1089.8 L348.8,1089.6 L349.5,1089.1 L350.2,1088.4 L350.9,1087.3 L351.6,1086.2 L352.3,1085.1 L353.1,1084.0 L354.0,1083.2 L354.8,1082.8 L355.7,1082.6 L356.6,1082.9 L357.4,1083.5 L358.1,1084.4 L358.8,1085.5 L359.5,1086.7 L360.1,1087.8 L360.7,1088.9 L361.4,1089.7 L362.0,1090.2 L362.8,1090.4 L363.6,1090.2 L364.5,1089.8 L365.4,1089.1 L366.5,1088.3 L367.5,1087.4 L368.6,1086.7 L369.7,1086.1 L370.6,1085.8 L371.5,1085.8 L372.2,1086.2 L372.9,1086.9 L373.4,1087.9 L373.8,1089.2 L374.1,1090.5 L374.4,1091.8 L374.6,1093.0 L374.9,1094.1 L375.3,1094.8 L375.9,1095.3 L376.6,1095.5 L377.6,1095.4 L378.7,1095.1 L380.0,1094.7 L381.2,1094.2 L382.5,1093.7 L383.6,1093.4 L384.6,1093.2 L385.4,1093.4 L386.1,1093.8 L386.6,1094.5 L386.9,1095.4 L387.1,1096.6 L387.4,1097.9 L387.6,1099.3 L387.8,1100.5 L388.2,1101.6 L388.6,1102.5 L389.2,1103.0 L390.0,1103.2 L390.9,1103.2 L392.0,1102.8 L393.2,1102.3 L394.4,1101.7 L395.6,1101.1 L396.8,1100.6 L397.8,1100.4 L398.7,1100.3 L399.4,1100.6 L400.0,1101.2 L400.4,1102.1 L400.8,1103.3 L401.0,1104.6 L401.3,1105.9 L401.6,1107.2 L401.9,1108.3 L402.5,1109.2 L403.1,1109.8 L403.9,1110.1 L404.8,1110.0 L405.9,1109.6 L407.0,1109.1 L408.1,1108.3 L409.2,1107.6 L410.3,1106.9 L411.2,1106.4 L412.1,1106.1 L412.9,1106.2 L413.6,1106.6 L414.2,1107.4 L414.8,1108.4 L415.2,1109.6 L415.7,1110.8 L416.2,1112.1 L416.8,1113.2 L417.4,1114.0 L418.1,1114.6 L418.9,1114.8 L419.8,1114.7 L420.8,1114.2 L421.7,1113.5 L422.7,1112.6 L423.7,1111.6 L424.6,1110.7 L425.5,1110.0 L426.3,1109.5 L427.1,1109.3 L427.8,1109.5 L428.5,1110.0 L429.2,1110.8 L430.0,1111.8 L430.8,1112.9 L431.6,1114.0 L432.4,1114.9 L433.3,1115.6 L434.2,1116.0 L435.1,1116.0 L436.0,1115.7 L436.7,1115.0 L437.4,1114.0 L438.0,1112.9 L438.6,1111.6 L439.2,1110.4 L439.7,1109.4 L440.3,1108.5 L440.9,1108.0 L441.7,1107.8 L442.5,1108.0 L443.4,1108.4 L444.5,1109.1 L445.5,1109.8 L446.7,1110.6 L447.8,1111.3 L448.8,1111.8 L449.8,1112.0 L450.6,1111.9 L451.3,1111.5 L451.9,1110.7 L452.4,1109.7 L452.7,1108.4 L453.0,1107.1 L453.4,1105.8 L453.7,1104.6 L454.2,1103.7 L454.7,1103.0 L455.4,1102.6 L456.2,1102.5 L457.1,1102.8 L458.2,1103.2 L459.4,1103.8 L460.6,1104.4 L461.8,1104.9 L463.0,1105.3 L464.0,1105.4 L464.9,1105.2 L465.5,1104.7 L466.0,1103.9 L466.3,1102.9 L466.5,1101.7 L466.6,1100.3 L466.7,1099.0 L466.8,1097.7 L467.1,1096.6 L467.5,1095.7 L468.0,1095.2 L468.8,1094.9 L469.8,1094.9 L470.9,1095.2 L472.1,1095.6 L473.4,1096.1 L474.6,1096.6 L475.8,1097.0 L476.8,1097.2 L477.6,1097.2 L478.3,1096.9 L478.8,1096.3 L479.2,1095.4 L479.5,1094.2 L479.8,1092.9 L480.1,1091.6 L480.6,1090.4 L481.1,1089.3 L481.7,1088.5 L482.5,1088.0 L483.3,1087.9 L484.2,1088.1 L485.2,1088.7 L486.2,1089.4" fill="none" stroke="#2b2f52" stroke-width="2.1"/>
<path d="M394.1,1064.7 L384.8,1074.0 L371.6,1074.0 L362.3,1064.7 L362.3,1051.5 L371.6,1042.2 L384.8,1042.2 L394.1,1051.5Z" fill="#f3b3b3"/>
<path d="M392.8,1064.1 L384.2,1072.7 L372.2,1072.7 L363.6,1064.1 L363.6,1052.1 L372.2,1043.5 L384.2,1043.5 L392.8,1052.1Z" fill="#c62026"/>
<text x="378.2" y="1062.3" font-size="11.5" font-weight="bold" fill="#fde6e6" stroke="#fde6e6" stroke-width="0.35" text-anchor="middle" textLength="25.5" lengthAdjust="spacingAndGlyphs">STOP</text>
<text x="0" y="0" font-size="36" fill="#4d4d4d" stroke="#4d4d4d" stroke-width="1.1" text-anchor="middle" transform="translate(407.5,1071.0) scale(0.86,1)">?</text>
<path d="M328.9,1154.6 L319.6,1163.9 L306.4,1163.9 L297.1,1154.6 L297.1,1141.4 L306.4,1132.1 L319.6,1132.1 L328.9,1141.4Z" fill="#f3b3b3"/>
<path d="M327.6,1154.0 L319.0,1162.6 L307.0,1162.6 L298.4,1154.0 L298.4,1142.0 L307.0,1133.4 L319.0,1133.4 L327.6,1142.0Z" fill="#c62026"/>
<text x="313" y="1152.2" font-size="11.5" font-weight="bold" fill="#fde6e6" stroke="#fde6e6" stroke-width="0.35" text-anchor="middle" textLength="25.5" lengthAdjust="spacingAndGlyphs">STOP</text>
<text x="0" y="0" font-size="36" fill="#4d4d4d" stroke="#4d4d4d" stroke-width="1.1" text-anchor="middle" transform="translate(343,1160.5) scale(0.86,1)">?</text>
</svg></body></html>
